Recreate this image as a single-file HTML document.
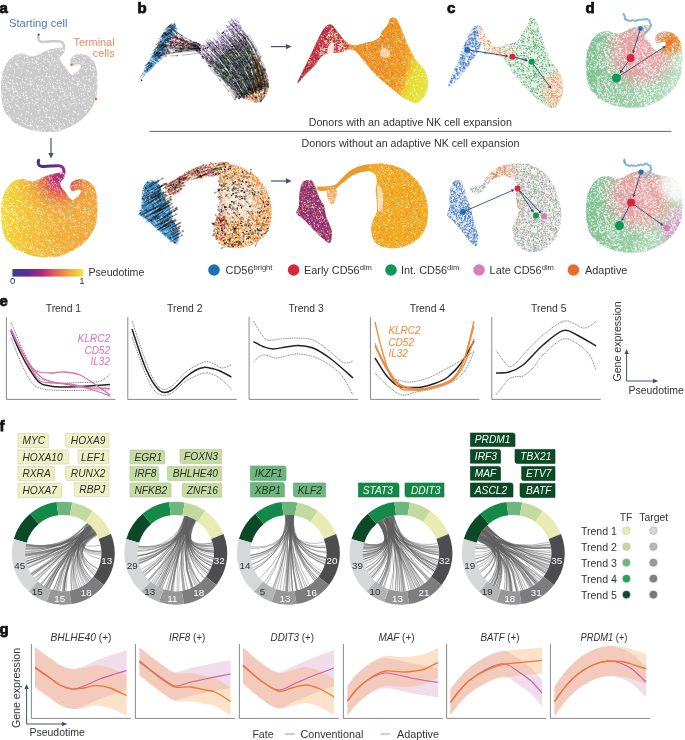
<!DOCTYPE html><html><head><meta charset="utf-8"><title>Figure</title><style>html,body{margin:0;padding:0;background:#fff;width:685px;height:740px;overflow:hidden}svg{display:block}</style></head><body><svg width="685" height="740" viewBox="0 0 685 740"><defs>
<pattern id="spk" width="47" height="41" patternUnits="userSpaceOnUse"><path d="M15.2,6.2h0M5.5,17.1h0M41.1,12.9h0M31.2,2.5h0M13.4,15.8h0M5.5,2.4h0M25.8,36.2h0M11,19.9h0M32.5,21.1h0M36.7,35.9h0M46,35.4h0M36.3,21.8h0M15.5,9.1h0M46.3,35h0M9.2,8.4h0M31,37.3h0M37.1,13.6h0M13.8,9.9h0M8.6,0.2h0M8.1,19.4h0M22.5,38.6h0M7.3,29.4h0M19.8,37.4h0M3.4,38.5h0M39.1,29h0M6.1,2.9h0M39.5,35.7h0M35.3,27h0M46.3,6.1h0M8.6,41.2h0" stroke="#fff" stroke-opacity="1" stroke-width="1.05" stroke-linecap="round" fill="none"/><path d="M3.4,22h0M38.4,7.4h0M30,15.3h0M31.4,31.3h0M27.9,23.8h0M39.5,38.7h0M6.1,10.2h0M41,3.3h0M40.6,11.4h0M12.3,0.2h0M11.9,14.2h0M25.5,1.1h0M32.5,39.2h0M42.3,34.5h0M45.7,16.2h0M45.6,26.6h0M42.8,14.5h0M27.4,37.1h0M43.1,20.6h0M24.6,0.8h0M26.2,13.4h0M36.3,20.8h0M35.7,37.4h0M28.8,20.7h0M32.6,18.5h0M6.4,5h0M10.3,39.1h0M7.6,17.7h0M33.9,0.8h0M2.7,28.2h0M3.1,35.4h0M12.6,5.3h0M38.5,17.7h0M39.2,16.1h0M21.6,6.5h0M17.9,19.5h0M12.4,3.7h0M10.9,24h0M12.3,41.2h0" stroke="#fff" stroke-opacity="1" stroke-width="0.9" stroke-linecap="round" fill="none"/><path d="M2.7,20.8h0M20.4,2.9h0M7.1,20h0M18.4,16.4h0M29.8,2.6h0M4.8,14.9h0M21.9,19.8h0M39,6.6h0M24.3,14.6h0M30.7,32.8h0M25.8,5.4h0M26.1,32.2h0M3.4,9.9h0M29.3,21h0M4.9,10.9h0M26.8,28.7h0M0.9,10.3h0M22.3,38.3h0M19,14.2h0M12,6.7h0M14.5,14.6h0M9.4,20.7h0" stroke="#fff" stroke-opacity="1" stroke-width="0.6" stroke-linecap="round" fill="none"/><path d="M20,33.9h0M2.2,35.2h0M6.8,4.8h0M3,2.4h0M32,17.5h0M27.5,18.6h0M37.3,28.7h0M1.1,18.9h0M7.1,7.2h0M9.8,6.7h0M2.5,0h0M41.1,25.2h0M4.8,14h0M44.7,21.7h0M12.3,15h0M38.5,30.3h0M1.3,11.5h0M17.1,9h0M35.3,19.6h0M44.5,29.7h0M46.1,26.9h0M38.8,8.7h0M12.2,17.2h0M26.3,10.2h0M41.2,38.6h0M15.9,8h0M20.7,0.7h0M36.6,11.1h0M11.2,4.5h0M2.4,8.3h0M14.3,31.1h0M23.5,7.3h0M34.5,22.6h0M32.3,40.3h0M13.3,9.9h0M2,0.9h0M41.3,16h0M2.5,41h0" stroke="#fff" stroke-opacity="1" stroke-width="0.75" stroke-linecap="round" fill="none"/><path d="M10.5,25.7h0M27.1,16.3h0M27,21.5h0M34.3,11.8h0M30.4,40.7h0M16.9,36.3h0M17.4,23.2h0M31.8,2.2h0M5.8,34.8h0M44,40.5h0M6,6.2h0M37.9,6h0M43.9,17.8h0M26.3,38.7h0M31.5,32.1h0M6.7,36.2h0M22.9,40.6h0M46.3,32.3h0M12.2,6.1h0M37.7,3.4h0M15.9,22.7h0M12.4,39.4h0M25.7,10h0M30.2,1.8h0M30.4,-0.3h0M44,-0.5h0M22.9,-0.4h0" stroke="#fff" stroke-opacity="1" stroke-width="1.2" stroke-linecap="round" fill="none"/></pattern>
<pattern id="pmix_purp" width="27" height="24" patternUnits="userSpaceOnUse"><path d="M24.1,15.1h0M2.8,20.1h0M16.9,15h0M17.8,1.6h0M19.7,4.9h0M12.9,16.4h0M4,6.1h0M1.6,6.5h0M25.5,5.1h0M19.8,10.8h0M9.3,7.1h0M26.4,6.2h0M3.4,12.1h0M0.6,0.8h0M24.2,11.4h0M19.5,15.5h0M6.8,15.3h0M12.4,23h0M6.7,23.1h0M6.2,5.3h0M20.2,0.8h0M16.7,6.3h0M20.4,22h0M8.6,8.7h0M2.1,4.7h0M11.3,14.9h0M20.2,20.3h0M15.3,9h0M4.1,21.2h0M6.9,14.4h0M5.5,19.1h0M9.8,4.7h0M0.4,13.2h0M24.6,2.1h0M1.1,13.5h0M16.2,13.2h0M8.3,10.1h0M11.8,0.6h0M13.2,5.6h0M13.8,1h0M2.2,17.6h0M23.1,23.9h0M1.8,8.4h0M2.8,23.8h0M6.1,14h0M4,2.3h0M7.1,0.3h0M15.2,8.4h0M12,22.5h0M24,18.8h0M0.2,20.3h0M1,8.1h0M18.8,20.3h0M17,16.6h0M27.6,0.8h0M27.4,13.2h0M11.8,24.6h0M23.1,-0.1h0M2.8,-0.2h0M7.1,24.3h0M27.2,20.3h0" stroke="#5b3a9a" stroke-opacity="1" stroke-width="1.2" stroke-linecap="round" fill="none"/><path d="M21.9,3.3h0M0.8,3.2h0M20.2,12.1h0M26.3,11.9h0M13.9,11.2h0M3.6,19.7h0M0.1,11.8h0M8.2,3.4h0M7.8,8.9h0M27,14.1h0M13.8,4.6h0M25,3.1h0M8.1,13.4h0M24.5,23.9h0M20.2,9.9h0M14.2,9h0M6.7,9.6h0M3,1.7h0M16.2,0.3h0M8.3,0.5h0M0.9,8.1h0M8,22.8h0M5.1,5.4h0M10.2,9h0M26,5h0M22.2,19.7h0M1.3,11.4h0M24.8,4.6h0M24.2,0.7h0M10.4,6h0M20.9,14.6h0M2.3,2.3h0M3.3,20.2h0M24.7,1h0M15.7,22.3h0M5.5,0.3h0M18.3,4.4h0M1.7,2.4h0M4.4,16.7h0M8.4,13.6h0M11.4,19.7h0M25.5,23.4h0M1.4,22.2h0M4.9,5.2h0M11.5,15.8h0M11.6,2.2h0M13.8,1.3h0M22,3.4h0M21.2,2.8h0M26.7,13.9h0M15.8,15.9h0M16.6,10.4h0M9.6,2.6h0M5.5,15h0M23.5,18.8h0M5.4,14.6h0M12.6,17.8h0M7.2,13.3h0M27.1,11.8h0M-0,14.1h0M24.5,-0.1h0M16.2,24.3h0M8.3,24.5h0M5.5,24.3h0M-0.3,13.9h0" stroke="#5b3a9a" stroke-opacity="1" stroke-width="1.05" stroke-linecap="round" fill="none"/><path d="M13.6,20h0M22.3,14h0M13.2,0.1h0M12.4,19.7h0M3.8,12.6h0M25,17.1h0M25.8,21.2h0M17,21.9h0M7,13.7h0M1.7,6.7h0M25.8,20.4h0M0,9.4h0M22.3,20.5h0M14.1,16.4h0M21.1,5.6h0M18.4,4.8h0M26.2,7.5h0M10.6,5.1h0M10.6,21.6h0M19.8,23.9h0M8.9,4.5h0M0.9,1.5h0M6.9,17.9h0M9.2,6.5h0M12.8,23h0M21.7,17.7h0M14.9,7.8h0M8.8,9.5h0M13.7,5.6h0M12.8,19.7h0M3.2,4.5h0M7.6,7.4h0M11.2,20.7h0M5.5,0.1h0M7.6,12.5h0M2.9,11.8h0M24.4,14.9h0M10.9,20.3h0M6.7,17.4h0M22,4.6h0M13.3,23h0M4.5,18.9h0M4.9,3.9h0M17.2,8.6h0M15,13.9h0M20.1,1.2h0M6.8,15.3h0M6.4,17.9h0M20.1,7.8h0M8.9,5.7h0M26.4,11.3h0M13.2,24.1h0M27,9.4h0M19.8,-0.1h0M5.5,24.1h0M-0.6,11.3h0" stroke="#5b3a9a" stroke-opacity="1" stroke-width="1.35" stroke-linecap="round" fill="none"/><path d="M18.4,16.6h0M6.8,1.8h0M16.7,15.4h0M18.7,16.2h0M3.2,21.4h0M12.1,6.4h0M23.9,16.9h0M20.3,20.1h0M11.6,6.6h0M2.7,20h0M25.3,6h0M14.8,17.3h0M17.4,6.9h0M4.5,3.9h0M24.5,11.9h0M3.8,4.6h0M9.2,2.2h0M23.3,5.2h0M6.7,2.6h0M17.4,7.3h0M15.7,9.3h0M23.9,11.4h0M18.2,10.1h0M18,22.2h0M20,12.1h0M18,22.8h0M3.8,1.2h0M4.6,0.1h0M9.5,22.9h0M25.5,0.6h0M13.3,22.3h0M23.9,23.7h0M19.2,10.7h0M5.4,5.9h0M17.6,23.8h0M23.4,10.8h0M21,22.7h0M16.1,14.9h0M10,3.4h0M14.9,15.3h0M23.8,11.1h0M10,12.1h0M26.1,4.7h0M4.3,18.9h0M14,9.2h0M1,20.1h0M21.1,11h0M12.8,2.6h0M10.2,22.8h0M4.3,21.5h0M24.8,5h0M18.4,21.5h0M10.6,19.1h0M20.6,10.6h0M0,0.8h0M24.2,3.2h0M3.6,22.5h0M6.7,21.7h0M14.4,9.7h0M14.9,22.6h0M17.3,19.5h0M8.4,7.2h0M6.1,2.5h0M21.3,12.6h0M17.3,23.2h0M23.8,0.4h0M4.6,24.1h0M23.9,-0.3h0M17.6,-0.2h0M27,0.8h0M23.8,24.4h0" stroke="#5b3a9a" stroke-opacity="1" stroke-width="0.9" stroke-linecap="round" fill="none"/><path d="M8.2,13.6h0M26.4,22.5h0M24.2,11.7h0M8.5,20.2h0M12.3,13.2h0M21.9,18.4h0M8.5,6.6h0M6.7,1.6h0M13.7,7.7h0M17.6,0.5h0M1.6,18.7h0" stroke="#5b3a9a" stroke-opacity="1" stroke-width="0.75" stroke-linecap="round" fill="none"/></pattern>
<pattern id="pmix_or" width="27" height="24" patternUnits="userSpaceOnUse"><path d="M18.8,20.6h0M19.6,13.7h0M2.9,22.3h0M5.5,7.7h0M19.3,8.8h0M16.7,0.7h0M11.8,18.6h0M5,11.9h0M21.2,15.1h0M6.3,11.1h0M15.6,3h0M21.5,17.6h0M13.5,15.2h0M3.8,14.5h0M20,21.8h0M15.5,18h0M18.3,15.4h0M17,6h0M12.3,14.9h0M17.7,18.7h0M5.7,16.4h0M10.8,0.3h0M11.4,16.8h0M6.1,23.1h0M3.4,20h0M23,6.4h0M6.6,7.2h0M14.3,17.8h0M6.3,3.3h0M13.3,12h0M22.7,9h0M18.4,22.4h0M26.5,12.3h0M9.9,11.4h0M20.8,5.1h0M7.9,19.9h0M13.6,6.5h0M8.9,7.6h0M14.7,1.2h0M24.7,15.7h0M7,7.2h0M15.5,22h0M25.3,23.5h0M17,17h0M9.9,13.8h0M19,19.9h0M16.2,7.4h0M18.5,21.9h0M10.8,24.3h0M-0.5,12.3h0M25.3,-0.5h0" stroke="#f2a23a" stroke-opacity="1" stroke-width="1.05" stroke-linecap="round" fill="none"/><path d="M5.7,14.9h0M24.7,22.7h0M22.3,15.2h0M0.6,6.2h0M19,12.9h0M4.6,0h0M9.4,7.8h0M23.9,5.7h0M4.2,3.7h0M8.8,12.5h0M5.3,15.3h0M8.5,15.1h0M18.2,22.3h0M25.4,12.5h0M9.6,1.4h0M25.4,12.6h0M21.6,9.4h0M6.8,10.2h0M0.1,17.3h0M25.7,15.7h0M2.7,3.4h0M21,8.3h0M24.4,19h0M23.8,13.3h0M1.6,11.2h0M12.4,18.3h0M0.1,16.4h0M6.5,17.6h0M23.1,17.5h0M17.6,19.6h0M8.4,17.5h0M23.2,11.7h0M7.6,0h0M4.6,24h0M27.1,17.3h0M27.1,16.4h0M7.6,24h0" stroke="#f2a23a" stroke-opacity="1" stroke-width="0.9" stroke-linecap="round" fill="none"/><path d="M24.6,3.5h0M3.8,0.7h0M5.6,2.7h0M20.6,23.5h0M2.3,21.3h0M5.6,9.3h0M13.2,23.4h0M17.1,0.4h0M5.7,3.6h0M19.4,0.3h0M17.1,24.4h0M19.4,24.3h0" stroke="#f2a23a" stroke-opacity="1" stroke-width="0.75" stroke-linecap="round" fill="none"/><path d="M18.7,15.2h0M19.9,1.6h0M22.9,19.5h0M2.7,2.3h0M7.7,5.2h0M13.5,2.6h0M2.2,18.9h0M20.4,18.1h0M22.8,15.9h0M4.6,10.5h0M10.8,19h0M11.3,18.8h0M14.7,3.9h0M15.5,13h0M7.2,5.4h0M17.1,11.3h0M12.6,7.1h0M11.6,15.3h0M24.1,14.6h0M18,21.5h0M22.6,4.7h0M12.6,13.5h0M25.9,1.8h0M17.2,0.7h0M24.2,0.8h0M15.8,15.2h0M16.4,15.8h0M24.6,14.7h0M16.9,16.7h0M18.4,5.1h0M4.9,0.9h0M22.2,18.9h0M8.6,10.3h0M25.2,1.3h0M0.4,9.3h0M11.1,2.4h0M3.5,0.4h0M1.4,18.6h0M9.8,15.5h0M11.3,9.3h0M25.5,18.8h0M24,9h0M21.9,20.8h0M6.3,14.6h0M27.4,9.3h0M3.5,24.4h0" stroke="#f2a23a" stroke-opacity="1" stroke-width="1.2" stroke-linecap="round" fill="none"/><path d="M9.8,19.6h0M24.1,1.6h0M26,12.1h0M23.3,2.2h0M13.3,11.8h0M22.5,6.3h0M10.8,9.5h0M5.6,6.3h0M13.5,9.1h0M8.1,16.9h0M8.9,4.5h0M19.7,2.4h0M2.7,9.2h0M6.2,17.3h0M20.9,16.8h0M13.8,15.3h0M14.1,9.8h0M20.6,2.9h0M3.5,18.6h0M17.2,19.6h0M9.8,22.3h0M1.5,19.9h0M21.2,3.4h0M23.3,0.2h0M16.9,8.1h0M11.4,13.3h0M26.3,15.7h0M1.1,17.3h0M0.2,4.6h0M1.1,2.9h0M26.1,2.1h0M25.2,6.1h0M18.3,3.5h0M7.9,1.5h0M16.4,23.5h0M16.2,21.5h0M11.4,14.1h0M24,1h0M7.4,20.4h0M2.3,13.3h0M5.4,18h0M23.3,24.2h0M27.2,4.6h0M16.4,-0.5h0" stroke="#f2a23a" stroke-opacity="1" stroke-width="1.35" stroke-linecap="round" fill="none"/></pattern>
<pattern id="pmix_red" width="27" height="24" patternUnits="userSpaceOnUse"><path d="M12.6,5h0M15.9,4.5h0M13.1,13.6h0M6.9,0.9h0M4.9,2h0M25.6,21.8h0M16.1,9.5h0M10.6,10.8h0M26.1,23.8h0M17.5,23.7h0M4.6,5.7h0M3.9,5.3h0M19.3,13.3h0M8.6,21.7h0M7.7,6.2h0M25,2.3h0M21.8,8.2h0M5.9,13.7h0M5.3,1.9h0M16.4,11.9h0M21.9,14h0M12.9,20.9h0M6,4.4h0M2.6,16.8h0M14.1,16.9h0M23.5,17.2h0M21,8.1h0M25.9,22.4h0M13.6,0.5h0M7.2,16.3h0M25.8,12.3h0M12.6,12.8h0M11,6.9h0M8.4,5.8h0M20.8,3.8h0M23.5,10.6h0M13.5,10.7h0M24.6,0.3h0M22.3,12.3h0M13.6,4.5h0M26.8,15.3h0M2.9,2.4h0M9.6,4.1h0M26.1,-0.2h0M17.5,-0.3h0M24.6,24.3h0M-0.2,15.3h0" stroke="#c7274f" stroke-opacity="1" stroke-width="0.9" stroke-linecap="round" fill="none"/><path d="M20.3,19h0M23.9,12.5h0M4.9,16.8h0M15.2,9.7h0M15,20.9h0M1,6.1h0M20.5,2.5h0M6.9,3h0M24,3.4h0M17,10.9h0M23.5,6.4h0M9,4h0M18,5.1h0M0.1,20h0M1.8,17.6h0M5,20h0M0.1,12.5h0M22,20.8h0M13.4,12.3h0M3.3,11.8h0M7.5,2.9h0M22.9,1.3h0M11.4,15.2h0M14.3,1.7h0M6.8,12.5h0M25.7,6.9h0M3.3,3.2h0M5.4,17h0M14.8,14.7h0M6.4,13.4h0M7.7,23.7h0M19.9,3.7h0M22.9,19.7h0M16.4,9.1h0M12.4,17.4h0M10.5,13.3h0M25.9,4.9h0M14.2,2.4h0M23.8,23.1h0M26.7,21.3h0M4.2,7h0M17,14.5h0M11.1,18.9h0M18.6,0.1h0M7.2,15.5h0M26.9,13.8h0M9.4,10.8h0M27.1,20h0M27.1,12.5h0M7.7,-0.3h0M-0.3,21.3h0M18.6,24.1h0M-0.1,13.8h0" stroke="#c7274f" stroke-opacity="1" stroke-width="1.05" stroke-linecap="round" fill="none"/><path d="M2.4,19.4h0M10.1,2.5h0M21.3,3.7h0M25.9,6.2h0M17.3,23h0M1.3,18.9h0M18.3,7.2h0M18.3,0.3h0M22.2,11.5h0M24.2,1.4h0M4.9,18.5h0M5.6,14.7h0M4.4,8.9h0M13.9,2.9h0M19.2,9.2h0M0.5,14.4h0M4,13.7h0M23.9,0.8h0M14.6,22.2h0M17.5,2.9h0M16.5,13.7h0M13.8,9.2h0M10.5,10.6h0M9.5,16.2h0M19.9,17.8h0M12.8,18.8h0M0.1,18.4h0M13.4,23.1h0M8.2,3.5h0M14,12.4h0M10.5,8.6h0M9.5,22.7h0M10.8,13.5h0M22.7,14.1h0M5.3,11.9h0M3.3,3.8h0M14.1,19.8h0M20.8,7.7h0M2.7,21.7h0M1.5,21.4h0M25.9,10.6h0M18.3,24.3h0M27.5,14.4h0M27.1,18.4h0" stroke="#c7274f" stroke-opacity="1" stroke-width="1.2" stroke-linecap="round" fill="none"/><path d="M6.3,13.9h0M4,1.1h0M0.9,23.8h0M21,10.2h0M20.7,19.7h0M24.4,21.7h0M3.9,18.1h0M5.3,0.9h0M6,22.4h0M2.6,22.3h0M4.2,6.5h0M26.4,1.4h0M9.8,23.8h0M5,10.4h0M19.5,1.3h0M9.1,20.2h0M13.3,0.4h0M1.7,20.9h0M14.5,0.5h0M3.7,14.2h0M4.4,19.8h0M10.5,10.1h0M14.2,9.5h0M9,10.5h0M21.7,21.9h0M26.2,18.6h0M17.1,19.4h0M2.4,13.1h0M0.3,8.5h0M2.9,5.4h0M24.7,3.1h0M11.3,18.8h0M8.7,18.9h0M15.7,2.1h0M8.7,20.2h0M15.3,11.9h0M20.9,12.9h0M11.9,15h0M9.3,12.7h0M4.6,7.6h0M24.2,16.6h0M0.9,-0.2h0M-0.6,1.4h0M9.8,-0.2h0M13.3,24.4h0M14.5,24.5h0M27.3,8.5h0" stroke="#c7274f" stroke-opacity="1" stroke-width="1.35" stroke-linecap="round" fill="none"/><path d="M9.3,12.5h0M7.9,23.5h0M6.8,19.6h0M21.8,1.5h0" stroke="#c7274f" stroke-opacity="1" stroke-width="0.75" stroke-linecap="round" fill="none"/></pattern>
<linearGradient id="cbar" x1="0" x2="1" y1="0" y2="0">
<stop offset="0" stop-color="#3a3f96"/><stop offset="0.2" stop-color="#5a2d8e"/><stop offset="0.42" stop-color="#b0287c"/><stop offset="0.6" stop-color="#e0605a"/><stop offset="0.8" stop-color="#f4a33a"/><stop offset="1" stop-color="#eee83a"/></linearGradient>
<linearGradient id="aLin" x1="2" x2="98" y1="0" y2="0" gradientUnits="userSpaceOnUse">
<stop offset="0" stop-color="#f1d83e"/><stop offset="0.3" stop-color="#f4c034"/><stop offset="0.6" stop-color="#f3ae36"/><stop offset="1" stop-color="#f2a73a"/></linearGradient>
<radialGradient id="aGrad" cx="60" cy="177" r="44" gradientUnits="userSpaceOnUse">
<stop offset="0" stop-color="#a42a82"/><stop offset="0.18" stop-color="#c43e74"/><stop offset="0.42" stop-color="#e2684f" stop-opacity="0.85"/><stop offset="0.72" stop-color="#f0963e" stop-opacity="0.4"/><stop offset="1" stop-color="#f0963e" stop-opacity="0"/></radialGradient>
<linearGradient id="aTail" x1="38" x2="65" y1="0" y2="0" gradientUnits="userSpaceOnUse">
<stop offset="0" stop-color="#3b338f"/><stop offset="0.6" stop-color="#5c2a8f"/><stop offset="1" stop-color="#a02882"/></linearGradient>
<linearGradient id="bGradT" x1="380" y1="50" x2="428" y2="67" gradientUnits="userSpaceOnUse">
<stop offset="0" stop-color="#f09c26"/><stop offset="0.6" stop-color="#f2a626"/><stop offset="0.7" stop-color="#eec832"/><stop offset="0.8" stop-color="#e6de38"/><stop offset="1" stop-color="#e4e23c"/></linearGradient>
</defs>
<text x="-0.5" y="13" style="font-family:'Liberation Sans',Arial,sans-serif;font-weight:bold;font-size:15px" fill="#111" stroke="#111" stroke-width="0.75">a</text>
<text x="137.5" y="13" style="font-family:'Liberation Sans',Arial,sans-serif;font-weight:bold;font-size:15px" fill="#111" stroke="#111" stroke-width="0.75">b</text>
<text x="447" y="13" style="font-family:'Liberation Sans',Arial,sans-serif;font-weight:bold;font-size:15px" fill="#111" stroke="#111" stroke-width="0.75">c</text>
<text x="585.5" y="13" style="font-family:'Liberation Sans',Arial,sans-serif;font-weight:bold;font-size:15px" fill="#111" stroke="#111" stroke-width="0.75">d</text>
<text x="-0.5" y="305.5" style="font-family:'Liberation Sans',Arial,sans-serif;font-weight:bold;font-size:15px" fill="#111" stroke="#111" stroke-width="0.75">e</text>
<text x="-0.5" y="430.5" style="font-family:'Liberation Sans',Arial,sans-serif;font-weight:bold;font-size:15px" fill="#111" stroke="#111" stroke-width="0.75">f</text>
<text x="-0.5" y="634" style="font-family:'Liberation Sans',Arial,sans-serif;font-weight:bold;font-size:15px" fill="#111" stroke="#111" stroke-width="0.75">g</text>
<path d="M38.7,35.6C38.6,36 38.1,37.4 38.2,38.2C38.3,39.1 38.5,40.1 39.2,40.7C39.9,41.3 40.4,41.9 42.3,42C44.2,42.1 47.7,41.5 50.4,41.4C53.1,41.3 56.6,41.1 58.6,41.2C60.6,41.4 61.4,41.7 62.2,42.3C63.1,42.9 63.4,43.8 63.7,44.8C64,45.8 64,47.9 64,48.5" fill="none" stroke="#cbcbcb" stroke-width="2.6" stroke-linecap="round"/>
<path d="M61,47.5C59.5,47.5 57.3,48 55.5,48.3C53.7,48.6 51.8,48.7 50,49.2C48.2,49.7 46.7,50.4 45,51.2C43.3,52 41.7,53 40,53.8C38.3,54.6 36.5,55.6 35,56C33.5,56.4 32.3,56.3 30.7,56C29.1,55.7 27,54.6 25.5,54.2C24,53.8 23.7,53.2 21.9,53.4C20.1,53.6 16.8,54.1 14.6,55.3C12.4,56.5 10.5,58.3 8.8,60.4C7.1,62.5 5.6,64.8 4.4,67.7C3.2,70.6 2.1,74 1.6,78C1.1,82 1.1,87.5 1.2,91.7C1.3,95.9 1.4,99.8 2.2,103.4C3,107.1 4.3,111 5.8,113.6C7.3,116.1 9.9,117.4 11,118.7C12.1,120 11.1,120.5 12.4,121.6C13.7,122.7 16.2,124 19,125.3C21.8,126.6 25.6,128.5 29.2,129.6C32.9,130.7 37.2,131.4 40.9,131.8C44.5,132.2 47.7,132 51.1,131.8C54.5,131.6 57.6,131.5 61.3,130.4C65,129.3 69.6,127.1 73,125.3C76.4,123.5 79.1,121.6 81.8,119.4C84.5,117.2 87.1,114.5 89,112.1C90.9,109.7 92.2,107.2 93.4,104.8C94.6,102.4 95.8,100.2 96.4,97.5C97,94.8 97,91.7 97.2,88.8C97.4,85.9 97.4,82.7 97.4,80C97.4,77.3 97.3,75.5 97,72.9C96.7,70.4 96.2,66.9 95.4,64.7C94.6,62.5 93.7,61.1 92.3,59.6C90.9,58.1 89.1,56.4 87.2,55.5C85.3,54.6 83.1,54.1 81.1,54C79.1,53.9 76.6,54.4 75,55C73.4,55.6 72.3,56.5 71.5,57.5C70.7,58.5 70.5,59.7 70.3,60.7C70.1,61.7 70.3,62.9 70.6,63.7C70.9,64.5 71.3,65.5 72,65.8C72.7,66.1 74,65.6 75,65.3C76,65 77,64.2 78,64.2C79,64.2 80.7,64.7 81,65.5C81.3,66.3 80.7,67.7 80,68.8C79.3,69.9 77.9,71 77,71.9C76.1,72.8 75.2,73.5 74.5,74C73.8,74.5 73.2,75.1 72.5,75C71.8,74.9 71.2,74.1 70.4,73.4C69.6,72.7 68.7,72 67.8,70.9C66.9,69.8 66.1,68 65.3,66.8C64.5,65.6 63.5,64.7 62.7,63.7C61.9,62.7 61.1,61.6 60.7,60.7C60.3,59.8 59.9,59 60.1,58.1C60.3,57.2 61,56.4 61.7,55.5C62.4,54.6 63.7,53.7 64.2,52.5C64.7,51.3 65.2,49.2 64.7,48.4C64.2,47.6 62.5,47.5 61,47.5Z" fill="#cbcbcb"/>
<path d="M61,47.5C59.5,47.5 57.3,48 55.5,48.3C53.7,48.6 51.8,48.7 50,49.2C48.2,49.7 46.7,50.4 45,51.2C43.3,52 41.7,53 40,53.8C38.3,54.6 36.5,55.6 35,56C33.5,56.4 32.3,56.3 30.7,56C29.1,55.7 27,54.6 25.5,54.2C24,53.8 23.7,53.2 21.9,53.4C20.1,53.6 16.8,54.1 14.6,55.3C12.4,56.5 10.5,58.3 8.8,60.4C7.1,62.5 5.6,64.8 4.4,67.7C3.2,70.6 2.1,74 1.6,78C1.1,82 1.1,87.5 1.2,91.7C1.3,95.9 1.4,99.8 2.2,103.4C3,107.1 4.3,111 5.8,113.6C7.3,116.1 9.9,117.4 11,118.7C12.1,120 11.1,120.5 12.4,121.6C13.7,122.7 16.2,124 19,125.3C21.8,126.6 25.6,128.5 29.2,129.6C32.9,130.7 37.2,131.4 40.9,131.8C44.5,132.2 47.7,132 51.1,131.8C54.5,131.6 57.6,131.5 61.3,130.4C65,129.3 69.6,127.1 73,125.3C76.4,123.5 79.1,121.6 81.8,119.4C84.5,117.2 87.1,114.5 89,112.1C90.9,109.7 92.2,107.2 93.4,104.8C94.6,102.4 95.8,100.2 96.4,97.5C97,94.8 97,91.7 97.2,88.8C97.4,85.9 97.4,82.7 97.4,80C97.4,77.3 97.3,75.5 97,72.9C96.7,70.4 96.2,66.9 95.4,64.7C94.6,62.5 93.7,61.1 92.3,59.6C90.9,58.1 89.1,56.4 87.2,55.5C85.3,54.6 83.1,54.1 81.1,54C79.1,53.9 76.6,54.4 75,55C73.4,55.6 72.3,56.5 71.5,57.5C70.7,58.5 70.5,59.7 70.3,60.7C70.1,61.7 70.3,62.9 70.6,63.7C70.9,64.5 71.3,65.5 72,65.8C72.7,66.1 74,65.6 75,65.3C76,65 77,64.2 78,64.2C79,64.2 80.7,64.7 81,65.5C81.3,66.3 80.7,67.7 80,68.8C79.3,69.9 77.9,71 77,71.9C76.1,72.8 75.2,73.5 74.5,74C73.8,74.5 73.2,75.1 72.5,75C71.8,74.9 71.2,74.1 70.4,73.4C69.6,72.7 68.7,72 67.8,70.9C66.9,69.8 66.1,68 65.3,66.8C64.5,65.6 63.5,64.7 62.7,63.7C61.9,62.7 61.1,61.6 60.7,60.7C60.3,59.8 59.9,59 60.1,58.1C60.3,57.2 61,56.4 61.7,55.5C62.4,54.6 63.7,53.7 64.2,52.5C64.7,51.3 65.2,49.2 64.7,48.4C64.2,47.6 62.5,47.5 61,47.5Z" fill="url(#spk)"/>
<g transform="translate(11,7)"><path d="M50,40.5C48.5,40.5 46.3,41 44.5,41.3C42.7,41.6 40.8,41.7 39,42.2C37.2,42.7 35.7,43.4 34,44.2C32.3,45 30.7,46 29,46.8C27.3,47.6 25.6,48.6 24,49C22.4,49.4 21.3,49.3 19.7,49C18.1,48.7 16,47.6 14.5,47.2C13,46.8 12.7,46.2 10.9,46.4C9.1,46.6 5.8,47.1 3.6,48.3C1.4,49.5 -0.5,51.3 -2.2,53.4C-3.9,55.5 -5.4,57.8 -6.6,60.7C-7.8,63.6 -8.9,67 -9.4,71C-9.9,75 -9.9,80.5 -9.8,84.7C-9.7,88.9 -9.6,92.8 -8.8,96.4C-8,100.1 -6.7,104 -5.2,106.6C-3.7,109.1 -1.1,110.4 0,111.7C1.1,113 0.1,113.5 1.4,114.6C2.7,115.7 5.2,117 8,118.3C10.8,119.6 14.5,121.5 18.2,122.6C21.8,123.7 26.2,124.4 29.9,124.8C33.5,125.2 36.7,125 40.1,124.8C43.5,124.6 46.6,124.5 50.3,123.4C53.9,122.3 58.6,120.1 62,118.3C65.4,116.5 68.1,114.6 70.8,112.4C73.5,110.2 76.1,107.5 78,105.1C79.9,102.7 81.2,100.2 82.4,97.8C83.6,95.4 84.8,93.2 85.4,90.5C86,87.8 86,84.7 86.2,81.8C86.4,78.9 86.4,75.7 86.4,73C86.4,70.3 86.3,68.5 86,65.9C85.7,63.4 85.2,59.9 84.4,57.7C83.6,55.5 82.7,54.1 81.3,52.6C79.9,51.1 78.1,49.4 76.2,48.5C74.3,47.6 72.1,47.1 70.1,47C68.1,46.9 65.6,47.4 64,48C62.4,48.6 61.3,49.5 60.5,50.5C59.7,51.5 59.4,52.7 59.3,53.7C59.1,54.7 59.3,55.9 59.6,56.7C59.9,57.6 60.3,58.5 61,58.8C61.7,59.1 63,58.6 64,58.3C65,58 66,57.2 67,57.2C68,57.2 69.7,57.7 70,58.5C70.3,59.3 69.7,60.7 69,61.8C68.3,62.9 66.9,64 66,64.9C65.1,65.8 64.2,66.5 63.5,67C62.8,67.5 62.2,68.1 61.5,68C60.8,67.9 60.2,67.1 59.4,66.4C58.6,65.7 57.6,65 56.8,63.9C55.9,62.8 55.1,61 54.3,59.8C53.4,58.6 52.5,57.7 51.7,56.7C50.9,55.7 50.1,54.6 49.7,53.7C49.3,52.8 48.9,52 49.1,51.1C49.3,50.2 50,49.4 50.7,48.5C51.4,47.6 52.7,46.7 53.2,45.5C53.7,44.3 54.2,42.2 53.7,41.4C53.2,40.6 51.5,40.5 50,40.5Z" fill="url(#spk)"/></g>
<text x="9" y="26.9" style="font-family:'Liberation Sans',Arial,sans-serif;font-size:11.2px" fill="#4a78b8">Starting cell</text>
<circle cx="38.6" cy="34.6" r="1.1" fill="#2f5fa8"/>
<text x="114.6" y="45.8" text-anchor="end" style="font-family:'Liberation Sans',Arial,sans-serif;font-size:10.9px" fill="#ea8a5e">Terminal</text>
<text x="114.6" y="57.3" text-anchor="end" style="font-family:'Liberation Sans',Arial,sans-serif;font-size:10.9px" fill="#ea8a5e">cells</text>
<circle cx="71.5" cy="64.8" r="1.2" fill="#e8632f"/><circle cx="96" cy="99" r="1.2" fill="#e8632f"/>
<line x1="51" y1="138" x2="51" y2="154" stroke="#3e5473" stroke-width="1.2"/><path d="M48.3,153 L51,158.5 L53.7,153 Z" fill="#3e5473"/>
<path d="M38.7,160.2C38.6,160.6 38.1,162 38.2,162.8C38.3,163.7 38.5,164.7 39.2,165.3C39.9,165.9 40.4,166.5 42.3,166.6C44.2,166.7 47.7,166.1 50.4,166C53.1,165.9 56.6,165.7 58.6,165.8C60.6,166 61.4,166.3 62.2,166.9C63.1,167.5 63.4,168.4 63.7,169.4C64,170.4 64,172.5 64,173.1" fill="none" stroke="url(#aTail)" stroke-width="3" stroke-linecap="round"/>
<path d="M61,172.8C59.5,172.8 57.3,173.3 55.5,173.6C53.7,173.9 51.8,174 50,174.5C48.2,175 46.7,175.7 45,176.5C43.3,177.3 41.7,178.3 40,179.1C38.3,179.9 36.5,180.9 35,181.3C33.5,181.7 32.3,181.6 30.7,181.3C29.1,181 27,179.9 25.5,179.5C24,179.1 23.7,178.5 21.9,178.7C20.1,178.9 16.8,179.4 14.6,180.6C12.4,181.8 10.5,183.6 8.8,185.7C7.1,187.8 5.6,190.1 4.4,193C3.2,195.9 2.1,199.3 1.6,203.3C1.1,207.3 1.1,212.8 1.2,217C1.3,221.2 1.4,225 2.2,228.7C3,232.3 4.3,236.3 5.8,238.9C7.3,241.4 9.9,242.7 11,244C12.1,245.3 11.1,245.8 12.4,246.9C13.7,248 16.2,249.3 19,250.6C21.8,251.9 25.6,253.8 29.2,254.9C32.9,256 37.2,256.7 40.9,257.1C44.5,257.5 47.7,257.3 51.1,257.1C54.5,256.9 57.6,256.8 61.3,255.7C65,254.6 69.6,252.4 73,250.6C76.4,248.8 79.1,246.9 81.8,244.7C84.5,242.5 87.1,239.8 89,237.4C90.9,235 92.2,232.5 93.4,230.1C94.6,227.7 95.8,225.5 96.4,222.8C97,220.1 97,217 97.2,214.1C97.4,211.2 97.4,208 97.4,205.3C97.4,202.7 97.3,200.8 97,198.2C96.7,195.6 96.2,192.2 95.4,190C94.6,187.8 93.7,186.4 92.3,184.9C90.9,183.4 89.1,181.7 87.2,180.8C85.3,179.9 83.1,179.4 81.1,179.3C79.1,179.2 76.6,179.7 75,180.3C73.4,180.9 72.3,181.9 71.5,182.8C70.7,183.8 70.5,185 70.3,186C70.1,187 70.3,188.2 70.6,189C70.9,189.8 71.3,190.8 72,191.1C72.7,191.4 74,190.9 75,190.6C76,190.3 77,189.5 78,189.5C79,189.5 80.7,190 81,190.8C81.3,191.6 80.7,193 80,194.1C79.3,195.2 77.9,196.3 77,197.2C76.1,198.1 75.2,198.8 74.5,199.3C73.8,199.8 73.2,200.4 72.5,200.3C71.8,200.2 71.2,199.4 70.4,198.7C69.6,198 68.7,197.3 67.8,196.2C66.9,195.1 66.1,193.3 65.3,192.1C64.5,190.9 63.5,190 62.7,189C61.9,188 61.1,186.9 60.7,186C60.3,185.1 59.9,184.3 60.1,183.4C60.3,182.5 61,181.7 61.7,180.8C62.4,179.9 63.7,179 64.2,177.8C64.7,176.6 65.2,174.5 64.7,173.7C64.2,172.9 62.5,172.8 61,172.8Z" fill="url(#aLin)"/>
<path d="M61,172.8C59.5,172.8 57.3,173.3 55.5,173.6C53.7,173.9 51.8,174 50,174.5C48.2,175 46.7,175.7 45,176.5C43.3,177.3 41.7,178.3 40,179.1C38.3,179.9 36.5,180.9 35,181.3C33.5,181.7 32.3,181.6 30.7,181.3C29.1,181 27,179.9 25.5,179.5C24,179.1 23.7,178.5 21.9,178.7C20.1,178.9 16.8,179.4 14.6,180.6C12.4,181.8 10.5,183.6 8.8,185.7C7.1,187.8 5.6,190.1 4.4,193C3.2,195.9 2.1,199.3 1.6,203.3C1.1,207.3 1.1,212.8 1.2,217C1.3,221.2 1.4,225 2.2,228.7C3,232.3 4.3,236.3 5.8,238.9C7.3,241.4 9.9,242.7 11,244C12.1,245.3 11.1,245.8 12.4,246.9C13.7,248 16.2,249.3 19,250.6C21.8,251.9 25.6,253.8 29.2,254.9C32.9,256 37.2,256.7 40.9,257.1C44.5,257.5 47.7,257.3 51.1,257.1C54.5,256.9 57.6,256.8 61.3,255.7C65,254.6 69.6,252.4 73,250.6C76.4,248.8 79.1,246.9 81.8,244.7C84.5,242.5 87.1,239.8 89,237.4C90.9,235 92.2,232.5 93.4,230.1C94.6,227.7 95.8,225.5 96.4,222.8C97,220.1 97,217 97.2,214.1C97.4,211.2 97.4,208 97.4,205.3C97.4,202.7 97.3,200.8 97,198.2C96.7,195.6 96.2,192.2 95.4,190C94.6,187.8 93.7,186.4 92.3,184.9C90.9,183.4 89.1,181.7 87.2,180.8C85.3,179.9 83.1,179.4 81.1,179.3C79.1,179.2 76.6,179.7 75,180.3C73.4,180.9 72.3,181.9 71.5,182.8C70.7,183.8 70.5,185 70.3,186C70.1,187 70.3,188.2 70.6,189C70.9,189.8 71.3,190.8 72,191.1C72.7,191.4 74,190.9 75,190.6C76,190.3 77,189.5 78,189.5C79,189.5 80.7,190 81,190.8C81.3,191.6 80.7,193 80,194.1C79.3,195.2 77.9,196.3 77,197.2C76.1,198.1 75.2,198.8 74.5,199.3C73.8,199.8 73.2,200.4 72.5,200.3C71.8,200.2 71.2,199.4 70.4,198.7C69.6,198 68.7,197.3 67.8,196.2C66.9,195.1 66.1,193.3 65.3,192.1C64.5,190.9 63.5,190 62.7,189C61.9,188 61.1,186.9 60.7,186C60.3,185.1 59.9,184.3 60.1,183.4C60.3,182.5 61,181.7 61.7,180.8C62.4,179.9 63.7,179 64.2,177.8C64.7,176.6 65.2,174.5 64.7,173.7C64.2,172.9 62.5,172.8 61,172.8Z" fill="url(#aGrad)"/>
<path d="M61,172.8C59.5,172.8 57.3,173.3 55.5,173.6C53.7,173.9 51.8,174 50,174.5C48.2,175 46.7,175.7 45,176.5C43.3,177.3 41.7,178.3 40,179.1C38.3,179.9 36.5,180.9 35,181.3C33.5,181.7 32.3,181.6 30.7,181.3C29.1,181 27,179.9 25.5,179.5C24,179.1 23.7,178.5 21.9,178.7C20.1,178.9 16.8,179.4 14.6,180.6C12.4,181.8 10.5,183.6 8.8,185.7C7.1,187.8 5.6,190.1 4.4,193C3.2,195.9 2.1,199.3 1.6,203.3C1.1,207.3 1.1,212.8 1.2,217C1.3,221.2 1.4,225 2.2,228.7C3,232.3 4.3,236.3 5.8,238.9C7.3,241.4 9.9,242.7 11,244C12.1,245.3 11.1,245.8 12.4,246.9C13.7,248 16.2,249.3 19,250.6C21.8,251.9 25.6,253.8 29.2,254.9C32.9,256 37.2,256.7 40.9,257.1C44.5,257.5 47.7,257.3 51.1,257.1C54.5,256.9 57.6,256.8 61.3,255.7C65,254.6 69.6,252.4 73,250.6C76.4,248.8 79.1,246.9 81.8,244.7C84.5,242.5 87.1,239.8 89,237.4C90.9,235 92.2,232.5 93.4,230.1C94.6,227.7 95.8,225.5 96.4,222.8C97,220.1 97,217 97.2,214.1C97.4,211.2 97.4,208 97.4,205.3C97.4,202.7 97.3,200.8 97,198.2C96.7,195.6 96.2,192.2 95.4,190C94.6,187.8 93.7,186.4 92.3,184.9C90.9,183.4 89.1,181.7 87.2,180.8C85.3,179.9 83.1,179.4 81.1,179.3C79.1,179.2 76.6,179.7 75,180.3C73.4,180.9 72.3,181.9 71.5,182.8C70.7,183.8 70.5,185 70.3,186C70.1,187 70.3,188.2 70.6,189C70.9,189.8 71.3,190.8 72,191.1C72.7,191.4 74,190.9 75,190.6C76,190.3 77,189.5 78,189.5C79,189.5 80.7,190 81,190.8C81.3,191.6 80.7,193 80,194.1C79.3,195.2 77.9,196.3 77,197.2C76.1,198.1 75.2,198.8 74.5,199.3C73.8,199.8 73.2,200.4 72.5,200.3C71.8,200.2 71.2,199.4 70.4,198.7C69.6,198 68.7,197.3 67.8,196.2C66.9,195.1 66.1,193.3 65.3,192.1C64.5,190.9 63.5,190 62.7,189C61.9,188 61.1,186.9 60.7,186C60.3,185.1 59.9,184.3 60.1,183.4C60.3,182.5 61,181.7 61.7,180.8C62.4,179.9 63.7,179 64.2,177.8C64.7,176.6 65.2,174.5 64.7,173.7C64.2,172.9 62.5,172.8 61,172.8Z" fill="url(#spk)"/>
<g transform="translate(11,7)"><path d="M50,165.8C48.5,165.8 46.3,166.3 44.5,166.6C42.7,166.9 40.8,167 39,167.5C37.2,168 35.7,168.7 34,169.5C32.3,170.3 30.7,171.3 29,172.1C27.3,172.9 25.6,173.9 24,174.3C22.4,174.7 21.3,174.6 19.7,174.3C18.1,174 16,172.9 14.5,172.5C13,172.1 12.7,171.5 10.9,171.7C9.1,171.9 5.8,172.4 3.6,173.6C1.4,174.8 -0.5,176.6 -2.2,178.7C-3.9,180.8 -5.4,183.1 -6.6,186C-7.8,188.9 -8.9,192.3 -9.4,196.3C-9.9,200.3 -9.9,205.8 -9.8,210C-9.7,214.2 -9.6,218 -8.8,221.7C-8,225.3 -6.7,229.3 -5.2,231.9C-3.7,234.4 -1.1,235.7 0,237C1.1,238.3 0.1,238.8 1.4,239.9C2.7,241 5.2,242.3 8,243.6C10.8,244.9 14.5,246.8 18.2,247.9C21.8,249 26.2,249.7 29.9,250.1C33.5,250.5 36.7,250.3 40.1,250.1C43.5,249.9 46.6,249.8 50.3,248.7C53.9,247.6 58.6,245.4 62,243.6C65.4,241.8 68.1,239.9 70.8,237.7C73.5,235.5 76.1,232.8 78,230.4C79.9,228 81.2,225.5 82.4,223.1C83.6,220.7 84.8,218.5 85.4,215.8C86,213.1 86,210 86.2,207.1C86.4,204.2 86.4,201 86.4,198.3C86.4,195.7 86.3,193.8 86,191.2C85.7,188.6 85.2,185.2 84.4,183C83.6,180.8 82.7,179.4 81.3,177.9C79.9,176.4 78.1,174.7 76.2,173.8C74.3,172.9 72.1,172.4 70.1,172.3C68.1,172.2 65.6,172.7 64,173.3C62.4,173.9 61.3,174.9 60.5,175.8C59.7,176.8 59.4,178 59.3,179C59.1,180 59.3,181.2 59.6,182C59.9,182.8 60.3,183.8 61,184.1C61.7,184.4 63,183.9 64,183.6C65,183.3 66,182.5 67,182.5C68,182.5 69.7,183 70,183.8C70.3,184.6 69.7,186 69,187.1C68.3,188.2 66.9,189.3 66,190.2C65.1,191.1 64.2,191.8 63.5,192.3C62.8,192.8 62.2,193.4 61.5,193.3C60.8,193.2 60.2,192.4 59.4,191.7C58.6,191 57.6,190.3 56.8,189.2C55.9,188.1 55.1,186.3 54.3,185.1C53.4,183.9 52.5,183 51.7,182C50.9,181 50.1,179.9 49.7,179C49.3,178.1 48.9,177.3 49.1,176.4C49.3,175.5 50,174.7 50.7,173.8C51.4,172.9 52.7,172 53.2,170.8C53.7,169.6 54.2,167.5 53.7,166.7C53.2,165.9 51.5,165.8 50,165.8Z" fill="url(#spk)"/></g>
<rect x="12.4" y="269" width="70.6" height="7.6" fill="url(#cbar)"/>
<text x="12.6" y="284.4" text-anchor="middle" style="font-family:'Liberation Sans',Arial,sans-serif;font-size:9.5px" fill="#333">0</text>
<text x="82" y="284.4" text-anchor="middle" style="font-family:'Liberation Sans',Arial,sans-serif;font-size:9.5px" fill="#333">1</text>
<text x="88.4" y="276.4" style="font-family:'Liberation Sans',Arial,sans-serif;font-size:10.6px" fill="#333">Pseudotime</text>
<clipPath id="cMV"><path d="M138.6,82.4C139.2,80.6 142.2,74.3 144,70.5C145.8,66.7 147.8,63 149.4,59.7C151,56.5 152.3,54.1 153.7,51C155.1,47.9 156.6,44.3 158,41.3C159.4,38.2 161,35 162.3,32.7C163.6,30.5 164.5,29.1 165.6,27.8C166.7,26.5 167.8,25.6 168.8,25.1C169.8,24.6 170.6,24.4 171.5,24.6C172.4,24.8 173.2,25.2 174.2,26.2C175.2,27.2 176.2,28.9 177.5,30.5C178.8,32.1 180.4,34.1 181.8,35.9C183.2,37.7 184.5,39.8 186.1,41.3C187.7,42.8 189.7,44 191.5,44.6C193.3,45.2 194.3,45.6 197,45.2C199.7,44.8 204.7,43.1 207.6,42.4C210.5,41.7 212.2,42 214.4,41.1C216.5,40.2 219.2,38.5 220.5,37C221.8,35.5 221.7,33.4 222.5,32C223.3,30.6 224.1,30.3 225.2,28.9C226.3,27.5 228.3,25.1 229.2,23.5C230.1,21.9 229.9,20.5 230.6,19.5C231.3,18.5 232.2,17.5 233.3,17.4C234.4,17.3 236.3,17.8 237.4,18.8C238.5,19.8 239.1,21.6 240,23.5C240.9,25.4 241.9,28.1 242.8,30.3C243.7,32.5 244.4,34.3 245.5,37C246.6,39.7 248.2,43.6 249.5,46.5C250.8,49.4 252,51.9 253.6,54.6C255.2,57.3 257.2,60.5 259,62.7C260.8,65 262.9,66.1 264.4,68.1C265.9,70.1 267,72.4 267.8,74.9C268.6,77.4 269.1,80.3 269.1,83C269.1,85.7 268.6,88.6 267.8,91.1C267,93.6 265.9,95.9 264.4,97.8C262.9,99.7 261,101.9 259,102.6C257,103.3 254.7,102.7 252.2,101.9C249.7,101.1 246.6,99.4 244.1,97.8C241.6,96.2 239.9,94.4 237.4,92.4C234.9,90.4 231.9,88 229.2,85.7C226.5,83.5 223.8,81.4 221.1,78.9C218.4,76.4 215.5,73.5 213,70.8C210.5,68.1 208.3,65.2 206.3,62.7C204.3,60.2 202.8,57.9 200.9,55.9C199,53.9 197,51.6 195,50.5C193,49.4 191,49.2 189,49.5C187,49.8 184.9,51.6 183,52.1C181.1,52.6 179.3,52.6 177.5,52.7C175.7,52.8 174.3,52 172,52.5C169.7,53 166.1,53.7 163.4,55.8C160.7,57.9 158.2,62.5 156,65C153.8,67.5 152.2,68.7 150.4,70.5C148.6,72.3 146.6,74.1 145,75.9C143.4,77.7 141.8,80.2 140.7,81.3C139.6,82.4 138.1,84.2 138.6,82.4Z"/></clipPath>
<pattern id="vpurp" width="33" height="20" patternUnits="userSpaceOnUse"><path d="M8.2,0.9h0M28.2,6.3h0M31.7,9.9h0M9.3,8.1h0M26.1,4.2h0M9.3,1.8h0M14.1,10.2h0M17,8.9h0M2.8,14.3h0M27.1,14.1h0M22,16.5h0M25,2.3h0M12.9,3.4h0M28.8,11.3h0M0.7,9.2h0M11.1,6.5h0M30.9,6.8h0M2.2,9.7h0M6.5,14.7h0M9.2,10.5h0M25.7,4.9h0M13.5,18.4h0M3,6.8h0M23.6,17.6h0M33.7,9.2h0" stroke="#9b7fc4" stroke-opacity="1" stroke-width="1.5" stroke-linecap="round" fill="none"/><path d="M26.9,6.1h0M32.1,5.8h0M8.6,18h0M12.1,4.9h0M25.5,7.7h0M18.5,7.2h0M1.3,6.2h0M5.9,16.8h0M1.4,17.1h0M24.4,16.6h0M18,19.4h0M5.6,13.3h0M3.7,6.5h0M18.6,2.2h0M14.3,3.8h0M0.3,18.4h0M20.7,18.7h0M9.8,3.7h0M10.6,7.4h0M1.4,11.3h0M31.2,9.9h0M5.2,6h0M9.3,13.2h0M32.2,19.2h0M26.8,1.2h0M20.1,5.9h0M31.4,9.6h0M14.8,1.7h0M8.4,1.9h0M8.3,9.8h0M12.3,0.3h0M14.1,17.8h0M13,17.5h0M5.6,7.2h0M1.5,2.9h0M9,5.5h0M8.6,11.4h0M25.6,12.7h0M10.2,14.5h0M19.9,17.3h0M10.8,15h0M20.7,6.7h0M0.4,18.5h0M32.6,1.1h0M17.8,11.8h0M4.4,0.2h0M2,10h0M28.5,1.2h0M6.7,15.2h0M22.8,0.8h0M18,-0.6h0M33.3,18.4h0M12.3,20.3h0M33.4,18.5h0M-0.4,1.1h0M4.4,20.2h0" stroke="#9b7fc4" stroke-opacity="1" stroke-width="1.2" stroke-linecap="round" fill="none"/><path d="M8,7.8h0M7.3,6.2h0M14.6,16.7h0M5.3,7.1h0M14.9,2.6h0M2.8,3.5h0M7.5,2.5h0M25.6,17.7h0M13.6,13.2h0M30.1,14.7h0M24.7,1.7h0M13,15h0M14,18.6h0M14.9,1.1h0M10.2,2.7h0M11.6,6h0M26.9,11h0M15.2,15.3h0M0.4,19.8h0M0.9,15.5h0M25.9,16.6h0M10.8,3.7h0M23.9,0.1h0M32.1,18.2h0M9.9,6.9h0M0.9,3.8h0M3.8,3.6h0M18.1,2.2h0M28.5,11h0M23.8,2h0M7,6h0M28.7,3.4h0M11.3,15.3h0M24.3,19h0M6.4,8.9h0M18.3,5.8h0M12.6,2.9h0M17.8,13.8h0M5,10h0M15.7,3.2h0M18.5,15.4h0M12,5.6h0M28.8,18.8h0M10,15.3h0M25.6,8.6h0M5.4,5.4h0M19.8,1.6h0M6.2,10.7h0M5.2,2.9h0M24.5,5.2h0M32.7,4.6h0M4.9,3.5h0M29.8,2.2h0M18.8,3.1h0M28.7,5.3h0M29.2,7.2h0M28.5,3.6h0M30.1,3h0M3.2,3.4h0M1.1,4.7h0M0.4,-0.2h0M33.4,-0.2h0M33.4,19.8h0M23.9,20.1h0M-0.3,4.6h0" stroke="#9b7fc4" stroke-opacity="1" stroke-width="1.35" stroke-linecap="round" fill="none"/><path d="M16,15.9h0M5.7,7.2h0M13.3,1.3h0M27.3,7h0M6.3,5.7h0M5.1,14.1h0M8.9,16.7h0M12.4,19.2h0M31.4,10.1h0M7,17.4h0M10.6,13.3h0M20.8,3.6h0M1.3,0.8h0M1.6,4.9h0M4.2,15.2h0M17.9,5h0M11.8,8.2h0M22.1,4.8h0M12,3.4h0M8.3,4.9h0M27.9,18.5h0M12.2,16.6h0M2.6,13.8h0M14.6,19.4h0M1.3,8.8h0M18.6,7h0M7.5,11.5h0M16.9,11.8h0M18.6,15.5h0M25.6,1.2h0M1.4,12.1h0M18.1,16.1h0M3.6,16h0M26.4,0.7h0M2.5,6.6h0M29.5,11.8h0M18.2,8.1h0M15.9,7.3h0M7.7,7h0M19.3,1.6h0M7.2,8h0M28.9,6.8h0M21.1,18.5h0M1.9,8.3h0M23.9,6.6h0M3,0.6h0M8.7,8.7h0M9.8,19.9h0M16,17.8h0M19.1,17.7h0M7.6,8.6h0M9.8,-0.1h0" stroke="#9b7fc4" stroke-opacity="1" stroke-width="0.9" stroke-linecap="round" fill="none"/><path d="M3.8,10.7h0M1.2,13.3h0M16.9,10.9h0M18.7,6.2h0M9.8,1.3h0M22.4,13.3h0M8.2,16.9h0M6.5,6.1h0M23.6,5.1h0M27.5,15.5h0M23.2,16.1h0M4.7,11.3h0M3.8,5.8h0M6.8,1.2h0M6.5,14h0M28.2,15.7h0M13.9,6.8h0M5.4,5.9h0M2.8,6.5h0M12.3,11.6h0M17.5,11.3h0M13.5,1.5h0M27.2,2.5h0M30.5,13.5h0M31.3,0.3h0M27,13.6h0M19,7.8h0M0.2,11.6h0M16.8,12.7h0M0.2,17.4h0M14.7,11.4h0M5.6,1.3h0M19.2,19.7h0M13.4,13.6h0M19.7,5.1h0M3,16.3h0M21.7,12h0M25.2,15.5h0M25.5,19.5h0M21.6,15.5h0M6,18.8h0M16.5,12.7h0M26.4,9.2h0M2.2,12.9h0M20.7,4.5h0M27.2,5.7h0M22.5,12h0M31.3,20.3h0M33.2,11.6h0M33.2,17.4h0M19.2,-0.3h0M25.5,-0.5h0" stroke="#9b7fc4" stroke-opacity="1" stroke-width="1.05" stroke-linecap="round" fill="none"/><path d="M4.4,5.5h0M22.6,7h0M19.2,2.3h0M31.6,19.8h0M9.1,5.2h0M30.4,3.2h0M32.8,6h0M3.7,19.5h0M31.6,-0.2h0M-0.2,6h0" stroke="#9b7fc4" stroke-opacity="1" stroke-width="0.75" stroke-linecap="round" fill="none"/></pattern>
<pattern id="vgreen" width="33" height="20" patternUnits="userSpaceOnUse"><path d="M0.7,19.8h0M16.5,2.2h0M16.4,18.4h0M23.7,8h0M13.8,19.5h0M20.8,14.9h0M20.2,13.5h0M5.7,16.4h0M28.6,0.9h0M14.9,1.8h0M32.9,13.9h0M4.9,13.6h0M17.2,4.8h0M5.9,14.4h0M26.8,7h0M32.1,14.2h0M0.8,11.9h0M15.3,16.8h0M15.6,17.8h0M22.1,14.8h0M0.2,19.8h0M8.7,6.3h0M13.9,1h0M17.7,7.5h0M16.1,11.7h0M18.4,1h0M25.9,19h0M12.9,0.7h0M19.8,19.3h0M4.4,11.6h0M5.6,18.8h0M17.7,10.1h0M24.8,3.1h0M31,8.2h0M22.4,3h0M26.5,11.8h0M7.7,4h0M22.6,14.2h0M31.1,16.5h0M13.8,12.1h0M11.1,4.3h0M27.9,12.4h0M27.2,3.7h0M15,16.2h0M28.5,10.3h0M2.5,12.5h0M19,0.9h0M24.7,12.8h0M0.7,-0.2h0M-0.1,13.9h0M0.2,-0.2h0M33.2,-0.2h0M33.2,19.8h0" stroke="#4da862" stroke-opacity="1" stroke-width="1.05" stroke-linecap="round" fill="none"/><path d="M29,2.4h0M16.8,8.2h0M21.6,10.9h0M32.9,0.1h0M30.6,5.1h0M10.7,12.9h0M24.6,17.1h0M23.5,7.9h0M15.6,14.4h0M30.6,10.6h0M11.8,16.1h0M9.7,8.2h0M24.9,7.6h0M1.3,13.6h0M22.8,8.4h0M4.8,6.7h0M28.3,11.1h0M17.6,8.2h0M28.5,1.4h0M5.9,18.4h0M26.4,10h0M9.7,4.7h0M21.1,4.5h0M32.9,18.8h0M16,17.3h0M9.8,1.4h0M16.9,1.9h0M27.8,17.5h0M3.9,9.9h0M1,7.9h0M19.1,4.7h0M26.1,9.6h0M21,4h0M9.9,19.2h0M26.2,0.1h0M27.4,3.2h0M11.6,2h0M30.6,17.9h0M31.6,7.2h0M20.9,7.5h0M22.3,18.1h0M27.5,13.7h0M29.4,2.9h0M25.2,5.8h0M13.9,19.6h0M-0.1,0.1h0M-0.1,20.1h0M32.9,20.1h0M-0.1,18.8h0M26.2,20.1h0M13.9,-0.4h0" stroke="#4da862" stroke-opacity="1" stroke-width="1.2" stroke-linecap="round" fill="none"/><path d="M4.5,8.6h0M24.1,5.5h0M8.7,1.4h0M12.7,8.2h0M12.4,4.8h0M19.5,19.9h0M20.8,10.9h0M15.7,4.4h0M17.4,16.3h0M27.5,16.4h0M5.1,5h0M6.6,11.4h0M20.4,7.4h0M19.1,18.5h0M22,6.6h0M25.4,15.4h0M23.5,9.7h0M8.5,4h0M14.7,17.6h0M14.3,12.8h0M22.3,5.9h0M6.8,2h0M22.6,3.1h0M10.5,11.2h0M14.2,13.6h0M16.4,18.6h0M17.8,1.8h0M31.2,13.1h0M11,9h0M12.4,13.3h0M3.9,9.4h0M6.5,8.1h0M18.8,13.8h0M9.6,17.8h0M25.9,14.2h0M4.6,4h0M27.9,15.7h0M23.7,7h0M4,13.7h0M31.6,7.2h0M16.7,19.8h0M12,19.5h0M19.5,-0.1h0M16.7,-0.2h0" stroke="#4da862" stroke-opacity="1" stroke-width="0.9" stroke-linecap="round" fill="none"/><path d="M22.6,3h0M7.1,19.4h0M12,0.2h0M22.8,19.6h0M3.8,16.9h0M30,1h0M15.8,16h0M10.7,4.8h0M3,12.7h0M6.7,8.5h0M14.6,7.3h0M16.4,18h0M16.2,10.2h0M7.3,1.5h0M3.4,1.8h0M18.6,1.1h0M32.9,16.3h0M28.6,16h0M10.7,5.5h0M9.6,14.2h0M23,0.8h0M30.1,6.5h0M3.1,9.3h0M9.6,7h0M8.9,17.9h0M24.5,3.6h0M3.2,11h0M4.9,1.9h0M4.2,4.8h0M31.1,9.8h0M1.4,12.4h0M26.9,6.8h0M2.9,4.9h0M25.7,18.2h0M31.9,13.5h0M29.9,14.9h0M27.2,15.7h0M26,5h0M25.9,15.9h0M2.9,13h0M11.2,11.9h0M0.5,2.2h0M2.9,5.4h0M14.6,13.2h0M14.8,15h0M7.1,-0.6h0M12,20.2h0M22.8,-0.4h0M-0.1,16.3h0M33.5,2.2h0" stroke="#4da862" stroke-opacity="1" stroke-width="1.35" stroke-linecap="round" fill="none"/><path d="M10.4,19.4h0M11.2,7.6h0M7.5,18.5h0M19.7,9.2h0M16.6,17.8h0M15.2,18.4h0M24.1,15h0" stroke="#4da862" stroke-opacity="1" stroke-width="0.75" stroke-linecap="round" fill="none"/><path d="M20.2,5.3h0M21.1,16.5h0M26.4,4h0M19.5,9.1h0M27.7,2.9h0M21.7,5.2h0M5,16h0M27.3,2.4h0M8.1,12h0M10.9,19.5h0M4.5,16.6h0M31.2,2.3h0M7.8,9.9h0M29.4,12.2h0M13,10h0M0,3.5h0M10.7,2.7h0M10.9,-0.5h0M33,3.5h0" stroke="#4da862" stroke-opacity="1" stroke-width="1.5" stroke-linecap="round" fill="none"/></pattern>
<pattern id="vorange" width="33" height="20" patternUnits="userSpaceOnUse"><path d="M26.6,13.5h0M27.3,15.9h0M10.3,1.1h0M3.6,5.2h0M12.7,19.3h0M24.8,5.5h0M30.3,10.6h0M11.7,18.8h0M26.7,2.2h0M22.8,15.5h0M31,14.8h0M13,16.1h0M22,11.6h0M19.9,16.5h0M20.8,2.8h0M26.5,19.2h0M23.4,9.1h0M6.3,8.1h0M20.8,5.3h0M1.8,9.4h0M22.2,14.3h0M7.9,18.6h0M14.6,14.1h0M9.9,7h0M10.4,12.5h0M24.9,5h0M2.2,0.3h0M32,13.8h0M1,16.6h0M26,5h0M17.3,2.2h0M26.3,5.7h0M7.2,7.7h0M3.9,1.4h0M10.6,8.1h0M22.1,0.5h0M0.6,5.8h0M8.4,4.7h0M31.7,18h0M25.3,2.6h0M25.3,6h0M11.1,10.4h0M13.8,9.6h0M5.1,13.9h0M20.9,4.8h0M2.2,20.3h0M22.1,20.5h0" stroke="#ea8a2c" stroke-opacity="1" stroke-width="1.05" stroke-linecap="round" fill="none"/><path d="M31.8,14.2h0M27.6,12.7h0M10.4,3h0M15.5,11.2h0M20.8,5.2h0M21.3,19.3h0M29.6,18h0M4.3,14.1h0M3.6,4.5h0M4.4,9.1h0M14.5,4h0M23.1,19.5h0M31.3,18.4h0M0.4,17.3h0M32.4,8.7h0M2.3,6.5h0M29.2,9.7h0M19.3,12.7h0M14.5,1.4h0M4.7,18.2h0M27.2,12.7h0M22.2,18.6h0M11.6,1.9h0M12.1,6.1h0M3.8,13.8h0M21.6,18.6h0M27.6,19.9h0M30.4,6.6h0M0.4,5.2h0M22.7,13.8h0M8.6,19.3h0M19.5,13.1h0M10,8.2h0M28.2,16.1h0M29.9,3.2h0M3.8,9.2h0M2.4,4.4h0M10.5,4.1h0M7.7,10h0M18.8,3.6h0M15.7,13.6h0M24.3,7.2h0M19,7.1h0M12.2,19.2h0M27.6,12.8h0M0.5,10.7h0M7.6,5.3h0M3,12.5h0M8.7,15.8h0M14,10.7h0M23.1,-0.5h0M33.4,17.3h0M-0.6,8.7h0M27.6,-0.1h0M33.4,5.2h0M33.5,10.7h0" stroke="#ea8a2c" stroke-opacity="1" stroke-width="1.35" stroke-linecap="round" fill="none"/><path d="M9.2,3.2h0M6.5,6.4h0M6.7,18.2h0M1.4,16.5h0M8,1.4h0M24.9,13.6h0M6.1,17.4h0M22.2,15.1h0M2,8.9h0M11.2,6.6h0M27.7,16.2h0M20.8,14.5h0M13.2,10.2h0M32.5,1.4h0M6.4,14.7h0M6.5,5.3h0M5.1,15.5h0M3.6,11.3h0M27.4,15.7h0M1.4,17.8h0M12.6,2.1h0M4.2,4h0M21.4,13.8h0M26.6,3.3h0M18.3,16.4h0M2.6,1.1h0M21.5,4.1h0M3.6,19.5h0M17.2,9.1h0M22.5,17h0M9,5h0M17.5,13h0M32.7,3.5h0M4.7,2.3h0M12.6,13h0M7.7,0.6h0M3.1,2.4h0M5.7,4.6h0M15.5,18.7h0M8.8,18.5h0M24.1,1.5h0M15.5,14.8h0M31.3,4.7h0M16.9,19h0M20,5.2h0M4.9,2.7h0M7.7,3.4h0M8.9,18.8h0M31.9,17.4h0M8,13.2h0M24.5,12.5h0M25.9,4.7h0M31.6,4.1h0M4.5,8.1h0M14.4,3.5h0M26.5,1.9h0M-0.5,1.4h0M3.6,-0.5h0M-0.3,3.5h0" stroke="#ea8a2c" stroke-opacity="1" stroke-width="1.2" stroke-linecap="round" fill="none"/><path d="M4.6,10.3h0M12.6,19.3h0M6.2,6.2h0M17.2,13.4h0M13.6,10h0M18.9,5.5h0M27.1,13h0M22.3,19.5h0M26.6,0.8h0M11.7,18h0M32.7,18.2h0M30,14.2h0M12.7,16.2h0M6.8,4.9h0M7.5,7.8h0M3.5,15.7h0M30.2,0h0M20.5,11.9h0M24.6,0.5h0M20.2,13h0M24.2,15.9h0M29,3.6h0M0.7,4.6h0M25.6,17.8h0M17.6,2.1h0M31,8.2h0M7,5.7h0M30.8,6.8h0M28.1,2.6h0M21.2,9.4h0M1.7,13.3h0M18.6,17.4h0M28.3,2.2h0M21.5,2.9h0M31.2,14.8h0M7.5,12h0M24.7,11.7h0M15.1,4.5h0M7.9,2.4h0M14.9,8.2h0M21.8,17.2h0M17.5,17h0M26.4,18h0M6.4,1.5h0M21.4,3.6h0M2.6,11.6h0M27.1,12h0M23.7,4.6h0M6.3,14.2h0M12.6,-0.7h0M22.3,-0.5h0M-0.3,18.2h0M30.2,20h0M24.6,20.5h0M33.7,4.6h0" stroke="#ea8a2c" stroke-opacity="1" stroke-width="1.5" stroke-linecap="round" fill="none"/><path d="M5.4,14.8h0M4.4,6.8h0M26,16.8h0M20.2,5.5h0M7,4.5h0M11.9,14h0M7.2,15.9h0M16.7,8.5h0M23.7,1.3h0M10.1,0.9h0M15,2h0M15.7,16.4h0M4.4,0.3h0M26.5,0.8h0M30.3,5.3h0M0.6,15.1h0M32.1,14.2h0M26.8,9.2h0M28,17h0M25.4,0.1h0M17.7,19.3h0M22.8,19.3h0M0.9,13.8h0M22.9,6.1h0M25.4,3.6h0M14.7,14.6h0M9.2,0.2h0M19.4,13.2h0M12,14.5h0M25.2,4.5h0M17.3,4.8h0M28.5,4.2h0M12.1,18.1h0M2.7,4.3h0M14.5,2.8h0M32.7,12.4h0M18.5,14.2h0M19.2,17.7h0M1.7,18.3h0M21.6,10.3h0M17.3,13.5h0M7.1,5.3h0M0.6,13.5h0M23.3,19.3h0M28.9,11.8h0M32.6,0.4h0M30.8,19.4h0M1.8,1.7h0M11.3,9.8h0M30.7,11.2h0M26.1,4.6h0M21.9,11.3h0M6.4,11.6h0M4.4,20.3h0M25.4,20.1h0M9.2,20.2h0M-0.3,12.4h0M-0.4,0.4h0M-0.4,20.4h0M32.6,20.4h0" stroke="#ea8a2c" stroke-opacity="1" stroke-width="0.9" stroke-linecap="round" fill="none"/><path d="M27.7,6.5h0M1,15.6h0M6.9,5h0M19.3,7.6h0M9.6,7.9h0M27.6,14.3h0M7.4,1.3h0M15.9,3.6h0M21.5,10.3h0M13.3,13.6h0M5.3,16.6h0M22.2,16h0M9,1.4h0M5.7,13.9h0" stroke="#ea8a2c" stroke-opacity="1" stroke-width="0.75" stroke-linecap="round" fill="none"/><path d="M7.5,17.4h0M5.4,12.6h0M2.1,4.8h0M1.3,1.9h0M4.9,12.1h0M3.1,8.9h0M4.7,1.9h0M11.9,2.4h0M27.5,4h0" stroke="#ea8a2c" stroke-opacity="1" stroke-width="1.65" stroke-linecap="round" fill="none"/></pattern>
<pattern id="vred" width="33" height="20" patternUnits="userSpaceOnUse"><path d="M1,14.5h0M10.3,13.3h0M26.2,6.2h0M16.7,10.4h0M3.5,1.4h0M23.5,15.4h0M15.4,12.4h0M14.4,1.7h0M11.2,2.5h0M32.1,2.3h0M11.2,5h0M8.8,7.3h0M32.8,8.7h0M25.1,17.4h0M24.7,4.7h0M11.1,15.3h0M31.9,8.1h0M19.5,13.5h0M31.2,11h0M26.4,0.5h0M15.8,9.9h0M25.9,5.2h0M17.8,5.5h0M26.6,2.9h0M24.7,17.2h0M22.2,19.4h0M32.3,8.7h0M5.9,3h0M29.1,12h0M10.4,7.5h0M10.5,15.2h0M7.1,13.1h0M4.3,12.7h0M6.1,10h0M22.5,14.9h0M11.9,12.1h0M14.1,19.4h0M10.7,19.3h0M8.9,3h0M11.8,18h0M1.9,8.5h0M-0.2,8.7h0" stroke="#c8384e" stroke-opacity="1" stroke-width="1.05" stroke-linecap="round" fill="none"/><path d="M9.6,12.8h0M5.2,4.5h0M23.8,1.1h0M23.6,10.6h0M16,5.1h0M2.3,15h0M15.6,19.1h0M9.5,9.3h0M19,0.2h0M21,17.7h0M32.7,14.6h0M26.8,5.1h0M24.6,13.5h0M15.5,18h0M11.8,4.4h0M10,6.6h0M18.5,2.9h0M26.5,8.5h0M0.2,6.8h0M17.1,3.5h0M23.8,15h0M5.6,1.5h0M14,7h0M24,7.1h0M9.8,11.1h0M11,7.7h0M27.1,3.2h0M1.9,5.3h0M3.1,17.5h0M5.3,3.6h0M5.8,7.7h0M31.5,18.6h0M27.1,19.8h0M2.7,18.6h0M30.8,1.7h0M28.8,8.8h0M8.5,14.6h0M3.2,9.9h0M15.6,2.4h0M32.6,10.8h0M15.5,14.4h0M7.3,18.1h0M32,15.4h0M30.5,3.2h0M4.1,5.7h0M18.6,19h0M12,19h0M17.9,17.3h0M27.6,13.4h0M30.6,19.8h0M32.4,2.2h0M32.8,12.5h0M19,20.2h0M-0.3,14.6h0M33.2,6.8h0M27.1,-0.2h0M-0.4,10.8h0M30.6,-0.2h0M-0.6,2.2h0M-0.2,12.5h0" stroke="#c8384e" stroke-opacity="1" stroke-width="1.35" stroke-linecap="round" fill="none"/><path d="M20.3,18h0M15.2,4h0M21,5.6h0M32.4,18.2h0M3.1,19.3h0M9.5,15.4h0M3.5,1.4h0M17.6,16.7h0M24.2,2.6h0M15.5,19.8h0M28.2,6.4h0M24.6,6.8h0M11.6,7.6h0M12.6,16.8h0M25.8,17.4h0M11.2,5h0M7.5,1.4h0M29.1,13.3h0M23.7,8.6h0M23.4,18.6h0M16.9,9.4h0M14.6,1.7h0M26.3,13.6h0M20.4,6.1h0M7.2,1.7h0M10.4,10.1h0M6.5,11.8h0M24.3,19h0M0.7,3.9h0M18.2,18.4h0M30.5,8.7h0M19.7,19.5h0M23.4,12.6h0M32.8,14.1h0M30.2,11.2h0M3.4,5.5h0M4.8,13.6h0M8.2,16.3h0M11.3,18.7h0M4.5,16.3h0M18.3,8.1h0M25.1,11.8h0M10.4,0.6h0M6.8,10.1h0M23.5,0h0M0.4,4.1h0M4.7,3.2h0M19.4,16h0M15.5,-0.2h0M-0.2,14.1h0M23.5,20h0M33.4,4.1h0" stroke="#c8384e" stroke-opacity="1" stroke-width="0.9" stroke-linecap="round" fill="none"/><path d="M27.3,14.3h0M5,18.6h0M14.7,18.6h0M24.4,17.8h0M31.6,2.1h0M13.8,16.4h0M20,18h0M10.8,17h0M8.1,18.4h0M17.8,6.7h0M11.4,16.9h0M29,2.8h0M15,6.8h0M10.8,0.5h0M13.3,16h0M10.2,12.6h0M3.5,11.7h0M12,7.3h0M23,2.5h0M17.3,16.4h0M26.5,4.4h0M22.1,2.9h0M33,11.2h0M16.6,18h0M31.5,10.2h0M23.4,5.5h0M30.5,1.1h0M12.9,3h0M18.9,0.1h0M12.1,17h0M6,2.3h0M12.8,7.3h0M23.8,18.2h0M13.1,18.9h0M0.2,16h0M17,0.1h0M24,8.2h0M29.8,15.8h0M20.2,3.2h0M16.1,5.5h0M12.2,18.4h0M28.5,8h0M15.8,1.7h0M25.9,5h0M3.2,18.3h0M15.3,16.5h0M29.2,7.4h0M29.8,11.8h0M27.5,2h0M23,1.3h0M25,4.8h0M10.8,20.5h0M-0,11.2h0M18.9,20.1h0M33.2,16h0M17,20.1h0" stroke="#c8384e" stroke-opacity="1" stroke-width="1.5" stroke-linecap="round" fill="none"/><path d="M2.9,1h0M7.3,6.4h0M20.4,2.1h0M5.7,15.3h0M7.5,18.2h0M1.6,17.4h0M24.5,4h0M10.3,17.5h0M17.1,9.7h0M1.2,11.8h0M6.2,10.9h0M6.1,18.2h0M8.6,5.5h0M29.8,4h0M6.6,3.2h0M16,18.9h0M30.4,8h0M29.5,7h0M30.7,12.8h0M24.3,1.2h0M22.5,0.7h0M26.1,11.5h0M13.7,13.4h0M4.9,15.2h0M29.9,11.7h0M32.9,8.5h0M26.7,15.2h0M29.5,0.7h0M5.4,18.6h0M17.6,17.1h0M4.5,9.4h0M8.8,7.4h0M32.4,2.8h0M31.9,7.7h0M2.1,0.2h0M18.8,0.2h0M8.8,17.6h0M5.3,14.5h0M16.6,11.5h0M8,1.9h0M-0.1,8.5h0M-0.6,2.8h0M2.1,20.2h0M18.8,20.2h0" stroke="#c8384e" stroke-opacity="1" stroke-width="1.2" stroke-linecap="round" fill="none"/><path d="M30.5,4.1h0M1.8,2.5h0M13.6,10.9h0" stroke="#c8384e" stroke-opacity="1" stroke-width="0.75" stroke-linecap="round" fill="none"/><path d="M15.2,12.8h0M15.8,8.8h0M8.4,4.7h0M32,4.9h0M21.8,19.1h0" stroke="#c8384e" stroke-opacity="1" stroke-width="1.65" stroke-linecap="round" fill="none"/></pattern>
<pattern id="vblue" width="33" height="20" patternUnits="userSpaceOnUse"><path d="M12.8,6.7h0M7.3,13.4h0M11.1,2h0M22.1,8.7h0M11.1,5.3h0M7.3,8h0M16,2.5h0M1.5,14.3h0M23,7.3h0M0.1,1.8h0M17.6,5.5h0M22.3,12.7h0M22.1,19.3h0M20.6,15.6h0M18.1,7.7h0M3.5,5.2h0M13.4,4.7h0M31.7,13.6h0M5.7,12.9h0M7.3,8.9h0M14.8,19.4h0M23.1,9.3h0M9.3,14.9h0M0.9,15.1h0M11.5,14.6h0M26,4h0M14.4,0h0M26,13.6h0M2.2,12.9h0M5.1,11h0M12.3,15.8h0M10.9,2.2h0M14.5,8.7h0M20.7,12.6h0M21.2,13.1h0M22.1,5.7h0M10.1,10.9h0M30.9,0.5h0M27.5,7.9h0M8.3,4.8h0M22.9,11.8h0M31.1,5.1h0M14,7.5h0M31.3,19.3h0M32.8,9.3h0M7.9,14.9h0M10.3,7.4h0M27.8,16.9h0M23.5,16.2h0M3.4,6.7h0M30.7,12.9h0M3.6,12.4h0M13.7,17h0M14,16.7h0M13.3,2h0M30.9,3.3h0M4.4,6.1h0M19.2,2.4h0M16.7,2.9h0M29.3,4.8h0M22.2,2.4h0M8,15.8h0M25.9,10.6h0M4.1,12.7h0M33.1,1.8h0M22.1,-0.7h0M14.8,-0.6h0M14.4,20h0M30.9,20.5h0M31.3,-0.7h0M-0.2,9.3h0" stroke="#2f86c6" stroke-opacity="1" stroke-width="1.5" stroke-linecap="round" fill="none"/><path d="M14.9,10.1h0M2.9,13.7h0M17.9,19.8h0M26.7,5.8h0M23,11.6h0M1.4,7.1h0M32.9,6.4h0M32,12.9h0M23.5,17.9h0M5.2,5.6h0M28.1,6.6h0M9.7,4h0M29.8,2.3h0M25.6,9.6h0M23.2,10.3h0M10.8,6.6h0M11.2,8.3h0M1.1,18.7h0M24,5.4h0M28.5,4.1h0M9.2,18.4h0M26.3,5.6h0M15,3.9h0M7.4,4.3h0M25.6,5.8h0M14.4,13.5h0M3.3,16.8h0M17.3,6h0M32.4,17.9h0M20.2,4.1h0M31,16.7h0M28,6.6h0M8.1,5.7h0M12.3,19.8h0M8.2,13.7h0M11,19h0M15.9,8.2h0M19.8,17.4h0M25,0.9h0M21.9,5.5h0M30.1,11.3h0M31.5,15.6h0M18.4,15.5h0M13.1,11h0M27.1,4.3h0M22.6,13.7h0M17.9,2.7h0M10.7,5.6h0M15.4,18.2h0M30.6,9.6h0M17.9,-0.2h0M-0.1,6.4h0M-0.6,17.9h0M12.3,-0.2h0" stroke="#2f86c6" stroke-opacity="1" stroke-width="1.65" stroke-linecap="round" fill="none"/><path d="M19.9,3.6h0M2.7,6.6h0M3,18.1h0M14.2,3.1h0M3.7,6.4h0M12.6,13.4h0M19.6,5.1h0M12.9,7.6h0M19,6.4h0M19.4,7.5h0M14.5,19.9h0M15.2,4.3h0M16.6,16.7h0M30.7,4h0M1.7,5h0M3.8,4.5h0M29.1,19.6h0M3.8,14.6h0M9.2,2.2h0M18.5,8.3h0M19.3,14.2h0M4.2,9.5h0M5,4.4h0M28.5,2h0M21.4,13.7h0M4.1,17h0M2.5,9.1h0M0.4,1.9h0M8.6,12.4h0M23.3,18.9h0M10.6,17.5h0M26.7,4.6h0M2.4,15.1h0M14.5,-0.1h0M29.1,-0.4h0M33.4,1.9h0" stroke="#2f86c6" stroke-opacity="1" stroke-width="0.9" stroke-linecap="round" fill="none"/><path d="M21.4,8.5h0M5.1,6.1h0M30,14.1h0M19.2,14.5h0M9.1,19.6h0M15.9,6.7h0M12.4,5.8h0M24.1,4.3h0M11.8,6.1h0M9,1.2h0M28.6,8.8h0M29.8,8.8h0M12.3,15.2h0M10.3,8.3h0M3.1,1.8h0M14.3,10.2h0M29,7.2h0M20.3,11.3h0M2.8,19.1h0M21.9,13.3h0M15.1,16.6h0M18.7,15.1h0M0.5,17.8h0M11.2,0.5h0M4,3.2h0M28.7,19.8h0M8.2,13.9h0M6.2,2h0M15.7,10.8h0M7.2,15.6h0M8.3,6h0M1.2,15.1h0M30.7,7.8h0M13.4,17.8h0M21.8,11.2h0M28.5,1.6h0M15.5,2.6h0M0.7,8.8h0M12.2,3.6h0M5,10.4h0M14.7,18.3h0M30.5,2.2h0M23.6,0.4h0M4.5,16.4h0M16.6,14.4h0M6.3,19.2h0M24.4,13h0M10,5.3h0M0.4,8.7h0M0.4,17.2h0M17.8,5.3h0M10.8,18.6h0M30.9,15.6h0M15.2,15.2h0M19.3,4.8h0M32.9,4.1h0M19.2,0.3h0M19,7.6h0M25.1,12.3h0M26.4,4.8h0M8.2,10.3h0M27.5,19.7h0M27.5,18.4h0M9.3,15.4h0M21.9,17.5h0M14.8,0.6h0M4.2,7.7h0M21.1,9.6h0M30.4,18.8h0M25.4,3.1h0M32.7,9.6h0M27.7,17.8h0M30.5,13.2h0M17,5.8h0M9.1,-0.4h0M33.5,17.8h0M11.2,20.5h0M28.7,-0.2h0M23.6,20.4h0M33.4,8.7h0M33.4,17.2h0M-0.1,4.1h0M19.2,20.3h0M27.5,-0.3h0M-0.3,9.6h0" stroke="#2f86c6" stroke-opacity="1" stroke-width="1.2" stroke-linecap="round" fill="none"/><path d="M16.9,18.7h0M5.5,0.9h0M28,13h0M23.7,10.2h0M7.3,8h0M26.9,9.5h0M28.5,12.7h0M28.8,14.3h0M16.8,11.8h0M13.8,13.3h0M24.9,14.7h0M7.6,6.7h0M10.4,19.5h0M29.4,8.5h0M25.5,7.5h0M22.4,12.5h0M16.8,2.4h0M7.9,17.1h0M26.3,16.2h0M1.8,7.6h0M12.3,17.2h0M11.9,8h0M24.2,0.6h0M16.4,9.4h0M8.5,12.9h0M10.4,11h0M16,12.3h0M26.8,14.6h0M20.2,17.2h0M28.9,7.1h0M13.4,10.5h0M11.7,16.2h0M12.4,11.6h0M19.8,12.5h0M16.8,3h0M28.6,7.8h0M6,11.5h0M25.8,19.9h0M27.4,9.5h0M23.5,14.6h0M19.7,6.7h0M16.5,8.3h0M12.6,8.7h0M14.8,17.5h0M14.5,15.3h0M31,17.9h0M1.5,14.8h0M9.2,9.9h0M13.6,17.9h0M2.6,17.3h0M8.6,12.3h0M15.3,14.3h0M18.8,10.3h0M7,6.7h0M5.1,14.3h0M0,19.2h0M8.3,0.5h0M18.1,16.3h0M5.7,19.4h0M26.4,12h0M27.3,17.9h0M11.4,16.1h0M2.1,6.6h0M28.6,16.5h0M18.7,5.5h0M25.3,6.1h0M26.9,3.2h0M11.5,17.6h0M22,1.7h0M9.3,14.8h0M18.7,17.3h0M10.4,-0.5h0M25.8,-0.1h0M33,19.2h0M8.3,20.5h0" stroke="#2f86c6" stroke-opacity="1" stroke-width="1.05" stroke-linecap="round" fill="none"/><path d="M20.6,1.2h0M3.3,10h0M6.4,13.4h0M25.9,17.3h0M18.7,3.9h0M9.2,10.1h0M23.2,15.6h0M8.2,18.5h0M23.4,16.4h0M7.7,15.7h0M1.1,19.2h0M26.3,14.7h0M12.2,5.4h0M0.7,13.5h0M30,4.7h0M10.7,12.9h0M5.6,10.2h0M3.8,13.1h0M20.2,3.4h0M10.2,13.6h0M20.4,15.6h0M21.5,2.1h0M5.8,16.6h0M27.4,13.8h0M2.2,1.4h0M3,18.5h0M12.2,10.2h0M30.3,9.4h0M9.1,12.7h0M8.4,16.6h0M25.3,11.4h0M24,4.6h0M21.4,7.4h0M8.3,1.7h0M2.4,19h0M19,4.9h0M32,6.4h0M3,3.9h0M31.2,8.2h0M14.4,5.6h0M9.9,5.5h0M2.8,16h0M7.6,2.3h0M21.4,16.2h0M21.8,2.1h0M8.8,15.7h0M5.6,3.1h0M23.4,11.6h0M6.3,14.2h0M25.7,12.6h0M30.4,16.2h0M4.2,2.7h0M14.7,15.9h0M16.2,7.9h0M16.7,6.5h0M31.9,16.7h0M17.9,7.5h0M17.9,18.6h0M1,9.2h0M24,19.4h0M15.8,12.7h0M26.1,0.6h0M7.5,14.1h0M20,6.5h0M0.6,5.4h0M25.3,15.5h0M8.5,2.1h0M4.6,18.4h0M33.7,13.5h0M24,-0.6h0M26.1,20.6h0M33.6,5.4h0" stroke="#2f86c6" stroke-opacity="1" stroke-width="1.35" stroke-linecap="round" fill="none"/></pattern>
<g clip-path="url(#cMV)">
<rect x="130" y="10" width="145" height="100" fill="#f1eef3"/>
<rect x="195" y="10" width="80" height="100" fill="url(#vpurp)"/>
<ellipse cx="240" cy="70" rx="26" ry="22" fill="url(#vgreen)"/>
<path d="M250,50 C262,62 272,80 268,95 C262,104 250,104 240,98 C252,92 258,80 250,50Z" fill="#ee9a48" opacity="0.15"/>
<path d="M250,50 C262,62 272,80 268,95 C262,104 250,104 240,98 C252,92 258,80 250,50Z" fill="url(#vorange)"/>
<path d="M168,32 C180,38 192,42 202,46 L200,54 C190,52 178,48 168,44Z" fill="url(#vred)"/>
</g>
<path d="M138.4,82C138.2,82 139.6,78.8 141,76C142.4,73.2 144.6,69.1 146.7,65.2C148.8,61.3 151.6,56.5 153.7,52.4C155.8,48.3 157.6,44.6 159.5,40.7C161.4,36.8 163.7,31.6 165.4,29C167.2,26.4 168.6,25.6 170,25C171.4,24.4 173,24.9 174,25.5C175,26.1 176,27.3 175.9,28.5C175.8,29.7 175.1,29.9 173.5,32.5C171.9,35.1 168.4,40.3 166.5,44.2C164.6,48.1 164.6,52 161.9,55.9C159.2,59.8 153.5,64.3 150.2,67.6C146.9,70.9 144,73.3 142,75.7C140,78.1 138.6,82 138.4,82Z" fill="#cfe2f2"/>
<path d="M138.4,82C138.2,82 139.6,78.8 141,76C142.4,73.2 144.6,69.1 146.7,65.2C148.8,61.3 151.6,56.5 153.7,52.4C155.8,48.3 157.6,44.6 159.5,40.7C161.4,36.8 163.7,31.6 165.4,29C167.2,26.4 168.6,25.6 170,25C171.4,24.4 173,24.9 174,25.5C175,26.1 176,27.3 175.9,28.5C175.8,29.7 175.1,29.9 173.5,32.5C171.9,35.1 168.4,40.3 166.5,44.2C164.6,48.1 164.6,52 161.9,55.9C159.2,59.8 153.5,64.3 150.2,67.6C146.9,70.9 144,73.3 142,75.7C140,78.1 138.6,82 138.4,82Z" fill="url(#vblue)"/>
<path d="M138.4,82C138.2,82 139.6,78.8 141,76C142.4,73.2 144.6,69.1 146.7,65.2C148.8,61.3 151.6,56.5 153.7,52.4C155.8,48.3 157.6,44.6 159.5,40.7C161.4,36.8 163.7,31.6 165.4,29C167.2,26.4 168.6,25.6 170,25C171.4,24.4 173,24.9 174,25.5C175,26.1 176,27.3 175.9,28.5C175.8,29.7 175.1,29.9 173.5,32.5C171.9,35.1 168.4,40.3 166.5,44.2C164.6,48.1 164.6,52 161.9,55.9C159.2,59.8 153.5,64.3 150.2,67.6C146.9,70.9 144,73.3 142,75.7C140,78.1 138.6,82 138.4,82Z" fill="url(#vblue)" transform="translate(1.5,1)"/>
<path d="M209.7,67.9 211.9,70.5 214.1,73.1 216.4,75.7 218.5,78.3 220.7,81M219.1,80.3L220.7,81L220.4,79.3M222.9,83.6 225,86.3 227.1,89 229.2,91.7M227.6,91L229.2,91.7L228.9,90.1M231.3,94.5 233.3,97.2 235.4,100M233.8,99.3L235.4,100L235.1,98.3M205.7,58.6 208,60.9 210.3,63.3 212.5,65.6 214.7,67.9 216.9,70.3 219.1,72.7 221.3,75.1 223.4,77.5 225.6,80 227.7,82.4M226.1,81.8L227.7,82.4L227.3,80.8M231.8,87.4 233.9,89.9 235.9,92.4 237.9,95M236.4,94.3L237.9,95L237.6,93.3M200.4,52.9 202.6,55.5 204.9,58 207.1,60.6M205.6,60L207.1,60.6L206.8,58.9M209.4,63.2 211.6,65.8 213.7,68.4 215.9,71.1 218,73.8M216.5,73.1L218,73.8L217.7,72.1M220.1,76.4 222.2,79.1 224.3,81.9 226.3,84.6 228.3,87.4 230.3,90.1 232.3,92.9 234.3,95.7 236.2,98.5M234.7,97.8L236.2,98.5L236,96.9M203.2,56.3 205.8,59 208.3,61.8 210.9,64.5 213.4,67.2 215.9,70M214.3,69.4L215.9,70L215.5,68.4M218.4,72.8 220.8,75.6 223.3,78.4 225.7,81.3M224.1,80.7L225.7,81.3L225.3,79.6M228.1,84.2 230.5,87 232.8,90 235.1,92.9 237.5,95.8 239.7,98.8M238.2,98.1L239.7,98.8L239.5,97.1M206.2,57.3 208.5,60.1 210.8,62.8 213.1,65.6 215.3,68.5 217.5,71.3M216,70.6L217.5,71.3L217.3,69.6M219.8,74.1 221.9,77 224.1,79.9 226.2,82.8 228.3,85.7M226.8,85L228.3,85.7L228.1,84.1M230.4,88.7 232.5,91.7 234.5,94.6 236.5,97.6M235,96.8L236.5,97.6L236.3,96M211.5,63.4 213.9,65.9 216.2,68.5 218.5,71.1 220.8,73.6 223.1,76.2 225.3,78.9 227.5,81.5 229.7,84.2M228.1,83.5L229.7,84.2L229.4,82.5M231.9,86.9 234,89.6M232.5,88.9L234,89.6L233.7,87.9M236.1,92.3 238.2,95.1 240.3,97.8M238.8,97.1L240.3,97.8L240.1,96.2M205.3,54 207.7,56.5 210,59 212.3,61.6M210.7,61L212.3,61.6L211.9,60M214.5,64.2 216.8,66.8 219,69.5 221.2,72.1 223.3,74.8 225.5,77.5 227.6,80.2M226,79.5L227.6,80.2L227.3,78.5M229.6,82.9 231.7,85.7 233.7,88.5 235.8,91.3 237.7,94.1 239.7,96.9M238.2,96.2L239.7,96.9L239.5,95.2M210,59.5 212.1,62.1 214.2,64.7 216.2,67.3 218.2,69.9 220.2,72.6M218.7,71.8L220.2,72.6L220,70.9M222.2,75.2 224.1,77.9 226.1,80.6 227.9,83.3 229.8,86.1 231.6,88.8M230.1,88L231.6,88.8L231.5,87.1M233.4,91.6 235.2,94.4 236.9,97.3M235.5,96.4L236.9,97.3L236.8,95.6M198.5,48.6 201.1,51.4 203.7,54.2 206.2,57M204.7,56.4L206.2,57L205.8,55.4M208.8,59.9 211.3,62.7 213.7,65.6 216.1,68.5 218.6,71.5M217,70.8L218.6,71.5L218.2,69.8M220.9,74.4 223.3,77.4 225.6,80.4 227.9,83.4 230.2,86.5 232.4,89.5 234.6,92.6 236.8,95.7 239,98.9M237.5,98.1L239,98.9L238.8,97.2M200.6,47.3 203.1,49.9 205.5,52.5 207.9,55.1 210.2,57.7 212.6,60.4 214.9,63.1 217.2,65.8 219.4,68.6 221.6,71.4 223.8,74.1M222.3,73.5L223.8,74.1L223.5,72.5M226,77 228.1,79.8 230.3,82.7 232.3,85.5M230.8,84.8L232.3,85.5L232.1,83.8M234.4,88.4 236.4,91.4 238.4,94.3 240.4,97.3M238.9,96.5L240.4,97.3L240.2,95.6M207.3,55.8 209.7,58.4 212,61.1 214.4,63.7 216.7,66.4 218.9,69.2 221.2,71.9 223.4,74.7 225.6,77.5M224,76.8L225.6,77.5L225.3,75.8M229.9,83.2 231.9,86.1 234,89 236.1,91.9 238.1,94.8M236.6,94.1L238.1,94.8L237.9,93.2M201.2,47.1 203.8,49.9 206.3,52.7 208.9,55.5M207.3,54.9L208.9,55.5L208.5,53.9M211.4,58.4 213.8,61.3 216.3,64.2 218.7,67.1 221.1,70.1 223.4,73 225.7,76 228,79.1 230.3,82.1M228.7,81.4L230.3,82.1L230,80.4M232.5,85.2 234.7,88.3 236.8,91.4 239,94.6 241.1,97.7M239.6,96.9L241.1,97.7L240.9,96.1M211,58.9 213.6,61.7 216.2,64.4 218.8,67.1M217.2,66.6L218.8,67.1L218.4,65.5M221.3,69.9 223.9,72.7 226.4,75.6 228.8,78.5 231.3,81.3 233.7,84.3 236,87.2M234.5,86.5L236,87.2L235.7,85.5M238.4,90.2 240.7,93.2 243,96.2M241.5,95.5L243,96.2L242.7,94.5M214.2,60.6 216.4,63.4 218.7,66.1 220.9,68.8M219.3,68.2L220.9,68.8L220.5,67.2M223,71.6 225.2,74.4 227.3,77.2M225.7,76.5L227.3,77.2L227,75.6M229.3,80.1 231.4,83 233.4,85.9 235.4,88.8 237.3,91.8 239.2,94.8M237.7,93.9L239.2,94.8L239.1,93.1M215.4,60.4 217.7,62.8 220,65.3 222.3,67.8M220.7,67.2L222.3,67.8L221.9,66.1M226.7,72.9 228.8,75.5 230.9,78.1 233,80.7 235.1,83.4 237.1,86.1 239.1,88.8 241.1,91.5 243,94.3M241.5,93.6L243,94.3L242.8,92.6M212.4,60.2 214.7,63 217,65.9 219.3,68.8 221.5,71.7 223.7,74.7M222.1,74L223.7,74.7L223.4,73M225.8,77.7 227.9,80.7 230,83.7 232,86.8M230.5,86L232,86.8L231.8,85.1M234,89.9 236,93 237.9,96.1 239.8,99.3M238.3,98.4L239.8,99.3L239.7,97.6M210,57.5 212.5,60 215,62.6 217.4,65.2 219.8,67.8 222.2,70.5 224.6,73.1M223,72.5L224.6,73.1L224.2,71.5M229.1,78.6 231.4,81.4 233.6,84.2 235.8,87 237.9,89.9 240,92.8 242.1,95.7M240.6,94.9L242.1,95.7L241.9,94M212.6,58.7 215.2,61.6 217.8,64.4 220.4,67.3 223,70.2 225.5,73.2 228,76.2 230.4,79.2 232.8,82.2M231.3,81.6L232.8,82.2L232.5,80.6M235.2,85.3 237.6,88.4M236,87.7L237.6,88.4L237.3,86.7M239.9,91.6 242.1,94.7 244.4,97.9M242.9,97.1L244.4,97.9L244.2,96.2M213.8,58.3 216.1,60.9 218.3,63.5 220.5,66.2 222.7,68.9M221.1,68.2L222.7,68.9L222.4,67.2M224.8,71.6 226.9,74.3M225.4,73.6L226.9,74.3L226.7,72.7M229,77.1 231,79.9 233,82.8 235,85.6 236.9,88.5 238.8,91.5 240.6,94.4M239.1,93.6L240.6,94.4L240.5,92.7M211.3,53.7 213.8,56.5 216.3,59.4 218.7,62.2 221,65.1 223.3,68.1 225.6,71 227.9,74 230.1,77 232.2,80.1 234.4,83.2 236.4,86.3M234.9,85.5L236.4,86.3L236.3,84.6M240.5,92.6 242.5,95.8 244.4,99M243,98.1L244.4,99L244.3,97.3M216.8,58.5 219.2,61.3 221.5,64 223.7,66.8 226,69.7 228.1,72.5 230.3,75.4 232.4,78.3M230.9,77.6L232.4,78.3L232.2,76.7M234.5,81.3 236.5,84.3 238.5,87.3M237,86.5L238.5,87.3L238.3,85.6M240.4,90.3 242.3,93.4 244.2,96.5M242.7,95.7L244.2,96.5L244.1,94.8M213.8,54.6 216,57.5 218.2,60.4 220.3,63.3 222.5,66.3 224.5,69.3 226.6,72.3 228.5,75.4M227,74.6L228.5,75.4L228.4,73.7M232.4,81.6 234.2,84.7 236,87.9 237.8,91.1 239.6,94.3 241.2,97.6M239.8,96.6L241.2,97.6L241.3,95.9M206.7,52.2 209.3,54.8 211.8,57.5 214.3,60.1 216.8,62.9 219.2,65.6 221.6,68.4M220,67.8L221.6,68.4L221.2,66.7M223.9,71.2 226.2,74.1 228.5,77 230.7,79.9M229.1,79.2L230.7,79.9L230.4,78.2M232.8,82.8 235,85.8 237.1,88.8 239.1,91.9 241.1,95 243.1,98.1M241.6,97.2L243.1,98.1L243,96.4M214,56.6 216.6,59.5 219.2,62.5 221.7,65.5M220.1,64.8L221.7,65.5L221.3,63.8M224.1,68.5 226.6,71.6 229,74.7 231.3,77.8 233.6,80.9 235.9,84.1M234.3,83.4L235.9,84.1L235.6,82.4M238.1,87.4 240.2,90.6 242.4,93.9 244.5,97.2M243,96.4L244.5,97.2L244.3,95.5M213.3,51.9 215.8,54.5 218.2,57.1 220.6,59.7 222.9,62.4M221.4,61.8L222.9,62.4L222.6,60.8M225.2,65.1 227.5,67.9 229.7,70.7 231.9,73.5 234,76.4M232.5,75.6L234,76.4L233.7,74.7M236.1,79.3 238.1,82.2 240.1,85.1 242.1,88.1 244,91.2 245.9,94.2M244.4,93.4L245.9,94.2L245.8,92.5M205.5,41.6 207.9,44.2 210.4,46.9 212.7,49.7 215.1,52.4 217.4,55.2 219.6,58 221.8,60.9 223.9,63.8M222.4,63.1L223.9,63.8L223.7,62.1M226,66.7 228.1,69.7 230.1,72.7M228.6,71.9L230.1,72.7L229.9,71M232,75.7 234,78.7 235.8,81.8 237.6,84.9 239.4,88.1 241.2,91.3 242.8,94.5M241.4,93.5L242.8,94.5L242.8,92.8M211.5,46.8 213.8,49.6 216,52.4 218.1,55.2 220.3,58.1 222.3,61M220.8,60.2L222.3,61L222.1,59.3M224.4,63.9 226.4,66.8 228.3,69.8 230.2,72.8 232,75.9 233.8,79M232.3,78.1L233.8,79L233.7,77.3M235.5,82.1 237.2,85.2 238.9,88.4 240.5,91.6 242,94.9M240.6,93.8L242,94.9L242.1,93.2M215.4,51.7 217.6,54.5 219.8,57.3 221.9,60.2 223.9,63.1 226,66 227.9,69M226.4,68.2L227.9,69L227.8,67.3M229.8,72 231.7,75 233.5,78M232.1,77.2L233.5,78L233.4,76.3M235.3,81.1 237,84.2 238.7,87.4 240.3,90.6 241.9,93.8M240.5,92.8L241.9,93.8L242,92.1M218.8,56.3 221.3,59.2 223.7,62.1 226,65.1 228.3,68.1M226.8,67.4L228.3,68.1L228.1,66.4M230.6,71.1 232.8,74.2M231.3,73.5L232.8,74.2L232.6,72.5M235,77.3 237.1,80.5 239.2,83.7 241.2,86.9 243.2,90.1 245.1,93.4 247,96.7M245.5,95.8L247,96.7L246.9,95M205.8,40.9 208.5,43.7 211.2,46.6 213.9,49.5 216.5,52.5 219,55.5 221.5,58.5M219.9,57.9L221.5,58.5L221.2,56.9M224,61.6 226.4,64.7 228.7,67.8 231,71 233.3,74.2 235.5,77.5 237.6,80.8 239.7,84.1 241.8,87.5M240.3,86.6L241.8,87.5L241.7,85.8M243.8,90.9 245.7,94.3 247.6,97.8M246.2,96.8L247.6,97.8L247.6,96.1M209.5,48.7 212.2,51.2 214.8,53.8 217.4,56.4M215.8,55.9L217.4,56.4L216.9,54.7M219.9,59 222.4,61.6 224.9,64.3 227.3,67.1 229.7,69.9M228.1,69.2L229.7,69.9L229.3,68.2M232,72.7 234.2,75.5 236.4,78.4 238.6,81.4 240.7,84.4 242.8,87.4 244.9,90.5 246.8,93.6M245.4,92.7L246.8,93.6L246.7,91.9M212.5,46.6 214.8,49.5 217,52.5 219.2,55.5 221.3,58.5 223.3,61.5 225.3,64.6 227.3,67.7M225.8,66.9L227.3,67.7L227.1,66M229.1,70.9 231,74.1M229.5,73.2L231,74.1L230.9,72.4M232.8,77.3 234.5,80.5 236.2,83.8 237.8,87.1 239.3,90.5 240.9,93.9 242.3,97.3M241,96.2L242.3,97.3L242.5,95.6M213.1,50.4 215.5,53.1 217.9,55.8 220.3,58.6M218.7,57.9L220.3,58.6L219.9,56.9M222.6,61.4 224.8,64.2 227,67.1 229.2,70M227.7,69.3L229.2,70L229,68.4M231.3,73 233.3,76 235.3,79.1 237.3,82.1 239.2,85.2 241,88.4 242.8,91.6 244.6,94.8M243.1,93.9L244.6,94.8L244.5,93.1M221.5,57.6 223.7,60.5 225.9,63.5 228,66.4M226.5,65.7L228,66.4L227.8,64.7M230,69.4 232,72.5 234,75.6 235.9,78.7M234.4,77.8L235.9,78.7L235.8,77M237.7,81.8 239.5,85 241.3,88.3 243,91.5 244.6,94.8M243.2,93.8L244.6,94.8L244.6,93.1M207.1,43.1 209.9,45.7 212.6,48.3 215.2,51 217.8,53.7 220.4,56.5 222.9,59.3 225.3,62.2M223.7,61.6L225.3,62.2L224.9,60.5M227.7,65.1 230,68M228.5,67.3L230,68L229.7,66.4M232.3,71 234.6,74 236.7,77.1 238.9,80.2 240.9,83.4 243,86.6 244.9,89.8 246.9,93.1M245.4,92.2L246.9,93.1L246.8,91.4M206.2,38.6 209,41.4 211.8,44.3 214.5,47.1 217.2,50 219.8,53 222.3,56 224.8,59 227.2,62.1 229.6,65.2 231.9,68.4 234.2,71.6M232.7,70.8L234.2,71.6L234,69.9M236.4,74.8 238.6,78.1M237.1,77.3L238.6,78.1L238.4,76.4M240.7,81.4 242.8,84.8 244.8,88.2 246.7,91.6 248.6,95.1M247.2,94.2L248.6,95.1L248.6,93.4M208.6,41.9 211.2,44.6 213.7,47.5 216.1,50.3 218.6,53.2 220.9,56.2 223.2,59.1 225.4,62.2 227.6,65.2 229.7,68.3M228.2,67.5L229.7,68.3L229.5,66.6M231.8,71.4 233.8,74.6 235.7,77.8M234.3,77L235.7,77.8L235.7,76.1M237.6,81.1 239.5,84.4 241.3,87.7 243,91.1 244.6,94.5M243.3,93.5L244.6,94.5L244.7,92.8M212.4,42.2 214.9,45 217.4,47.8 219.7,50.7 222.1,53.6 224.3,56.6 226.5,59.6 228.6,62.7M227.1,61.9L228.6,62.7L228.4,61M230.7,65.7 232.7,68.9 234.7,72 236.6,75.2 238.4,78.5 240.2,81.7 241.9,85.1M240.5,84.1L241.9,85.1L242,83.4M243.6,88.4 245.2,91.8 246.7,95.2M245.4,94.2L246.7,95.2L246.9,93.5M212,45.1 214.6,47.7 217.2,50.3 219.7,52.9 222.1,55.6 224.5,58.3M222.9,57.7L224.5,58.3L224.1,56.7M226.8,61.1 229.1,64 231.3,66.8 233.4,69.7 235.5,72.7 237.5,75.7 239.5,78.8M238,77.9L239.5,78.8L239.4,77.1M241.5,81.9 243.3,85 245.1,88.2 246.9,91.4M245.5,90.5L246.9,91.4L246.9,89.7M209.6,40.4 212.2,43.3 214.7,46.1 217.1,49.1 219.5,52 221.9,55 224.1,58.1 226.3,61.2 228.5,64.3 230.5,67.5 232.6,70.7M231.1,69.8L232.6,70.7L232.4,69M234.5,73.9 236.4,77.2 238.3,80.5 240,83.9M238.6,83L240,83.9L240,82.2M241.7,87.3 243.4,90.8 245,94.3M243.7,93.2L245,94.3L245.1,92.6M214.7,44.8 217.1,47.5 219.4,50.3 221.7,53.1 223.9,55.9 226,58.8 228.1,61.7 230.1,64.7M228.6,63.9L230.1,64.7L230,63M232.1,67.7 234,70.7 235.8,73.8M234.4,72.9L235.8,73.8L235.7,72.1M237.6,76.9 239.3,80.1 240.9,83.3 242.5,86.5 244,89.8 245.4,93.2M244.1,92.1L245.4,93.2L245.6,91.5M218.6,47.1 221.1,49.9 223.6,52.6 226,55.5M224.4,54.8L226,55.5L225.7,53.8M228.4,58.3 230.7,61.3 232.9,64.2 235.1,67.2 237.2,70.3 239.2,73.4M237.7,72.6L239.2,73.4L239.1,71.7M241.2,76.5 243.1,79.7 245,82.9 246.8,86.2 248.5,89.5 250.2,92.9M248.8,91.9L250.2,92.9L250.3,91.2M213.6,39.1 216.1,41.9 218.6,44.9 221,47.8 223.3,50.8M221.8,50.1L223.3,50.8L223,49.2M225.6,53.9 227.8,57 229.9,60.1 232,63.3 234,66.5 236,69.8M234.5,68.9L236,69.8L235.9,68.1M237.9,73.1 239.7,76.4 241.4,79.8 243.1,83.2 244.7,86.7 246.3,90.2 247.8,93.7M246.5,92.6L247.8,93.7L248,92M225.1,51.4 227.4,54.5 229.7,57.7 231.9,60.9 234,64.2M232.5,63.3L234,64.2L233.9,62.5M236.1,67.4 238.1,70.8 240,74.2 241.9,77.6M240.5,76.6L241.9,77.6L241.9,75.9M243.7,81 245.4,84.5 247.1,88.1 248.7,91.7 250.3,95.3M248.9,94.2L250.3,95.3L250.4,93.6M221.2,48.4 223.4,51.2 225.5,54.1 227.6,57M226.1,56.3L227.6,57L227.4,55.3M229.7,59.9 231.6,62.9 233.5,66 235.3,69 237.1,72.1 238.8,75.3 240.4,78.5 241.9,81.7M240.6,80.7L241.9,81.7L242,80M243.4,85 244.9,88.4 246.2,91.7M244.9,90.6L246.2,91.7L246.4,90M209.4,39.3 212.1,42 214.8,44.7 217.3,47.5 219.9,50.4 222.3,53.2 224.7,56.2 227,59.1 229.3,62.2 231.5,65.2 233.6,68.4M232.1,67.6L233.6,68.4L233.4,66.7M235.6,71.5 237.6,74.7 239.5,78 241.4,81.3M240,80.4L241.4,81.3L241.3,79.6M243.2,84.6 244.9,88 246.5,91.4 248.1,94.9M246.8,93.9L248.1,94.9L248.2,93.2M216.6,44.9 219.1,47.5 221.5,50.1 223.9,52.8 226.2,55.5 228.4,58.3M226.9,57.6L228.4,58.3L228.1,56.6M232.7,64 234.7,66.9 236.7,69.9 238.6,72.9 240.4,76 242.2,79.1 243.9,82.2 245.5,85.4 247.1,88.7 248.6,92M247.2,91L248.6,92L248.7,90.3M226.3,51.9 228.6,54.8 230.8,57.9 232.9,61 235,64.1 237,67.2M235.5,66.4L237,67.2L236.8,65.6M238.9,70.5 240.7,73.7 242.5,77 244.2,80.4M242.8,79.4L244.2,80.4L244.3,78.7M245.9,83.8 247.5,87.2 249,90.7M247.6,89.7L249,90.7L249.1,89.1M224.8,49.3 227.2,52.2 229.6,55.1 231.8,58.1 234,61.1M232.5,60.4L234,61.1L233.8,59.4M238.2,67.3 240.2,70.5 242.1,73.7 243.9,77 245.7,80.3 247.4,83.7 249.1,87.1 250.6,90.5M249.3,89.5L250.6,90.5L250.8,88.9M220.5,46.1 223,48.7 225.4,51.4 227.7,54.1M226.1,53.4L227.7,54.1L227.3,52.4M229.9,56.8 232.1,59.6 234.2,62.4 236.3,65.3 238.2,68.2M236.7,67.4L238.2,68.2L238.1,66.5M240.1,71.2 242,74.3 243.7,77.3 245.4,80.5 247,83.7 248.6,86.9 250.1,90.2M248.7,89.1L250.1,90.2L250.2,88.5M222.5,48.9 224.8,51.5 227.1,54.2 229.2,56.9 231.3,59.7 233.4,62.5 235.3,65.3 237.2,68.3 239,71.2M237.6,70.4L239,71.2L238.9,69.5M242.4,77.3 244,80.5 245.6,83.6 247,86.9 248.4,90.1M247.1,89.1L248.4,90.1L248.6,88.4M212.5,37.5 215.4,40.4 218.3,43.4 221.1,46.4 223.9,49.5M222.3,48.9L223.9,49.5L223.5,47.8M226.5,52.6 229.1,55.8 231.6,59.1 234.1,62.3 236.5,65.7 238.8,69.1 241,72.5 243.2,76M241.7,75.2L243.2,76L243.1,74.3M245.3,79.6 247.3,83.2 249.2,86.8 251.1,90.6 252.9,94.3M251.6,93.3L252.9,94.3L253,92.6M218.2,45.1 220.9,47.8 223.5,50.6 226.1,53.4 228.6,56.3 231,59.2 233.3,62.2 235.6,65.2 237.8,68.3M236.3,67.5L237.8,68.3L237.6,66.6M239.9,71.4 242,74.6 244,77.9 245.9,81.2M244.5,80.3L245.9,81.2L245.8,79.5M247.8,84.5 249.5,87.9 251.2,91.4M249.9,90.4L251.2,91.4L251.3,89.7M215.6,33.2 218.2,36 220.7,38.8 223.1,41.6 225.4,44.5 227.7,47.5 229.8,50.5 231.9,53.5 234,56.6M232.5,55.8L234,56.6L233.8,54.9M235.9,59.7 237.8,62.9 239.6,66.1 241.3,69.4 242.9,72.7 244.5,76.1M243.2,75L244.5,76.1L244.6,74.4M246,79.5 247.4,82.9 248.7,86.4 250,90M248.7,88.9L250,90L250.2,88.3M216.6,40.5 219.3,43.1 222,45.8 224.6,48.5 227.1,51.2 229.5,54.1M227.9,53.4L229.5,54.1L229.1,52.4M231.9,56.9 234.2,59.8M232.6,59.1L234.2,59.8L233.9,58.2M236.4,62.8 238.5,65.8 240.6,68.9 242.6,72 244.5,75.2 246.3,78.5 248.1,81.8 249.8,85.1 251.4,88.5 253,92M251.6,90.9L253,92L253.1,90.3M216.3,36.5 219,39.5 221.6,42.6 224.1,45.7M222.5,45L224.1,45.7L223.8,44M226.5,48.8 228.9,52M227.3,51.3L228.9,52L228.6,50.3M231.2,55.3 233.4,58.6 235.5,61.9 237.5,65.3 239.5,68.8 241.4,72.3 243.2,75.8 244.9,79.4 246.6,83 248.1,86.7 249.6,90.5 251,94.3M249.7,93.1L251,94.3L251.2,92.6M228.1,48.1 230.2,51 232.2,54 234.1,57.1 235.9,60.1M234.4,59.3L235.9,60.1L235.8,58.4M237.7,63.3 239.3,66.5M237.9,65.5L239.3,66.5L239.3,64.8M240.9,69.7 242.4,73 243.8,76.3 245.2,79.7 246.4,83.1 247.6,86.5 248.7,90M247.5,88.8L248.7,90L249,88.4M222.7,47.5 225.3,50.2 227.8,52.9 230.2,55.7 232.5,58.6 234.8,61.5 236.9,64.5 239,67.5 241.1,70.6M239.6,69.8L241.1,70.6L240.9,68.9M243,73.8 244.9,77 246.7,80.2M245.2,79.3L246.7,80.2L246.7,78.5M248.4,83.5 250,86.9 251.6,90.4M250.2,89.3L251.6,90.4L251.7,88.7M219.8,42 222.4,44.8 224.9,47.7 227.4,50.6 229.7,53.6 232,56.6 234.2,59.7M232.7,58.9L234.2,59.7L234,58M236.3,62.8 238.4,66 240.3,69.3 242.2,72.6 244,75.9M242.6,75L244,75.9L244,74.2M245.8,79.4 247.4,82.8 249,86.3 250.5,89.9M249.1,88.8L250.5,89.9L250.6,88.2M226.5,49 229.1,52 231.6,55.1 234,58.3M232.5,57.6L234,58.3L233.7,56.6M238.7,64.8 240.9,68.1 243,71.5 245,74.9 247,78.4 248.9,82 250.7,85.6 252.4,89.3 254,93M252.7,92L254,93L254.2,91.3M227.8,49.1 230.2,51.8 232.5,54.7 234.8,57.6 236.9,60.6M235.4,59.8L236.9,60.6L236.7,58.9M239,63.6 241,66.7 243,69.8 244.8,73M243.4,72.1L244.8,73L244.8,71.3M246.6,76.3 248.3,79.6 249.9,82.9 251.4,86.4 252.8,89.8M251.5,88.8L252.8,89.8L253,88.1M231.8,50.9 233.9,54.2 235.9,57.6 237.9,61 239.7,64.4 241.5,67.9 243.2,71.5M241.8,70.4L243.2,71.5L243.3,69.8M246.3,78.7 247.7,82.4 249,86.1 250.3,89.9 251.4,93.8M250.2,92.6L251.4,93.8L251.8,92.1M230.4,48.6 232.6,51.4 234.7,54.3 236.7,57.2 238.7,60.2 240.5,63.2M239,62.4L240.5,63.2L240.4,61.5M242.3,66.3 243.9,69.5M242.5,68.5L243.9,69.5L243.9,67.8M245.5,72.7 247,75.9 248.5,79.2 249.8,82.6 251,86 252.2,89.5M251,88.3L252.2,89.5L252.5,87.8M229.9,49.2 232.2,52.2 234.4,55.2 236.5,58.2 238.6,61.4 240.5,64.5 242.4,67.8 244.2,71.1M242.7,70.1L244.2,71.1L244.1,69.4M245.8,74.4 247.4,77.8 249,81.3M247.6,80.2L249,81.3L249.1,79.6M250.4,84.8 251.7,88.4 253,92M251.7,90.8L253,92L253.2,90.3M227.8,45.5 230.2,48.5 232.5,51.6 234.7,54.8M233.2,54L234.7,54.8L234.5,53.1M238.9,61.3 240.8,64.6 242.6,68 244.4,71.4 246.1,74.9 247.6,78.4 249.1,82 250.5,85.6 251.8,89.3 253,93.1M251.8,91.9L253,93.1L253.3,91.4M225.8,44.8 228.2,47.7 230.5,50.6 232.6,53.6 234.7,56.6 236.7,59.7 238.6,62.8 240.4,66M239,65.1L240.4,66L240.4,64.3M242.1,69.3 243.8,72.6 245.3,75.9 246.8,79.4M245.4,78.3L246.8,79.4L246.9,77.7M248.1,82.8 249.4,86.4 250.6,89.9M249.3,88.8L250.6,89.9L250.9,88.3M216.4,32.4 219.2,35.4 221.9,38.4 224.5,41.5 227,44.6 229.4,47.8 231.8,51.1 234,54.4 236.2,57.7 238.3,61.1 240.2,64.6 242.1,68.1M240.7,67.1L242.1,68.1L242.1,66.4M243.9,71.7 245.6,75.3 247.2,79M245.9,77.9L247.2,79L247.3,77.3M248.7,82.7 250.1,86.5 251.5,90.3 252.7,94.2M251.5,93L252.7,94.2L253,92.5M216.3,30.3 219.1,33.1 221.9,35.9 224.6,38.8 227.2,41.8 229.7,44.8 232.1,47.9 234.4,51 236.6,54.2M235.1,53.4L236.6,54.2L236.4,52.5M238.7,57.4 240.7,60.8 242.7,64.1 244.5,67.5 246.3,71M244.9,70L246.3,71L246.3,69.3M247.9,74.6 249.5,78.2 251,81.8 252.4,85.5 253.7,89.3M252.5,88.1L253.7,89.3L254,87.6M222,35.7 224.9,38.9 227.6,42.1 230.2,45.4 232.8,48.8M231.2,48.1L232.8,48.8L232.5,47.1M235.2,52.2 237.6,55.7 239.9,59.3 242.1,62.9 244.2,66.5 246.2,70.3 248.1,74 249.9,77.9M248.5,76.9L249.9,77.9L250,76.2M251.6,81.8 253.2,85.7 254.8,89.7 256.2,93.8M254.9,92.7L256.2,93.8L256.4,92.1M232.6,47.7 235,50.5 237.3,53.4 239.5,56.4 241.7,59.4 243.7,62.5 245.7,65.6 247.5,68.8M246.1,67.9L247.5,68.8L247.5,67.1M249.3,72.1 251,75.4M249.6,74.5L251,75.4L251,73.7M252.6,78.8 254,82.3 255.4,85.8 256.8,89.4M255.5,88.3L256.8,89.4L257,87.7M225.4,41.3 228.1,44.1 230.7,47 233.2,50M231.6,49.4L233.2,50L232.9,48.4M235.6,53.1 238,56.2 240.2,59.4 242.3,62.6M240.8,61.8L242.3,62.6L242.2,60.9M244.4,65.9 246.4,69.3 248.2,72.7 250,76.2 251.7,79.8 253.3,83.4 254.8,87.1 256.2,90.8M254.9,89.7L256.2,90.8L256.4,89.1M222.5,38.7 225.3,41.5 228,44.2 230.7,47.1 233.2,50 235.6,53 238,56.1 240.2,59.2 242.4,62.3M240.9,61.5L242.4,62.3L242.2,60.6M246.4,68.9 248.3,72.3 250.1,75.7 251.8,79.2 253.4,82.8 254.9,86.4 256.3,90.1M255,89L256.3,90.1L256.5,88.4M221.9,32.5 224.6,35.2 227.1,37.8 229.6,40.6M228,40L229.6,40.6L229.2,38.9M231.9,43.4 234.2,46.2 236.4,49.2 238.5,52.1M236.9,51.3L238.5,52.1L238.3,50.4M240.4,55.2 242.3,58.2 244.1,61.4 245.7,64.6 247.3,67.8 248.8,71.2 250.2,74.5 251.4,78 252.6,81.5 253.7,85 254.7,88.6M253.5,87.4L254.7,88.6L255.1,87M233.5,49.7 235.8,52.9 238,56 240.1,59.3M238.6,58.4L240.1,59.3L240,57.6M242.1,62.6 244.1,65.9M242.6,65L244.1,65.9L244,64.2M245.9,69.3 247.6,72.8 249.3,76.4 250.8,80 252.2,83.6 253.6,87.3 254.8,91.1M253.6,90L254.8,91.1L255.1,89.5M229.8,40.1 232.1,43.1 234.2,46.2 236.3,49.3M234.8,48.5L236.3,49.3L236.2,47.6M238.3,52.5 240.1,55.7 241.9,59 243.6,62.4 245.1,65.8M243.8,64.7L245.1,65.8L245.2,64.1M246.6,69.2 247.9,72.7 249.2,76.3 250.3,79.9 251.3,83.6 252.2,87.3 253.1,91M252,89.7L253.1,91L253.5,89.4M228.6,40.2 231.3,43.2 233.9,46.2 236.3,49.2M234.8,48.6L236.3,49.2L236,47.6M238.7,52.4 241,55.5 243.2,58.8 245.3,62.1 247.3,65.5 249.2,68.9 251,72.5 252.8,76 254.4,79.7M253,78.6L254.4,79.7L254.5,78M255.9,83.4 257.3,87.1 258.6,91M257.3,89.8L258.6,91L258.9,89.3M223.4,32.2 226.1,35.3 228.8,38.4 231.3,41.6 233.7,44.9 236,48.2 238.2,51.5M236.7,50.7L238.2,51.5L238,49.8M240.3,54.9 242.2,58.4 244.1,61.9 245.9,65.5 247.6,69.2M246.2,68.1L247.6,69.2L247.7,67.5M249.2,72.9 250.6,76.6 252,80.4 253.2,84.3 254.4,88.3 255.5,92.2M254.3,91L255.5,92.2L255.8,90.6M236.6,48.6 238.9,51.5 241.1,54.4 243.2,57.5 245.2,60.5 247.1,63.7 248.8,66.9 250.5,70.2M249.1,69.2L250.5,70.2L250.6,68.5M253.6,77 255,80.4 256.3,84 257.5,87.6M256.3,86.4L257.5,87.6L257.8,85.9M224.5,35 227.3,38 230,41.1 232.6,44.2 235.1,47.4 237.5,50.7 239.8,54.1 242,57.5 244.1,60.9 246.1,64.5 248,68M246.6,67.1L248,68L248,66.3M249.7,71.7 251.4,75.4 253,79.2M251.7,78.1L253,79.2L253.1,77.5M254.5,83.1 255.8,87 257.1,91M255.9,89.8L257.1,91L257.4,89.3M231.6,40.9 233.9,44.2 236.2,47.5 238.3,50.9 240.4,54.4M238.9,53.5L240.4,54.4L240.3,52.7M242.3,57.9 244.2,61.5 245.9,65.1 247.5,68.8M246.2,67.8L247.5,68.8L247.6,67.1M249,72.6 250.4,76.4 251.7,80.2 252.8,84.2 253.9,88.2 254.9,92.2M253.7,90.9L254.9,92.2L255.3,90.6M229.2,35.2 231.7,38.2 234,41.3 236.2,44.4 238.4,47.6M236.9,46.8L238.4,47.6L238.2,45.9M240.4,50.9 242.3,54.2 244.1,57.6 245.8,61 247.4,64.5 248.8,68 250.2,71.6M248.9,70.5L250.2,71.6L250.4,69.9M251.5,75.3 252.6,79 253.6,82.7 254.5,86.6 255.3,90.5M254.3,89.1L255.3,90.5L255.8,88.8M234,39.4 236.4,42.5 238.7,45.6 241,48.8 243.1,52.1 245.1,55.4 247,58.8 248.7,62.2M247.3,61.3L248.7,62.2L248.8,60.5M252,69.3 253.5,72.9 254.8,76.6 256,80.4 257.2,84.2 258.2,88.1M257.1,86.9L258.2,88.1L258.6,86.5M228.5,35.5 231.1,38.6 233.5,41.8 235.9,45.1 238.1,48.4M236.6,47.6L238.1,48.4L237.9,46.7M242.3,55.2 244.2,58.6 246,62.2 247.6,65.8 249.2,69.5 250.7,73.2 252,77 253.3,80.9 254.4,84.8 255.5,88.8M254.3,87.5L255.5,88.8L255.9,87.1M227.4,35.6 230.3,38.3 233,41.1 235.7,44 238.2,46.9M236.6,46.3L238.2,46.9L237.8,45.2M240.6,49.9 243,52.9 245.2,56.1 247.3,59.3 249.3,62.6 251.2,65.9M249.8,65L251.2,65.9L251.2,64.2M253,69.3 254.7,72.8 256.3,76.4 257.8,80 259.2,83.8 260.4,87.5M259.2,86.4L260.4,87.5L260.7,85.9M233.1,42.6 235.5,45.7 237.8,48.9 240,52.2 242,55.6 244,59 245.8,62.4M244.4,61.5L245.8,62.4L245.8,60.7M247.5,66 249.1,69.5 250.6,73.2 252,76.9M250.7,75.8L252,76.9L252.2,75.2M253.2,80.7 254.4,84.5 255.4,88.4 256.3,92.4M255.2,91.1L256.3,92.4L256.8,90.7M227.3,35.9 230.1,38.6 232.8,41.3 235.5,44.1 238,47 240.4,49.9M238.8,49.3L240.4,49.9L240.1,48.3M242.7,53 244.9,56.1 247,59.2 249,62.5 250.9,65.8 252.6,69.2M251.2,68.2L252.6,69.2L252.6,67.5M254.3,72.6 255.8,76.2 257.3,79.8 258.6,83.5 259.9,87.2M258.6,86.1L259.9,87.2L260.2,85.6M238.5,42 240.7,45.1 242.9,48.3 244.9,51.5 246.8,54.7 248.6,58.1 250.3,61.5 251.9,65M250.5,63.9L251.9,65L252,63.3M253.3,68.5 254.7,72.1 255.9,75.7M254.7,74.6L255.9,75.7L256.2,74.1M257,79.5 258,83.3 258.9,87.1M257.8,85.8L258.9,87.1L259.3,85.5M232.5,36.9 234.9,40 237.1,43.3 239.2,46.6 241.2,49.9 243.1,53.3 244.9,56.8 246.5,60.3 248.1,63.9M246.7,62.8L248.1,63.9L248.2,62.2M249.5,67.5 250.8,71.2M249.5,70L250.8,71.2L251,69.5M251.9,74.9 253,78.8 253.9,82.6 254.7,86.5 255.4,90.5M254.3,89.2L255.4,90.5L255.9,88.9M234.3,34 236.6,37.2 238.8,40.5 240.9,43.8 242.8,47.2 244.7,50.6 246.4,54.1 247.9,57.6M246.6,56.6L247.9,57.6L248.1,55.9M249.4,61.2 250.7,64.9M249.5,63.7L250.7,64.9L251,63.2M252,68.6 253.1,72.3 254,76.2 254.9,80 255.6,84 256.2,88M255.2,86.6L256.2,88L256.8,86.4M238.6,44.1 240.8,47.4 242.9,50.8 244.9,54.3 246.8,57.8 248.6,61.3 250.2,65 251.7,68.7M250.4,67.6L251.7,68.7L251.9,67M253.1,72.4 254.4,76.3M253.2,75.1L254.4,76.3L254.7,74.6M255.6,80.2 256.6,84.1 257.5,88.1M256.4,86.9L257.5,88.1L258,86.5M233.7,39.8 236.3,42.9 238.8,46.1 241.1,49.4 243.4,52.7M241.9,51.9L243.4,52.7L243.2,51M245.5,56.1 247.6,59.6M246.1,58.7L247.6,59.6L247.5,57.9M249.5,63.1 251.3,66.7 252.9,70.4 254.5,74.2 255.9,78 257.3,81.9 258.5,85.8 259.6,89.9M258.4,88.6L259.6,89.9L259.9,88.2M234.3,37.8 236.9,41.1 239.3,44.6 241.7,48.1M240.2,47.2L241.7,48.1L241.5,46.4M243.9,51.6 246,55.2 247.9,58.9 249.8,62.7 251.5,66.5 253.1,70.4 254.6,74.3 256,78.4M254.8,77.2L256,78.4L256.3,76.7M257.3,82.5 258.4,86.6 259.4,90.8M258.3,89.6L259.4,90.8L259.8,89.2M232.4,35.2 235,38.4 237.6,41.7 240.1,45 242.4,48.4 244.6,51.9M243.1,51.1L244.6,51.9L244.5,50.2M246.7,55.5 248.6,59.1 250.5,62.8 252.2,66.6 253.8,70.4M252.5,69.3L253.8,70.4L253.9,68.7M255.3,74.3 256.6,78.2 257.8,82.3 258.9,86.4 259.9,90.6M258.8,89.3L259.9,90.6L260.4,88.9M241.6,39.5 243.9,42.7 246.1,46 248.1,49.4 250,52.8M248.6,51.8L250,52.8L250,51.1M251.8,56.2 253.5,59.8 255.1,63.4 256.5,67M255.2,65.9L256.5,67L256.7,65.4M257.8,70.8 259,74.6 260,78.5 261,82.4 261.8,86.4M260.7,85.1L261.8,86.4L262.3,84.8M243.4,44.9 245.6,48.3 247.7,51.7 249.6,55.3 251.4,58.8 253.1,62.5 254.7,66.2M253.4,65.2L254.7,66.2L254.8,64.5M256.1,70 257.4,73.9 258.6,77.8M257.4,76.6L258.6,77.8L258.9,76.2M259.6,81.8 260.6,85.9 261.4,90M260.3,88.7L261.4,90L261.9,88.4M237.7,38.1 240.1,41.1 242.3,44.3 244.4,47.5 246.4,50.7 248.3,54.1 250,57.5 251.6,60.9M250.2,59.9L251.6,60.9L251.7,59.2M253.1,64.4 254.4,68M253.2,66.9L254.4,68L254.7,66.4M255.7,71.7 256.8,75.5 257.7,79.3 258.6,83.1 259.3,87.1M258.3,85.7L259.3,87.1L259.8,85.4M232.2,25.5 234.9,28.7 237.5,31.9 240,35.1M238.5,34.4L240,35.1L239.7,33.5M242.3,38.5 244.6,41.9 246.6,45.3M245.2,44.4L246.6,45.3L246.6,43.6M248.6,48.8 250.4,52.4 252.1,56.1 253.7,59.8 255.1,63.5 256.5,67.4 257.6,71.3 258.7,75.2 259.6,79.3 260.4,83.3 261.1,87.5M260.1,86.1L261.1,87.5L261.6,85.9M240,39.8 242.4,43.3 244.7,46.8 246.9,50.5 248.9,54.2M247.5,53.2L248.9,54.2L248.9,52.5M250.9,57.9 252.6,61.7 254.3,65.6 255.8,69.6 257.2,73.6M256,72.5L257.2,73.6L257.5,71.9M258.5,77.7 259.6,81.9 260.7,86.1 261.5,90.4M260.5,89.1L261.5,90.4L262,88.8M226,25 229.1,27.9 232.1,30.9 235,33.9 237.8,37 240.5,40.2 243,43.5 245.4,46.8 247.6,50.2 249.8,53.7 251.8,57.3 253.7,60.9M252.3,60L253.7,60.9L253.7,59.2M255.4,64.6 257.1,68.4 258.6,72.3M257.3,71.2L258.6,72.3L258.8,70.6M260,76.2 261.2,80.2 262.4,84.3 263.4,88.5M262.2,87.2L263.4,88.5L263.8,86.8M238.7,36.8 241.2,40.1 243.5,43.5 245.7,47 247.8,50.5 249.8,54.1M248.4,53.1L249.8,54.1L249.8,52.4M251.6,57.7 253.3,61.5 254.9,65.3 256.3,69.1 257.6,73 258.8,77M257.6,75.8L258.8,77L259.1,75.4M259.8,81.1 260.7,85.2 261.5,89.4M260.4,88.1L261.5,89.4L262,87.8M228,28.8 230.9,31.6 233.6,34.6 236.2,37.5 238.6,40.6 240.9,43.7 243.1,46.9 245.2,50.2M243.7,49.4L245.2,50.2L245,48.5M247.1,53.5 248.9,57 250.5,60.4M249.2,59.4L250.5,60.4L250.6,58.7M252.1,64 253.5,67.6 254.8,71.3 255.9,75.1 256.9,79 257.8,82.9 258.6,86.9M257.5,85.5L258.6,86.9L259.1,85.2M241.8,42.1 244.1,45.7 246.2,49.4 248.3,53.1 250.1,56.9 251.9,60.8 253.5,64.7 255,68.7M253.7,67.6L255,68.7L255.2,67.1M256.3,72.8 257.5,77M256.4,75.8L257.5,77L257.9,75.3M258.6,81.2 259.6,85.5 260.4,89.8M259.3,88.5L260.4,89.8L260.9,88.2M229.4,27.4 232.4,30.3 235.4,33.3 238.2,36.3 240.8,39.4 243.4,42.6M241.8,42L243.4,42.6L243.1,41M245.8,45.9 248.1,49.3 250.2,52.7 252.2,56.2 254.1,59.8 255.9,63.5 257.5,67.3 259,71.1M257.7,70L259,71.1L259.2,69.4M260.4,75 261.6,79 262.7,83 263.7,87.2M262.6,85.9L263.7,87.2L264.2,85.5M230.6,24.4 233.5,27.5 236.3,30.7 239,34M237.4,33.3L239,34L238.7,32.3M241.5,37.4 243.9,40.8 246.1,44.3 248.2,47.8 250.2,51.5 252,55.2 253.7,58.9 255.3,62.8 256.7,66.7 258,70.7 259.2,74.7M258,73.5L259.2,74.7L259.5,73.1M260.2,78.9 261.1,83.1 261.9,87.3M260.8,86L261.9,87.3L262.4,85.7M244.6,42 246.8,45.3 248.9,48.8 250.9,52.3M249.5,51.3L250.9,52.3L250.9,50.6M252.7,55.8 254.5,59.5 256,63.2 257.5,67 258.8,70.8 259.9,74.8M258.7,73.6L259.9,74.8L260.3,73.1M261,78.8 261.8,82.9 262.6,87M261.6,85.7L262.6,87L263.1,85.4M229.7,23.3 232.7,26.4 235.5,29.5 238.3,32.7 240.8,35.9 243.3,39.3 245.6,42.7 247.8,46.1 249.8,49.7M248.3,48.8L249.8,49.7L249.7,48M251.7,53.3 253.4,57 255,60.7 256.5,64.5M255.2,63.4L256.5,64.5L256.7,62.9M257.8,68.4 259,72.4 260.1,76.4 261,80.5 261.8,84.7 262.4,88.9M261.4,87.5L262.4,88.9L263,87.3M235.9,29.7 238.7,32.6 241.3,35.6 243.7,38.6M242.2,38L243.7,38.6L243.4,36.9M246.1,41.7 248.3,44.9 250.3,48.2 252.2,51.5 254,55M252.6,54L254,55L254,53.3M255.7,58.5 257.2,62 258.6,65.7 259.8,69.4 260.9,73.2 261.8,77.1 262.7,81 263.3,85M262.3,83.7L263.3,85L263.9,83.4M228,21.2 231.2,24 234.3,26.9 237.3,29.9M235.6,29.4L237.3,29.9L236.8,28.3M240.1,33 242.8,36.1 245.3,39.3 247.7,42.7 250,46 252.1,49.5M250.7,48.7L252.1,49.5L252,47.8M254.1,53.1 256,56.7 257.7,60.4 259.3,64.2 260.8,68.1 262.1,72 263.3,76.1 264.4,80.2 265.3,84.4M264.2,83.1L265.3,84.4L265.8,82.7M237.4,30 240.2,33.2 242.9,36.4 245.4,39.7 247.7,43.1 249.9,46.6 252,50.1M250.6,49.2L252,50.1L251.9,48.4M255.7,57.4 257.4,61.2 258.9,65 260.3,68.9 261.5,72.9 262.6,76.9 263.5,81 264.3,85.2 265,89.5M264,88.1L265,89.5L265.6,87.9M244.9,36.6 247,40 249,43.5 250.8,47.1 252.5,50.7 254.1,54.4 255.5,58.1M254.2,57L255.5,58.1L255.7,56.5M257.8,65.8 258.8,69.8 259.6,73.8 260.3,77.8 260.8,82 261.2,86.2M260.3,84.8L261.2,86.2L261.9,84.6M238.8,27.3 241.6,30.5 244.2,33.7 246.6,36.9 248.9,40.3M247.4,39.5L248.9,40.3L248.7,38.6M251.1,43.7 253.1,47.2 255,50.7 256.8,54.4 258.4,58.1 259.8,61.8M258.6,60.7L259.8,61.8L260,60.2M261.2,65.7 262.3,69.6 263.4,73.6 264.2,77.7 265,81.8 265.6,86M264.6,84.7L265.6,86L266.2,84.4M240.3,33.2 242.8,36.7 245.1,40.2 247.2,43.8 249.3,47.5M247.8,46.6L249.3,47.5L249.2,45.8M251.1,51.2 252.9,55M251.5,54L252.9,55L253,53.4M254.4,58.9 255.9,62.9 257.2,66.9 258.3,71 259.3,75.2 260.1,79.4 260.8,83.7 261.4,88.1M260.4,86.7L261.4,88.1L262,86.5M239.5,28.4 242.2,31.5 244.7,34.6 247.1,37.8 249.3,41.1 251.4,44.4 253.3,47.8M251.9,46.9L253.3,47.8L253.3,46.2M255.1,51.3 256.8,54.9 258.2,58.5 259.6,62.2 260.8,66 261.8,69.8 262.7,73.8M261.6,72.5L262.7,73.8L263.2,72.1M263.5,77.7 264.1,81.8 264.6,85.9M263.6,84.5L264.6,85.9L265.2,84.4M243.9,38.4 246.4,41.7 248.8,45.1 251,48.6 253,52.2M251.6,51.3L253,52.2L253,50.5M255,55.8 256.7,59.6 258.4,63.4 259.9,67.2 261.2,71.2 262.4,75.2M261.2,74L262.4,75.2L262.8,73.6M263.5,79.4 264.4,83.6 265.2,87.8M264.1,86.5L265.2,87.8L265.7,86.2M241.6,34.3 244.2,37.5 246.7,40.8 249,44.2 251.2,47.7M249.7,46.9L251.2,47.7L251.1,46M253.2,51.3 255.1,54.9M253.7,53.9L255.1,54.9L255.1,53.2M256.9,58.6 258.5,62.4 259.9,66.3 261.2,70.2 262.4,74.3 263.4,78.4 264.3,82.6 265,86.8M264,85.5L265,86.8L265.5,85.2M247.6,36.3 249.7,39.6 251.6,43 253.4,46.5 255,50.1 256.5,53.7 257.8,57.4 259,61.1M257.7,59.9L259,61.1L259.3,59.4M260,64.9 260.8,68.8 261.5,72.7M260.5,71.4L261.5,72.7L262,71.1M262,76.8 262.4,80.8 262.7,85M261.8,83.5L262.7,85L263.4,83.4M236.9,23.9 239.9,27.1 242.7,30.3 245.4,33.6 247.9,36.9M246.4,36.2L247.9,36.9L247.6,35.3M250.3,40.4 252.5,43.9 254.6,47.5 256.5,51.2M255.1,50.2L256.5,51.2L256.5,49.5M258.2,54.9 259.9,58.7 261.3,62.6 262.6,66.6 263.8,70.6 264.8,74.7 265.7,78.9 266.4,83.2 266.9,87.5M266,86.2L266.9,87.5L267.5,86M242.5,30.5 245.2,33.8 247.7,37.2 250.2,40.7 252.4,44.2 254.5,47.9 256.5,51.6 258.3,55.4 260,59.2M258.7,58.2L260,59.2L260.2,57.5M262.9,67.2 264.2,71.4 265.3,75.6 266.2,79.8 267,84.2M265.9,82.9L267,84.2L267.5,82.6M243.8,33.8 246.5,37.1 249.1,40.5 251.5,44 253.7,47.6 255.8,51.2M254.4,50.3L255.8,51.2L255.7,49.5M257.7,54.9 259.5,58.7 261.2,62.6 262.7,66.6 264,70.6M262.8,69.5L264,70.6L264.3,69M265.2,74.8 266.3,79 267.1,83.3 267.9,87.7M266.8,86.3L267.9,87.7L268.4,86.1M248.4,34.7 250.9,38.4 253.2,42.1 255.4,45.8 257.4,49.7 259.3,53.6 261,57.6M259.6,56.5L261,57.6L261.1,55.9M262.5,61.7 263.9,65.8 265.2,70.1M264,68.8L265.2,70.1L265.5,68.4M266.3,74.4 267.2,78.8 268,83.2 268.6,87.8M267.6,86.4L268.6,87.8L269.2,86.2" fill="none" stroke="#111" stroke-width="0.36" stroke-opacity="0.85"/>
<path d="M230,45 231.6,46.5 233.2,48 234.8,49.6M233.1,49.1L234.8,49.6L234.3,47.9M242.5,33.1 243.5,35.1 244.5,37 245.5,39M244.1,38L245.5,39L245.6,37.3M226,49 227.6,50.4 229.3,51.9 230.9,53.4M229.3,53L230.9,53.4L230.3,51.8M237.6,57.7 239.1,59.2 240.6,60.8 242.1,62.4M240.5,61.9L242.1,62.4L241.7,60.8M218.1,53.5 219.8,54.9 221.4,56.4 223,57.9M221.4,57.5L223,57.9L222.4,56.3M235.8,71.1 237.4,72.6 239.1,74.1 240.7,75.6M239,75.1L240.7,75.6L240.1,74M259.9,74.5 260.3,76.6 260.7,78.8 261.1,81M260.1,79.6L261.1,81L261.6,79.3M250.3,52.6 251.2,54.7 252,56.7 252.9,58.7M251.6,57.6L252.9,58.7L253,57M219.5,63.6 221.1,65 222.8,66.5 224.4,68M222.7,67.6L224.4,68L223.8,66.4M240.3,50.7 241.7,52.4 243,54.1 244.4,55.9M242.8,55.2L244.4,55.9L244.1,54.2M207,53.3 208.6,54.8 210.3,56.2 211.9,57.7M210.2,57.3L211.9,57.7L211.3,56.1M258.5,95.6 259.7,97.5 260.5,99.5 260.6,101.7M259.7,100.2L260.6,101.7L261.3,100.2M234.6,77.1 236.2,78.5 237.9,80 239.5,81.5M237.9,81.1L239.5,81.5L238.9,79.9M247,74.7 248.5,76.4 249.9,78.1 251.3,79.8M249.7,79.1L251.3,79.8L250.9,78.1M220.9,44 222.5,45.5 224.2,47 225.8,48.5M224.1,48.1L225.8,48.5L225.2,46.9M256.4,86.8 257.5,88.7 258.6,90.7 259.5,92.7M258.1,91.6L259.5,92.7L259.6,91M244.2,84.7 245.8,86.1 247.5,87.6 249.1,89.1M247.4,88.7L249.1,89.1L248.5,87.5M248.5,88 250.1,89.6 251.7,91.1 253.3,92.6M251.6,92.2L253.3,92.6L252.8,91M239.2,85.7 240.9,87.2 242.5,88.6 244.1,90.1M242.5,89.7L244.1,90.1L243.6,88.5M236.6,36.7 237.9,38.4 239.2,40.2 240.5,41.9M239,41.2L240.5,41.9L240.3,40.3M230.2,61.7 231.8,63.2 233.5,64.7 235.1,66.1M233.4,65.7L235.1,66.1L234.5,64.5M238.7,46.1 240.1,47.8 241.5,49.5 242.8,51.3M241.2,50.6L242.8,51.3L242.5,49.6M234.8,66.2 236.4,67.7 238.1,69.2 239.7,70.7M238,70.3L239.7,70.7L239.1,69.1M234,69.9 235.7,71.3 237.3,72.8 238.9,74.3M237.3,73.9L238.9,74.3L238.4,72.7M246.4,70.2 247.8,71.9 249.1,73.6 250.5,75.3M248.9,74.6L250.5,75.3L250.2,73.6M214,71.7 215.6,73.2 217.2,74.7 218.8,76.1M217.2,75.7L218.8,76.1L218.3,74.5M266.6,84.9 266,87 265.4,89.2 265,91.3M264.5,89.7L265,91.3L266.1,90M234.9,59.4 236.6,60.9 238.1,62.4 239.7,64M238.1,63.5L239.7,64L239.2,62.3M219.3,74.8 220.9,76.3 222.5,77.7 224.2,79.2M222.5,78.8L224.2,79.2L223.6,77.6M220.6,70.2 222.2,71.7 223.9,73.2 225.5,74.7M223.9,74.3L225.5,74.7L224.9,73.1M251.5,94.5 253.1,96 254.8,97.4 256.5,98.8M254.8,98.4L256.5,98.8L255.9,97.2M245.5,88.3 247.1,89.8 248.8,91.3 250.4,92.8M248.7,92.3L250.4,92.8L249.8,91.2M226.5,37.3 228.1,38.8 229.7,40.3 231.3,41.8M229.7,41.3L231.3,41.8L230.8,40.2M242.6,33.1 243.6,35.1 244.6,37 245.5,39M244.2,38L245.5,39L245.6,37.3M222.2,71.7 223.8,73.2 225.4,74.6 227,76.1M225.4,75.7L227,76.1L226.5,74.5M236.8,35.3 238.1,37 239.4,38.8 240.7,40.6M239.2,39.8L240.7,40.6L240.5,38.9M254.3,73.3 255.3,75.3 256.2,77.3 257.1,79.3M255.7,78.2L257.1,79.3L257.2,77.6M215.8,62.5 217.4,64 219.1,65.5 220.7,67M219,66.6L220.7,67L220.1,65.4M212.5,68.6 214.1,70.1 215.7,71.6 217.4,73.1M215.7,72.6L217.4,73.1L216.8,71.5M207.7,46.4 209.4,47.8 211,49.3 212.6,50.8M211,50.4L212.6,50.8L212,49.2M239,63.3 240.6,64.9 242.1,66.4 243.6,68M242,67.5L243.6,68L243.2,66.4M232.1,71.8 233.8,73.2 235.4,74.7 237,76.2M235.4,75.8L237,76.2L236.5,74.6M237.8,35.8 239.1,37.6 240.3,39.4 241.6,41.2M240.1,40.4L241.6,41.2L241.4,39.5M212.8,54.8 214.4,56.3 216.1,57.8 217.7,59.3M216,58.9L217.7,59.3L217.1,57.7M202.5,53.8 204.1,55.2 205.7,56.7 207.3,58.2M205.7,57.8L207.3,58.2L206.8,56.6M230.8,79.2 232.5,80.6 234.1,82.1 235.7,83.6M234.1,83.2L235.7,83.6L235.1,82M243,39.9 244.1,41.8 245.2,43.7 246.2,45.6M244.8,44.7L246.2,45.6L246.2,43.9M225.9,59.6 227.6,61.1 229.2,62.6 230.8,64M229.2,63.6L230.8,64L230.2,62.4M207.8,50.5 209.4,52 211,53.5 212.7,54.9M211,54.5L212.7,54.9L212.1,53.3M222.4,68.1 224,69.5 225.6,71 227.3,72.5M225.6,72.1L227.3,72.5L226.7,70.9M246.7,45.9 247.7,47.9 248.6,49.8 249.6,51.8M248.2,50.8L249.6,51.8L249.7,50.1M240.8,78.1 242.4,79.6 244,81.1 245.6,82.6M244,82.2L245.6,82.6L245.1,81M244.9,57.6 246.1,59.4 247.4,61.2 248.6,63M247.1,62.2L248.6,63L248.4,61.3M254.9,58.1 255.5,60.2 256.1,62.4 256.7,64.5M255.5,63.2L256.7,64.5L257.1,62.8M233,60.8 234.7,62.2 236.3,63.7 237.9,65.2M236.2,64.8L237.9,65.2L237.3,63.6M263.1,68.1 263,70.3 262.9,72.5 262.9,74.7M262.1,73.1L262.9,74.7L263.7,73.2M214.6,56.6 216.3,58.1 217.9,59.6 219.5,61M217.9,60.6L219.5,61L218.9,59.4M232.3,63.2 233.9,64.7 235.6,66.1 237.2,67.6M235.5,67.2L237.2,67.6L236.6,66M261.1,96 261.5,98.2 261.5,100.3 260.4,102.2M260.5,100.5L260.4,102.2L261.8,101.3M236.5,53.5 238.1,55.1 239.6,56.7 241.1,58.3M239.5,57.7L241.1,58.3L240.6,56.6M232.1,20.3 233.5,22.1 234.8,23.8 236,25.6M234.5,24.9L236,25.6L235.8,24M247,76.3 248.4,77.9 249.9,79.6 251.3,81.3M249.7,80.7L251.3,81.3L250.9,79.6M265,91.1 264.6,93.2 264.1,95.4 263.6,97.5M263.1,95.8L263.6,97.5L264.7,96.2M238.1,57.7 239.6,59.3 241.1,60.9 242.6,62.5M241,61.9L242.6,62.5L242.2,60.8M255.6,65.3 256.3,67.4 257,69.5 257.6,71.6M256.4,70.4L257.6,71.6L257.9,69.9M217.8,69.7 219.4,71.2 221,72.6 222.7,74.1M221,73.7L222.7,74.1L222.1,72.5M239.2,61.5 240.8,63 242.3,64.6 243.7,66.3M242.1,65.7L243.7,66.3L243.3,64.6M242.5,64 244,65.6 245.4,67.3 246.8,69M245.2,68.3L246.8,69L246.5,67.3M214.6,44.8 216.2,46.3 217.8,47.7 219.4,49.2M217.8,48.8L219.4,49.2L218.9,47.6M245.7,57.2 246.9,59 248.1,60.9 249.3,62.7M247.8,61.9L249.3,62.7L249.2,61M220.8,42 222.4,43.5 224,45 225.7,46.4M224,46L225.7,46.4L225.1,44.8M238.4,60 240,61.5 241.5,63.1 243,64.7M241.4,64.2L243,64.7L242.6,63.1M247.8,94.3 249.5,95.7 251.2,97.1 252.9,98.4M251.3,98.1L252.9,98.4L252.2,96.9M227.2,46.1 228.8,47.6 230.5,49.1 232.1,50.5M230.5,50.1L232.1,50.5L231.5,48.9M241.3,75.4 242.9,76.9 244.5,78.4 246,80M244.4,79.5L246,80L245.5,78.4M205.1,57.9 206.7,59.4 208.3,60.9 209.9,62.4M208.3,61.9L209.9,62.4L209.4,60.8M259.6,82.4 260.2,84.5 260.7,86.6 261.2,88.8M260.1,87.5L261.2,88.8L261.7,87.1M230,68.2 231.7,69.7 233.3,71.2 234.9,72.7M233.3,72.3L234.9,72.7L234.4,71.1M223.7,60 225.4,61.5 227,63 228.6,64.5M227,64.1L228.6,64.5L228.1,62.9M247.6,68.7 249,70.4 250.2,72.2 251.5,74M250,73.3L251.5,74L251.3,72.3M256.7,63.8 257.2,66 257.8,68.1 258.3,70.2M257.1,69L258.3,70.2L258.7,68.6M259.3,91.1 260.1,93.1 260.8,95.2 261.3,97.4M260.2,96.1L261.3,97.4L261.7,95.7M244.3,46.5 245.5,48.4 246.6,50.3 247.7,52.2M246.2,51.3L247.7,52.2L247.6,50.5M263.1,70 263,72.2 263,74.4 262.9,76.6M262.2,75.1L262.9,76.6L263.8,75.1M224.3,72.5 225.9,73.9 227.5,75.4 229.2,76.9M227.5,76.5L229.2,76.9L228.6,75.3M256.7,82.8 257.6,84.8 258.5,86.8 259.4,88.9M258.1,87.8L259.4,88.9L259.6,87.2M230.5,32.2 232,33.8 233.5,35.4 234.9,37M233.3,36.4L234.9,37L234.5,35.4M256.3,59.4 256.8,61.5 257.3,63.7 257.8,65.8M256.7,64.5L257.8,65.8L258.3,64.2M231.2,56.6 232.9,58.1 234.5,59.6 236.1,61M234.5,60.6L236.1,61L235.5,59.4M231.9,36.9 233.4,38.5 234.9,40.1 236.3,41.7M234.7,41.1L236.3,41.7L235.9,40.1M230.4,70.3 232,71.8 233.7,73.3 235.3,74.7M233.6,74.3L235.3,74.7L234.7,73.1M229.4,28.4 230.9,30 232.4,31.6 233.8,33.3M232.2,32.7L233.8,33.3L233.4,31.6M212.8,60.9 214.4,62.4 216,63.9 217.6,65.4M216,65L217.6,65.4L217.1,63.8M231.3,59.4 232.9,60.8 234.5,62.3 236.1,63.8M234.5,63.4L236.1,63.8L235.6,62.2M257.1,73.1 257.8,75.2 258.5,77.3 259.1,79.4M257.9,78.2L259.1,79.4L259.4,77.7M223.6,68.9 225.2,70.4 226.8,71.9 228.5,73.4M226.8,73L228.5,73.4L227.9,71.8M235.4,40.2 236.8,41.8 238.2,43.5 239.6,45.2M238,44.6L239.6,45.2L239.3,43.6M247.5,63.6 248.7,65.4 249.9,67.3 251.1,69.1M249.6,68.3L251.1,69.1L251,67.4M237.4,88.9 239,90.4 240.7,91.9 242.3,93.4M240.6,93L242.3,93.4L241.7,91.8M252.9,75.8 254,77.7 255.1,79.6 256.2,81.5M254.7,80.6L256.2,81.5L256.1,79.8M208.4,59.8 210,61.3 211.6,62.7 213.3,64.2M211.6,63.8L213.3,64.2L212.7,62.6M226.1,46.5 227.7,47.9 229.3,49.4 231,50.9M229.3,50.5L231,50.9L230.4,49.3M260.9,94.2 261.4,96.4 261.7,98.6 261.5,100.8M260.8,99.2L261.5,100.8L262.4,99.3M238.1,48.4 239.5,50.1 240.9,51.8 242.3,53.5M240.8,52.8L242.3,53.5L242,51.8M262.7,72.5 262.7,74.7 262.7,76.9 262.8,79.1M262,77.6L262.8,79.1L263.6,77.5M218,62.3 219.6,63.8 221.3,65.2 222.9,66.7M221.3,66.3L222.9,66.7L222.3,65.1M251.9,93.7 253.5,95.1 255.1,96.6 256.8,98.1M255.1,97.7L256.8,98.1L256.2,96.5M240.2,72.6 241.8,74.1 243.4,75.6 245,77.2M243.3,76.7L245,77.2L244.5,75.5M265,87.8 264.7,90 264.3,92.1 264,94.3M263.4,92.7L264,94.3L265,92.9M232.1,64 233.8,65.5 235.4,67 237,68.5M235.4,68.1L237,68.5L236.4,66.9M246.2,86.1 247.8,87.6 249.4,89.1 251,90.6M249.3,90.2L251,90.6L250.5,89M220.7,74.4 222.3,75.9 224,77.3 225.6,78.8M223.9,78.4L225.6,78.8L225,77.2M240.6,42.2 241.8,44 243.1,45.8 244.3,47.6M242.8,46.8L244.3,47.6L244.1,45.9M250.2,62.8 251.2,64.7 252.3,66.7 253.3,68.6M251.9,67.7L253.3,68.6L253.3,66.9M220.9,54.9 222.5,56.4 224.1,57.8 225.8,59.3M224.1,58.9L225.8,59.3L225.2,57.7M242.8,54.2 244.2,56 245.5,57.7 246.7,59.5M245.2,58.8L246.7,59.5L246.5,57.9M210.2,47.3 211.8,48.8 213.4,50.3 215.1,51.8M213.4,51.3L215.1,51.8L214.5,50.2M232.7,20.8 234.1,22.5 235.3,24.3 236.6,26.1M235.1,25.3L236.6,26.1L236.4,24.4M226.9,48.4 228.5,49.9 230.2,51.4 231.8,52.9M230.1,52.5L231.8,52.9L231.2,51.3M226,52.5 227.6,53.9 229.3,55.4 230.9,56.9M229.2,56.5L230.9,56.9L230.3,55.3M231,42.2 232.6,43.8 234.1,45.3 235.7,46.9M234.1,46.4L235.7,46.9L235.2,45.3M232.4,73 234,74.5 235.6,75.9 237.3,77.4M235.6,77L237.3,77.4L236.7,75.8M225,46.4 226.6,47.9 228.3,49.4 229.9,50.9M228.2,50.5L229.9,50.9L229.3,49.3M244.3,75 245.9,76.5 247.4,78.1 248.9,79.8M247.3,79.2L248.9,79.8L248.4,78.1M224.3,55 225.9,56.4 227.5,57.9 229.2,59.4M227.5,59L229.2,59.4L228.6,57.8M239.6,91 241.2,92.5 242.9,94 244.5,95.5M242.9,95L244.5,95.5L243.9,93.9" fill="none" stroke="#111" stroke-width="0.4" stroke-opacity="0.75"/>
<path d="M153.8,56.3 157.4,55.9 161,55.3 164.6,54.8 168.1,54.1 171.7,53.3 175.2,52.5 178.6,51.6 182.1,50.6M180.9,51.7L182.1,50.6L180.5,50.2M189,48.3 192.4,47.1 195.8,45.8M194.7,47L195.8,45.8L194.1,45.6M155.2,55.6 159,55.8 162.8,55.9 166.6,56M165.1,56.7L166.6,56L165.1,55.1M170.4,55.9 174.2,55.8 178,55.5M176.6,56.4L178,55.5L176.5,54.8M181.8,55.2 185.6,54.8 189.4,54.4 193.2,53.8 196.9,53.2 200.7,52.5M199.4,53.5L200.7,52.5L199.1,52M156.9,55.1 160.1,54.7 163.3,54.2 166.5,53.6 169.7,53M168.4,54L169.7,53L168,52.5M175.9,51.4 179,50.5 182.1,49.5 185.1,48.5 188.2,47.3 191.2,46.1 194.2,44.8M193.1,46.2L194.2,44.8L192.5,44.7M157.2,53.5 160.7,53.4 164.2,53.3 167.7,53.1 171.1,52.8 174.6,52.4M173.2,53.4L174.6,52.4L173,51.8M178,52 181.4,51.4M180.1,52.4L181.4,51.4L179.8,50.9M184.8,50.8 188.2,50.1 191.6,49.3 195,48.4 198.3,47.5M197.1,48.7L198.3,47.5L196.7,47.1M155.3,52.9 158.8,52.6 162.2,52.3 165.7,51.9 169.1,51.4M167.7,52.4L169.1,51.4L167.5,50.8M175.9,50.2 179.3,49.5 182.6,48.7 186,47.8 189.3,46.8 192.6,45.8 195.9,44.6M194.8,45.9L195.9,44.6L194.2,44.4M157.3,52.6 160.6,52.7 163.9,52.8 167.1,52.7M165.7,53.5L167.1,52.7L165.6,51.9M173.6,52.4 176.9,52.1 180.1,51.7 183.3,51.3 186.5,50.7 189.7,50.1 192.9,49.4 196.1,48.6M194.8,49.7L196.1,48.6L194.4,48.2M158.3,50.2 161.7,50.5 165.1,50.8 168.4,50.9M166.9,51.6L168.4,50.9L167,50M175.2,50.9 178.5,50.8 181.9,50.6 185.2,50.3 188.5,50 191.9,49.5 195.2,49 198.5,48.4M197.2,49.4L198.5,48.4L196.9,47.8M156.6,50.2 160,50.7 163.5,51.1 166.9,51.4 170.3,51.7M168.7,52.3L170.3,51.7L168.9,50.8M177.1,51.9 180.5,51.9 184,51.8 187.4,51.6 190.8,51.4 194.2,51.1 197.7,50.6M196.3,51.6L197.7,50.6L196.1,50M157.4,48.9 161,49 164.5,49.1 168.1,49.1M166.6,49.9L168.1,49.1L166.6,48.3M171.6,49 175.1,48.8 178.6,48.6 182.2,48.2 185.7,47.8 189.2,47.3M187.8,48.3L189.2,47.3L187.6,46.7M192.7,46.7 196.1,46 199.6,45.3M198.3,46.4L199.6,45.3L198,44.8M157.7,46.9 161.1,47.5 164.6,47.9 168,48.2 171.4,48.5M169.9,49.2L171.4,48.5L170,47.6M174.9,48.7 178.3,48.7 181.8,48.8M180.2,49.6L181.8,48.8L180.3,48M185.2,48.7 188.6,48.5 192.1,48.3 195.5,48 199,47.6M197.6,48.5L199,47.6L197.4,46.9M159.3,49.1 162.4,49.5 165.6,49.8 168.7,50M167.1,50.7L168.7,50L167.2,49.1M171.8,50.1 174.9,50.1 178.1,50.1 181.2,49.9 184.3,49.7M182.8,50.6L184.3,49.7L182.7,49M187.4,49.4 190.5,49.1 193.6,48.6 196.7,48.1M195.4,49.1L196.7,48.1L195.1,47.5M160.1,45.3 163.4,46 166.7,46.6 170,47.1 173.3,47.6 176.7,47.9M175.1,48.6L176.7,47.9L175.3,47M180,48.2 183.4,48.4M181.8,49.1L183.4,48.4L181.9,47.5M186.7,48.5 190.1,48.5 193.4,48.5 196.8,48.4 200.2,48.1M198.7,49L200.2,48.1L198.6,47.4M159.9,44.9 163.2,45.8 166.6,46.6 169.9,47.4 173.3,48.1M171.6,48.6L173.3,48.1L172,47M180,49.1 183.4,49.6 186.8,49.9 190.2,50.2 193.7,50.3 197.1,50.4 200.5,50.4M199,51.2L200.5,50.4L199,49.6M161.4,45.1 164.3,45.4 167.1,45.6 170,45.7 172.8,45.7 175.7,45.7M174.2,46.5L175.7,45.7L174.1,44.9M178.5,45.6 181.3,45.4 184.1,45.1M182.7,46L184.1,45.1L182.6,44.4M187,44.7 189.8,44.2 192.6,43.7 195.4,43.1M194.1,44.2L195.4,43.1L193.8,42.6M160.8,44 163.6,44.3 166.4,44.6 169.2,44.8 172,44.9M170.4,45.7L172,44.9L170.5,44.1M174.7,44.9 177.5,44.9M176,45.7L177.5,44.9L176,44.1M180.3,44.8 183.1,44.5 185.8,44.2 188.6,43.9 191.4,43.4 194.1,42.8M192.8,43.9L194.1,42.8L192.5,42.3M162.5,43.7 165.6,44.6 168.8,45.4 172,46 175.1,46.7M173.5,47.2L175.1,46.7L173.8,45.6M178.3,47.2 181.5,47.6 184.7,48M183.2,48.6L184.7,48L183.3,47M188,48.3 191.2,48.5 194.4,48.6 197.7,48.6 200.9,48.5M199.5,49.4L200.9,48.5L199.4,47.8M161.3,43.6 164.2,44.6 167.2,45.5 170.1,46.3 173.1,47.1 176.1,47.8 179.1,48.4 182.1,48.9M180.5,49.4L182.1,48.9L180.8,47.8M185.1,49.3 188.2,49.7M186.6,50.3L188.2,49.7L186.8,48.7M191.3,49.9 194.3,50.1 197.4,50.2M195.9,51L197.4,50.2L195.9,49.4M164,41.7 166.6,42.5 169.2,43.2 171.8,43.9M170.1,44.3L171.8,43.9L170.5,42.8M174.3,44.5 177,45 179.6,45.4 182.2,45.7 184.8,45.9 187.5,46.1M185.9,46.8L187.5,46.1L186,45.2M190.2,46.2 192.8,46.2 195.5,46.1M194,46.9L195.5,46.1L194,45.3M163.8,40 166.7,40.8 169.6,41.5 172.5,42.1 175.4,42.6 178.3,43.1 181.2,43.5 184.1,43.7M182.6,44.4L184.1,43.7L182.7,42.8M190,44.1 193,44.1 195.9,44.1 198.9,43.9M197.4,44.8L198.9,43.9L197.4,43.2M164.8,40.1 167.7,40.9 170.7,41.7 173.6,42.4M172,42.8L173.6,42.4L172.3,41.3M176.6,43 179.5,43.5 182.5,44 185.5,44.3 188.5,44.6M187,45.3L188.5,44.6L187.1,43.7M191.5,44.8 194.6,44.9 197.6,44.9 200.7,44.9M199.2,45.7L200.7,44.9L199.1,44.1M164.6,39.8 167.5,41 170.3,42.1 173.1,43.2M171.5,43.4L173.1,43.2L172,41.9M176,44.1 178.9,45 181.8,45.8 184.8,46.6M183.1,47L184.8,46.6L183.5,45.4M187.7,47.2 190.7,47.8 193.7,48.3 196.7,48.7 199.8,49M198.2,49.6L199.8,49L198.4,48.1M164.7,39 167.6,40.4 170.5,41.7 173.4,43 176.3,44.1 179.3,45.2 182.3,46.2 185.3,47.2M183.6,47.5L185.3,47.2L184.1,46M188.4,48 191.4,48.8M189.8,49.2L191.4,48.8L190.2,47.6M194.5,49.5 197.6,50.1 200.8,50.6M199.2,51.1L200.8,50.6L199.4,49.6M166.8,37.7 169.4,39.1 172,40.4 174.7,41.6 177.4,42.8 180.1,43.9M178.4,44.1L180.1,43.9L179,42.6M185.6,45.8 188.4,46.6 191.2,47.4 194.1,48.1 197,48.7 199.9,49.2M198.3,49.7L199.9,49.2L198.5,48.2M166.1,37.1 168.7,38.3 171.3,39.5 173.9,40.6 176.6,41.6 179.2,42.5 181.9,43.3 184.6,44.1M183,44.5L184.6,44.1L183.4,42.9M190.1,45.4 192.9,45.9 195.7,46.4 198.6,46.8M197,47.4L198.6,46.8L197.2,45.8M165.8,33.5 168.3,34.7 170.8,35.8 173.3,36.9 175.9,37.8M174.2,38L175.9,37.8L174.8,36.5M178.5,38.7 181.1,39.5 183.7,40.2M182.1,40.6L183.7,40.2L182.5,39.1M186.4,40.9 189.1,41.4 191.8,41.9 194.5,42.3 197.3,42.7M195.7,43.3L197.3,42.7L195.9,41.7M166.5,35.2 168.8,36.3 171.1,37.3 173.4,38.2 175.8,39.1 178.2,39.8 180.6,40.5 183.1,41.1M181.4,41.5L183.1,41.1L181.8,40M185.5,41.6 188,42.1M186.4,42.6L188,42.1L186.7,41M190.5,42.4 193,42.7 195.6,42.9M194,43.6L195.6,42.9L194.1,42M168.7,33 171,34.6 173.3,36.1 175.6,37.4 178,38.8M176.3,38.7L178,38.8L177,37.3M180.4,40 182.8,41.2 185.3,42.3M183.6,42.4L185.3,42.3L184.2,40.9M187.8,43.3 190.3,44.2 192.9,45.1 195.5,45.9 198.2,46.6M196.5,47L198.2,46.6L196.9,45.4M168.8,32.4 171,33.9 173.2,35.3 175.5,36.6 177.7,37.9M176,37.9L177.7,37.9L176.8,36.5M180.1,39.1 182.4,40.2M180.7,40.3L182.4,40.2L181.4,38.8M184.8,41.2 187.2,42.2 189.7,43 192.2,43.8 194.7,44.6 197.2,45.2M195.6,45.6L197.2,45.2L196,44.1M168,32.2 170.5,33.9 173.1,35.6 175.6,37.2M173.9,37.1L175.6,37.2L174.8,35.8M178.3,38.8 180.9,40.2 183.6,41.6 186.3,42.9 189.1,44.1M187.4,44.2L189.1,44.1L188,42.8M191.9,45.3 194.7,46.4 197.6,47.4 200.5,48.3M198.8,48.6L200.5,48.3L199.3,47.1M169.2,29.7 171.1,31.4 173,33.1 175,34.8 177,36.3M175.3,36L177,36.3L176.3,34.8M179,37.8 181.1,39.2 183.2,40.6 185.4,41.8M183.7,41.8L185.4,41.8L184.5,40.4M187.7,43 190,44.2 192.3,45.2 194.6,46.2M193,46.4L194.6,46.2L193.6,44.9M171.4,28.8 173.5,30.8 175.6,32.7 177.7,34.6M176.1,34.2L177.7,34.6L177.1,33M179.9,36.4 182.2,38.2 184.5,39.9 186.8,41.5M185.1,41.3L186.8,41.5L186,40M189.2,43 191.6,44.5 194.1,45.9 196.7,47.3 199.2,48.5M197.5,48.6L199.2,48.5L198.3,47.1M171.7,28.3 173.5,30.1 175.4,31.9 177.2,33.6M175.6,33.2L177.2,33.6L176.7,32M179.2,35.2 181.1,36.8 183.2,38.3M181.5,38L183.2,38.3L182.4,36.7M185.2,39.7 187.4,41.1 189.5,42.4 191.8,43.6 194,44.7 196.3,45.8M194.7,45.9L196.3,45.8L195.3,44.5M171.2,27.5 173.3,29.3 175.6,31.1 177.8,32.8 180.1,34.4 182.5,35.9M180.8,35.8L182.5,35.9L181.7,34.4M187.3,38.8 189.8,40.1 192.3,41.3 194.8,42.5 197.4,43.6 200.1,44.6M198.4,44.8L200.1,44.6L199,43.3M170.9,27.5 173,29.3 175.1,31 177.3,32.6 179.5,34.2 181.8,35.7 184.1,37.2 186.5,38.5M184.8,38.5L186.5,38.5L185.6,37.1M188.9,39.8 191.3,41.1M189.6,41.1L191.3,41.1L190.4,39.7M193.8,42.2 196.4,43.3 198.9,44.3M197.3,44.5L198.9,44.3L197.8,43" fill="none" stroke="#111" stroke-width="0.4" stroke-opacity="0.8"/>
<path d="M164.1,42.3 165.7,41.1 167.3,39.9 168.9,38.7M168.2,40.3L168.9,38.7L167.2,39M158.6,47.9 160.2,46.7 161.8,45.5 163.4,44.3M162.7,45.8L163.4,44.3L161.7,44.5M153.2,56.7 154.8,55.5 156.4,54.3 158,53.1M157.3,54.7L158,53.1L156.3,53.4M160.4,36.1 162,34.9 163.6,33.7 165.2,32.5M164.5,34L165.2,32.5L163.5,32.8M166.8,35.7 168.4,34.5 170,33.3 171.6,32.1M170.9,33.6L171.6,32.1L170,32.3M171.1,28.6 172.7,27.4 174.3,26.2 175.9,25M175.2,26.6L175.9,25L174.2,25.3M144.3,66.2 145.9,65 147.5,63.8 149.1,62.6M148.4,64.1L149.1,62.6L147.5,62.8M146.7,69.4 148.3,68.2 149.9,67 151.5,65.8M150.8,67.3L151.5,65.8L149.8,66M163,41.8 164.6,40.6 166.2,39.4 167.8,38.2M167.1,39.8L167.8,38.2L166.1,38.5M146.8,67 148.4,65.8 150,64.6 151.6,63.4M150.9,65L151.6,63.4L149.9,63.7M160.5,49.3 162.1,48.1 163.7,46.9 165.3,45.7M164.6,47.3L165.3,45.7L163.7,46M154.1,55.4 155.7,54.2 157.3,53 158.9,51.8M158.2,53.4L158.9,51.8L157.2,52.1M154.5,59.2 156.1,58 157.7,56.8 159.3,55.6M158.6,57.1L159.3,55.6L157.6,55.8M166.3,28.4 167.9,27.2 169.5,26 171.1,24.8M170.4,26.3L171.1,24.8L169.4,25M166.3,40.7 167.9,39.5 169.5,38.3 171.1,37.1M170.4,38.7L171.1,37.1L169.4,37.4M161.3,45.9 162.9,44.7 164.5,43.5 166.1,42.3M165.4,43.8L166.1,42.3L164.4,42.5M158.5,48.6 160.1,47.4 161.7,46.2 163.3,45M162.6,46.5L163.3,45L161.7,45.2M161.2,36.9 162.8,35.7 164.4,34.5 166,33.3M165.3,34.8L166,33.3L164.4,33.5M158.2,49.1 159.8,47.9 161.4,46.7 163,45.5M162.3,47.1L163,45.5L161.3,45.8M152.5,57.2 154.1,56 155.7,54.8 157.3,53.6M156.6,55.1L157.3,53.6L155.6,53.8M154.7,60.2 156.3,59 157.9,57.8 159.5,56.6M158.8,58.1L159.5,56.6L157.8,56.8M152.7,55.5 154.3,54.3 155.9,53.1 157.5,51.9M156.7,53.5L157.5,51.9L155.8,52.2M159.9,49.9 161.5,48.7 163.1,47.5 164.7,46.3M164,47.9L164.7,46.3L163,46.6M144.7,65.6 146.3,64.4 147.9,63.2 149.5,62M148.7,63.5L149.5,62L147.8,62.3M145.3,66.2 146.9,65 148.5,63.8 150.1,62.6M149.4,64.1L150.1,62.6L148.4,62.9M163.5,36.7 165.1,35.5 166.7,34.3 168.3,33.1M167.6,34.7L168.3,33.1L166.6,33.4M161.8,35.3 163.4,34.1 165,32.9 166.6,31.7M165.8,33.3L166.6,31.7L164.9,32M161,37.7 162.6,36.5 164.2,35.3 165.8,34.1M165.1,35.7L165.8,34.1L164.2,34.4M147.1,69.1 148.7,67.9 150.3,66.7 151.9,65.5M151.2,67L151.9,65.5L150.2,65.7M167.1,33.7 168.7,32.5 170.3,31.3 171.9,30.1M171.2,31.6L171.9,30.1L170.2,30.3M156.8,49.6 158.4,48.4 160,47.2 161.6,46M160.9,47.5L161.6,46L159.9,46.2M163.6,34.1 165.2,32.9 166.8,31.7 168.4,30.5M167.7,32.1L168.4,30.5L166.8,30.8M169.5,31.6 171.1,30.4 172.7,29.2 174.3,28M173.6,29.5L174.3,28L172.6,28.2M158.8,56.9 160.4,55.7 162,54.5 163.6,53.3M162.9,54.9L163.6,53.3L162,53.6M165.2,33.2 166.8,32 168.4,30.8 170,29.6M169.3,31.1L170,29.6L168.3,29.8M155.1,56.4 156.7,55.2 158.3,54 159.9,52.8M159.2,54.4L159.9,52.8L158.2,53.1M160.8,49.6 162.4,48.4 164,47.2 165.6,46M164.9,47.5L165.6,46L163.9,46.2M155.2,48.1 156.8,46.9 158.4,45.7 160,44.5M159.2,46L160,44.5L158.3,44.7M150.4,55.3 152,54.1 153.6,52.9 155.2,51.7M154.4,53.3L155.2,51.7L153.5,52M162.1,37.9 163.7,36.7 165.3,35.5 166.9,34.3M166.2,35.8L166.9,34.3L165.2,34.5M155,61.1 156.6,59.9 158.2,58.7 159.8,57.5M159.1,59L159.8,57.5L158.1,57.7M161.2,36.7 162.8,35.5 164.4,34.3 166,33.1M165.3,34.6L166,33.1L164.3,33.4M156.6,44.3 158.2,43.1 159.8,41.9 161.4,40.7M160.6,42.2L161.4,40.7L159.7,40.9M166.5,28.9 168.1,27.7 169.7,26.5 171.3,25.3M170.5,26.9L171.3,25.3L169.6,25.6M159.3,45.8 160.9,44.6 162.5,43.4 164.1,42.2M163.4,43.8L164.1,42.2L162.4,42.5M151.2,57.4 152.8,56.2 154.4,55 156,53.8M155.2,55.4L156,53.8L154.3,54.1M158.2,39.5 159.8,38.3 161.4,37.1 163,35.9M162.2,37.5L163,35.9L161.3,36.2M170.1,27.3 171.7,26.1 173.3,24.9 174.9,23.7M174.2,25.2L174.9,23.7L173.2,23.9M153.7,50.5 155.3,49.3 156.9,48.1 158.5,46.9M157.7,48.5L158.5,46.9L156.8,47.2M155,45.6 156.6,44.4 158.2,43.2 159.8,42M159.1,43.6L159.8,42L158.1,42.3M170.2,27.6 171.8,26.4 173.4,25.2 175,24M174.3,25.5L175,24L173.4,24.2M167.2,32.3 168.8,31.1 170.4,29.9 172,28.7M171.3,30.3L172,28.7L170.3,29M144.5,68.4 146.1,67.2 147.7,66 149.3,64.8M148.6,66.3L149.3,64.8L147.6,65.1M170,30.1 171.6,28.9 173.2,27.7 174.8,26.5M174,28.1L174.8,26.5L173.1,26.8M152.3,51.1 153.9,49.9 155.5,48.7 157.1,47.5M156.4,49.1L157.1,47.5L155.4,47.8M162.1,38.8 163.7,37.6 165.3,36.4 166.9,35.2M166.2,36.7L166.9,35.2L165.2,35.4M167,34.5 168.6,33.3 170.2,32.1 171.8,30.9M171.1,32.4L171.8,30.9L170.2,31.2M155.2,56.6 156.8,55.4 158.4,54.2 160,53M159.3,54.5L160,53L158.3,53.2M161.5,49.1 163.1,47.9 164.7,46.7 166.3,45.5M165.6,47L166.3,45.5L164.6,45.8M167.6,27.5 169.2,26.3 170.8,25.1 172.4,23.9M171.6,25.4L172.4,23.9L170.7,24.1" fill="none" stroke="#111" stroke-width="0.4" stroke-opacity="0.75"/>
<g fill="#111"><circle cx="211" cy="62" r="0.75"/><circle cx="264.2" cy="92.9" r="0.75"/><circle cx="248.3" cy="72" r="0.75"/><circle cx="261.4" cy="75.5" r="0.75"/><circle cx="245.9" cy="44.6" r="0.75"/><circle cx="258.8" cy="84.8" r="0.75"/><circle cx="264.7" cy="81.8" r="0.75"/><circle cx="209" cy="65.8" r="0.75"/><circle cx="232.3" cy="46.5" r="0.75"/><circle cx="207.3" cy="58.6" r="0.75"/><circle cx="175.9" cy="50.8" r="0.75"/><circle cx="233.9" cy="52.5" r="0.75"/><circle cx="170.8" cy="46.1" r="0.75"/><circle cx="223.4" cy="32.2" r="0.75"/><circle cx="224.3" cy="58.6" r="0.75"/><circle cx="203.5" cy="49.1" r="0.75"/><circle cx="175.5" cy="42.4" r="0.75"/><circle cx="214" cy="49.2" r="0.75"/><circle cx="160.9" cy="55.3" r="0.75"/><circle cx="195" cy="48.4" r="0.75"/><circle cx="229.6" cy="82.4" r="0.75"/><circle cx="147.4" cy="70.1" r="0.75"/><circle cx="141.6" cy="80.2" r="0.75"/><circle cx="242.3" cy="44.8" r="0.75"/><circle cx="186.4" cy="45.4" r="0.75"/><circle cx="237.1" cy="77.4" r="0.75"/><circle cx="246.6" cy="95.7" r="0.75"/><circle cx="207.4" cy="47.7" r="0.75"/><circle cx="240.9" cy="74.7" r="0.75"/><circle cx="226.4" cy="59" r="0.75"/><circle cx="237.9" cy="58.1" r="0.75"/><circle cx="203.1" cy="57.9" r="0.75"/><circle cx="234.6" cy="45.9" r="0.75"/><circle cx="239.9" cy="49.4" r="0.75"/><circle cx="226.5" cy="49.6" r="0.75"/><circle cx="255.9" cy="97.5" r="0.75"/><circle cx="240.1" cy="49.9" r="0.75"/><circle cx="232.9" cy="78.6" r="0.75"/><circle cx="236.9" cy="53.3" r="0.75"/><circle cx="253.1" cy="78.9" r="0.75"/><circle cx="205.7" cy="48.4" r="0.75"/><circle cx="202.5" cy="56.4" r="0.75"/><circle cx="247" cy="93.3" r="0.75"/><circle cx="247.2" cy="48.3" r="0.75"/><circle cx="193.4" cy="48.6" r="0.75"/><circle cx="267.7" cy="84.8" r="0.75"/><circle cx="222.4" cy="55.5" r="0.75"/><circle cx="222.2" cy="33.2" r="0.75"/><circle cx="209.3" cy="45.1" r="0.75"/><circle cx="236.4" cy="49.4" r="0.75"/><circle cx="210.6" cy="66.8" r="0.75"/><circle cx="228.1" cy="64.1" r="0.75"/><circle cx="265" cy="69.9" r="0.75"/><circle cx="255.5" cy="68.2" r="0.75"/><circle cx="161" cy="42" r="0.75"/></g>
<line x1="271" y1="46.6" x2="287" y2="46.6" stroke="#3e5473" stroke-width="1.2"/><path d="M286,43.9 L291.6,46.6 L286,49.3 Z" fill="#3e5473"/>
<path d="M297.6,82.4C298.2,80.6 301.2,74.3 303,70.5C304.8,66.7 306.8,63 308.4,59.7C310,56.5 311.3,54.1 312.7,51C314.1,47.9 315.6,44.3 317,41.3C318.4,38.2 320,35 321.3,32.7C322.6,30.5 323.5,29.1 324.6,27.8C325.7,26.5 326.8,25.6 327.8,25.1C328.8,24.6 329.6,24.4 330.5,24.6C331.4,24.8 332.2,25.2 333.2,26.2C334.2,27.2 335.2,28.9 336.5,30.5C337.8,32.1 339.4,34.1 340.8,35.9C342.2,37.7 343.5,39.8 345.1,41.3C346.7,42.8 348.7,44 350.5,44.6C352.3,45.2 353.3,45.6 356,45.2C358.7,44.8 363.7,43.1 366.6,42.4C369.5,41.7 371.2,42 373.4,41.1C375.5,40.2 378.1,38.5 379.5,37C380.9,35.5 380.7,33.4 381.5,32C382.3,30.6 383.1,30.3 384.2,28.9C385.3,27.5 387.3,25.1 388.2,23.5C389.1,21.9 388.9,20.5 389.6,19.5C390.3,18.5 391.2,17.5 392.3,17.4C393.4,17.3 395.3,17.8 396.4,18.8C397.5,19.8 398.1,21.6 399,23.5C399.9,25.4 400.9,28.1 401.8,30.3C402.7,32.5 403.4,34.3 404.5,37C405.6,39.7 407.1,43.6 408.5,46.5C409.9,49.4 411,51.9 412.6,54.6C414.2,57.3 416.2,60.5 418,62.7C419.8,65 421.9,66.1 423.4,68.1C424.9,70.1 426,72.4 426.8,74.9C427.6,77.4 428.1,80.3 428.1,83C428.1,85.7 427.6,88.6 426.8,91.1C426,93.6 424.9,95.9 423.4,97.8C421.9,99.7 420,101.9 418,102.6C416,103.3 413.7,102.7 411.2,101.9C408.7,101.1 405.6,99.4 403.1,97.8C400.6,96.2 398.9,94.4 396.4,92.4C393.9,90.4 390.9,88 388.2,85.7C385.5,83.5 382.8,81.4 380.1,78.9C377.4,76.4 374.5,73.5 372,70.8C369.5,68.1 367.3,65.2 365.3,62.7C363.3,60.2 361.8,57.9 359.9,55.9C358,53.9 356,51.6 354,50.5C352,49.4 350,49.2 348,49.5C346,49.8 343.9,51.6 342,52.1C340.1,52.6 338.3,52.6 336.5,52.7C334.7,52.8 333.4,52 331,52.5C328.6,53 325.1,53.7 322.4,55.8C319.7,57.9 317.2,62.5 315,65C312.8,67.5 311.2,68.7 309.4,70.5C307.6,72.3 305.6,74.1 304,75.9C302.4,77.7 300.8,80.2 299.7,81.3C298.6,82.4 297.1,84.2 297.6,82.4Z" fill="url(#bGradT)"/>
<path d="M297.6,82.4C298.2,80.6 301.2,74.3 303,70.5C304.8,66.7 306.8,63 308.4,59.7C310,56.5 311.3,54.1 312.7,51C314.1,47.9 315.6,44.3 317,41.3C318.4,38.2 320,35 321.3,32.7C322.6,30.5 323.5,29.1 324.6,27.8C325.7,26.5 326.8,25.6 327.8,25.1C328.8,24.6 329.6,24.4 330.5,24.6C331.4,24.8 332.2,25.2 333.2,26.2C334.2,27.2 335.2,28.9 336.5,30.5C337.8,32.1 339.4,34.1 340.8,35.9C342.2,37.7 343.8,39.7 345.1,41.3C346.4,42.9 348.4,44.1 348.5,45.5C348.6,46.9 347.1,48.7 346,49.8C344.9,50.9 343.6,51.6 342,52.1C340.4,52.6 338.3,52.6 336.5,52.7C334.7,52.8 333.4,52 331,52.5C328.6,53 325.1,53.7 322.4,55.8C319.7,57.9 317.2,62.5 315,65C312.8,67.5 311.2,68.7 309.4,70.5C307.6,72.3 305.6,74.1 304,75.9C302.4,77.7 300.8,80.2 299.7,81.3C298.6,82.4 297.1,84.2 297.6,82.4Z" fill="#c0264a"/>
<clipPath id="cML"><path d="M297.6,82.4C298.2,80.6 301.2,74.3 303,70.5C304.8,66.7 306.8,63 308.4,59.7C310,56.5 311.3,54.1 312.7,51C314.1,47.9 315.6,44.3 317,41.3C318.4,38.2 320,35 321.3,32.7C322.6,30.5 323.5,29.1 324.6,27.8C325.7,26.5 326.8,25.6 327.8,25.1C328.8,24.6 329.6,24.4 330.5,24.6C331.4,24.8 332.2,25.2 333.2,26.2C334.2,27.2 335.2,28.9 336.5,30.5C337.8,32.1 339.4,34.1 340.8,35.9C342.2,37.7 343.8,39.7 345.1,41.3C346.4,42.9 348.4,44.1 348.5,45.5C348.6,46.9 347.1,48.7 346,49.8C344.9,50.9 343.6,51.6 342,52.1C340.4,52.6 338.3,52.6 336.5,52.7C334.7,52.8 333.4,52 331,52.5C328.6,53 325.1,53.7 322.4,55.8C319.7,57.9 317.2,62.5 315,65C312.8,67.5 311.2,68.7 309.4,70.5C307.6,72.3 305.6,74.1 304,75.9C302.4,77.7 300.8,80.2 299.7,81.3C298.6,82.4 297.1,84.2 297.6,82.4Z"/></clipPath>
<g clip-path="url(#cML)"><rect x="295" y="20" width="60" height="65" fill="url(#pmix_purp)" opacity="0.3"/><rect x="295" y="20" width="60" height="65" fill="url(#pmix_or)" opacity="0.7"/><path d="M318,58 L326,36 L333,27 L348,44 L344,53 L330,53Z" fill="url(#pmix_or)"/><path d="M318,58 L326,36 L333,27 L348,44 L344,53 L330,53Z" fill="url(#spk2)"/></g>
<clipPath id="cMS"><path d="M297.6,82.4C298.2,80.6 301.2,74.3 303,70.5C304.8,66.7 306.8,63 308.4,59.7C310,56.5 311.3,54.1 312.7,51C314.1,47.9 315.6,44.3 317,41.3C318.4,38.2 320,35 321.3,32.7C322.6,30.5 323.5,29.1 324.6,27.8C325.7,26.5 326.8,25.6 327.8,25.1C328.8,24.6 329.6,24.4 330.5,24.6C331.4,24.8 332.2,25.2 333.2,26.2C334.2,27.2 335.2,28.9 336.5,30.5C337.8,32.1 339.4,34.1 340.8,35.9C342.2,37.7 343.5,39.8 345.1,41.3C346.7,42.8 348.7,44 350.5,44.6C352.3,45.2 353.3,45.6 356,45.2C358.7,44.8 363.7,43.1 366.6,42.4C369.5,41.7 371.2,42 373.4,41.1C375.5,40.2 378.1,38.5 379.5,37C380.9,35.5 380.7,33.4 381.5,32C382.3,30.6 383.1,30.3 384.2,28.9C385.3,27.5 387.3,25.1 388.2,23.5C389.1,21.9 388.9,20.5 389.6,19.5C390.3,18.5 391.2,17.5 392.3,17.4C393.4,17.3 395.3,17.8 396.4,18.8C397.5,19.8 398.1,21.6 399,23.5C399.9,25.4 400.9,28.1 401.8,30.3C402.7,32.5 403.4,34.3 404.5,37C405.6,39.7 407.1,43.6 408.5,46.5C409.9,49.4 411,51.9 412.6,54.6C414.2,57.3 416.2,60.5 418,62.7C419.8,65 421.9,66.1 423.4,68.1C424.9,70.1 426,72.4 426.8,74.9C427.6,77.4 428.1,80.3 428.1,83C428.1,85.7 427.6,88.6 426.8,91.1C426,93.6 424.9,95.9 423.4,97.8C421.9,99.7 420,101.9 418,102.6C416,103.3 413.7,102.7 411.2,101.9C408.7,101.1 405.6,99.4 403.1,97.8C400.6,96.2 398.9,94.4 396.4,92.4C393.9,90.4 390.9,88 388.2,85.7C385.5,83.5 382.8,81.4 380.1,78.9C377.4,76.4 374.5,73.5 372,70.8C369.5,68.1 367.3,65.2 365.3,62.7C363.3,60.2 361.8,57.9 359.9,55.9C358,53.9 356,51.6 354,50.5C352,49.4 350,49.2 348,49.5C346,49.8 343.9,51.6 342,52.1C340.1,52.6 338.3,52.6 336.5,52.7C334.7,52.8 333.4,52 331,52.5C328.6,53 325.1,53.7 322.4,55.8C319.7,57.9 317.2,62.5 315,65C312.8,67.5 311.2,68.7 309.4,70.5C307.6,72.3 305.6,74.1 304,75.9C302.4,77.7 300.8,80.2 299.7,81.3C298.6,82.4 297.1,84.2 297.6,82.4Z"/></clipPath>
<g clip-path="url(#cMS)"><rect x="345" y="15" width="60" height="75" fill="url(#pmix_red)" opacity="0.35"/></g>
<path d="M297.6,82.4C298.2,80.6 301.2,74.3 303,70.5C304.8,66.7 306.8,63 308.4,59.7C310,56.5 311.3,54.1 312.7,51C314.1,47.9 315.6,44.3 317,41.3C318.4,38.2 320,35 321.3,32.7C322.6,30.5 323.5,29.1 324.6,27.8C325.7,26.5 326.8,25.6 327.8,25.1C328.8,24.6 329.6,24.4 330.5,24.6C331.4,24.8 332.2,25.2 333.2,26.2C334.2,27.2 335.2,28.9 336.5,30.5C337.8,32.1 339.4,34.1 340.8,35.9C342.2,37.7 343.5,39.8 345.1,41.3C346.7,42.8 348.7,44 350.5,44.6C352.3,45.2 353.3,45.6 356,45.2C358.7,44.8 363.7,43.1 366.6,42.4C369.5,41.7 371.2,42 373.4,41.1C375.5,40.2 378.1,38.5 379.5,37C380.9,35.5 380.7,33.4 381.5,32C382.3,30.6 383.1,30.3 384.2,28.9C385.3,27.5 387.3,25.1 388.2,23.5C389.1,21.9 388.9,20.5 389.6,19.5C390.3,18.5 391.2,17.5 392.3,17.4C393.4,17.3 395.3,17.8 396.4,18.8C397.5,19.8 398.1,21.6 399,23.5C399.9,25.4 400.9,28.1 401.8,30.3C402.7,32.5 403.4,34.3 404.5,37C405.6,39.7 407.1,43.6 408.5,46.5C409.9,49.4 411,51.9 412.6,54.6C414.2,57.3 416.2,60.5 418,62.7C419.8,65 421.9,66.1 423.4,68.1C424.9,70.1 426,72.4 426.8,74.9C427.6,77.4 428.1,80.3 428.1,83C428.1,85.7 427.6,88.6 426.8,91.1C426,93.6 424.9,95.9 423.4,97.8C421.9,99.7 420,101.9 418,102.6C416,103.3 413.7,102.7 411.2,101.9C408.7,101.1 405.6,99.4 403.1,97.8C400.6,96.2 398.9,94.4 396.4,92.4C393.9,90.4 390.9,88 388.2,85.7C385.5,83.5 382.8,81.4 380.1,78.9C377.4,76.4 374.5,73.5 372,70.8C369.5,68.1 367.3,65.2 365.3,62.7C363.3,60.2 361.8,57.9 359.9,55.9C358,53.9 356,51.6 354,50.5C352,49.4 350,49.2 348,49.5C346,49.8 343.9,51.6 342,52.1C340.1,52.6 338.3,52.6 336.5,52.7C334.7,52.8 333.4,52 331,52.5C328.6,53 325.1,53.7 322.4,55.8C319.7,57.9 317.2,62.5 315,65C312.8,67.5 311.2,68.7 309.4,70.5C307.6,72.3 305.6,74.1 304,75.9C302.4,77.7 300.8,80.2 299.7,81.3C298.6,82.4 297.1,84.2 297.6,82.4Z" fill="url(#spk)"/>
<path d="M381,49 C385,46 390,50 390,55 C387,59 383,58 380,55Z" fill="#fff" opacity="0.6"/><path d="M327,53 C327.5,47 330,42 333,41.5 C334.5,45 334.5,50 333,53.5Z" fill="#fff" opacity="0.85"/>
<pattern id="spk2" width="37" height="33" patternUnits="userSpaceOnUse"><path d="M13.8,21.1h0M14.7,27.6h0M6.9,15.8h0M25.1,7.3h0M7.2,27.9h0M27.5,8.7h0M26.7,16.3h0M36.3,28.8h0M18.9,28h0M9.4,1h0M5.2,30.7h0M16.1,3.5h0M34.9,30.7h0M11.3,30.9h0M23.8,11.5h0M13.8,23.2h0M23.4,21.2h0M22.9,8h0M4.4,11.1h0M3.5,19.7h0M9.8,29.8h0M32.7,25.8h0M15.4,29.7h0M26.2,9.4h0M12.9,18.8h0M14.3,18.5h0M27.9,12.9h0M4.1,21.1h0M25.7,9.8h0M5.5,19.2h0M14.1,15.4h0M8.3,9.3h0M21.2,20.6h0M15.4,28.2h0M25.6,33h0M23.7,21.4h0M28.2,17.4h0M31.1,23h0M33.1,1.6h0M17.5,18.9h0M27.7,28.8h0M5.6,29.6h0M16.8,30.3h0M14.3,25.9h0M35.9,7h0M14.6,24.8h0M16.4,29h0M16.6,32.4h0M20,21.4h0M20.9,30.7h0M28.2,24h0M34.1,22.1h0M27.1,20.3h0M12.7,6.3h0M18.1,4.8h0M15.1,23.4h0M32,12.1h0M24.1,18h0M25.6,-0h0" stroke="#fff" stroke-opacity="1" stroke-width="0.9" stroke-linecap="round" fill="none"/><path d="M24.8,5h0M21.4,23.9h0M1.8,22.1h0M34.2,22.8h0M15.2,1.8h0M21.4,25.5h0M23,30.2h0M8.1,0.9h0M9.4,3h0M5.6,13.2h0M32.4,10.7h0M36,8.9h0M7.2,3.1h0M27.7,18h0M8.2,21.5h0M34.3,20.1h0M33.4,1.5h0M34.7,23h0M6.2,15.1h0M7.9,30.9h0M19,14.2h0M10.8,14.9h0M7.3,10.5h0M21,1.4h0M19.3,4.8h0M20.2,22.6h0M12.2,0.7h0M22.2,1.8h0M27.7,16.7h0M6.8,28.9h0M32.7,10.5h0M33.8,13.7h0M18.1,14.7h0M3,32.1h0M18.1,29.8h0M28.7,15.8h0M14.5,21.1h0M24,22.6h0M13.6,22.4h0M16.1,16.5h0M17.2,26.5h0M15.2,3.8h0M1.1,3.4h0M3.5,9.8h0M10.7,7h0M30.1,26.3h0M30.9,21.6h0M15,25.3h0M32.8,4.8h0M25.4,4.4h0M34.2,5.2h0M9.7,13.3h0M25.8,12.9h0M13.5,10.7h0M26.1,2.2h0M21,18.4h0M27.4,5.9h0M17.7,7h0M8.5,1.7h0" stroke="#fff" stroke-opacity="1" stroke-width="0.75" stroke-linecap="round" fill="none"/><path d="M13,29h0M15,22.4h0M11.2,10.8h0M22.1,1.6h0M16.6,5.2h0M28,15.9h0M5.5,23.8h0M22,9.4h0M20.1,3.5h0M22.5,28.4h0M30,20.6h0M18,16.6h0M21.1,31.2h0M16.5,17.7h0M25.4,5.5h0M36.9,21.7h0M29.6,15.6h0M6.8,15.7h0M18.7,28h0M24.9,4.3h0M2,1.8h0M6.7,15.2h0M17.1,17.5h0M20.9,24.6h0M35.4,19.2h0M14,22.2h0M30.7,31.8h0M31.3,3.3h0M16.4,23.6h0M3.2,0.6h0M25.5,18.7h0M19.7,1.8h0M13.1,14.7h0M14.5,11.4h0M17.3,12.1h0M20.1,8.9h0M12.6,18.2h0M22.9,4.6h0M13.1,20h0M23.9,21.1h0M22.3,14h0M26.7,3.7h0M25.8,13.5h0M9.1,27.2h0M6.8,17.8h0M23.3,13.9h0M26.5,1.3h0M18.8,31.9h0M15.6,30.9h0M8.1,31.9h0M16.1,30.6h0M5.2,13.6h0M30.5,27h0M-0.1,21.7h0M3.2,33.6h0" stroke="#fff" stroke-opacity="1" stroke-width="1.35" stroke-linecap="round" fill="none"/><path d="M27.9,21h0M18.9,21.6h0M12.7,14.3h0M32.3,26.1h0M16.9,6.6h0M35.2,3h0M17.4,26.1h0M19.9,19.4h0M9.4,16.7h0M6.5,17.8h0M17.2,0.4h0M33.2,28h0M10.8,31.3h0M15.9,32.5h0M15.8,6h0M32.5,1.8h0M3.9,27.8h0M15,18.3h0M27.9,23.6h0M10.8,1.6h0M31.4,4.5h0M10.3,10.8h0M24.8,19.6h0M7.2,26.9h0M8.3,0.4h0M9.5,13.3h0M18.6,7.8h0M33.5,3.1h0M7.4,29h0M8.4,24.7h0M32.6,26.6h0M36.4,0.1h0M13.2,27h0M19.6,11.4h0M13.6,31.4h0M25.7,27.2h0M32.9,27.4h0M30.9,15.5h0M19.7,11.6h0M18.7,22.5h0M6.2,19.8h0M21.8,7.9h0M24.2,27.3h0M24.6,20.9h0M33.2,32.5h0M5.8,16.3h0M10.1,13.5h0M16.3,24.4h0M23.9,3.6h0M8.5,26.8h0M20.6,24h0M28.5,17.3h0M15.1,11.3h0M36.7,24.7h0M27.5,16.3h0M1.2,27.7h0M9,10.1h0M8.6,20.9h0M5.1,32.1h0M34.6,12.2h0M17.2,33.4h0M15.9,-0.5h0M8.3,33.4h0M36.4,33.1h0M33.2,-0.5h0M-0.3,24.7h0" stroke="#fff" stroke-opacity="1" stroke-width="1.05" stroke-linecap="round" fill="none"/><path d="M7.8,11.7h0M18,6.2h0M18,1.7h0M19,26.4h0M2.9,18.3h0M4.3,3.3h0M30.3,23.3h0M21.6,0.5h0M20.6,24.4h0M12.3,5.4h0M17.2,5.4h0M35.7,2.8h0M13,32.2h0M33.3,2.5h0M25.6,24h0M0.9,22.7h0M15.4,32.9h0M12,0.8h0M25.4,21.4h0M4.6,31.2h0M3.5,5.6h0M11.2,29.4h0M30.4,27.7h0M24.4,6.5h0M17.6,3.3h0M23.2,18.1h0M3,27.3h0M11.8,17.2h0M27.3,25.8h0M6.5,11.5h0M36.8,0.8h0M5.6,25.2h0M9,22.8h0M17,19.4h0M22.9,13.1h0M14.7,32.6h0M14.1,13.4h0M10.6,29.1h0M20.2,13.5h0M5.9,11.3h0M33.6,15.4h0M10,23.9h0M29.9,8.5h0M6.3,22h0M36.7,25.5h0M35.3,29.9h0M14.8,8.3h0M29.9,9.1h0M21.7,28.1h0M17.4,6.2h0M12.2,0.6h0M26.6,12.5h0M16.2,15.4h0M7.4,23.9h0M21.6,2.7h0M20.2,30.8h0M10.8,2h0M5.2,31.4h0M30.7,7.7h0M35.5,32.6h0M28.5,15.2h0M28.7,8.4h0M10.4,19.7h0M21.8,4.8h0M23.9,7.8h0M25.6,25.1h0M27.1,0.6h0M26.3,7.3h0M15.4,4.6h0M6.8,26.4h0M21.6,33.5h0M15.4,-0.1h0M-0.2,0.8h0M14.7,-0.4h0M-0.3,25.5h0M12.2,33.6h0M35.5,-0.4h0" stroke="#fff" stroke-opacity="1" stroke-width="1.2" stroke-linecap="round" fill="none"/></pattern>
<pattern id="cg" width="39" height="29" patternUnits="userSpaceOnUse"><path d="M17,13.1h0M6,25.3h0M32.5,26.7h0M34,12.2h0M22.3,8.6h0M13.7,17h0M23.6,15.7h0M4.6,12h0M30.1,6.8h0M10,8.7h0M21.5,19h0M3.5,26.3h0M16.9,13h0M11.8,0h0M26.5,8.3h0M7.1,7.6h0M22.3,9.1h0M34.2,10.7h0M0.4,16h0M24.1,15.7h0M27.9,10.2h0M3.9,16h0M13.7,5.4h0M3.5,8.3h0M16.2,16.6h0M29.1,10.7h0M1.3,28.6h0M9.8,27h0M3.3,6.2h0M22.9,11.6h0M18.7,16.6h0M25.7,20.6h0M23.6,1.3h0M17.4,7.5h0M15.2,0.7h0M34.7,20.5h0M34.1,19.3h0M6.4,7.4h0M13.9,19.1h0M36.4,22.6h0M20.6,10h0M31.5,28h0M25.3,4.4h0M8.4,13.7h0M15,6.1h0M26.9,9.1h0M14.9,2.3h0M24.2,23.4h0M17,16.3h0M18.4,8.5h0M38.3,6.2h0M15.6,9.9h0M22,13.3h0M4.3,23.5h0M13.4,26.3h0M30.7,6.5h0M30.1,15.3h0M24.7,4.1h0M33.3,5.4h0M4.3,18.1h0M17.5,0.1h0M22.9,17.5h0M28.6,19.7h0M16,14.8h0M22,25.3h0M15.4,26.7h0M5.8,20.9h0M33.6,0.7h0M31.2,16.8h0M26.8,12h0M33.2,20.8h0M38.4,28.8h0M25,4h0M10.7,28.4h0M37.7,19.5h0M16.5,28.9h0M13.3,4.3h0M10.7,18h0M33.8,12.5h0M32.8,17.1h0M24.6,2.4h0M0.4,15.4h0M31.9,19.9h0M28.6,9.4h0M30.2,9.6h0M24.7,17.9h0M29.1,18.4h0M32.8,21.9h0M7.5,12h0M14.8,1.1h0M9.3,24.4h0M10.7,21.9h0M12.8,19.4h0M25.9,10.1h0M25.3,1.7h0M36,15.4h0M11.8,29h0M17.5,29.1h0M38.4,-0.2h0M16.5,-0.1h0M39.4,15.4h0" stroke="#44a060" stroke-opacity="1" stroke-width="0.75" stroke-linecap="round" fill="none"/><path d="M5.4,20.2h0M21.9,10.7h0M6.4,22.1h0M27.4,24.1h0M17,2.7h0M16.5,24.2h0M9.5,0.6h0M21.5,6.1h0M27.7,16.2h0M18.1,16.8h0M16.9,4.7h0M20.2,27.4h0M0.7,12.4h0M22.1,3.9h0M7.9,1.3h0M13.7,11.5h0M27.3,20.1h0M4.6,17.3h0M3.4,6.5h0M35.8,6.2h0M10.7,25.4h0M10.9,27.2h0M21.7,0.7h0M36.3,28.2h0M6.6,6.6h0M21.2,28.7h0M26.5,19.6h0M11,8.6h0M16.2,28.3h0M21.4,11.6h0M31.7,15.2h0M4.7,15.9h0M30.5,28.3h0M0.1,8.3h0M17.9,26.9h0M22.8,19.3h0M38.9,8.9h0M11.9,5.2h0M16.6,12.5h0M9.7,1.1h0M25.2,22.2h0M11.2,11.4h0M1,26.7h0M12.1,16.9h0M26,8.7h0M37,11.1h0M26.8,12.8h0M5,7h0M28.9,22.4h0M3.5,21.2h0M22.1,8.3h0M26.8,14.6h0M29.2,11.1h0M1.8,22.6h0M15.4,1.5h0M37.7,14.9h0M35.3,18.1h0M31.3,17.3h0M28.1,13.3h0M8.8,4.4h0M25,3.1h0M6.8,17.5h0M26,22.7h0M38.1,26.5h0M21,19.5h0M14.3,20.9h0M20.5,20.4h0M19.5,19.4h0M22.2,20.2h0M30.9,25h0M35.5,26.2h0M15,13.5h0M8.9,8.8h0M7.4,25.3h0M25,0.9h0M31.1,2.5h0M12,27.4h0M1.1,1.9h0M3.3,2.3h0M22.6,19h0M7.4,12.9h0M38,13.2h0M13.7,8.4h0M12.6,17.3h0M28,14.4h0M35.4,2.4h0M8.1,27.9h0M35.7,23.8h0M16.7,19.8h0M3.7,7.3h0M35.1,14.9h0M21.7,28.4h0M23.4,25.6h0M18.1,23.6h0M16.2,6.9h0M3.9,15.2h0M19.5,3.1h0M19.7,2.4h0M17.5,16.9h0M27.4,4.1h0M31.5,4.1h0M25.7,3.2h0M15.1,6.1h0M9.8,25.8h0M34.3,0.7h0M38.6,24.9h0M28.3,16.4h0M17.3,24.6h0M36.9,1.2h0M29.9,5.7h0M10.4,28.6h0M21.2,-0.3h0M39.1,8.3h0M-0.1,8.9h0M-0.4,24.9h0M10.4,-0.4h0" stroke="#44a060" stroke-opacity="1" stroke-width="0.9" stroke-linecap="round" fill="none"/><path d="M8.9,4.6h0M24.7,5h0M21.3,17.2h0M34.5,17.6h0M23.1,24h0M2.2,4.3h0M34.4,8.3h0M23.5,28.2h0M35.2,8h0M35,23.3h0M14.3,26.4h0M32.7,28.2h0M21.2,12h0M3.7,15h0M32.7,9.5h0M37.1,28.2h0M13.2,18.9h0M29.5,13.1h0M16.8,23h0M16,12.6h0M2.2,6.3h0M2.3,14.6h0M23.8,21.3h0M16.9,9.8h0M19.2,19.2h0M38,23.6h0M26.3,11.9h0M19.8,26.8h0M3.3,8h0M10.3,0.9h0M34,4.2h0M9.1,26.2h0M16.8,26.6h0M11.1,10.4h0M32,14.6h0M9.3,25.4h0M19,24.2h0M8.9,14h0M0.4,7.1h0M26,13h0M30,24h0M36.7,13.1h0M28.7,2.9h0M14.7,7.9h0M25,8.7h0M7.2,23.3h0M27.1,13.5h0M35,8h0M29.6,19.1h0M9.7,19.6h0M34.5,13.4h0M26.8,5.1h0M30.6,6.5h0M21.9,23.5h0M32.7,9.6h0M17.2,2.1h0M31.6,11.2h0M20.1,9.6h0M36,6.1h0M25,22.6h0M38,1.6h0M19.7,21.7h0M29.9,3h0M24.2,21.2h0M14.8,6.3h0M10.5,26.6h0M16.7,10.8h0M7.1,14.2h0M35.3,3.9h0M14.5,24.5h0M19.1,0.5h0M5.4,24.4h0M5.7,19.6h0M7.2,14h0M17.6,26.5h0M24.2,22.2h0M37,27.7h0M10.8,11.6h0M0.9,20.8h0M7.9,6h0M7,26.1h0M9.5,24.6h0M35.9,8.7h0M34.7,25.6h0M32.7,18.4h0M37.9,3.6h0M29,1.7h0M1.9,5h0M31.2,21.3h0M23.6,4.1h0M39.4,7.1h0M19.1,29.5h0" stroke="#44a060" stroke-opacity="1" stroke-width="1.05" stroke-linecap="round" fill="none"/><path d="M30.3,0.9h0M34,8.3h0M9.6,21h0M4.5,25.3h0M27.8,23h0M28.2,5.5h0M30.1,6.5h0M26.4,17.5h0M22.1,8.2h0M1.8,23.7h0M32.5,9h0M35.6,10.2h0M30,16.6h0M32.3,27.8h0M0.2,11.2h0M10.5,18h0M3.9,7.8h0M30.1,11.6h0M36.4,20.8h0M8.5,2h0M12.5,10.2h0M37.8,28.8h0M19.1,19.2h0M4.2,26.3h0M29.9,17.9h0M31.2,23.7h0M27.5,18.8h0M15,13.1h0M15,11.7h0M28.6,15.4h0M2.1,2.5h0M20.1,13.1h0M6.1,27.6h0M27.2,15.8h0M30.8,24.3h0M11.3,13.1h0M26.1,1.1h0M10.4,4.7h0M31.4,2.1h0M10,15.3h0M5.3,14.5h0M37.7,10.6h0M26.9,2.2h0M10.9,3.5h0M27.7,16.8h0M34.9,20.4h0M23.9,18.7h0M34.1,26.3h0M27.9,17.4h0M15.3,16.7h0M7.5,15h0M26.4,7.5h0M36.6,18.4h0M14.9,5.8h0M3.4,7.4h0M39.2,11.2h0M37.8,-0.2h0" stroke="#44a060" stroke-opacity="1" stroke-width="1.2" stroke-linecap="round" fill="none"/></pattern>
<pattern id="cb" width="39" height="29" patternUnits="userSpaceOnUse"><path d="M12.4,8.1h0M37.9,5.6h0M13.1,18.2h0M28.2,8.2h0M13.7,17.4h0M31,6.2h0M32.7,17.3h0M4.3,11.4h0M22,24h0M33.4,10.9h0M27.3,15.4h0M20.5,7.7h0M38.9,8.7h0M21.7,23.1h0M33.9,28.9h0M16.5,24h0M7.9,13.9h0M10,22.4h0M23.8,5.1h0M33,0.5h0M33.8,27h0M9.7,3.5h0M10.6,4h0M8.8,3.8h0M15.6,13h0M20.8,13.3h0M14.7,28.4h0M10.6,6.8h0M15.5,18.7h0M17,23h0M32.5,25.8h0M6.5,5h0M16.3,11.1h0M1.4,9.9h0M22.5,24.4h0M5.1,22h0M3,24.1h0M17.2,2.1h0M5.3,26.2h0M25.9,7h0M24,8.9h0M27,10.7h0M10.7,5.2h0M38.8,27.3h0M34,5.7h0M27,12.7h0M33.2,7h0M23.1,22.5h0M16.8,7.9h0M9.1,23.6h0M35.8,4.5h0M3.9,5.5h0M10.9,16.7h0M24.6,17.4h0M35.6,13.6h0M38.3,22h0M19,10.8h0M25.7,5h0M5.8,2.7h0M3.5,24.3h0M6.5,5.7h0M33.5,28h0M16,11.1h0M31.2,19.9h0M38.9,17h0M20.9,14.3h0M34.7,8.4h0M18.8,0.4h0M19.5,13.7h0M2.1,9.4h0M35.4,10.4h0M31.1,4.8h0M22.4,17.9h0M7.8,14.4h0M20.4,19.9h0M8.1,3.6h0M12.3,8.2h0M16,21.5h0M18.2,13h0M7.3,11.1h0M7.6,9.3h0M36.7,14h0M1.3,15h0M2.4,1.4h0M13.4,20.8h0M27.4,13.5h0M27.4,12.1h0M36.2,18.3h0M21.9,22.2h0M30.3,19.4h0M24.1,2.9h0M4.4,14.3h0M12.3,19.5h0M32,19.7h0M1.1,27.6h0M29.9,14.4h0M6.2,2.2h0M20.5,5.4h0M35.8,28h0M0.4,15.8h0M21.8,18.5h0M38.3,19h0M17.1,3.4h0M11.6,15.5h0M20.3,21.7h0M17.4,12.8h0M7.6,18.8h0M24.8,19.2h0M0.4,10.5h0M5.1,25.7h0M17.7,20.1h0M38.9,15.3h0M14.2,6.5h0M21.5,28.6h0M4,8.7h0M32.1,0.2h0M12.2,28.1h0M3.4,25.2h0M18,5.9h0M27.5,3.6h0M6.4,2.3h0M13,13.6h0M35.7,22.6h0M2.2,14h0M33.9,26.3h0M30.2,21.1h0M30,16h0M7.6,16h0M13.1,3.5h0M-0.1,8.7h0M33.9,-0.1h0M-0.2,27.3h0M-0.1,17h0M18.8,29.4h0M39.4,15.8h0M39.4,10.5h0M-0.1,15.3h0M21.5,-0.4h0M32.1,29.2h0" stroke="#3f74bd" stroke-opacity="1" stroke-width="0.9" stroke-linecap="round" fill="none"/><path d="M1.3,22.9h0M34.7,17.3h0M1.1,6.2h0M22.7,4h0M6.8,6.1h0M26.3,20.8h0M26.7,6.4h0M25.4,23.9h0M33.7,19.3h0M5.9,3.3h0M21,23.5h0M13.5,26.9h0M17.6,24.4h0M16.4,11.8h0M30.5,22.5h0M32.5,22.7h0M15.6,20.3h0M4,27.9h0M11.1,16.6h0M6.4,3.6h0M24.7,19.9h0M31.4,3.6h0M10,25.9h0M28.2,15.2h0M18.3,3.7h0M16.2,10h0M5.8,23h0M11.6,4.7h0M3.5,0.1h0M12.9,3h0M7.8,14.8h0M19.4,21.5h0M18.4,24.6h0M33.7,26.9h0M18.8,23.9h0M20,27.1h0M35.8,16.6h0M31.5,12.8h0M14.3,19.6h0M10,23.3h0M3.1,17h0M28,26.6h0M25.5,27.7h0M1.9,1h0M7.2,12.2h0M26.3,8.3h0M26.7,25.3h0M2,20.4h0M13.8,2.1h0M25.3,19.4h0M18.3,16.2h0M6.9,26.6h0M34.4,4.3h0M14.1,12h0M36.6,12.5h0M0.2,7.4h0M26.9,24.3h0M8.7,23.6h0M23,20.5h0M0.8,4.8h0M36.8,13.2h0M4.5,21.7h0M39,2.9h0M27.8,11.6h0M36.5,5.3h0M6.7,28.6h0M17.8,24.7h0M10.4,6.2h0M4.5,13.7h0M13.7,21.3h0M20.6,6.6h0M18.7,0.1h0M4.6,17.6h0M34.7,17.5h0M12.1,3.1h0M35.1,0.6h0M3.1,8.8h0M30.8,9.5h0M2.9,26.7h0M38.8,18.6h0M29.5,28.9h0M32.4,6.1h0M10.1,21.1h0M18.3,17h0M22.2,1.9h0M23.8,5.5h0M36.4,25.8h0M27.6,10.8h0M28.6,17h0M15,10.2h0M24.6,26.9h0M25.5,10.2h0M5.3,28.3h0M17,0.2h0M34.4,9.7h0M27.8,27.1h0M19.8,4.6h0M6.8,5.3h0M38.1,11.6h0M13.2,7.3h0M3.5,11.2h0M1.3,27.9h0M23.3,2.8h0M28.3,14.8h0M19.5,22.2h0M17.2,27.6h0M3.5,29.1h0M39.2,7.4h0M-0,2.9h0M6.7,-0.4h0M18.7,29.1h0M-0.2,18.6h0M29.5,-0.1h0M17,29.2h0" stroke="#3f74bd" stroke-opacity="1" stroke-width="1.05" stroke-linecap="round" fill="none"/><path d="M12,0.9h0M17.6,22.7h0M31,9.6h0M1,23.4h0M21.5,14.9h0M9.5,2.8h0M20.3,6.5h0M19.2,1.7h0M20,5.7h0M33.6,4.5h0M37.3,21.5h0M13.6,8.6h0M2.1,14h0M25.5,27.4h0M22.4,20.6h0M38.2,15.7h0M36.3,7.2h0M1.9,13.9h0M3.3,5.2h0M9.7,6.6h0M9.2,17.4h0M18.2,12.3h0M36,15.7h0M37.3,6.9h0M31.6,25.6h0M10.9,19.4h0M6.7,8h0M36.2,22.7h0M4.6,9.9h0M11.5,9h0M33.5,13h0M1.9,13.2h0M28.9,20.7h0M7,2.3h0M6.4,9.6h0M7.9,19.9h0M7.8,19h0M8,14.7h0M6.5,17.1h0M16.3,12.5h0M19.4,18.5h0M0.6,1.1h0M36.4,14.7h0M22.8,9h0M25.2,17.9h0M35,9.2h0M24.9,8.7h0M25.9,11.2h0M21.2,3.6h0M1.5,28.2h0M8.2,22.8h0M31.3,28.6h0M24.9,3.8h0M25.3,17.4h0M22.5,9.3h0M30.9,11.2h0M34.4,6.1h0M26.6,2h0M4.1,10.1h0M5,13.8h0M35.8,16.4h0M11.3,18.2h0M14,3.2h0M34.7,2.8h0M11.7,26.4h0M16.4,12.9h0M38.6,21.3h0M4.9,16.9h0M6.9,26.1h0M31.3,-0.4h0M-0.4,21.3h0" stroke="#3f74bd" stroke-opacity="1" stroke-width="1.2" stroke-linecap="round" fill="none"/><path d="M31.6,22.2h0M37.2,18.6h0M38.3,20.3h0M0.5,5.6h0M28.2,24h0M9.1,14.4h0M15.6,1.4h0M6.3,6.8h0M34.9,24.2h0M23,5.7h0M8.6,5.9h0M33.7,2.1h0M35.3,1.1h0M19.6,7.7h0M16.3,23.5h0M13.8,3.8h0M24.4,8.8h0M24.6,4.9h0M9.6,22.3h0M16.1,27.5h0M19.3,0.6h0M5.8,0.5h0M14.8,13.1h0M27,11.2h0M20.8,6h0M27.8,26.9h0M9.3,4.1h0M8.8,12.1h0M16.3,4.9h0M16.7,9.3h0M6.1,4.1h0M17.5,6.2h0M8.7,1.4h0M35,10.5h0M0.2,3.1h0M27.8,15.9h0M5.7,10.9h0M11.7,22.1h0M9.8,19.5h0M32.1,1.9h0M2.5,9.7h0M37.9,27h0M17.2,24.2h0M2.5,6h0M30.8,2h0M21.2,24.6h0M1,12.4h0M4.6,3.8h0M16,5.5h0M8.7,27.6h0M17.9,0.4h0M4,17.4h0M20.7,20.6h0M19,26.8h0M8.6,12.4h0M10.6,13.4h0M37.9,24.6h0M12.3,19.8h0M0.7,13.3h0M6,9.4h0M29.7,4.1h0M14.8,23.1h0M13.3,21.6h0M2.5,14.9h0M19.9,26.2h0M23.6,16.2h0M30,4.4h0M8.7,28.1h0M34.9,9.7h0M32.4,0.9h0M32.8,28.7h0M5.9,15.2h0M27,1.1h0M14,0.3h0M7.3,2.6h0M14.8,24.8h0M11.7,15.3h0M18.6,12.9h0M12.6,14h0M34.5,26.5h0M22.9,14.1h0M38.8,3.5h0M23.2,6.6h0M9.3,25.6h0M14.1,7.6h0M8.1,21.6h0M34.3,9.1h0M5.9,5.9h0M15.4,21.8h0M25.4,5.6h0M32.9,28.3h0M31.9,5.8h0M32.9,8.3h0M20,21.7h0M11.9,2.2h0M22.3,28.6h0M39.2,3.1h0M32.8,-0.3h0M14,29.3h0M-0.2,3.5h0M22.3,-0.4h0" stroke="#3f74bd" stroke-opacity="1" stroke-width="0.75" stroke-linecap="round" fill="none"/></pattern>
<pattern id="co" width="39" height="29" patternUnits="userSpaceOnUse"><path d="M36.7,24.4h0M16.6,16.9h0M2.5,20.5h0M27.3,0.4h0M20.6,20.6h0M35.8,4.3h0M18.4,6.3h0M21.8,28.7h0M31.5,17.9h0M0.8,14.8h0M34.6,26.9h0M20.7,15.5h0M6.2,27h0M24.4,24.6h0M9.6,8.6h0M31.2,17h0M27.9,1.2h0M5.5,19.7h0M15.7,14.5h0M1.5,12h0M31.3,10.5h0M15.8,1h0M9.3,19.3h0M26.6,19.1h0M1.8,5.3h0M24.8,5.8h0M10,20.4h0M2.6,17.3h0M6.5,21.8h0M23.8,23.2h0M23.2,8.1h0M28.7,10h0M3.2,6.6h0M12.8,3.1h0M8.3,22.8h0M33.4,17.1h0M5.9,6.4h0M25.4,0.6h0M11.1,10.1h0M38.8,22h0M11.7,26.4h0M37.9,21.1h0M23.2,7.6h0M31.2,5.8h0M27.2,7.6h0M27.3,29.4h0M21.8,-0.3h0M25.4,29.6h0M-0.2,22h0" stroke="#e37a3a" stroke-opacity="1" stroke-width="1.2" stroke-linecap="round" fill="none"/><path d="M19.4,14.5h0M2.5,19h0M4.1,11h0M2.5,24.2h0M9.7,24.7h0M26.9,8.5h0M6.5,24.7h0M23.3,26.8h0M29.2,20.9h0M32.4,20.7h0M2.7,2.9h0M14.4,27.2h0M21.4,15.4h0M25.9,19h0M25.2,18.3h0M27.7,2.2h0M37.7,12.6h0M36,18h0M22.7,7.4h0M0.7,3.2h0M31,22.8h0M6.3,28.6h0M21.7,16.5h0M33.3,15.2h0M28,21.9h0M7.2,17.7h0M2.9,19.1h0M2.7,21.7h0M2.3,0.5h0M28.5,26.3h0M4.1,18.3h0M25.5,3.8h0M35.8,22.6h0M5.5,4.4h0M10.4,21h0M18.2,21.6h0M19.1,1.6h0M7.4,11.1h0M17.5,4h0M31.1,1.7h0M32,24.7h0M19,25.2h0M25.1,5.5h0M26.5,28.8h0M25.9,14.6h0M24,8.7h0M32.9,28.1h0M5.5,23.4h0M0.7,5.6h0M32.6,19.5h0M28.5,17.4h0M35.1,8.7h0M24.1,0.2h0M13,9.1h0M16.1,16.8h0M23.7,28.6h0M8.6,9.5h0M31.7,22.4h0M0.3,24.9h0M33,13.7h0M9.2,4.1h0M5.3,9.3h0M11.5,24.8h0M19.8,24.7h0M28.4,15.7h0M34.7,23.1h0M27.8,5.3h0M33.9,16.4h0M16.8,14.8h0M16.1,21.5h0M20.1,11.5h0M14.7,8.5h0M18.7,0.7h0M11.8,16.8h0M11.7,4.4h0M37.9,17.1h0M38.6,26.2h0M27.2,4.2h0M12.4,18.9h0M25.7,3.5h0M36.9,6.6h0M33.6,26h0M13.2,13.8h0M36.6,17.4h0M37.7,23.1h0M30.3,16.4h0M1.4,17.2h0M20.2,22.4h0M17,15.7h0M7.9,17.7h0M37.1,12h0M2.4,7.2h0M28,1.3h0M6.9,20.1h0M5.5,13.3h0M21,14.2h0M36.7,5.2h0M35.9,28.4h0M30.1,6.7h0M33.8,1.6h0M2.8,25.7h0M21.2,8.2h0M15.9,10.5h0M21.2,19.3h0M6.3,-0.4h0M26.5,-0.2h0M24.1,29.2h0M39.3,24.9h0" stroke="#e37a3a" stroke-opacity="1" stroke-width="0.75" stroke-linecap="round" fill="none"/><path d="M37.9,5.9h0M5.6,21.4h0M34.1,4.4h0M36.6,0.6h0M38.7,16.5h0M9.8,28.9h0M29.8,22.3h0M28.7,24.2h0M33,23.6h0M3.6,6.8h0M11.8,11h0M12.6,20.7h0M25.3,24.7h0M38.8,21.5h0M21,12.3h0M19,1.5h0M10.7,4.1h0M20.2,12.5h0M21.8,19.3h0M29.1,10.4h0M31.8,23.9h0M28.7,2.8h0M11.2,28.1h0M12.6,5.6h0M4.5,19.4h0M22.8,11.2h0M35.5,4.1h0M36.8,22.3h0M11.1,19.5h0M23.3,25.8h0M4.2,0.3h0M22.6,13.5h0M7.3,6.1h0M2.8,10.7h0M21.3,25.9h0M25.1,12.4h0M25.4,12.2h0M22.4,9.9h0M5.4,26.6h0M20.6,21.2h0M26.1,3.1h0M6.3,8.8h0M5.2,10.8h0M29.4,28.9h0M7.5,16.2h0M9.9,16.7h0M21,7.9h0M4.5,14.3h0M35.8,22.7h0M28.2,0.4h0M17.3,28.5h0M17.7,20.5h0M24.5,22h0M5.7,7.4h0M29.4,12.2h0M36.3,0.2h0M7.6,19h0M11.5,21.8h0M9.9,8.8h0M36.9,26.6h0M37.5,16.7h0M8.3,0.9h0M27.3,20.9h0M37.2,13.8h0M27,5.9h0M10.7,10.8h0M20.2,28.4h0M7.5,8.3h0M13.3,0.4h0M9.4,5.9h0M37.1,9.2h0M35.5,14.9h0M27.8,13.8h0M31.4,28.5h0M37.2,11h0M26.7,23.1h0M32,9.8h0M24.2,25h0M10.8,15.9h0M34.1,27.4h0M14.2,18.3h0M27.4,12.5h0M11.1,2.5h0M19.3,25.8h0M17,12.8h0M5.1,8.6h0M14.4,1h0M8.5,24h0M35,3.2h0M12.2,9.2h0M13.7,9.2h0M32.1,25.4h0M26.3,6.4h0M32.9,13.5h0M36.8,25.9h0M24,10.3h0M3.3,2.6h0M28.4,1.3h0M28.9,8.9h0M19.3,11.7h0M17.6,22.5h0M38.2,14.9h0M31.7,20.1h0M25,27.4h0M34.7,6.8h0M15.8,7.6h0M35.2,10.7h0M-0.3,16.5h0M9.8,-0.1h0M-0.2,21.5h0M4.2,29.3h0M29.4,-0.1h0M28.2,29.4h0M17.3,-0.5h0M36.3,29.2h0M13.3,29.4h0M31.4,-0.5h0" stroke="#e37a3a" stroke-opacity="1" stroke-width="1.05" stroke-linecap="round" fill="none"/><path d="M24.7,6h0M16.5,5.2h0M21.1,11.6h0M16.8,4.9h0M21.2,25.6h0M2,19.1h0M8.9,12.8h0M12.6,16.8h0M16.6,6.6h0M38.8,1.1h0M7.7,21.9h0M24,9.5h0M20.8,3.7h0M31.9,19.5h0M15.6,11.5h0M19.6,4.7h0M10.7,14h0M11.4,13.5h0M19.6,5.5h0M5.9,1.4h0M38.6,7.7h0M25.8,29h0M2.5,15.8h0M14.9,17.3h0M2.4,28.8h0M8.1,6.6h0M36.4,8.7h0M24.5,19.8h0M38.1,13.5h0M26.1,8.7h0M34.7,14.1h0M37.8,11.2h0M34,13.8h0M21.5,17.3h0M25.5,0h0M31.9,5.9h0M38.3,13.2h0M23.3,24.6h0M35,20.4h0M18.9,1.3h0M6.5,10.2h0M35.1,5h0M30.4,24.1h0M13.5,27.2h0M1,20h0M31.9,19.3h0M25.8,19.8h0M1.9,4.7h0M3.5,15.2h0M6.2,7.4h0M29.9,18.5h0M22.4,8.9h0M2.2,8.7h0M27,1.6h0M22.8,0.7h0M31.6,21.2h0M3.2,12.1h0M26.7,19.4h0M18.7,19.5h0M20.4,5.1h0M7.7,18.7h0M34.4,0.6h0M32.4,21.9h0M27.2,18.8h0M19.2,4.3h0M4.1,5.5h0M2.3,12h0M2.3,8.6h0M26.9,7.5h0M35.1,18.4h0M9.4,24.7h0M31,15.2h0M7.3,16.9h0M23.3,27.9h0M27.9,3.8h0M8.6,13.1h0M39,27.9h0M6.1,23.1h0M10,5.9h0M16,0.9h0M5.4,3.8h0M14.5,24.7h0M3.6,19.4h0M8.1,27.5h0M2,13.5h0M37.4,8.6h0M38.9,6.5h0M5.7,16.2h0M31.6,23.9h0M25.9,3.3h0M21.6,19.4h0M23.1,6.9h0M9.4,15.5h0M12.9,28.8h0M1.4,0.1h0M24.4,8.3h0M-0.2,1.1h0M-0.4,7.7h0M25.8,-0h0M2.4,-0.2h0M25.5,29h0M-0,27.9h0M-0.1,6.5h0M12.9,-0.2h0M1.4,29.1h0" stroke="#e37a3a" stroke-opacity="1" stroke-width="0.9" stroke-linecap="round" fill="none"/></pattern>
<pattern id="cp" width="39" height="29" patternUnits="userSpaceOnUse"><path d="M34.4,7.5h0M8.5,19.5h0M22.7,11.8h0M3.4,28.5h0M12.9,24.6h0M38.6,27.2h0M31.5,19.4h0M30.3,28.1h0M36.5,23.9h0M13.8,9.7h0M12.4,15.2h0M35.3,0.2h0M8.8,21.6h0M7,15.1h0M27.4,4.4h0M12,26.8h0M8.8,18.6h0M27.2,20.5h0M24.2,2.9h0M28.4,7.8h0M31.4,0h0M17.2,11.9h0M8.9,5.7h0M25,28.8h0M3.1,8.1h0M3.4,10.2h0M27,11.1h0M15.2,25.3h0M7,7.1h0M4.3,18.4h0M28.5,25.2h0M34.7,2.5h0M12.2,10.2h0M0.1,3.3h0M17.8,26.3h0M13.5,12.7h0M4.4,0.1h0M17.5,26.9h0M35.8,20.1h0M18,4.4h0M37.7,17.3h0M36.2,25.3h0M3.6,5.8h0M29.7,14.8h0M26.7,22.1h0M30.3,13.4h0M9.8,27.3h0M11.2,0.8h0M33.1,20.9h0M38.2,8.8h0M10.4,17.5h0M7.9,17.2h0M25.1,3.3h0M11.7,27.7h0M31.7,13.9h0M23,6.5h0M6.2,12.1h0M35.5,25.5h0M35.2,9.6h0M16.2,27.7h0M14.1,0.7h0M12.7,13.2h0M4.2,4.4h0M0.5,23h0M10.9,7.3h0M23.4,20.7h0M6.4,26.8h0M37.7,18h0M27.2,25.7h0M27.2,25.7h0M12.7,26.7h0M29.9,2.6h0M1.6,7h0M19.5,2.8h0M5.5,9.7h0M7.8,25.9h0M36.9,8.9h0M15.7,23.1h0M33.7,22.8h0M38.9,7.6h0M11.3,7.9h0M30.4,18.5h0M33.6,6.2h0M27.7,0.5h0M21.1,13h0M11,2.4h0M14.5,2.4h0M31.9,1.8h0M16.3,28.9h0M9.7,26.1h0M13.2,3.2h0M23.8,27.9h0M11.5,6.5h0M12.2,6.1h0M11.8,1.5h0M30,3.7h0M29.8,23.9h0M8.7,29h0M20.2,24.6h0M18.4,24.1h0M23.5,21.6h0M16,5.8h0M6,6.3h0M32.9,27.2h0M0.3,21h0M34.2,28.2h0M3.9,2.1h0M29.6,24.1h0M-0.4,27.2h0M35.3,29.2h0M31.4,29h0M25,-0.2h0M39.1,3.3h0M4.4,29.1h0M-0.1,7.6h0M16.3,-0.1h0M8.7,-0h0M39.3,21h0" stroke="#d48cc0" stroke-opacity="1" stroke-width="0.9" stroke-linecap="round" fill="none"/><path d="M30.9,12.3h0M22.4,8.1h0M5,16.9h0M29.4,17.3h0M37.8,13h0M20.4,27.9h0M14.9,0.4h0M27.7,1h0M16.9,26.7h0M0.4,14.9h0M33.6,9.5h0M17.7,2.5h0M20.4,16.7h0M18.8,19.5h0M27.9,2.5h0M3.5,11.6h0M23.9,14.6h0M6.7,25.2h0M22.4,19.9h0M31.7,14.9h0M15.6,2.3h0M31,10.3h0M37.2,0.9h0M29.3,8.4h0M30.3,27.5h0M31.6,19.9h0M8.7,27.4h0M32,16.6h0M30.9,0h0M32,23h0M10.2,14.5h0M13.4,12.1h0M11.5,3.9h0M35.4,11.6h0M3.3,12.7h0M36.8,9.3h0M2.4,5.4h0M38.2,21.7h0M11,4.5h0M14.8,19.9h0M31.1,15.3h0M18.8,15.7h0M38.6,21h0M7.4,19.1h0M11.5,17h0M23.7,28h0M16.4,5.2h0M14.3,26.7h0M32.4,1.5h0M11.6,14.4h0M2.2,15.7h0M5.6,19.4h0M3.2,6.9h0M5.5,8h0M31.4,21.6h0M25.3,20h0M28.4,22.2h0M5.9,20.2h0M32,8.1h0M23.3,7.5h0M35,7.3h0M4.4,23.3h0M6.1,13.8h0M26.6,23.5h0M5,13.3h0M20.8,11.1h0M22.9,3.5h0M0,27.1h0M13.8,14.9h0M10.8,20h0M5.4,0.3h0M2.7,2.1h0M1.7,17.1h0M8.8,9.3h0M33.7,22.1h0M4.6,12.3h0M4.1,25h0M1.4,18h0M37.9,8.6h0M29.1,28.7h0M26.8,24.8h0M38.6,20.6h0M36.5,13.2h0M7.8,16.6h0M30.9,29h0M-0.4,21h0M39,27.1h0M5.4,29.3h0M29.1,-0.3h0" stroke="#d48cc0" stroke-opacity="1" stroke-width="0.75" stroke-linecap="round" fill="none"/><path d="M18,10.2h0M5.4,26.9h0M21.3,4.8h0M38.9,27.8h0M1.6,22.2h0M1.3,10.5h0M9.8,9h0M14.6,20.1h0M23.7,0.6h0M33.9,15.8h0M17.6,5.7h0M7.6,11h0M37.2,14.1h0M25,16.3h0M16.4,25.9h0M38.9,9.3h0M1.2,20h0M9.2,27.3h0M11.8,6.2h0M34.3,28.3h0M19.4,22.7h0M12.5,1.7h0M4.9,14.3h0M34.2,18.1h0M23.9,13.7h0M32.9,16.3h0M19.4,8.7h0M33.2,16h0M27,0.8h0M20.6,11.7h0M13.6,24.5h0M17.3,4h0M12.1,23.7h0M18.4,23.1h0M18.4,26.9h0M11.4,16.8h0M24.8,23.7h0M9.6,5.4h0M35.8,9.3h0M3.4,6.6h0M22.4,16.2h0M1.4,20.5h0M16.1,5.8h0M-0.1,27.8h0M-0.1,9.3h0" stroke="#d48cc0" stroke-opacity="1" stroke-width="1.2" stroke-linecap="round" fill="none"/><path d="M0.2,20.3h0M27.3,3.6h0M3.2,23.5h0M0.5,1.9h0M34,23.8h0M3.1,13.5h0M15.8,13.7h0M8,5.5h0M4.9,24.4h0M35.9,11.2h0M12.2,4.2h0M11.1,11.5h0M17.8,20.9h0M18,10.9h0M32,5.4h0M27.9,15.2h0M8.6,10h0M18.3,25.3h0M30.2,0.5h0M22.2,12.7h0M15.5,9.3h0M27.1,10.5h0M19.8,26.1h0M34.5,22h0M3.6,11.6h0M8.4,16.1h0M3.4,4.2h0M24.1,19h0M11.1,6.2h0M5,14.1h0M1.1,11h0M19,14.4h0M32.1,0.5h0M23.2,16h0M36.1,12.2h0M35,27.2h0M27.9,16.6h0M13.7,3.4h0M14.2,12.7h0M20.2,19.2h0M19.4,10.1h0M21.3,20.2h0M20.6,20.8h0M1.9,22.7h0M29.5,19.8h0M0.6,17.4h0M19.8,11.7h0M30.7,15.7h0M9.3,22.4h0M30.4,7.5h0M33.1,4.8h0M33.7,15.1h0M32.6,3.3h0M8.2,12.9h0M26.3,3.8h0M24.3,10.5h0M37.7,19.5h0M35.6,16.9h0M25,2.1h0M16.9,4h0M21.8,12.9h0M6,28.2h0M3.3,25.1h0M18.1,16h0M14.2,27.1h0M23,16.3h0M10.9,0.8h0M36.9,17.4h0M1.7,15.8h0M38.5,0.5h0M29.1,2.4h0M3.6,7.1h0M20.3,6.8h0M16.8,7.6h0M0.6,0.7h0M30.3,0.6h0M10.9,10.7h0M2.6,26.2h0M10.4,2.5h0M12.4,3.6h0M31.1,18.3h0M35.3,19.5h0M17.2,5.7h0M29.4,23.1h0M12.4,16.7h0M39.2,20.3h0M39.5,1.9h0M30.2,29.5h0M32.1,29.5h0M-0.5,0.5h0M-0.5,29.5h0M38.5,29.5h0" stroke="#d48cc0" stroke-opacity="1" stroke-width="1.05" stroke-linecap="round" fill="none"/></pattern>
<clipPath id="cMC"><path d="M448.2,86.4C448.7,84.5 451.3,77.8 452.9,73.8C454.5,69.8 456.3,65.8 457.7,62.4C459.1,58.9 460.2,56.4 461.5,53.1C462.7,49.9 464,46.1 465.2,42.9C466.5,39.6 467.9,36.1 469,33.7C470.1,31.4 471,29.9 471.9,28.5C472.9,27.2 473.9,26.3 474.8,25.7C475.6,25.1 476.3,25 477.1,25.2C477.9,25.4 478.6,25.8 479.5,26.9C480.4,27.9 481.3,29.7 482.4,31.4C483.5,33.1 484.9,35.2 486.2,37.1C487.5,39 488.6,41.3 490,42.9C491.4,44.4 493.1,45.7 494.7,46.4C496.3,47 497.2,47.4 499.6,47C501.9,46.6 506.3,44.7 508.9,44C511.4,43.3 513,43.6 514.9,42.6C516.8,41.7 519.1,39.9 520.2,38.3C521.4,36.7 521.3,34.4 522,33C522.7,31.6 523.4,31.2 524.4,29.7C525.4,28.2 527.1,25.7 527.9,24C528.7,22.3 528.5,20.8 529.1,19.8C529.7,18.7 530.5,17.6 531.5,17.5C532.5,17.4 534.1,17.9 535.1,19C536.1,20.1 536.6,22 537.4,24C538.2,26 539.1,28.8 539.9,31.2C540.7,33.6 541.3,35.4 542.2,38.3C543.2,41.2 544.6,45.3 545.8,48.4C547,51.5 548,54.1 549.4,57C550.8,59.8 552.5,63.2 554.1,65.5C555.7,67.9 557.6,69.1 558.9,71.3C560.2,73.4 561.2,75.8 561.9,78.5C562.6,81.1 563,84.2 563,87.1C563,89.9 562.6,93 561.9,95.6C561.2,98.3 560.2,100.7 558.9,102.7C557.6,104.8 555.9,107.1 554.1,107.8C552.3,108.6 550.3,107.9 548.1,107.1C546,106.2 543.2,104.4 541,102.7C538.8,101.1 537.3,99.2 535.1,97C532.9,94.9 530.3,92.3 527.9,89.9C525.5,87.5 523.2,85.3 520.8,82.7C518.4,80.1 515.8,77 513.6,74.1C511.5,71.3 509.5,68.2 507.8,65.5C506,62.9 504.7,60.5 503,58.3C501.3,56.2 499.6,53.7 497.8,52.6C496.1,51.5 494.3,51.3 492.5,51.5C490.8,51.8 488.9,53.7 487.2,54.3C485.6,54.9 484,54.9 482.4,54.9C480.8,55 479.6,54.2 477.6,54.7C475.5,55.3 472.3,56 470,58.2C467.7,60.4 465.4,65.4 463.5,68C461.6,70.6 460.2,71.9 458.6,73.8C456.9,75.7 455.2,77.6 453.8,79.5C452.4,81.4 451,84.1 450,85.3C449.1,86.4 447.7,88.3 448.2,86.4Z"/></clipPath>
<radialGradient id="mCog" cx="0.5" cy="0.5" r="0.5"><stop offset="0" stop-color="#fff"/><stop offset="0.45" stop-color="#fff"/><stop offset="1" stop-color="#000"/></radialGradient>
<mask id="mCo" maskUnits="userSpaceOnUse" x="0" y="0" width="685" height="740"><ellipse cx="556" cy="90" rx="16" ry="24" fill="url(#mCog)"/></mask>
<radialGradient id="mCvg" cx="0.5" cy="0.5" r="0.5"><stop offset="0" stop-color="#fff"/><stop offset="0.3" stop-color="#fff"/><stop offset="1" stop-color="#000"/></radialGradient>
<mask id="mCv" maskUnits="userSpaceOnUse" x="0" y="0" width="685" height="740"><ellipse cx="503" cy="52" rx="20" ry="10" fill="url(#mCvg)"/></mask>
<g clip-path="url(#cMC)">
<rect x="484" y="10" width="90" height="100" fill="#e6f1e7"/>
<rect x="484" y="10" width="90" height="100" fill="url(#cg)"/>
<g mask="url(#mCo)"><rect x="530" y="55" width="45" height="60" fill="#fcece0"/><rect x="530" y="55" width="45" height="60" fill="url(#co)"/><rect x="530" y="55" width="45" height="60" fill="url(#co)" transform="translate(5,4)" opacity="0.5"/></g>
<g mask="url(#mCv)"><rect x="480" y="38" width="50" height="30" fill="#fff" opacity="0.6"/><rect x="480" y="38" width="50" height="30" fill="url(#co)"/></g>
</g>
<path d="M447.9,86C447.8,85 449.1,82.5 450,80C450.9,77.5 452.2,74.2 453.5,71C454.8,67.8 456.7,64.3 458,61C459.3,57.7 460.2,54.2 461.5,51C462.8,47.8 464.2,45 465.5,42C466.8,39 468.2,35.5 469.5,33C470.8,30.5 472.2,28.3 473.5,27C474.8,25.7 476.2,25.3 477.5,25.3C478.8,25.3 480.1,25.7 481,27C481.9,28.3 482.9,30.5 483,33C483.1,35.5 482.5,38.8 481.5,42C480.5,45.2 478.8,48.7 477,52C475.2,55.3 473.2,58.7 471,62C468.8,65.3 466.3,69 464,72C461.7,75 459.2,77.7 457,80C454.8,82.3 452,85 450.5,86C449,87 448,87 447.9,86Z" fill="#e6eef8"/>
<path d="M447.9,86C447.8,85 449.1,82.5 450,80C450.9,77.5 452.2,74.2 453.5,71C454.8,67.8 456.7,64.3 458,61C459.3,57.7 460.2,54.2 461.5,51C462.8,47.8 464.2,45 465.5,42C466.8,39 468.2,35.5 469.5,33C470.8,30.5 472.2,28.3 473.5,27C474.8,25.7 476.2,25.3 477.5,25.3C478.8,25.3 480.1,25.7 481,27C481.9,28.3 482.9,30.5 483,33C483.1,35.5 482.5,38.8 481.5,42C480.5,45.2 478.8,48.7 477,52C475.2,55.3 473.2,58.7 471,62C468.8,65.3 466.3,69 464,72C461.7,75 459.2,77.7 457,80C454.8,82.3 452,85 450.5,86C449,87 448,87 447.9,86Z" fill="url(#cb)"/>
<path d="M447.9,86C447.8,85 449.1,82.5 450,80C450.9,77.5 452.2,74.2 453.5,71C454.8,67.8 456.7,64.3 458,61C459.3,57.7 460.2,54.2 461.5,51C462.8,47.8 464.2,45 465.5,42C466.8,39 468.2,35.5 469.5,33C470.8,30.5 472.2,28.3 473.5,27C474.8,25.7 476.2,25.3 477.5,25.3C478.8,25.3 480.1,25.7 481,27C481.9,28.3 482.9,30.5 483,33C483.1,35.5 482.5,38.8 481.5,42C480.5,45.2 478.8,48.7 477,52C475.2,55.3 473.2,58.7 471,62C468.8,65.3 466.3,69 464,72C461.7,75 459.2,77.7 457,80C454.8,82.3 452,85 450.5,86C449,87 448,87 447.9,86Z" fill="url(#cb)" transform="translate(0.6,0.4)"/>
<path d="M478,26C478.5,25.3 479.7,26.3 481,28C482.3,29.7 484.2,33.5 486,36C487.8,38.5 490,40.8 492,43C494,45.2 495.7,47.3 498,49C500.3,50.7 505.7,51.7 506,53C506.3,54.3 502.3,57 500,57C497.7,57 494.5,54.7 492,53C489.5,51.3 487,49.2 485,47C483,44.8 481.2,42.5 480,40C478.8,37.5 478.3,34.3 478,32C477.7,29.7 477.5,26.7 478,26Z" fill="#fbece4"/>
<path d="M478,26C478.5,25.3 479.7,26.3 481,28C482.3,29.7 484.2,33.5 486,36C487.8,38.5 490,40.8 492,43C494,45.2 495.7,47.3 498,49C500.3,50.7 505.7,51.7 506,53C506.3,54.3 502.3,57 500,57C497.7,57 494.5,54.7 492,53C489.5,51.3 487,49.2 485,47C483,44.8 481.2,42.5 480,40C478.8,37.5 478.3,34.3 478,32C477.7,29.7 477.5,26.7 478,26Z" fill="url(#co)"/>
<line x1="531.6" y1="61.8" x2="551" y2="88" stroke="#b8c0cc" stroke-width="0.4"/>
<line x1="467.2" y1="49.8" x2="505.3" y2="55.8" stroke="#33476a" stroke-width="0.9"/><path d="M505.1,57.4L508.5,56.3L505.6,54.2Z" fill="#33476a"/>
<line x1="512.3" y1="56.7" x2="524.9" y2="59.8" stroke="#33476a" stroke-width="0.9"/><path d="M524.5,61.4L528,60.6L525.3,58.3Z" fill="#33476a"/>
<line x1="531.6" y1="61.8" x2="549.5" y2="86.2" stroke="#33476a" stroke-width="0.9"/><path d="M548.2,87.2L551.4,88.8L550.8,85.3Z" fill="#33476a"/>
<circle cx="467.2" cy="49.8" r="2.9" fill="#1f6fb5"/><circle cx="512.3" cy="56.7" r="3" fill="#d7263d"/><circle cx="531.6" cy="61.8" r="3" fill="#0a9a55"/>
<clipPath id="cD-22"><path d="M646,25.2C644.5,25.2 642.3,25.7 640.5,26C638.7,26.3 636.8,26.4 635,26.9C633.2,27.4 631.7,28.1 630,28.8C628.3,29.6 626.7,30.6 625,31.4C623.3,32.2 621.5,33.2 620,33.5C618.5,33.9 617.3,33.8 615.7,33.5C614.1,33.2 612,32.2 610.5,31.8C609,31.3 608.7,30.8 606.9,31C605.1,31.2 601.8,31.7 599.6,32.8C597.4,34 595.5,35.8 593.8,37.8C592.1,39.8 590.6,42.1 589.4,45C588.2,47.8 587.1,51.1 586.6,55C586.1,58.9 586.1,64.3 586.2,68.4C586.3,72.5 586.4,76.3 587.2,79.8C588,83.4 589.3,87.3 590.8,89.8C592.3,92.3 594.9,93.5 596,94.8C597.1,96.1 596.1,96.5 597.4,97.6C598.7,98.7 601.2,99.9 604,101.2C606.8,102.5 610.6,104.4 614.2,105.4C617.9,106.5 622.2,107.2 625.9,107.6C629.5,107.9 632.7,107.8 636.1,107.6C639.5,107.4 642.6,107.3 646.3,106.2C649.9,105.2 654.6,103 658,101.2C661.4,99.4 664.1,97.6 666.8,95.5C669.5,93.3 672.1,90.7 674,88.3C675.9,86 677.2,83.6 678.4,81.2C679.6,78.8 680.8,76.7 681.4,74.1C682,71.5 682,68.4 682.2,65.6C682.4,62.7 682.4,59.6 682.4,57C682.4,54.4 682.3,52.5 682,50C681.7,47.6 681.2,44.2 680.4,42C679.6,39.9 678.7,38.5 677.3,37C675.9,35.5 674.1,34 672.2,33C670.3,32.1 668.1,31.7 666.1,31.6C664.1,31.5 661.6,32 660,32.6C658.4,33.1 657.3,34.1 656.5,35C655.7,35.9 655.4,37.1 655.3,38.1C655.1,39.1 655.3,40.2 655.6,41.1C655.9,41.9 656.3,42.8 657,43.1C657.7,43.4 659,42.9 660,42.6C661,42.4 662,41.5 663,41.5C664,41.6 665.7,42.1 666,42.8C666.3,43.6 665.7,45 665,46C664.3,47.1 662.9,48.2 662,49.1C661.1,49.9 660.2,50.6 659.5,51.1C658.8,51.6 658.2,52.2 657.5,52.1C656.8,52 656.2,51.2 655.4,50.5C654.6,49.9 653.6,49.2 652.8,48.1C651.9,47 651.1,45.3 650.3,44.1C649.4,42.9 648.5,42 647.7,41.1C646.9,40.1 646.1,39 645.7,38.1C645.3,37.2 644.9,36.4 645.1,35.6C645.3,34.7 646,34 646.7,33C647.4,32.1 648.7,31.3 649.2,30.1C649.7,29 650.2,26.9 649.7,26.1C649.2,25.3 647.5,25.2 646,25.2Z"/></clipPath>
<linearGradient id="dG-22" x1="588" y1="0" x2="684" y2="0" gradientUnits="userSpaceOnUse"><stop offset="0" stop-color="#80c192"/><stop offset="0.35" stop-color="#94cba2"/><stop offset="1" stop-color="#c2e0c8"/></linearGradient>
<radialGradient id="dR-22" cx="640" cy="52" r="40" gradientUnits="userSpaceOnUse"><stop offset="0" stop-color="#ec9fa2" stop-opacity="1.00"/><stop offset="0.5" stop-color="#ec9fa2" stop-opacity="0.90"/><stop offset="1" stop-color="#ec9fa2" stop-opacity="0.00"/></radialGradient>
<g clip-path="url(#cD-22)">
<rect x="585" y="8" width="100" height="105" fill="url(#dG-22)"/>
<rect x="585" y="8" width="100" height="105" fill="url(#dR-22)"/>
<radialGradient id="dO-22" cx="670" cy="43" r="15" gradientUnits="userSpaceOnUse"><stop offset="0" stop-color="#ec8a3e" stop-opacity="1.00"/><stop offset="0.6" stop-color="#ec8a3e" stop-opacity="1.00"/><stop offset="1" stop-color="#ec8a3e" stop-opacity="0.00"/></radialGradient>
<rect x="645" y="23" width="40" height="40" fill="url(#dO-22)"/>
<rect x="585" y="8" width="100" height="105" fill="url(#spk2)"/>
<rect x="585" y="8" width="100" height="105" fill="url(#spk)" transform="translate(3,5)"/>
</g>
<path d="M623.6,13.6C623.6,13.7 623.4,14.3 623.4,14.5C623.4,14.7 623.6,14.7 623.6,14.8C623.7,14.9 623.6,14.7 623.8,14.9C624,15 624.7,15.4 624.9,15.7C625.1,16 625.1,16.6 625.1,16.8C625,17 624.6,16.8 624.6,17C624.6,17.2 625,17.8 625,17.9C624.9,18.1 624.6,18 624.6,18.1C624.6,18.1 624.8,17.8 624.9,18.1C625,18.3 624.9,19.2 625.1,19.4C625.3,19.6 626.3,19.4 626.4,19.4C626.4,19.4 625.5,19.5 625.5,19.5C625.6,19.6 626,19.9 626.4,20C626.8,20.1 627.6,20.3 627.9,20.4C628.1,20.5 627.9,20.7 628,20.7C628,20.7 628,20.6 628.2,20.5C628.4,20.4 629,20.1 629.2,20.2C629.5,20.3 629.4,21 629.7,21.1C630,21.2 630.9,20.6 631.1,20.6C631.4,20.6 631.2,21 631.4,20.9C631.6,20.8 632,20 632.5,20.1C633.1,20.1 634.1,20.9 634.6,21C635.2,21 635.3,20.3 635.6,20.3C635.9,20.3 636.1,21.1 636.4,21C636.6,20.9 637,19.9 637.2,19.7C637.4,19.6 637.4,20 637.7,20.1C638,20.2 638.6,20.3 638.9,20.3C639.2,20.2 639.3,19.7 639.6,19.6C639.8,19.6 640,19.8 640.3,19.8C640.6,19.7 641.2,19.4 641.5,19.4C641.8,19.5 641.9,20.1 642.2,20.1C642.5,20.2 642.9,19.8 643.3,19.5C643.7,19.3 644.3,18.7 644.6,18.8C645,18.8 645.2,19.6 645.4,19.7C645.6,19.8 645.5,19.4 645.8,19.3C646.1,19.2 647.1,19.1 647.3,19.1C647.6,19.1 647.1,19.3 647.3,19.3C647.5,19.4 648,19.4 648.2,19.6C648.5,19.7 648.6,20.2 648.8,20.3C649,20.5 649.3,20.3 649.4,20.2C649.4,20.2 648.9,20.1 649,20.2C649.1,20.4 649.6,20.9 649.7,21.1C649.8,21.3 649.5,21.2 649.5,21.4C649.6,21.6 649.8,22 649.8,22.4C649.9,22.7 650,23.3 650.1,23.5C650.1,23.6 649.9,23.2 650.1,23.5C650.2,23.7 651,24.4 651.2,24.8C651.3,25.2 650.8,25.5 650.8,25.6C650.9,25.8 651.4,25.7 651.4,25.7C651.3,25.7 650.5,25.7 650.4,25.7C650.3,25.8 650.7,25.9 650.8,26.1C650.8,26.3 650.7,26.6 650.5,27C650.4,27.3 649.8,27.9 649.7,28.1C649.6,28.2 650,27.7 649.8,27.9C649.7,28.1 649.2,29 649,29.3C648.8,29.6 648.9,29.8 648.8,29.7C648.8,29.7 648.8,29 648.7,29.1C648.5,29.2 648,30.1 647.8,30.3C647.5,30.5 647.2,30 647.1,30.1C647.1,30.1 647.7,30.6 647.7,30.8C647.7,31 647,31.2 646.9,31.3C646.8,31.3 647.3,31.1 647,31.3C646.8,31.4 645.5,32 645.3,32.2C645.2,32.5 646,32.8 645.9,32.8C645.8,32.8 644.9,32.2 644.8,32.2C644.6,32.2 645,32.9 645,33" fill="none" stroke="#a8cbe6" stroke-width="2" stroke-linecap="round" stroke-linejoin="round"/>
<path d="M623.6,13.6C623.6,13.7 623.4,14.3 623.4,14.5C623.4,14.7 623.6,14.7 623.6,14.8C623.7,14.9 623.6,14.7 623.8,14.9C624,15 624.7,15.4 624.9,15.7C625.1,16 625.1,16.6 625.1,16.8C625,17 624.6,16.8 624.6,17C624.6,17.2 625,17.8 625,17.9C624.9,18.1 624.6,18 624.6,18.1C624.6,18.1 624.8,17.8 624.9,18.1C625,18.3 624.9,19.2 625.1,19.4C625.3,19.6 626.3,19.4 626.4,19.4C626.4,19.4 625.5,19.5 625.5,19.5C625.6,19.6 626,19.9 626.4,20C626.8,20.1 627.6,20.3 627.9,20.4C628.1,20.5 627.9,20.7 628,20.7C628,20.7 628,20.6 628.2,20.5C628.4,20.4 629,20.1 629.2,20.2C629.5,20.3 629.4,21 629.7,21.1C630,21.2 630.9,20.6 631.1,20.6C631.4,20.6 631.2,21 631.4,20.9C631.6,20.8 632,20 632.5,20.1C633.1,20.1 634.1,20.9 634.6,21C635.2,21 635.3,20.3 635.6,20.3C635.9,20.3 636.1,21.1 636.4,21C636.6,20.9 637,19.9 637.2,19.7C637.4,19.6 637.4,20 637.7,20.1C638,20.2 638.6,20.3 638.9,20.3C639.2,20.2 639.3,19.7 639.6,19.6C639.8,19.6 640,19.8 640.3,19.8C640.6,19.7 641.2,19.4 641.5,19.4C641.8,19.5 641.9,20.1 642.2,20.1C642.5,20.2 642.9,19.8 643.3,19.5C643.7,19.3 644.3,18.7 644.6,18.8C645,18.8 645.2,19.6 645.4,19.7C645.6,19.8 645.5,19.4 645.8,19.3C646.1,19.2 647.1,19.1 647.3,19.1C647.6,19.1 647.1,19.3 647.3,19.3C647.5,19.4 648,19.4 648.2,19.6C648.5,19.7 648.6,20.2 648.8,20.3C649,20.5 649.3,20.3 649.4,20.2C649.4,20.2 648.9,20.1 649,20.2C649.1,20.4 649.6,20.9 649.7,21.1C649.8,21.3 649.5,21.2 649.5,21.4C649.6,21.6 649.8,22 649.8,22.4C649.9,22.7 650,23.3 650.1,23.5C650.1,23.6 649.9,23.2 650.1,23.5C650.2,23.7 651,24.4 651.2,24.8C651.3,25.2 650.8,25.5 650.8,25.6C650.9,25.8 651.4,25.7 651.4,25.7C651.3,25.7 650.5,25.7 650.4,25.7C650.3,25.8 650.7,25.9 650.8,26.1C650.8,26.3 650.7,26.6 650.5,27C650.4,27.3 649.8,27.9 649.7,28.1C649.6,28.2 650,27.7 649.8,27.9C649.7,28.1 649.2,29 649,29.3C648.8,29.6 648.9,29.8 648.8,29.7C648.8,29.7 648.8,29 648.7,29.1C648.5,29.2 648,30.1 647.8,30.3C647.5,30.5 647.2,30 647.1,30.1C647.1,30.1 647.7,30.6 647.7,30.8C647.7,31 647,31.2 646.9,31.3C646.8,31.3 647.3,31.1 647,31.3C646.8,31.4 645.5,32 645.3,32.2C645.2,32.5 646,32.8 645.9,32.8C645.8,32.8 644.9,32.2 644.8,32.2C644.6,32.2 645,32.9 645,33" fill="none" stroke="#5a96cc" stroke-width="0.7" stroke-linecap="round" opacity="0.9"/>
<line x1="640.4" y1="28.6" x2="633.7" y2="50.4" stroke="#33476a" stroke-width="0.9"/><path d="M632.2,50L632.8,53.5L635.3,50.9Z" fill="#33476a"/>
<line x1="630.6" y1="58" x2="621.7" y2="70.6" stroke="#33476a" stroke-width="0.9"/><path d="M620.3,69.7L619.8,73.2L623,71.5Z" fill="#33476a"/>
<line x1="616.4" y1="78" x2="663.1" y2="47.7" stroke="#33476a" stroke-width="0.9"/><path d="M664,49.1L665.8,46L662.2,46.4Z" fill="#33476a"/>
<circle cx="640.4" cy="28.6" r="2.4" fill="#1f6fb5"/><circle cx="630.6" cy="58" r="4" fill="#d7263d"/><circle cx="616.4" cy="78" r="4.5" fill="#0a9a55"/><circle cx="669.4" cy="42.6" r="3.2" fill="#ea7a2a"/>
<text x="410.3" y="126" text-anchor="middle" style="font-family:'Liberation Sans',Arial,sans-serif;font-size:10.7px" fill="#333">Donors with an adaptive NK cell expansion</text>
<line x1="149.4" y1="131.4" x2="671.4" y2="131.4" stroke="#555" stroke-width="0.9"/>
<text x="410.5" y="147" text-anchor="middle" style="font-family:'Liberation Sans',Arial,sans-serif;font-size:10.7px" fill="#333">Donors without an adaptive NK cell expansion</text>
<path d="M152.5,180C150.8,180.2 147.3,180.3 145.6,182.5C143.8,184.7 142.7,189.1 142.1,193C141.4,196.9 141.9,202.5 141.4,205.8C140.8,209.1 138.1,210.9 138.8,213C139.4,215.1 142.9,216.2 145.6,218.5C148.3,220.8 151.4,223.8 154.9,227C158.4,230.2 163.3,234.9 166.6,237.6C169.9,240.3 172.9,242.8 174.7,243C176.5,243.2 176.9,240.9 177.2,238.6C177.6,236.3 178,232.7 177,229C176,225.3 172.6,220.3 171.2,216.4C169.8,212.5 170.2,209 168.9,205.8C167.6,202.6 165.1,200.2 163.5,197C161.9,193.8 160.8,189.5 159.5,186.8C158.3,184.1 157,182.1 155.8,181C154.6,179.9 154.2,179.8 152.5,180Z" fill="#cfe3f1"/>
<path d="M152.5,180C150.8,180.2 147.3,180.3 145.6,182.5C143.8,184.7 142.7,189.1 142.1,193C141.4,196.9 141.9,202.5 141.4,205.8C140.8,209.1 138.1,210.9 138.8,213C139.4,215.1 142.9,216.2 145.6,218.5C148.3,220.8 151.4,223.8 154.9,227C158.4,230.2 163.3,234.9 166.6,237.6C169.9,240.3 172.9,242.8 174.7,243C176.5,243.2 176.9,240.9 177.2,238.6C177.6,236.3 178,232.7 177,229C176,225.3 172.6,220.3 171.2,216.4C169.8,212.5 170.2,209 168.9,205.8C167.6,202.6 165.1,200.2 163.5,197C161.9,193.8 160.8,189.5 159.5,186.8C158.3,184.1 157,182.1 155.8,181C154.6,179.9 154.2,179.8 152.5,180Z" fill="url(#vblue)"/>
<path d="M152.5,180C150.8,180.2 147.3,180.3 145.6,182.5C143.8,184.7 142.7,189.1 142.1,193C141.4,196.9 141.9,202.5 141.4,205.8C140.8,209.1 138.1,210.9 138.8,213C139.4,215.1 142.9,216.2 145.6,218.5C148.3,220.8 151.4,223.8 154.9,227C158.4,230.2 163.3,234.9 166.6,237.6C169.9,240.3 172.9,242.8 174.7,243C176.5,243.2 176.9,240.9 177.2,238.6C177.6,236.3 178,232.7 177,229C176,225.3 172.6,220.3 171.2,216.4C169.8,212.5 170.2,209 168.9,205.8C167.6,202.6 165.1,200.2 163.5,197C161.9,193.8 160.8,189.5 159.5,186.8C158.3,184.1 157,182.1 155.8,181C154.6,179.9 154.2,179.8 152.5,180Z" fill="url(#vblue)" transform="translate(1.5,1.5)"/>
<path d="M165,186C166.1,183.3 172.9,181 176.3,178.7C179.7,176.4 182.2,174 185.5,172.1C188.8,170.2 192.7,168.7 196,167.5C199.3,166.3 201.9,165.6 205.2,164.9C208.5,164.2 211.8,163.4 215.7,163.1C219.6,162.8 227.9,161 228.8,162.9C229.7,164.8 224.3,172.5 221,174.7C217.7,176.9 212.6,175.3 209.1,176C205.6,176.7 203.3,178 200,178.7C196.7,179.4 192.2,178.9 189.4,180C186.6,181.1 184.7,183 182.9,185.2C181.2,187.4 181.1,191.5 178.9,193.1C176.8,194.7 172.3,196.2 170,195C167.7,193.8 163.9,188.7 165,186Z" fill="#f6e4e6"/>
<path d="M165,186C166.1,183.3 172.9,181 176.3,178.7C179.7,176.4 182.2,174 185.5,172.1C188.8,170.2 192.7,168.7 196,167.5C199.3,166.3 201.9,165.6 205.2,164.9C208.5,164.2 211.8,163.4 215.7,163.1C219.6,162.8 227.9,161 228.8,162.9C229.7,164.8 224.3,172.5 221,174.7C217.7,176.9 212.6,175.3 209.1,176C205.6,176.7 203.3,178 200,178.7C196.7,179.4 192.2,178.9 189.4,180C186.6,181.1 184.7,183 182.9,185.2C181.2,187.4 181.1,191.5 178.9,193.1C176.8,194.7 172.3,196.2 170,195C167.7,193.8 163.9,188.7 165,186Z" fill="url(#vred)"/>
<path d="M165,186C166.1,183.3 172.9,181 176.3,178.7C179.7,176.4 182.2,174 185.5,172.1C188.8,170.2 192.7,168.7 196,167.5C199.3,166.3 201.9,165.6 205.2,164.9C208.5,164.2 211.8,163.4 215.7,163.1C219.6,162.8 227.9,161 228.8,162.9C229.7,164.8 224.3,172.5 221,174.7C217.7,176.9 212.6,175.3 209.1,176C205.6,176.7 203.3,178 200,178.7C196.7,179.4 192.2,178.9 189.4,180C186.6,181.1 184.7,183 182.9,185.2C181.2,187.4 181.1,191.5 178.9,193.1C176.8,194.7 172.3,196.2 170,195C167.7,193.8 163.9,188.7 165,186Z" fill="url(#vorange)" opacity="0.6"/>
<clipPath id="cCV"><path d="M212.8,164.5C215.6,163.5 223,163.4 228,163.9C233,164.4 238.3,165.6 243,167.7C247.7,169.8 252.5,173 256.1,176.2C259.7,179.4 262.3,182.9 264.6,186.8C267,190.7 268.9,195.3 270,199.5C271.2,203.7 271.6,208 271.6,212.2C271.6,216.4 271.2,221 270,224.9C268.9,228.8 267.3,232.2 264.6,235.4C261.9,238.6 258.2,241.8 253.9,243.9C249.6,246 243.4,247.6 238.7,248.1C234,248.6 229.3,248.1 225.8,247.1C222.2,246.1 219.2,244.1 217.2,241.8C215.2,239.5 214.5,236.1 213.9,233.3C213.4,230.5 213.6,227.4 213.9,224.9C214.3,222.4 215.2,220.6 216.1,218.5C217,216.4 218.8,215 219.3,212.2C219.9,209.4 219.5,205.1 219.3,201.6C219.1,198.1 218.2,194.5 218.2,191C218.2,187.5 219.5,183.2 219.3,180.4C219.2,177.6 218.5,175.7 217.2,174C215.9,172.3 212.1,171.6 211.4,170C210.6,168.4 210,165.5 212.8,164.5Z"/></clipPath>
<g clip-path="url(#cCV)"><rect x="150" y="160" width="125" height="95" fill="#faf0e6"/>
<rect x="150" y="160" width="125" height="95" fill="url(#vorange)"/>
<rect x="150" y="160" width="125" height="95" fill="url(#vorange)" transform="translate(5,4)" opacity="0.5"/>
<path d="M210,185 C215,200 215,220 220,240 L228,240 C224,220 222,200 222,185Z" fill="url(#vred)"/>
<radialGradient id="vCw" cx="236" cy="200" r="26" gradientUnits="userSpaceOnUse"><stop offset="0" stop-color="#ffffff" stop-opacity="0.75"/><stop offset="0.5" stop-color="#ffffff" stop-opacity="0.55"/><stop offset="1" stop-color="#ffffff" stop-opacity="0.00"/></radialGradient>
<rect x="205" y="165" width="65" height="85" fill="url(#vCw)"/>
</g>
<path d="M156,199.5 157.9,198.4 159.8,197.3 161.7,196.2 163.6,195.1M163.7,196L164.5,194.5L162.9,194.6M142.7,190.9 144.6,189.8 146.5,188.7 148.4,187.5 150.3,186.4M150.4,187.3L151.3,185.9L149.6,185.9M162.6,203.7 164.5,202.6 166.4,201.5 168.3,200.4 170.2,199.3M170.3,200.1L171.2,198.7L169.5,198.8M156.2,204.1 158.1,203 160,201.9 161.9,200.8 163.8,199.6M163.9,200.5L164.8,199.1L163.1,199.2M168.2,218.9 170.1,217.8 172,216.7 173.9,215.6 175.8,214.5M175.8,215.4L176.7,213.9L175,214M153.8,217.1 155.7,215.9 157.6,214.8 159.5,213.7 161.4,212.6M161.4,213.5L162.3,212L160.6,212.1M157,217.8 158.9,216.7 160.8,215.6 162.7,214.5 164.6,213.4M164.6,214.3L165.5,212.8L163.8,212.9M157.8,196.9 159.7,195.8 161.5,194.6 163.4,193.5 165.3,192.4M165.4,193.3L166.3,191.9L164.6,191.9M160.3,231 162.2,229.9 164.1,228.8 166,227.7 167.9,226.5M167.9,227.4L168.8,226L167.1,226.1M156.9,202.4 158.8,201.3 160.7,200.2 162.6,199.1 164.5,198M164.6,198.9L165.5,197.4L163.8,197.5M158.7,225.5 160.6,224.4 162.5,223.2 164.4,222.1 166.3,221M166.3,221.9L167.2,220.5L165.5,220.5M153.5,208.4 155.4,207.3 157.3,206.1 159.2,205 161.1,203.9M161.2,204.8L162,203.4L160.3,203.4M157.7,229.9 159.6,228.7 161.5,227.6 163.4,226.5 165.3,225.4M165.4,226.3L166.3,224.8L164.6,224.9M144.3,193.6 146.2,192.5 148.1,191.3 150,190.2 151.9,189.1M152,190L152.9,188.5L151.2,188.6M154.5,190.1 156.4,189 158.3,187.8 160.2,186.7 162.1,185.6M162.1,186.5L163,185.1L161.3,185.1M145.4,205 147.3,203.9 149.2,202.8 151.1,201.7 153,200.6M153.1,201.5L153.9,200L152.2,200.1M148.5,222.2 150.4,221.1 152.3,220 154.2,218.8 156.1,217.7M156.2,218.6L157.1,217.2L155.4,217.2M154.7,226.2 156.6,225.1 158.5,224 160.4,222.9 162.3,221.8M162.3,222.7L163.2,221.2L161.5,221.3M138.4,214.4 140.3,213.3 142.2,212.1 144.1,211 146,209.9M146,210.8L146.9,209.4L145.2,209.4M152.4,210 154.3,208.9 156.2,207.8 158.1,206.7 160,205.6M160,206.5L160.9,205L159.2,205.1M158.7,229.8 160.6,228.7 162.5,227.6 164.3,226.5 166.2,225.4M166.3,226.2L167.2,224.8L165.5,224.9M158.1,188.4 159.9,187.3 161.8,186.1 163.7,185 165.6,183.9M165.7,184.8L166.6,183.4L164.9,183.4M152.2,194 154.1,192.9 156,191.8 157.9,190.7 159.8,189.5M159.9,190.4L160.8,189L159.1,189.1M167.5,224.3 169.4,223.2 171.3,222.1 173.2,220.9 175.1,219.8M175.1,220.7L176,219.3L174.3,219.3M143,218.5 144.9,217.4 146.8,216.3 148.7,215.2 150.6,214M150.6,214.9L151.5,213.5L149.8,213.5M171.4,235.4 173.3,234.3 175.2,233.2 177.1,232.1 179,231M179.1,231.9L179.9,230.4L178.2,230.5M152.2,205.1 154.1,204 156,202.9 157.9,201.7 159.8,200.6M159.9,201.5L160.8,200.1L159.1,200.1M158.2,208.3 160.1,207.2 162,206.1 163.9,205 165.8,203.9M165.8,204.8L166.7,203.3L165,203.4M175.3,235.7 177.2,234.5 179.1,233.4 181,232.3 182.8,231.2M182.9,232.1L183.8,230.6L182.1,230.7M151.7,198.5 153.6,197.3 155.5,196.2 157.3,195.1 159.2,194M159.3,194.9L160.2,193.4L158.5,193.5M160.9,207.1 162.8,206 164.7,204.9 166.6,203.8 168.5,202.7M168.5,203.5L169.4,202.1L167.7,202.2M144.8,187.3 146.7,186.2 148.6,185.1 150.5,183.9 152.4,182.8M152.4,183.7L153.3,182.3L151.6,182.3M153.3,190.8 155.2,189.7 157.1,188.6 159,187.4 160.9,186.3M160.9,187.2L161.8,185.8L160.1,185.8M168.5,229.7 170.4,228.6 172.2,227.5 174.1,226.4 176,225.3M176.1,226.2L177,224.7L175.3,224.8M161.7,206.9 163.6,205.7 165.5,204.6 167.4,203.5 169.3,202.4M169.4,203.3L170.3,201.8L168.6,201.9M156.3,230.5 158.2,229.4 160.1,228.3 162,227.2 163.9,226.1M163.9,227L164.8,225.5L163.1,225.6M151.1,189.9 153,188.8 154.9,187.7 156.8,186.5 158.7,185.4M158.8,186.3L159.7,184.9L158,184.9M163.8,225.2 165.7,224.1 167.6,222.9 169.5,221.8 171.4,220.7M171.4,221.6L172.3,220.2L170.6,220.2M152,214.1 153.9,213 155.8,211.9 157.7,210.8 159.6,209.7M159.7,210.6L160.6,209.1L158.9,209.2M150.5,197.2 152.4,196.1 154.3,194.9 156.1,193.8 158,192.7M158.1,193.6L159,192.2L157.3,192.2M164.4,220.8 166.3,219.7 168.2,218.6 170.1,217.5 172,216.4M172.1,217.3L173,215.8L171.3,215.9M169.4,235.8 171.3,234.7 173.2,233.6 175.1,232.5 177,231.4M177.1,232.3L178,230.8L176.3,230.9M170.7,228.2 172.6,227.1 174.5,225.9 176.4,224.8 178.3,223.7M178.4,224.6L179.3,223.2L177.6,223.2M165.7,233.7 167.6,232.5 169.5,231.4 171.4,230.3 173.3,229.2M173.4,230.1L174.2,228.6L172.5,228.7M174,239.9 175.9,238.8 177.8,237.7 179.7,236.6 181.6,235.5M181.7,236.4L182.5,234.9L180.9,235M150.5,186.2 152.4,185.1 154.3,183.9 156.2,182.8 158.1,181.7M158.1,182.6L159,181.1L157.3,181.2M145.4,212.6 147.3,211.5 149.2,210.4 151.1,209.3 153,208.2M153.1,209.1L154,207.6L152.3,207.7M156.2,212.7 158.1,211.6 160,210.5 161.9,209.4 163.8,208.3M163.8,209.2L164.7,207.7L163,207.8M166.2,227.9 168.1,226.8 170,225.7 171.9,224.5 173.8,223.4M173.9,224.3L174.7,222.9L173,222.9M151.1,214.9 153,213.8 154.9,212.7 156.8,211.6 158.7,210.5M158.7,211.4L159.6,209.9L157.9,210M164.8,211.9 166.7,210.8 168.5,209.7 170.4,208.6 172.3,207.5M172.4,208.3L173.3,206.9L171.6,207M155.5,197.7 157.4,196.6 159.3,195.5 161.2,194.4 163.1,193.3M163.2,194.1L164.1,192.7L162.4,192.8M145.7,201.7 147.6,200.6 149.5,199.5 151.4,198.4 153.3,197.3M153.4,198.1L154.3,196.7L152.6,196.8M146,221.4 147.9,220.3 149.8,219.2 151.7,218.1 153.6,217M153.6,217.9L154.5,216.4L152.8,216.5M159.6,228.4 161.5,227.3 163.4,226.2 165.3,225.1 167.2,224M167.3,224.9L168.2,223.4L166.5,223.5M158.1,220.8 160,219.7 161.9,218.6 163.8,217.4 165.6,216.3M165.7,217.2L166.6,215.8L164.9,215.8M158.1,212.1 160,211 161.9,209.8 163.8,208.7 165.7,207.6M165.8,208.5L166.7,207.1L165,207.1M150.9,201.5 152.8,200.4 154.7,199.3 156.6,198.2 158.5,197.1M158.5,198L159.4,196.5L157.7,196.6M150.5,214 152.4,212.9 154.3,211.8 156.2,210.7 158.1,209.6M158.2,210.5L159.1,209L157.4,209.1M154.9,216.5 156.8,215.4 158.7,214.2 160.6,213.1 162.4,212M162.5,212.9L163.4,211.5L161.7,211.5M149.9,220.3 151.8,219.2 153.7,218.1 155.6,217 157.5,215.9M157.6,216.8L158.5,215.3L156.8,215.4M160.2,210.4 162.1,209.3 163.9,208.2 165.8,207.1 167.7,205.9M167.8,206.8L168.7,205.4L167,205.5M155.4,196.9 157.3,195.8 159.2,194.7 161.1,193.5 163,192.4M163.1,193.3L164,191.9L162.3,191.9M168.8,212.2 170.7,211.1 172.6,210 174.5,208.8 176.4,207.7M176.4,208.6L177.3,207.2L175.6,207.2M151.1,201.3 153,200.2 154.9,199.1 156.8,198 158.7,196.9M158.7,197.8L159.6,196.3L157.9,196.4M160,208.2 161.9,207.1 163.8,206 165.7,204.9 167.6,203.7M167.7,204.6L168.5,203.2L166.8,203.3M163.2,217.1 165.1,216 167,214.9 168.9,213.8 170.8,212.7M170.9,213.6L171.8,212.1L170.1,212.2M158.2,188.7 160.1,187.5 162,186.4 163.9,185.3 165.8,184.2M165.9,185.1L166.8,183.6L165.1,183.7M150.3,185.1 152.2,184 154.1,182.8 155.9,181.7 157.8,180.6M157.9,181.5L158.8,180.1L157.1,180.1M143.9,202.9 145.8,201.7 147.7,200.6 149.6,199.5 151.5,198.4M151.5,199.3L152.4,197.8L150.7,197.9M162.6,226.4 164.5,225.3 166.4,224.2 168.3,223.1 170.2,221.9M170.3,222.8L171.1,221.4L169.4,221.5M169.8,242.2 171.7,241.1 173.6,240 175.5,238.9 177.4,237.7M177.4,238.6L178.3,237.2L176.6,237.3M163.4,204.3 165.3,203.2 167.2,202.1 169.1,201 171,199.9M171,200.8L171.9,199.3L170.2,199.4M153,197.4 154.9,196.3 156.8,195.1 158.7,194 160.6,192.9M160.7,193.8L161.6,192.3L159.9,192.4M151.9,213.7 153.8,212.6 155.7,211.5 157.6,210.4 159.5,209.3M159.6,210.2L160.4,208.7L158.7,208.8M162.2,230.1 164.1,229 166,227.9 167.9,226.8 169.8,225.7M169.9,226.6L170.8,225.1L169.1,225.2M151.5,198.9 153.4,197.8 155.3,196.7 157.2,195.5 159.1,194.4M159.2,195.3L160.1,193.9L158.4,193.9M162.9,201.6 164.8,200.4 166.7,199.3 168.6,198.2 170.5,197.1M170.6,198L171.5,196.5L169.8,196.6M156.9,221.6 158.8,220.5 160.7,219.4 162.6,218.3 164.5,217.2M164.5,218.1L165.4,216.6L163.7,216.7M151.2,195.5 153.1,194.4 155,193.3 156.9,192.2 158.8,191.1M158.8,192L159.7,190.5L158,190.6M144.4,196.9 146.3,195.7 148.2,194.6 150.1,193.5 152,192.4M152.1,193.3L153,191.8L151.3,191.9M167.8,225.6 169.7,224.5 171.6,223.4 173.5,222.2 175.3,221.1M175.4,222L176.3,220.6L174.6,220.6M171.1,233.4 173,232.2 174.9,231.1 176.7,230 178.6,228.9M178.7,229.8L179.6,228.3L177.9,228.4M143.2,206.8 145.1,205.7 147,204.6 148.9,203.4 150.8,202.3M150.8,203.2L151.7,201.8L150,201.8M167.2,215.5 169.1,214.4 171,213.3 172.9,212.1 174.8,211M174.8,211.9L175.7,210.5L174,210.5M158.4,200.4 160.3,199.3 162.2,198.2 164.1,197.1 166,196M166.1,196.8L167,195.4L165.3,195.5M155.3,211.2 157.2,210.1 159.1,209 161,207.9 162.9,206.8M163,207.6L163.9,206.2L162.2,206.3M160.3,205.9 162.2,204.8 164.1,203.7 166,202.6 167.9,201.4M167.9,202.3L168.8,200.9L167.1,201M156.5,225.5 158.4,224.4 160.3,223.3 162.2,222.2 164.1,221.1M164.2,222L165.1,220.5L163.4,220.6M169.1,213.9 171,212.8 172.9,211.7 174.8,210.6 176.7,209.4M176.8,210.3L177.7,208.9L176,209M172,231.1 173.9,230 175.8,228.9 177.7,227.7 179.6,226.6M179.7,227.5L180.6,226.1L178.9,226.1M152.5,204.9 154.4,203.8 156.3,202.7 158.2,201.6 160.1,200.4M160.1,201.3L161,199.9L159.3,199.9M170.9,231.9 172.8,230.7 174.7,229.6 176.6,228.5 178.5,227.4M178.5,228.3L179.4,226.8L177.7,226.9M158.6,229.4 160.5,228.3 162.4,227.2 164.3,226.1 166.2,224.9M166.2,225.8L167.1,224.4L165.4,224.5M165.5,225.8 167.4,224.7 169.3,223.6 171.2,222.4 173.1,221.3M173.1,222.2L174,220.8L172.3,220.8M159.5,221.2 161.4,220.1 163.3,218.9 165.2,217.8 167.1,216.7M167.2,217.6L168,216.1L166.3,216.2M152.1,195.4 154,194.2 155.9,193.1 157.8,192 159.7,190.9M159.8,191.8L160.7,190.3L159,190.4M143.6,214.6 145.5,213.4 147.4,212.3 149.3,211.2 151.2,210.1M151.3,211L152.2,209.5L150.5,209.6M156.3,188.7 158.2,187.5 160.1,186.4 162,185.3 163.9,184.2M164,185.1L164.9,183.6L163.2,183.7M157.7,199.2 159.6,198.1 161.5,197 163.4,195.9 165.3,194.8M165.3,195.7L166.2,194.2L164.5,194.3M154.1,213.7 156,212.6 157.9,211.4 159.8,210.3 161.7,209.2M161.7,210.1L162.6,208.7L160.9,208.7M148.3,187.4 150.2,186.3 152.1,185.2 154,184 155.9,182.9M155.9,183.8L156.8,182.4L155.1,182.4M171.7,238.3 173.6,237.2 175.5,236.1 177.4,234.9 179.3,233.8M179.3,234.7L180.2,233.3L178.5,233.3M168.3,213.4 170.2,212.3 172.1,211.2 174,210.1 175.9,209M175.9,209.9L176.8,208.4L175.1,208.5M142,214.8 143.9,213.7 145.8,212.5 147.7,211.4 149.6,210.3M149.7,211.2L150.6,209.8L148.9,209.8M172.4,227.5 174.3,226.3 176.1,225.2 178,224.1 179.9,223M180,223.9L180.9,222.4L179.2,222.5M154.8,183.1 156.7,182 158.6,180.9 160.5,179.8 162.4,178.6M162.5,179.5L163.4,178.1L161.7,178.2M143.8,199.3 145.7,198.1 147.6,197 149.5,195.9 151.4,194.8M151.4,195.7L152.3,194.2L150.6,194.3M146.5,217.1 148.4,216 150.3,214.8 152.2,213.7 154.1,212.6M154.2,213.5L155.1,212L153.4,212.1M161.8,210.2 163.7,209.1 165.6,208 167.5,206.9 169.4,205.7M169.4,206.6L170.3,205.2L168.6,205.3M140.9,206.4 142.8,205.3 144.7,204.2 146.6,203 148.5,201.9M148.6,202.8L149.5,201.4L147.8,201.4M147,222.3 148.9,221.2 150.8,220.1 152.7,218.9 154.6,217.8M154.6,218.7L155.5,217.3L153.8,217.3M163.7,208.3 165.6,207.2 167.5,206 169.4,204.9 171.3,203.8M171.4,204.7L172.3,203.2L170.6,203.3M139.5,215.7 141.4,214.6 143.3,213.5 145.2,212.4 147.1,211.2M147.1,212.1L148,210.7L146.3,210.8M141.9,197.2 143.8,196 145.7,194.9 147.6,193.8 149.5,192.7M149.6,193.6L150.5,192.1L148.8,192.2M170.1,238.5 172,237.3 173.8,236.2 175.7,235.1 177.6,234M177.7,234.9L178.6,233.4L176.9,233.5M148.2,203.7 150.1,202.6 152,201.5 153.9,200.4 155.8,199.3M155.9,200.2L156.8,198.7L155.1,198.8M150.9,221.9 152.8,220.8 154.7,219.7 156.6,218.6 158.5,217.5M158.5,218.3L159.4,216.9L157.7,217M149.4,211.5 151.3,210.4 153.2,209.3 155.1,208.1 157,207M157.1,207.9L158,206.5L156.3,206.5M160.6,224.5 162.5,223.4 164.4,222.3 166.3,221.2 168.2,220.1M168.3,221L169.1,219.5L167.4,219.6" fill="none" stroke="#111" stroke-width="0.5" stroke-opacity="0.9"/>
<path d="M178.3,180.6 180.3,179.7 182.3,178.9 184.4,178.1 186.4,177.2M185.3,178.5L186.4,177.2L184.7,177.1M176.7,188.6 178.7,187.8 180.7,186.9 182.8,186.1 184.8,185.3M183.7,186.6L184.8,185.3L183.1,185.1M166.9,184.6 168.9,183.8 171,182.9 173,182.1 175,181.3M174,182.6L175,181.3L173.3,181.1M211.5,176.7 213.6,175.9 215.6,175 217.6,174.2 219.7,173.4M218.6,174.7L219.7,173.4L218,173.2M204.2,171.6 206.2,170.7 208.3,169.9 210.3,169.1 212.3,168.2M211.3,169.5L212.3,168.2L210.6,168.1M215.9,166.3 217.9,165.5 220,164.6 222,163.8 224,163M222.9,164.3L224,163L222.3,162.8M191.8,175.3 193.8,174.5 195.8,173.6 197.9,172.8 199.9,172M198.8,173.3L199.9,172L198.2,171.8M196.1,168.2 198.1,167.3 200.2,166.5 202.2,165.7 204.2,164.8M203.2,166.1L204.2,164.8L202.5,164.7M178,182.1 180,181.3 182.1,180.5 184.1,179.6 186.1,178.8M185.1,180.1L186.1,178.8L184.4,178.6M166.1,196 168.1,195.1 170.1,194.3 172.2,193.4 174.2,192.6M173.1,193.9L174.2,192.6L172.5,192.4M163.2,188.5 165.2,187.7 167.3,186.8 169.3,186 171.3,185.1M170.2,186.5L171.3,185.1L169.6,185M192.8,179.2 194.8,178.3 196.9,177.5 198.9,176.6 200.9,175.8M199.9,177.1L200.9,175.8L199.2,175.6M203.5,175.1 205.5,174.2 207.6,173.4 209.6,172.6 211.6,171.7M210.5,173L211.6,171.7L209.9,171.6M195.9,174.6 197.9,173.8 199.9,173 202,172.1 204,171.3M202.9,172.6L204,171.3L202.3,171.1M171.9,186.2 173.9,185.4 175.9,184.6 178,183.7 180,182.9M178.9,184.2L180,182.9L178.3,182.7M208.3,171.3 210.3,170.4 212.3,169.6 214.4,168.7 216.4,167.9M215.3,169.2L216.4,167.9L214.7,167.7M198,170.7 200,169.9 202.1,169 204.1,168.2 206.1,167.4M205.1,168.7L206.1,167.4L204.4,167.2M167.6,192.6 169.7,191.8 171.7,190.9 173.7,190.1 175.8,189.2M174.7,190.5L175.8,189.2L174.1,189.1M217.6,174.1 219.7,173.2 221.7,172.4 223.7,171.5 225.8,170.7M224.7,172L225.8,170.7L224.1,170.5M168.5,190.9 170.5,190.1 172.5,189.3 174.6,188.4 176.6,187.6M175.5,188.9L176.6,187.6L174.9,187.4M208.1,171.8 210.1,170.9 212.2,170.1 214.2,169.2 216.2,168.4M215.2,169.7L216.2,168.4L214.5,168.2M197.2,177.8 199.2,176.9 201.3,176.1 203.3,175.2 205.3,174.4M204.3,175.7L205.3,174.4L203.7,174.2M181.4,176.2 183.4,175.3 185.4,174.5 187.5,173.7 189.5,172.8M188.4,174.1L189.5,172.8L187.8,172.6M171.4,184.7 173.4,183.8 175.5,183 177.5,182.1 179.5,181.3M178.5,182.6L179.5,181.3L177.9,181.1M213.3,171.7 215.4,170.9 217.4,170.1 219.4,169.2 221.5,168.4M220.4,169.7L221.5,168.4L219.8,168.2M198.6,176.9 200.6,176.1 202.6,175.2 204.7,174.4 206.7,173.6M205.6,174.9L206.7,173.6L205,173.4M163.4,188.3 165.4,187.4 167.4,186.6 169.5,185.8 171.5,184.9M170.4,186.2L171.5,184.9L169.8,184.7M193.5,170.7 195.6,169.9 197.6,169.1 199.6,168.2 201.7,167.4M200.6,168.7L201.7,167.4L200,167.2M175.2,186.2 177.3,185.3 179.3,184.5 181.3,183.7 183.4,182.8M182.3,184.1L183.4,182.8L181.7,182.7M167.3,190.9 169.4,190 171.4,189.2 173.4,188.3 175.5,187.5M174.4,188.8L175.5,187.5L173.8,187.3M176.2,181.3 178.2,180.5 180.3,179.6 182.3,178.8 184.3,177.9M183.3,179.3L184.3,177.9L182.7,177.8M186,172.9 188,172.1 190.1,171.3 192.1,170.4 194.1,169.6M193,170.9L194.1,169.6L192.4,169.4M190.2,173.3 192.2,172.5 194.2,171.6 196.3,170.8 198.3,170M197.2,171.3L198.3,170L196.6,169.8M169.1,188.2 171.1,187.4 173.2,186.5 175.2,185.7 177.2,184.9M176.2,186.2L177.2,184.9L175.5,184.7M171.5,188.3 173.5,187.4 175.5,186.6 177.6,185.8 179.6,184.9M178.5,186.2L179.6,184.9L177.9,184.8M208.5,176.7 210.6,175.8 212.6,175 214.6,174.2 216.7,173.3M215.6,174.6L216.7,173.3L215,173.1M205.4,175.3 207.4,174.4 209.5,173.6 211.5,172.7 213.5,171.9M212.4,173.2L213.5,171.9L211.8,171.7M212.7,170.5 214.7,169.7 216.7,168.8 218.8,168 220.8,167.2M219.7,168.5L220.8,167.2L219.1,167M171.9,181.5 173.9,180.6 176,179.8 178,178.9 180,178.1M179,179.4L180,178.1L178.3,177.9M174,192 176,191.1 178,190.3 180.1,189.5 182.1,188.6M181,189.9L182.1,188.6L180.4,188.4M217.5,169.1 219.5,168.3 221.5,167.4 223.6,166.6 225.6,165.8M224.5,167.1L225.6,165.8L223.9,165.6M177.6,178.3 179.7,177.4 181.7,176.6 183.7,175.8 185.8,174.9M184.7,176.2L185.8,174.9L184.1,174.7M190.3,174.5 192.4,173.7 194.4,172.8 196.4,172 198.5,171.2M197.4,172.5L198.5,171.2L196.8,171M179.4,180.1 181.4,179.3 183.5,178.4 185.5,177.6 187.5,176.7M186.4,178L187.5,176.7L185.8,176.6M197.4,177.4 199.5,176.6 201.5,175.7 203.6,174.9 205.6,174.1M204.5,175.4L205.6,174.1L203.9,173.9" fill="none" stroke="#111" stroke-width="0.45" stroke-opacity="0.85"/>
<path d="M247.1,198.7L243.9,198.4M245.6,197.8L243.9,198.4L245.4,199.4M241.3,204.8L238,203M239.8,203L238,203L239,204.4M246.6,227.8L244.6,224.6M246.1,225.6L244.6,224.6L244.8,226.4M229.6,177.6L225.8,175.7M227.5,175.7L225.8,175.7L226.8,177.2M230.3,175.6L232.4,180.6M231.1,179.5L232.4,180.6L232.5,178.9M257.4,241.1L255.2,246.5M255.1,244.7L255.2,246.5L256.5,245.3M250,182.3L247.5,186.9M247.6,185.1L247.5,186.9L249,185.9M219.3,228.8L216.3,229.5M217.7,228.4L216.3,229.5L218,229.9M245.9,176.2L240.5,176M242.1,175.2L240.5,176L242.1,176.8M232.2,209.1L229,206.4M230.7,206.8L229,206.4L229.7,208M249.8,176.6L243.4,177.5M244.9,176.5L243.4,177.5L245.1,178.1M227.7,228.9L224.4,226.8M226.1,227L224.4,226.8L225.3,228.3M269.6,203.9L267,200.7M268.6,201.5L267,200.7L267.4,202.5M234.5,219.8L232.6,216.7M234.1,217.6L232.6,216.7L232.7,218.4M260.3,233.9L257.2,233.8M258.9,233.1L257.2,233.8L258.8,234.7M218.6,220.9L213.2,224.3M214.2,222.7L213.2,224.3L215,224.1M219,219.4L219.5,213M220.2,214.7L219.5,213L218.6,214.5M235.9,232.1L236.1,227.2M236.8,228.8L236.1,227.2L235.2,228.8M230.9,247.3L227.4,246M229.2,245.8L227.4,246L228.6,247.3M218.5,170.8L212.9,169.3M214.7,169L212.9,169.3L214.3,170.5M241.5,206.2L237.6,205.4M239.3,205L237.6,205.4L239,206.5M222.3,184.6L219,184.8M220.5,183.9L219,184.8L220.7,185.5M237.5,233L234.2,230.4M236,230.8L234.2,230.4L235,232M251.3,183.9L248.2,187.7M248.6,186L248.2,187.7L249.8,187M234.7,228.5L230.1,230.2M231.4,228.9L230.1,230.2L231.9,230.4M244.8,173L242,172M243.8,171.7L242,172L243.2,173.3M233.1,165.9L229.5,166.3M231,165.3L229.5,166.3L231.2,166.9M238.8,183.4L240.1,187.7M238.9,186.4L240.1,187.7L240.4,186M229.5,192.5L225.5,196.5M226.1,194.8L225.5,196.5L227.2,195.9M237.1,200.5L233.3,202.2M234.5,200.8L233.3,202.2L235.1,202.3M267.4,225.1L262,223.1M263.8,222.9L262,223.1L263.3,224.4M227.6,175L223.4,177.3M224.4,175.8L223.4,177.3L225.1,177.2M244.4,234L243.6,237.5M243.1,235.8L243.6,237.5L244.7,236.1M224.9,228.3L220.7,230.6M221.8,229.1L220.7,230.6L222.5,230.5M233.3,244.5L227.6,243.6M229.4,243L227.6,243.6L229.1,244.6M259.9,213.6L256.9,211.5M258.6,211.8L256.9,211.5L257.7,213.1M234.7,207.5L230,204.3M231.7,204.5L230,204.3L230.8,205.9M265.9,204.4L261.9,200.6M263.6,201.2L261.9,200.6L262.5,202.3M245.3,205.6L241.1,206.2M242.6,205.1L241.1,206.2L242.8,206.7M217.7,239.7L216.3,235.2M217.5,236.4L216.3,235.2L216,236.9M226.7,221.6L223.7,216M225.2,217L223.7,216L223.8,217.8M249,226.8L245.5,224.7M247.2,224.8L245.5,224.7L246.4,226.2M240.5,242L235.9,242.2M237.5,241.3L235.9,242.2L237.5,242.9M235.2,181.4L231.8,185.2M232.3,183.5L231.8,185.2L233.5,184.6M242.9,190.5L237.2,190.7M238.7,189.9L237.2,190.7L238.8,191.4M216.1,231.9L213.2,234.7M213.8,233L213.2,234.7L214.9,234.2M238.8,234.9L233.7,232.2M235.5,232.2L233.7,232.2L234.7,233.7M218.4,235.1L217.4,230.5M218.5,231.9L217.4,230.5L216.9,232.2M238.3,214.9L237,208.9M238.1,210.3L237,208.9L236.5,210.7M234.7,223.2L231.4,221.9M233.2,221.7L231.4,221.9L232.6,223.2M225.6,246.8L220.9,248.3M222.2,247L220.9,248.3L222.7,248.6M231.2,207.2L225.5,207M227.1,206.3L225.5,207L227.1,207.9M239.7,192.8L235.2,192.4M236.8,191.8L235.2,192.4L236.7,193.3M214.8,167.2L210.5,162.4M212.2,163.1L210.5,162.4L211,164.1M248.3,175.1L246.6,171.8M248.1,172.8L246.6,171.8L246.6,173.6M223,190.8L218.9,188.7M220.7,188.7L218.9,188.7L220,190.1M228.4,191.4L224.2,188.5M226,188.7L224.2,188.5L225.1,190.1M261.8,210.9L259.1,213.6M259.7,211.9L259.1,213.6L260.8,213M215.6,228.1L213.8,231.8M213.8,230.1L213.8,231.8L215.2,230.8M255.2,232.7L252.1,232.6M253.8,231.8L252.1,232.6L253.7,233.4M233.8,232.5L232.7,226.2M233.7,227.6L232.7,226.2L232.2,227.9M217.4,224.7L212.3,223.9M214,223.4L212.3,223.9L213.8,224.9M253.1,211.6L246.8,211.3M248.4,210.5L246.8,211.3L248.4,212.1M248.4,203L244.5,198.8M246.2,199.4L244.5,198.8L245,200.5M237.2,203.9L233.3,203.1M235,202.7L233.3,203.1L234.7,204.2M248,235.2L243.6,234M245.4,233.6L243.6,234L245,235.2M231.6,210.8L229.9,206.5M231.2,207.7L229.9,206.5L229.8,208.3M234.8,178.3L232.5,175.4M234.2,176.2L232.5,175.4L232.9,177.2M221.6,226.6L223.2,232.5M222,231.2L223.2,232.5L223.5,230.7M237.5,189.1L231.6,189.1M233.2,188.3L231.6,189.1L233.2,189.9M240.8,242.3L236.1,241.7M237.8,241.1L236.1,241.7L237.6,242.7M250.3,194.3L246.7,189.1M248.3,190L246.7,189.1L247,190.9M217.1,225.7L211.7,223.2M213.4,223.2L211.7,223.2L212.8,224.6M259.7,230.9L257.4,229M259.1,229.4L257.4,229L258.1,230.6M235.3,221.3L238.3,225.3M236.7,224.5L238.3,225.3L238,223.5M224,186.4L221.1,185.9M222.8,185.4L221.1,185.9L222.5,187M268.3,210.4L262.9,211.2M264.4,210.1L262.9,211.2L264.6,211.7M254.1,194.4L254.8,191.2M255.2,192.9L254.8,191.2L253.7,192.6M235.3,242L232.4,244.1M233.2,242.5L232.4,244.1L234.2,243.8M220.5,198.7L217.6,196.8M219.4,197L217.6,196.8L218.5,198.3M260.7,238.5L254.3,238.4M255.9,237.6L254.3,238.4L255.9,239.2M227.3,224L225.7,220.2M227.1,221.4L225.7,220.2L225.6,221.9M223.1,198.4L219,196.2M220.8,196.2L219,196.2L220,197.6M251.7,220.8L248.3,220M250,219.6L248.3,220L249.7,221.1M229.8,192L227.1,187.3M228.6,188.3L227.1,187.3L227.2,189.1M236.6,185.3L232.5,182.3M234.2,182.6L232.5,182.3L233.3,183.9M262.1,230.7L256.7,230.6M258.3,229.8L256.7,230.6L258.3,231.4M251.3,218.5L252.5,212.6M252.9,214.3L252.5,212.6L251.4,214M229,187.3L223.4,186.1M225.1,185.6L223.4,186.1L224.8,187.2M223.9,227.9L217.6,228M219.2,227.2L217.6,228L219.2,228.8M267.9,206.8L267,203.5M268.2,204.8L267,203.5L266.6,205.3M225.3,218.4L220.2,221.7M221.1,220.1L220.2,221.7L222,221.5M249.2,234.2L246.4,239.8M246.4,238L246.4,239.8L247.8,238.7M252,225.3L248.5,223.8M250.3,223.7L248.5,223.8L249.7,225.2M263.7,234.4L268.3,230.5M267.6,232.1L268.3,230.5L266.6,230.9M241.2,243.1L238.6,241.1M240.4,241.4L238.6,241.1L239.4,242.7M224.1,215.6L223.1,220.7M222.6,218.9L223.1,220.7L224.2,219.3M244.2,199.5L240.9,196M242.6,196.6L240.9,196L241.4,197.7M241.4,181.4L237.7,179.1M239.5,179.3L237.7,179.1L238.7,180.6M236.5,213.9L233.2,212.7M234.9,212.5L233.2,212.7L234.4,214M256.7,223.4L256.4,219.4M257.3,221L256.4,219.4L255.7,221.1M240.4,229L234.4,228.5M236.1,227.9L234.4,228.5L236,229.4M228,226.1L225.9,220.1M227.2,221.3L225.9,220.1L225.7,221.9M225.2,189.4L221.5,190.1M222.9,189L221.5,190.1L223.2,190.6M262,210.3L259,212.7M259.8,211L259,212.7L260.8,212.3M243.9,174.4L247.6,178.5M245.9,177.8L247.6,178.5L247.1,176.7M233.8,204.8L232.4,201.1M233.7,202.3L232.4,201.1L232.2,202.9M239.9,241.5L238.4,245.6M238.2,243.8L238.4,245.6L239.7,244.3M234.7,239.4L232.2,233.9M233.6,235L232.2,233.9L232.1,235.7M229,226.7L227,223.2M228.5,224.2L227,223.2L227.1,224.9M220.7,213.1L217.7,209.5M219.4,210.2L217.7,209.5L218.1,211.3M256.3,233.5L251.1,234.2M252.5,233.2L251.1,234.2L252.8,234.8M214.5,226.5L212.8,222.7M214.2,223.8L212.8,222.7L212.7,224.4M229.7,235.8L230,240.1M229.1,238.6L230,240.1L230.7,238.5M243.7,182.5L238.5,180M240.3,180L238.5,180L239.6,181.4M266.4,230.4L265.2,234.2M265,232.4L265.2,234.2L266.5,232.9M254.9,199.9L253.8,195M255,196.4L253.8,195L253.4,196.7M225.3,217.5L222.4,220.5M223,218.8L222.4,220.5L224.1,219.9M262.4,226L257.1,224.3M258.9,224L257.1,224.3L258.4,225.6M239.2,188.4L234.7,188.3M236.4,187.5L234.7,188.3L236.3,189.1M243.5,220.2L239.7,218.4M241.4,218.3L239.7,218.4L240.8,219.8M229.9,187.9L227.1,191M227.6,189.3L227.1,191L228.8,190.3M236.8,187.9L232.9,188.4M234.4,187.4L232.9,188.4L234.6,189M222.9,182.7L218,180.9M219.8,180.7L218,180.9L219.3,182.2M240.9,238.2L238.4,234M239.9,235L238.4,234L238.6,235.8M224.4,244.8L227,241.6M226.6,243.4L227,241.6L225.4,242.4M251.3,239.4L247.9,236.6M249.6,237L247.9,236.6L248.6,238.2M264.6,227.3L262.8,224.4M264.3,225.3L262.8,224.4L263,226.2M249.4,194.3L243.8,197.2M244.9,195.7L243.8,197.2L245.6,197.2M221.4,187L226.4,183.4M225.6,185L226.4,183.4L224.7,183.7M250.3,175.1L251,168.8M251.6,170.5L251,168.8L250,170.3M217.6,235.1L212.4,235.6M213.9,234.7L212.4,235.6L214.1,236.3M223.4,164.2L218.1,164.8M219.6,163.8L218.1,164.8L219.8,165.4M243.4,246.8L238.3,242.9M240.1,243.3L238.3,242.9L239.1,244.5M220.5,212.5L224.4,210.1M223.5,211.7L224.4,210.1L222.6,210.3M237.9,225.2L233.3,228.1M234.3,226.6L233.3,228.1L235.1,227.9M246.8,225.6L248.1,219.7M248.6,221.4L248.1,219.7L247,221.1M258.1,195.9L252.4,193.9M254.2,193.7L252.4,193.9L253.6,195.2M267.3,217.1L266.4,221.3M266,219.6L266.4,221.3L267.5,219.9M240.6,195.8L234.9,197.5M236.2,196.3L234.9,197.5L236.7,197.8M237.6,192.9L231.9,194.3M233.3,193.1L231.9,194.3L233.6,194.7M262.5,195L257.7,191.7M259.5,192L257.7,191.7L258.6,193.3M261.7,207.4L258,208.7M259.3,207.4L258,208.7L259.8,208.9M232.5,237.6L227,240.1M228.2,238.7L227,240.1L228.8,240.1M219.8,191L214.2,192.9M215.5,191.6L214.2,192.9L216,193.1M218.1,237.4L216,239.7M216.5,238L216,239.7L217.7,239.1M254.2,191L251.9,188.4M253.5,189L251.9,188.4L252.3,190.1M250.4,235.3L249.7,238.3M249.3,236.6L249.7,238.3L250.9,237M239,218.4L235.7,214.8M237.4,215.5L235.7,214.8L236.2,216.6M238,208.4L231.9,209.5M233.3,208.5L231.9,209.5L233.6,210M238.9,198.4L236.5,196.3M238.2,196.7L236.5,196.3L237.1,197.9M245.9,197.2L244.5,191.3M245.6,192.7L244.5,191.3L244.1,193M229.2,198.9L225.9,194.2M227.5,195L225.9,194.2L226.2,195.9M239.8,183.5L236.6,184.8M237.7,183.4L236.6,184.8L238.4,184.9M232.3,245.1L229,240.6M230.6,241.4L229,240.6L229.3,242.4M254.2,183.8L253,186.6M252.9,184.9L253,186.6L254.3,185.5M255.6,206.1L249.7,206.4M251.3,205.5L249.7,206.4L251.3,207.1M217,172.7L217.2,167.9M218,169.6L217.2,167.9L216.4,169.5M236,245.6L231,245.8M232.6,245L231,245.8L232.6,246.6M264.9,210.2L261.5,212.4M262.4,210.9L261.5,212.4L263.3,212.2M251.5,216.2L248.5,212.3M250.1,213.1L248.5,212.3L248.8,214.1M260.3,195.1L262.3,191.5M262.2,193.3L262.3,191.5L260.8,192.5M250.4,182.2L245.7,181.6M247.3,181L245.7,181.6L247.1,182.6M225.1,186.4L223.5,183.1M225,184.3L223.5,183.1L223.5,184.9M235.7,188.9L231.8,190.8M232.9,189.3L231.8,190.8L233.6,190.8M230.4,214.8L226.9,212.4M228.6,212.7L226.9,212.4L227.7,214M259.2,230.2L261.4,226.8M261.2,228.6L261.4,226.8L259.9,227.7M237.3,216.4L233.7,212.1M235.3,212.8L233.7,212.1L234.1,213.9M251.5,230.6L249.8,226.7M251.2,227.9L249.8,226.7L249.7,228.5M229.4,234.8L224,234.6M225.6,233.8L224,234.6L225.6,235.4M219.4,211.1L218.5,205.9M219.6,207.4L218.5,205.9L218,207.7M237.7,244.2L234.4,244.4M235.9,243.5L234.4,244.4L236,245.1M254.3,190.6L249,190.8M250.6,189.9L249,190.8L250.7,191.5M220.5,223.3L219.2,219.2M220.4,220.5L219.2,219.2L218.9,221M244.5,218.2L240.7,217.4M242.5,217L240.7,217.4L242.1,218.5M249.4,230L248.4,234.8M247.9,233.1L248.4,234.8L249.5,233.4M218.2,218.7L215.4,214.5M217,215.4L215.4,214.5L215.7,216.3M226.9,208.4L222.9,204.1M224.5,204.8L222.9,204.1L223.4,205.8M220.9,193.8L217.6,189.6M219.3,190.3L217.6,189.6L218,191.3M232.5,192L234.2,186.3M234.5,188.1L234.2,186.3L233,187.6M230.9,169.9L230.1,166.5M231.2,167.8L230.1,166.5L229.7,168.2M250,205.3L246,201.2M247.7,201.8L246,201.2L246.5,202.9M248.2,191.3L241.7,190.9M243.4,190.2L241.7,190.9L243.3,191.8M265.7,229.1L259.8,230.5M261.1,229.4L259.8,230.5L261.5,230.9M244.8,196.2L239.1,197M240.6,195.9L239.1,197L240.8,197.5M262.7,200.6L259.6,197.8M261.3,198.3L259.6,197.8L260.2,199.4M236.5,211.7L232.4,207.3M234.1,208L232.4,207.3L232.9,209.1M224.1,219.9L220,220.8M221.4,219.6L220,220.8L221.7,221.2M244.1,198.1L239.2,199.7M240.4,198.4L239.2,199.7L240.9,199.9M235.9,182.9L232.7,183.1M234.3,182.2L232.7,183.1L234.4,183.8" fill="none" stroke="#111" stroke-width="0.4" stroke-opacity="0.75"/>
<g fill="#111"><circle cx="233.2" cy="193.7" r="0.75"/><circle cx="246.9" cy="231.4" r="0.75"/><circle cx="241.1" cy="244.1" r="0.75"/><circle cx="220.7" cy="225.6" r="0.75"/><circle cx="235.3" cy="181.8" r="0.75"/><circle cx="231.5" cy="195.4" r="0.75"/><circle cx="240.7" cy="205.2" r="0.75"/><circle cx="259" cy="230.6" r="0.75"/><circle cx="235.4" cy="228.6" r="0.75"/><circle cx="249.9" cy="206.5" r="0.75"/><circle cx="242.4" cy="181" r="0.75"/><circle cx="239.5" cy="214.6" r="0.75"/><circle cx="224.7" cy="169.4" r="0.75"/><circle cx="241.2" cy="221.2" r="0.75"/><circle cx="243" cy="232.6" r="0.75"/><circle cx="231.6" cy="201.7" r="0.75"/><circle cx="246.2" cy="182.3" r="0.75"/><circle cx="267.9" cy="228.6" r="0.75"/><circle cx="241.6" cy="207.8" r="0.75"/><circle cx="250.9" cy="241.9" r="0.75"/><circle cx="242" cy="198.4" r="0.75"/><circle cx="227.3" cy="178.4" r="0.75"/><circle cx="230.1" cy="168.7" r="0.75"/><circle cx="228.3" cy="169.2" r="0.75"/><circle cx="264.3" cy="218.2" r="0.75"/><circle cx="241.2" cy="191" r="0.75"/><circle cx="252.2" cy="192.7" r="0.75"/><circle cx="261.8" cy="235.1" r="0.75"/><circle cx="225.5" cy="207.4" r="0.75"/><circle cx="233.2" cy="246.7" r="0.75"/><circle cx="225.6" cy="167.2" r="0.75"/><circle cx="224.8" cy="243.2" r="0.75"/><circle cx="248.7" cy="225.7" r="0.75"/><circle cx="240.8" cy="223.3" r="0.75"/><circle cx="237.2" cy="208.1" r="0.75"/><circle cx="250.5" cy="230.8" r="0.75"/><circle cx="268" cy="217.7" r="0.75"/><circle cx="223.6" cy="240.7" r="0.75"/><circle cx="226" cy="209.8" r="0.75"/><circle cx="229.6" cy="240.1" r="0.75"/><circle cx="217.5" cy="233.4" r="0.75"/><circle cx="268.9" cy="198" r="0.75"/><circle cx="259.9" cy="215.9" r="0.75"/><circle cx="224.9" cy="207.7" r="0.75"/><circle cx="219" cy="189.9" r="0.75"/><circle cx="264.7" cy="206.8" r="0.75"/><circle cx="263.5" cy="202.6" r="0.75"/><circle cx="229.9" cy="205.1" r="0.75"/><circle cx="233.1" cy="246" r="0.75"/><circle cx="224.6" cy="206.7" r="0.75"/><circle cx="234.8" cy="174.1" r="0.75"/><circle cx="248.1" cy="238.2" r="0.75"/><circle cx="244.2" cy="192.4" r="0.75"/><circle cx="241.4" cy="184.6" r="0.75"/><circle cx="234.4" cy="229.3" r="0.75"/><circle cx="236" cy="237.5" r="0.75"/><circle cx="218.5" cy="190.3" r="0.75"/><circle cx="222" cy="230.3" r="0.75"/><circle cx="221.4" cy="211.3" r="0.75"/><circle cx="241.8" cy="225.7" r="0.75"/><circle cx="243" cy="188.2" r="0.75"/><circle cx="268.4" cy="204.6" r="0.75"/><circle cx="221.2" cy="209.7" r="0.75"/><circle cx="242.3" cy="171.9" r="0.75"/><circle cx="254.5" cy="194.2" r="0.75"/><circle cx="250.1" cy="185.7" r="0.75"/><circle cx="255.1" cy="230.8" r="0.75"/><circle cx="243.5" cy="241.3" r="0.75"/><circle cx="236" cy="195.7" r="0.75"/><circle cx="257.4" cy="228.9" r="0.75"/><circle cx="155.3" cy="208" r="0.75"/><circle cx="157.9" cy="218.5" r="0.75"/><circle cx="153.3" cy="206.2" r="0.75"/><circle cx="174.8" cy="242.6" r="0.75"/><circle cx="151.1" cy="196.7" r="0.75"/><circle cx="147.6" cy="198.3" r="0.75"/><circle cx="147.8" cy="190.7" r="0.75"/><circle cx="172.3" cy="222.5" r="0.75"/><circle cx="155.8" cy="195.3" r="0.75"/><circle cx="167.2" cy="220.3" r="0.75"/><circle cx="154.8" cy="196.3" r="0.75"/><circle cx="147.5" cy="182.2" r="0.75"/><circle cx="148.4" cy="196.5" r="0.75"/><circle cx="164.7" cy="222.7" r="0.75"/><circle cx="169.5" cy="214.1" r="0.75"/><circle cx="161.2" cy="223.3" r="0.75"/><circle cx="165.2" cy="233.6" r="0.75"/><circle cx="170.2" cy="237.8" r="0.75"/><circle cx="167.7" cy="215.1" r="0.75"/><circle cx="145.8" cy="188.1" r="0.75"/><circle cx="156.3" cy="216.1" r="0.75"/><circle cx="151.4" cy="220.3" r="0.75"/><circle cx="160.3" cy="210.3" r="0.75"/><circle cx="142.8" cy="198.7" r="0.75"/><circle cx="159.7" cy="208.7" r="0.75"/><circle cx="177.8" cy="191.5" r="0.75"/><circle cx="200.8" cy="176.3" r="0.75"/><circle cx="201.3" cy="176.8" r="0.75"/><circle cx="173.3" cy="184.5" r="0.75"/><circle cx="200.2" cy="175.6" r="0.75"/><circle cx="221.4" cy="169.4" r="0.75"/><circle cx="224.3" cy="164" r="0.75"/><circle cx="179.5" cy="182" r="0.75"/><circle cx="179.3" cy="179.8" r="0.75"/><circle cx="215.8" cy="174.3" r="0.75"/><circle cx="168.9" cy="189.2" r="0.75"/><circle cx="206.5" cy="170.6" r="0.75"/></g>
<line x1="271" y1="181" x2="287" y2="181" stroke="#3e5473" stroke-width="1.2"/><path d="M286,178.3 L291.6,181 L286,183.7 Z" fill="#3e5473"/>
<path d="M309,180C307.4,180.2 304.3,180.3 302.7,182.5C301.1,184.7 300.1,189.1 299.5,193C298.9,196.9 299.4,202.5 298.9,205.8C298.4,209.1 295.9,210.9 296.5,213C297.1,215.1 300.2,216.2 302.7,218.5C305.1,220.8 308,223.8 311.2,227C314.4,230.2 318.8,234.9 321.8,237.6C324.8,240.3 327.6,242.8 329.2,243C330.8,243.2 331.1,240.9 331.5,238.6C331.9,236.3 332.2,232.7 331.3,229C330.4,225.3 327.2,220.3 326,216.4C324.8,212.5 325.1,209 323.9,205.8C322.7,202.6 320.4,200.2 319,197C317.6,193.8 316.6,189.5 315.4,186.8C314.2,184.1 313.1,182.1 312,181C310.9,179.9 310.6,179.8 309,180Z" fill="#8a2e86"/>
<clipPath id="cLB"><path d="M309,180C307.4,180.2 304.3,180.3 302.7,182.5C301.1,184.7 300.1,189.1 299.5,193C298.9,196.9 299.4,202.5 298.9,205.8C298.4,209.1 295.9,210.9 296.5,213C297.1,215.1 300.2,216.2 302.7,218.5C305.1,220.8 308,223.8 311.2,227C314.4,230.2 318.8,234.9 321.8,237.6C324.8,240.3 327.6,242.8 329.2,243C330.8,243.2 331.1,240.9 331.5,238.6C331.9,236.3 332.2,232.7 331.3,229C330.4,225.3 327.2,220.3 326,216.4C324.8,212.5 325.1,209 323.9,205.8C322.7,202.6 320.4,200.2 319,197C317.6,193.8 316.6,189.5 315.4,186.8C314.2,184.1 313.1,182.1 312,181C310.9,179.9 310.6,179.8 309,180Z"/></clipPath>
<g clip-path="url(#cLB)"><rect x="295" y="175" width="40" height="72" fill="url(#pmix_red)"/><rect x="295" y="175" width="40" height="72" fill="url(#pmix_purp)" opacity="0.6" transform="translate(3,2)"/><rect x="295" y="175" width="40" height="72" fill="url(#pmix_or)" opacity="0.75"/><rect x="295" y="175" width="40" height="72" fill="url(#spk)"/></g>
<path d="M317.5,186.8C318.9,186 325,186.7 328,186.3C331,185.9 333.6,185.6 335.5,184.6C337.4,183.6 338.1,182 339.7,180.4C341.3,178.8 343.1,176.9 345,175.1C346.9,173.3 348.9,171.3 351.4,169.8C353.9,168.3 356.7,166.9 359.9,166C363.1,165.1 367.8,163.5 370.4,164.5C373,165.5 375.7,170.9 375.7,172C375.7,173.1 372.7,170.9 370.4,170.9C368.1,170.9 364.8,171.3 362,172C359.2,172.7 356,173.9 353.5,175.1C351,176.3 349.3,177.7 347.2,179.3C345.1,180.9 342.8,183 340.8,184.6C338.9,186.2 337.4,188 335.5,188.9C333.6,189.8 331.8,189.7 329.2,190C326.6,190.3 321.6,191.5 319.6,191C317.7,190.5 316.1,187.6 317.5,186.8Z" fill="#ee9a2a"/>
<path d="M327,188C328,186.7 331.3,186.5 333,187C334.7,187.5 336.5,189.2 337,191C337.5,192.8 336.7,195.8 336,198C335.3,200.2 334.2,203.3 333,204C331.8,204.7 330,203.5 329,202C328,200.5 327.3,197.3 327,195C326.7,192.7 326,189.3 327,188Z" fill="#eea040" opacity="0.8"/>
<path d="M327,188C328,186.7 331.3,186.5 333,187C334.7,187.5 336.5,189.2 337,191C337.5,192.8 336.7,195.8 336,198C335.3,200.2 334.2,203.3 333,204C331.8,204.7 330,203.5 329,202C328,200.5 327.3,197.3 327,195C326.7,192.7 326,189.3 327,188Z" fill="url(#spk2)"/>
<path d="M370.4,164.5C373.1,163.5 380.4,163.4 385.3,163.9C390.2,164.4 395.4,165.6 400,167.7C404.6,169.8 409.3,173 412.8,176.2C416.3,179.4 418.9,182.9 421.2,186.8C423.5,190.7 425.4,195.3 426.5,199.5C427.6,203.7 428,208 428,212.2C428,216.4 427.6,221 426.5,224.9C425.4,228.8 423.8,232.2 421.2,235.4C418.6,238.6 414.9,241.8 410.7,243.9C406.5,246 400.4,247.6 395.8,248.1C391.2,248.6 386.6,248.1 383.1,247.1C379.6,246.1 376.6,244.1 374.7,241.8C372.8,239.5 372,236.1 371.5,233.3C371,230.5 371.1,227.4 371.5,224.9C371.9,222.4 372.7,220.6 373.6,218.5C374.5,216.4 376.3,215 376.8,212.2C377.3,209.4 377,205.1 376.8,201.6C376.6,198.1 375.7,194.5 375.7,191C375.7,187.5 377,183.2 376.8,180.4C376.6,177.6 376,175.7 374.7,174C373.4,172.3 369.7,171.6 369,170C368.3,168.4 367.7,165.5 370.4,164.5Z" fill="#f2b024"/>
<clipPath id="cCB"><path d="M370.4,164.5C373.1,163.5 380.4,163.4 385.3,163.9C390.2,164.4 395.4,165.6 400,167.7C404.6,169.8 409.3,173 412.8,176.2C416.3,179.4 418.9,182.9 421.2,186.8C423.5,190.7 425.4,195.3 426.5,199.5C427.6,203.7 428,208 428,212.2C428,216.4 427.6,221 426.5,224.9C425.4,228.8 423.8,232.2 421.2,235.4C418.6,238.6 414.9,241.8 410.7,243.9C406.5,246 400.4,247.6 395.8,248.1C391.2,248.6 386.6,248.1 383.1,247.1C379.6,246.1 376.6,244.1 374.7,241.8C372.8,239.5 372,236.1 371.5,233.3C371,230.5 371.1,227.4 371.5,224.9C371.9,222.4 372.7,220.6 373.6,218.5C374.5,216.4 376.3,215 376.8,212.2C377.3,209.4 377,205.1 376.8,201.6C376.6,198.1 375.7,194.5 375.7,191C375.7,187.5 377,183.2 376.8,180.4C376.6,177.6 376,175.7 374.7,174C373.4,172.3 369.7,171.6 369,170C368.3,168.4 367.7,165.5 370.4,164.5Z"/></clipPath>
<g clip-path="url(#cCB)"><rect x="365" y="160" width="65" height="92" fill="url(#pmix_red)" opacity="0.22"/><rect x="365" y="160" width="65" height="92" fill="url(#spk)"/>
<path d="M377,186 C381,184 384,192 383,204 C382,212 379,214 378,210Z" fill="#fff" opacity="0.6"/></g>
<clipPath id="cLC"><path d="M458.1,180C456.7,180.3 454,180.3 452.6,182.6C451.2,184.9 450.4,189.6 449.8,193.7C449.3,197.7 449.7,203.6 449.3,207.1C448.9,210.6 446.7,212.4 447.2,214.7C447.8,216.9 450.5,218 452.6,220.4C454.7,222.9 457.2,226 460,229.3C462.8,232.7 466.6,237.7 469.2,240.5C471.8,243.3 474.3,246 475.7,246.2C477.1,246.3 477.4,244 477.7,241.5C478,239.1 478.3,235.3 477.5,231.4C476.7,227.6 474,222.3 472.9,218.2C471.8,214.2 472.1,210.5 471.1,207.1C470,203.7 468,201.2 466.8,197.8C465.6,194.5 464.7,189.9 463.7,187.1C462.6,184.3 461.6,182.2 460.7,181.1C459.8,179.9 459.4,179.7 458.1,180Z"/></clipPath>
<g clip-path="url(#cLC)"><rect x="440" y="175" width="45" height="80" fill="#e4ecf6"/><rect x="440" y="175" width="45" height="80" fill="url(#cb)"/><rect x="440" y="175" width="45" height="80" fill="url(#cb)" transform="translate(5,4)"/></g>
<clipPath id="cCC"><path d="M464.2,186.3C464.8,185.4 469.9,186.5 472.9,186.3C475.9,186.1 480,186.2 482.1,184.8C484.3,183.5 483.9,180.6 485.8,178.2C487.6,175.8 490.1,172.7 493.2,170.4C496.2,168.2 500.5,166 504.2,164.9C507.9,163.7 511.9,163.7 515.3,163.5C518.6,163.3 521.4,163.1 524.5,163.5C527.5,163.9 530.5,164.6 533.6,165.9C536.7,167.3 539.8,168.7 542.8,171.5C545.9,174.3 549.4,178.2 552.1,182.6C554.7,187.1 557,193 558.5,198.2C560,203.4 561.1,208.6 561.3,213.8C561.4,219 561,224.5 559.4,229.3C557.9,234.2 555.1,239.2 552.1,242.7C549,246.2 545,248.9 541,250.5C537,252 532.1,252.6 528.1,251.7C524.1,250.8 519.7,247.9 517.1,244.9C514.5,241.9 513.1,237.1 512.5,233.8C511.9,230.4 512.7,227.5 513.4,224.8C514.2,222.2 516.2,220 517.1,217.8C518,215.6 518.9,213.7 518.9,211.5C518.9,209.3 517.5,207.8 517.1,204.9C516.6,201.9 516.1,197.2 516.1,193.8C516.1,190.3 517.8,186.8 517.1,184.2C516.3,181.6 514,179.6 511.5,178.2C509.1,176.8 505.4,175.8 502.4,176C499.3,176.2 495.6,177.8 493.2,179.3C490.7,180.7 489.4,182.8 487.6,184.8C485.7,186.9 484,190.1 482.1,191.6C480.2,193 478.5,193.7 476.4,193.7C474.2,193.7 471.4,192.8 469.4,191.6C467.4,190.3 463.6,187.2 464.2,186.3Z"/></clipPath>
<radialGradient id="mCCbg" cx="0.5" cy="0.5" r="0.5"><stop offset="0" stop-color="#fff"/><stop offset="0.4" stop-color="#fff"/><stop offset="1" stop-color="#000"/></radialGradient>
<mask id="mCCb" maskUnits="userSpaceOnUse" x="0" y="0" width="685" height="740"><ellipse cx="498" cy="172" rx="24" ry="12" fill="url(#mCCbg)"/></mask>
<radialGradient id="mCCig" cx="0.5" cy="0.5" r="0.5"><stop offset="0" stop-color="#fff"/><stop offset="0.3" stop-color="#fff"/><stop offset="1" stop-color="#000"/></radialGradient>
<mask id="mCCi" maskUnits="userSpaceOnUse" x="0" y="0" width="685" height="740"><ellipse cx="517" cy="205" rx="7" ry="30" fill="url(#mCCig)"/></mask>
<g clip-path="url(#cCC)"><rect x="470" y="160" width="100" height="95" fill="#f0f2ee"/><rect x="470" y="160" width="100" height="95" fill="url(#cg)" opacity="0.8"/><rect x="470" y="160" width="100" height="95" fill="url(#cp)" transform="translate(4,3)" opacity="0.75"/>
<g mask="url(#mCCb)"><rect x="470" y="155" width="60" height="40" fill="#fff" opacity="0.7"/><rect x="470" y="155" width="60" height="40" fill="url(#co)"/><rect x="470" y="155" width="60" height="40" fill="url(#co)" transform="translate(5,3)"/></g>
<g mask="url(#mCCi)"><rect x="505" y="170" width="25" height="70" fill="url(#co)"/></g>
</g>
<line x1="463" y1="212" x2="511.6" y2="190.8" stroke="#33476a" stroke-width="0.9"/><path d="M512.2,192.2L514.5,189.5L510.9,189.3Z" fill="#33476a"/>
<line x1="517.6" y1="188.4" x2="531.7" y2="209.8" stroke="#33476a" stroke-width="0.9"/><path d="M530.4,210.7L533.5,212.5L533.1,208.9Z" fill="#33476a"/>
<line x1="517.6" y1="188.4" x2="539.3" y2="211.2" stroke="#33476a" stroke-width="0.9"/><path d="M538.1,212.3L541.5,213.5L540.5,210.1Z" fill="#33476a"/>
<circle cx="463" cy="212" r="2.9" fill="#1f6fb5"/><circle cx="517.6" cy="188.4" r="3" fill="#d7263d"/><circle cx="536" cy="215.4" r="3" fill="#0a9a55"/><circle cx="544" cy="216.4" r="3" fill="#d47fb8"/>
<clipPath id="cD123"><path d="M646,170.2C644.5,170.2 642.3,170.7 640.5,171C638.7,171.3 636.8,171.4 635,171.9C633.2,172.4 631.7,173.1 630,173.8C628.3,174.6 626.7,175.6 625,176.4C623.3,177.2 621.5,178.2 620,178.5C618.5,178.9 617.3,178.8 615.7,178.5C614.1,178.2 612,177.2 610.5,176.8C609,176.3 608.7,175.8 606.9,176C605.1,176.2 601.8,176.7 599.6,177.8C597.4,179 595.5,180.8 593.8,182.8C592.1,184.8 590.6,187.1 589.4,190C588.2,192.8 587.1,196.1 586.6,200C586.1,203.9 586.1,209.3 586.2,213.4C586.3,217.5 586.4,221.3 587.2,224.8C588,228.4 589.3,232.3 590.8,234.8C592.3,237.3 594.9,238.5 596,239.8C597.1,241.1 596.1,241.5 597.4,242.6C598.7,243.7 601.2,244.9 604,246.2C606.8,247.5 610.6,249.4 614.2,250.4C617.9,251.5 622.2,252.2 625.9,252.6C629.5,252.9 632.7,252.8 636.1,252.6C639.5,252.4 642.6,252.3 646.3,251.2C649.9,250.2 654.6,248 658,246.2C661.4,244.4 664.1,242.6 666.8,240.5C669.5,238.3 672.1,235.7 674,233.3C675.9,231 677.2,228.6 678.4,226.2C679.6,223.8 680.8,221.7 681.4,219.1C682,216.5 682,213.4 682.2,210.6C682.4,207.7 682.4,204.6 682.4,202C682.4,199.4 682.3,197.5 682,195C681.7,192.6 681.2,189.2 680.4,187C679.6,184.9 678.7,183.5 677.3,182C675.9,180.5 674.1,179 672.2,178C670.3,177.1 668.1,177 666.1,176.6C664.1,176.2 662,176.1 660,175.5C658,174.9 655.7,173.9 654,173.2C652.3,172.5 651,171.6 649.7,171.1C648.4,170.6 647.5,170.2 646,170.2Z"/></clipPath>
<linearGradient id="dG123" x1="588" y1="0" x2="684" y2="0" gradientUnits="userSpaceOnUse"><stop offset="0" stop-color="#80c192"/><stop offset="0.35" stop-color="#94cba2"/><stop offset="1" stop-color="#c2e0c8"/></linearGradient>
<radialGradient id="dR123" cx="640" cy="197" r="40" gradientUnits="userSpaceOnUse"><stop offset="0" stop-color="#ec9fa2" stop-opacity="1.00"/><stop offset="0.5" stop-color="#ec9fa2" stop-opacity="0.90"/><stop offset="1" stop-color="#ec9fa2" stop-opacity="0.00"/></radialGradient>
<g clip-path="url(#cD123)">
<rect x="585" y="153" width="100" height="105" fill="url(#dG123)"/>
<rect x="585" y="153" width="100" height="105" fill="url(#dR123)"/>
<radialGradient id="dP123" cx="686" cy="231" r="30" gradientUnits="userSpaceOnUse"><stop offset="0" stop-color="#dc98c4" stop-opacity="1.00"/><stop offset="0.5" stop-color="#dc98c4" stop-opacity="0.80"/><stop offset="1" stop-color="#dc98c4" stop-opacity="0.00"/></radialGradient>
<radialGradient id="dH123" cx="676" cy="185" r="20" gradientUnits="userSpaceOnUse"><stop offset="0" stop-color="#ffffff" stop-opacity="0.85"/><stop offset="0.6" stop-color="#ffffff" stop-opacity="0.70"/><stop offset="1" stop-color="#ffffff" stop-opacity="0.00"/></radialGradient>
<rect x="640" y="153" width="50" height="105" fill="url(#dP123)"/>
<rect x="640" y="158" width="50" height="55" fill="url(#dH123)"/>
<rect x="585" y="153" width="100" height="105" fill="url(#spk2)"/>
<rect x="585" y="153" width="100" height="105" fill="url(#spk)" transform="translate(3,5)"/>
</g>
<path d="M624.6,159.4C624.5,159.5 624.1,159.8 624.1,160C624.1,160.1 624.5,160.4 624.5,160.4C624.5,160.4 624.4,159.6 624.3,159.8C624.2,160 623.6,161.2 623.7,161.4C623.9,161.7 624.8,161.2 625.1,161.4C625.3,161.5 625.1,162.3 625,162.6C624.9,162.8 624.4,162.8 624.5,162.9C624.5,163 625.3,163.2 625.4,163.2C625.5,163.2 624.9,162.8 624.9,162.9C624.9,162.9 625.1,163.4 625.3,163.7C625.4,163.9 625.7,164.1 625.8,164.3C625.9,164.5 625.8,164.6 625.9,164.7C625.9,164.8 625.9,164.8 626.2,164.9C626.4,164.9 627.2,164.8 627.6,165C628,165.2 628.4,166 628.6,166C628.7,166.1 628.4,165.3 628.6,165.4C628.8,165.4 629.2,166.3 629.5,166.4C629.9,166.4 630.3,165.8 630.4,165.6C630.6,165.4 630.2,165.3 630.6,165.3C631,165.3 632.2,165.4 632.6,165.5C633,165.7 632.7,166 632.9,166.1C633,166.2 633.5,166.1 633.7,166C634,165.9 634.1,165.5 634.3,165.5C634.6,165.4 634.9,165.9 635.3,165.9C635.7,166 636.2,166 636.7,165.8C637.2,165.6 638,164.8 638.4,164.7C638.7,164.7 638.4,165.5 638.7,165.6C639,165.6 640,165.1 640.3,164.9C640.6,164.7 640.2,164.5 640.5,164.5C640.7,164.4 641.4,164.7 641.8,164.8C642.2,164.9 642.7,165.2 643,165.2C643.4,165.2 643.7,164.7 643.9,164.6C644.2,164.5 644.4,164.7 644.5,164.6C644.7,164.4 644.4,163.7 644.7,163.6C645,163.5 645.8,164 646.2,164C646.7,164 647.3,163.6 647.5,163.6C647.7,163.6 647.2,163.7 647.3,164C647.4,164.2 648.1,164.9 648.2,165.1C648.3,165.2 647.8,164.7 647.9,164.8C648.1,164.9 648.9,165.6 649.3,165.7C649.6,165.7 649.7,165.2 649.9,165.2C650.1,165.2 650.2,165.8 650.3,165.9C650.4,166.1 650.6,165.9 650.7,166.2C650.8,166.6 650.8,167.7 650.8,167.9C650.8,168.1 650.7,167.4 650.7,167.5C650.6,167.6 650.3,168.3 650.5,168.5C650.6,168.7 651.3,168.7 651.4,168.9C651.4,169.1 651,169.5 650.9,169.8C650.8,170.2 651,170.7 650.9,170.9C650.7,171.1 650.2,170.7 650,170.8C649.8,170.9 649.8,171.4 649.9,171.7C650,172.1 650.4,172.6 650.5,172.7C650.6,172.9 650.5,172.4 650.5,172.4C650.5,172.5 650.9,172.5 650.7,172.8C650.5,173.1 649.3,173.9 649.1,174.1C648.8,174.3 649.3,174.1 649.2,174.2C649.2,174.3 649,174.6 648.8,174.7C648.5,174.8 648,174.8 647.7,174.9C647.5,175 647.5,174.9 647.4,175C647.3,175.1 647.4,175.2 647.3,175.5C647.2,175.9 646.9,176.7 646.8,176.9C646.7,177.2 647,177 646.8,177.1C646.6,177.2 645.9,177.5 645.6,177.4C645.3,177.4 645.1,176.9 645,176.9C644.9,177 645,177.7 645,177.9C645,178.1 645,178 645,178" fill="none" stroke="#a8cbe6" stroke-width="2" stroke-linecap="round" stroke-linejoin="round"/>
<path d="M624.6,159.4C624.5,159.5 624.1,159.8 624.1,160C624.1,160.1 624.5,160.4 624.5,160.4C624.5,160.4 624.4,159.6 624.3,159.8C624.2,160 623.6,161.2 623.7,161.4C623.9,161.7 624.8,161.2 625.1,161.4C625.3,161.5 625.1,162.3 625,162.6C624.9,162.8 624.4,162.8 624.5,162.9C624.5,163 625.3,163.2 625.4,163.2C625.5,163.2 624.9,162.8 624.9,162.9C624.9,162.9 625.1,163.4 625.3,163.7C625.4,163.9 625.7,164.1 625.8,164.3C625.9,164.5 625.8,164.6 625.9,164.7C625.9,164.8 625.9,164.8 626.2,164.9C626.4,164.9 627.2,164.8 627.6,165C628,165.2 628.4,166 628.6,166C628.7,166.1 628.4,165.3 628.6,165.4C628.8,165.4 629.2,166.3 629.5,166.4C629.9,166.4 630.3,165.8 630.4,165.6C630.6,165.4 630.2,165.3 630.6,165.3C631,165.3 632.2,165.4 632.6,165.5C633,165.7 632.7,166 632.9,166.1C633,166.2 633.5,166.1 633.7,166C634,165.9 634.1,165.5 634.3,165.5C634.6,165.4 634.9,165.9 635.3,165.9C635.7,166 636.2,166 636.7,165.8C637.2,165.6 638,164.8 638.4,164.7C638.7,164.7 638.4,165.5 638.7,165.6C639,165.6 640,165.1 640.3,164.9C640.6,164.7 640.2,164.5 640.5,164.5C640.7,164.4 641.4,164.7 641.8,164.8C642.2,164.9 642.7,165.2 643,165.2C643.4,165.2 643.7,164.7 643.9,164.6C644.2,164.5 644.4,164.7 644.5,164.6C644.7,164.4 644.4,163.7 644.7,163.6C645,163.5 645.8,164 646.2,164C646.7,164 647.3,163.6 647.5,163.6C647.7,163.6 647.2,163.7 647.3,164C647.4,164.2 648.1,164.9 648.2,165.1C648.3,165.2 647.8,164.7 647.9,164.8C648.1,164.9 648.9,165.6 649.3,165.7C649.6,165.7 649.7,165.2 649.9,165.2C650.1,165.2 650.2,165.8 650.3,165.9C650.4,166.1 650.6,165.9 650.7,166.2C650.8,166.6 650.8,167.7 650.8,167.9C650.8,168.1 650.7,167.4 650.7,167.5C650.6,167.6 650.3,168.3 650.5,168.5C650.6,168.7 651.3,168.7 651.4,168.9C651.4,169.1 651,169.5 650.9,169.8C650.8,170.2 651,170.7 650.9,170.9C650.7,171.1 650.2,170.7 650,170.8C649.8,170.9 649.8,171.4 649.9,171.7C650,172.1 650.4,172.6 650.5,172.7C650.6,172.9 650.5,172.4 650.5,172.4C650.5,172.5 650.9,172.5 650.7,172.8C650.5,173.1 649.3,173.9 649.1,174.1C648.8,174.3 649.3,174.1 649.2,174.2C649.2,174.3 649,174.6 648.8,174.7C648.5,174.8 648,174.8 647.7,174.9C647.5,175 647.5,174.9 647.4,175C647.3,175.1 647.4,175.2 647.3,175.5C647.2,175.9 646.9,176.7 646.8,176.9C646.7,177.2 647,177 646.8,177.1C646.6,177.2 645.9,177.5 645.6,177.4C645.3,177.4 645.1,176.9 645,176.9C644.9,177 645,177.7 645,177.9C645,178.1 645,178 645,178" fill="none" stroke="#5a96cc" stroke-width="0.7" stroke-linecap="round" opacity="0.9"/>
<line x1="641" y1="172" x2="634.1" y2="194.4" stroke="#33476a" stroke-width="0.9"/><path d="M632.6,194L633.2,197.5L635.7,194.9Z" fill="#33476a"/>
<line x1="631" y1="202.6" x2="623" y2="218.2" stroke="#33476a" stroke-width="0.9"/><path d="M621.5,217.4L621.5,221L624.4,218.9Z" fill="#33476a"/>
<line x1="631" y1="202.6" x2="660.9" y2="223.9" stroke="#33476a" stroke-width="0.9"/><path d="M660,225.2L663.5,225.8L661.8,222.6Z" fill="#33476a"/>
<circle cx="641" cy="172" r="2.6" fill="#1f6fb5"/><circle cx="631" cy="202.6" r="4" fill="#d7263d"/><circle cx="619.4" cy="225.6" r="4.5" fill="#0a9a55"/><circle cx="666.6" cy="228" r="3.2" fill="#d47fb8"/>
<circle cx="214" cy="270" r="5.8" fill="#1f6fb5"/>
<text x="225.6" y="274.3" style="font-family:'Liberation Sans',Arial,sans-serif;font-size:10.9px" fill="#333">CD56<tspan dy="-4.2" style="font-size:7.6px">bright</tspan></text>
<circle cx="293.6" cy="270" r="5.8" fill="#d7263d"/>
<text x="304" y="274.3" style="font-family:'Liberation Sans',Arial,sans-serif;font-size:10.9px" fill="#333">Early CD56<tspan dy="-4.2" style="font-size:7.6px">dim</tspan></text>
<circle cx="391" cy="270" r="5.8" fill="#0a9a55"/>
<text x="401" y="274.3" style="font-family:'Liberation Sans',Arial,sans-serif;font-size:10.9px" fill="#333">Int. CD56<tspan dy="-4.2" style="font-size:7.6px">dim</tspan></text>
<circle cx="479" cy="270" r="5.8" fill="#d47fb8"/>
<text x="489.6" y="274.3" style="font-family:'Liberation Sans',Arial,sans-serif;font-size:10.9px" fill="#333">Late CD56<tspan dy="-4.2" style="font-size:7.6px">dim</tspan></text>
<circle cx="573.4" cy="270" r="5.8" fill="#ea6a2a"/>
<text x="585" y="274.3" style="font-family:'Liberation Sans',Arial,sans-serif;font-size:10.9px" fill="#333">Adaptive</text>
<path d="M6.4,317V399.4H115.4" fill="none" stroke="#7a7a7a" stroke-width="0.9"/>
<text x="63.4" y="312" text-anchor="middle" style="font-family:'Liberation Sans',Arial,sans-serif;font-size:10.4px" fill="#333">Trend 1</text>
<path d="M127.8,317V399.4H236.8" fill="none" stroke="#7a7a7a" stroke-width="0.9"/>
<text x="184.8" y="312" text-anchor="middle" style="font-family:'Liberation Sans',Arial,sans-serif;font-size:10.4px" fill="#333">Trend 2</text>
<path d="M249.1,317V399.4H358.1" fill="none" stroke="#7a7a7a" stroke-width="0.9"/>
<text x="306.1" y="312" text-anchor="middle" style="font-family:'Liberation Sans',Arial,sans-serif;font-size:10.4px" fill="#333">Trend 3</text>
<path d="M370.4,317V399.4H479.4" fill="none" stroke="#7a7a7a" stroke-width="0.9"/>
<text x="427.4" y="312" text-anchor="middle" style="font-family:'Liberation Sans',Arial,sans-serif;font-size:10.4px" fill="#333">Trend 4</text>
<path d="M491.8,317V399.4H600.8" fill="none" stroke="#7a7a7a" stroke-width="0.9"/>
<text x="548.8" y="312" text-anchor="middle" style="font-family:'Liberation Sans',Arial,sans-serif;font-size:10.4px" fill="#333">Trend 5</text>
<path d="M11,322C12.8,326.3 17.8,339.2 22,348C26.2,356.8 31.7,369.5 36,375C40.3,380.5 44,379.7 48,381C52,382.3 54.7,382.8 60,383C65.3,383.2 74,382.7 80,382.5C86,382.3 92,382.6 96,382C100,381.4 101.7,380.3 104,379C106.3,377.7 109,374.8 110,374" fill="none" stroke="#333" stroke-width="0.65" stroke-dasharray="1,0.8"/>
<path d="M11,338C12.8,342.5 18.5,357.5 22,365C25.5,372.5 29,379.2 32,383C35,386.8 37,386.8 40,388C43,389.2 45,389.6 50,390C55,390.4 63.3,390.5 70,390.5C76.7,390.5 83.3,390.3 90,390.2C96.7,390.1 106.7,390 110,390" fill="none" stroke="#333" stroke-width="0.65" stroke-dasharray="1,0.8"/>
<path d="M11,331C12.5,334.5 16.8,345.5 20,352C23.2,358.5 26.7,364.8 30,370C33.3,375.2 36.7,380.3 40,383C43.3,385.7 46.7,385.3 50,386C53.3,386.7 55,386.9 60,387C65,387.1 74,386.8 80,386.5C86,386.2 91,385.9 96,385.5C101,385.1 107.7,384.6 110,384.4" fill="none" stroke="#222" stroke-width="1.5"/>
<path d="M11,329C12.5,332.2 17.2,342.5 20,348C22.8,353.5 25.3,358.2 28,362C30.7,365.8 32.3,369.2 36,371C39.7,372.8 45.3,372.8 50,373C54.7,373.2 59,371.7 64,372C69,372.3 74.7,372.8 80,375C85.3,377.2 91,381.7 96,385C101,388.3 107.7,393.3 110,395" fill="none" stroke="#d870ae" stroke-width="1.3"/>
<path d="M11,330C12.5,333 16.8,342.2 20,348C23.2,353.8 26,359.8 30,365C34,370.2 37.3,375.7 44,379C50.7,382.3 62.3,383.5 70,385C77.7,386.5 85,387.5 90,388C95,388.5 96.7,387.9 100,388C103.3,388.1 108.3,388.4 110,388.5" fill="none" stroke="#d870ae" stroke-width="1.3"/>
<path d="M11,330C12.8,333.7 18.5,345.3 22,352C25.5,358.7 29,365.2 32,370C35,374.8 36.2,378.8 40,381C43.8,383.2 50,382.5 55,383C60,383.5 64.2,383 70,384C75.8,385 83.3,387 90,389C96.7,391 106.7,394.8 110,396" fill="none" stroke="#d870ae" stroke-width="1.3"/>
<path d="M132,321C134.3,327.8 142.3,352.2 146,362C149.7,371.8 151.3,375.5 154,380C156.7,384.5 159,388 162,389C165,390 168,388.8 172,386C176,383.2 180.7,376 186,372C191.3,368 199.3,363.3 204,362C208.7,360.7 211,363 214,364C217,365 219.1,367.9 222,368C224.9,368.1 229.8,365.2 231.4,364.6" fill="none" stroke="#333" stroke-width="0.65" stroke-dasharray="1,0.8"/>
<path d="M132,337C134.3,343.3 142.3,366.2 146,375C149.7,383.8 151.3,386.7 154,390C156.7,393.3 159,394.5 162,395C165,395.5 168,395.3 172,393C176,390.7 180.7,384.3 186,381C191.3,377.7 199.3,374 204,373C208.7,372 211,373.8 214,375C217,376.2 219.1,377.7 222,380C224.9,382.3 229.8,387.5 231.4,389" fill="none" stroke="#333" stroke-width="0.65" stroke-dasharray="1,0.8"/>
<path d="M132,329C133.2,332.5 136.7,343.3 139,350C141.3,356.7 143.5,363.3 146,369C148.5,374.7 151.3,380.2 154,384C156.7,387.8 159,391 162,392C165,393 168,392.5 172,390C176,387.5 182,380.3 186,377C190,373.7 193,371.6 196,370C199,368.4 201.3,367.6 204,367.4C206.7,367.1 209.3,367.9 212,368.5C214.7,369.1 216.8,369.6 220,371C223.2,372.4 229.5,376 231.4,377" fill="none" stroke="#222" stroke-width="1.5"/>
<path d="M253.4,321C254.5,322.8 257.7,328.8 260,332C262.3,335.2 263.7,338.8 267,340C270.3,341.2 275,339.3 280,339C285,338.7 291.5,337.8 297,338C302.5,338.2 307.8,338 313,340C318.2,342 323.3,346.5 328,350C332.7,353.5 337.8,358.8 341,361C344.2,363.2 345,363 347,363C349,363 352,361.3 353,361" fill="none" stroke="#333" stroke-width="0.65" stroke-dasharray="1,0.8"/>
<path d="M253.4,362C255,360.8 259.1,355.7 263,355C266.9,354.3 271.7,358.2 277,358C282.3,357.8 289.3,354.3 295,354C300.7,353.7 306,354.7 311,356C316,357.3 321,359.8 325,362C329,364.2 332,366.5 335,369C338,371.5 340,372.7 343,377C346,381.3 351.3,392 353,395" fill="none" stroke="#333" stroke-width="0.65" stroke-dasharray="1,0.8"/>
<path d="M253.4,341.6C255,342.4 259.7,345.3 263,346.5C266.3,347.7 269.2,348.9 273,349C276.8,349.1 281.7,347.6 286,347C290.3,346.4 294.5,345.4 299,345.6C303.5,345.8 307.7,345.8 313,348C318.3,350.2 324.3,354 331,359C337.7,364 349.3,374.8 353,378" fill="none" stroke="#222" stroke-width="1.5"/>
<path d="M375,343C376.3,346.2 380.2,356.3 383,362C385.8,367.7 388.8,373.8 392,377C395.2,380.2 398.7,380.2 402,381C405.3,381.8 407.7,382.5 412,382C416.3,381.5 423,379.8 428,378C433,376.2 436.7,373.8 442,371C447.3,368.2 454.7,364.3 460,361C465.3,357.7 471.7,352.7 474,351" fill="none" stroke="#333" stroke-width="0.65" stroke-dasharray="1,0.8"/>
<path d="M375,373C377.2,375.2 383.5,382.3 388,386C392.5,389.7 397.3,394 402,395C406.7,396 411,393 416,392C421,391 426.3,390.5 432,389C437.7,387.5 444.7,385.8 450,383C455.3,380.2 460,377.2 464,372C468,366.8 472.3,355.3 474,352" fill="none" stroke="#333" stroke-width="0.65" stroke-dasharray="1,0.8"/>
<path d="M375,358C376.8,360.8 382.2,370.3 386,375C389.8,379.7 394,383.9 398,386C402,388.1 406,387.3 410,387.5C414,387.7 417.7,387.8 422,387C426.3,386.2 431.7,384.7 436,383C440.3,381.3 443.7,380.5 448,377C452.3,373.5 457.7,368 462,362C466.3,356 472,344.5 474,341" fill="none" stroke="#222" stroke-width="1.5"/>
<path d="M375,322C376.2,326.7 379.5,341.2 382,350C384.5,358.8 387.5,369.2 390,375C392.5,380.8 394.7,382.5 397,385C399.3,387.5 400.5,389.3 404,390C407.5,390.7 413.3,389.5 418,389C422.7,388.5 426.3,388.7 432,387C437.7,385.3 446.7,383.5 452,379C457.3,374.5 460.3,369.7 464,360C467.7,350.3 472.3,327.5 474,321" fill="none" stroke="#ee8a3a" stroke-width="1.3"/>
<path d="M375,345C376.8,348.5 382.2,359.7 386,366C389.8,372.3 394,379.3 398,383C402,386.7 406,387 410,388C414,389 417.7,389.3 422,389C426.3,388.7 431,387.3 436,386C441,384.7 447.3,384.5 452,381C456.7,377.5 460.3,372 464,365C467.7,358 472.3,343.3 474,339" fill="none" stroke="#ee8a3a" stroke-width="1.3"/>
<path d="M375,346C376.8,349.7 382.2,361.7 386,368C389.8,374.3 394,380.4 398,384C402,387.6 406,388.5 410,389.5C414,390.5 417.7,390.4 422,390C426.3,389.6 431,388.7 436,387C441,385.3 447.3,384.5 452,380C456.7,375.5 460.3,369 464,360C467.7,351 472.3,331.7 474,326" fill="none" stroke="#ee8a3a" stroke-width="1.3"/>
<path d="M496,350.6C497.2,352.2 500.8,357.3 503,360C505.2,362.7 506.8,366.1 509,366.6C511.2,367.1 513.7,364.9 516,363C518.3,361.1 518.5,359.7 523,355C527.5,350.3 536.3,340.6 543,335C549.7,329.4 557.7,323.2 563,321.4C568.3,319.6 571.7,322.9 575,324C578.3,325.1 580.5,327.7 583,328C585.5,328.3 587.8,327.2 590,326C592.2,324.8 595,321.8 596,321" fill="none" stroke="#333" stroke-width="0.65" stroke-dasharray="1,0.8"/>
<path d="M496,395C497.2,393.5 500.8,388.7 503,386C505.2,383.3 506.8,380.6 509,379C511.2,377.4 513.7,377 516,376.5C518.3,376 520.2,377.4 523,376C525.8,374.6 529.7,371.5 533,368C536.3,364.5 538,359.8 543,355C548,350.2 557,340.7 563,339C569,337.3 574.5,342.2 579,345C583.5,347.8 587.2,351.8 590,356C592.8,360.2 595,367.7 596,370" fill="none" stroke="#333" stroke-width="0.65" stroke-dasharray="1,0.8"/>
<path d="M496,373C498.2,372.8 504.5,373.3 509,372C513.5,370.7 517.3,369.5 523,365C528.7,360.5 536.3,350.7 543,345C549.7,339.3 557.3,332.3 563,330.6C568.7,328.9 571.5,332.4 577,335C582.5,337.6 592.8,344.2 596,346" fill="none" stroke="#222" stroke-width="1.5"/>
<text x="110" y="342" text-anchor="end" style="font-family:'Liberation Sans',Arial,sans-serif;font-style:italic;font-size:10px" fill="#d870ae">KLRC2</text>
<text x="110" y="353.6" text-anchor="end" style="font-family:'Liberation Sans',Arial,sans-serif;font-style:italic;font-size:10px" fill="#d870ae">CD52</text>
<text x="110" y="365.2" text-anchor="end" style="font-family:'Liberation Sans',Arial,sans-serif;font-style:italic;font-size:10px" fill="#d870ae">IL32</text>
<text x="388.4" y="334" style="font-family:'Liberation Sans',Arial,sans-serif;font-style:italic;font-size:10px" fill="#ee8a3a">KLRC2</text>
<text x="388.4" y="345.8" style="font-family:'Liberation Sans',Arial,sans-serif;font-style:italic;font-size:10px" fill="#ee8a3a">CD52</text>
<text x="388.4" y="357.4" style="font-family:'Liberation Sans',Arial,sans-serif;font-style:italic;font-size:10px" fill="#ee8a3a">IL32</text>
<text transform="translate(621.4,341.5) rotate(-90)" text-anchor="middle" style="font-family:'Liberation Sans',Arial,sans-serif;font-size:10.6px" fill="#333">Gene expression</text>
<path d="M626.6,381V353 M626.6,381H654" fill="none" stroke="#3e5473" stroke-width="1"/><path d="M624.4,354 L626.6,349 L628.8,354Z M653,378.8 L658.4,381 L653,383.2Z" fill="#3e5473"/>
<text x="628.4" y="394" style="font-family:'Liberation Sans',Arial,sans-serif;font-size:10.5px" fill="#333">Pseudotime</text>
<path d="M18,433.4H46.2Q48.4,433.4 48.4,435.6V447.4H18Z" fill="#eef0c6" stroke="#cdd19e" stroke-width="0.6"/>
<text x="22.4" y="444.2" text-anchor="start" style="font-family:'Liberation Sans',Arial,sans-serif;font-style:italic;font-size:10.2px" fill="#2c2c2c">MYC</text>
<path d="M65.4,433.4H109V447.2H67.6Q65.4,447.2 65.4,445Z" fill="#eef0c6" stroke="#cdd19e" stroke-width="0.6"/>
<text x="105.4" y="444" text-anchor="end" style="font-family:'Liberation Sans',Arial,sans-serif;font-style:italic;font-size:10.2px" fill="#2c2c2c">HOXA9</text>
<path d="M18,450H66.4Q68.6,450 68.6,452.2V464H18Z" fill="#eef0c6" stroke="#cdd19e" stroke-width="0.6"/>
<text x="22.4" y="460.8" text-anchor="start" style="font-family:'Liberation Sans',Arial,sans-serif;font-style:italic;font-size:10.2px" fill="#2c2c2c">HOXA10</text>
<path d="M78,450H109V463.8H80.2Q78,463.8 78,461.6Z" fill="#eef0c6" stroke="#cdd19e" stroke-width="0.6"/>
<text x="105.4" y="460.6" text-anchor="end" style="font-family:'Liberation Sans',Arial,sans-serif;font-style:italic;font-size:10.2px" fill="#2c2c2c">LEF1</text>
<path d="M18,466.6H52.4Q54.6,466.6 54.6,468.8V480.6H18Z" fill="#eef0c6" stroke="#cdd19e" stroke-width="0.6"/>
<text x="22.4" y="477.4" text-anchor="start" style="font-family:'Liberation Sans',Arial,sans-serif;font-style:italic;font-size:10.2px" fill="#2c2c2c">RXRA</text>
<path d="M65.4,466.6H109V480.6H67.6Q65.4,480.6 65.4,478.4Z" fill="#eef0c6" stroke="#cdd19e" stroke-width="0.6"/>
<text x="105.4" y="477.4" text-anchor="end" style="font-family:'Liberation Sans',Arial,sans-serif;font-style:italic;font-size:10.2px" fill="#2c2c2c">RUNX2</text>
<path d="M18,483.4H59.4Q61.6,483.4 61.6,485.6V497.4H18Z" fill="#eef0c6" stroke="#cdd19e" stroke-width="0.6"/>
<text x="22.4" y="494.2" text-anchor="start" style="font-family:'Liberation Sans',Arial,sans-serif;font-style:italic;font-size:10.2px" fill="#2c2c2c">HOXA7</text>
<path d="M74.4,482.6H109V496.6H76.6Q74.4,496.6 74.4,494.4Z" fill="#eef0c6" stroke="#cdd19e" stroke-width="0.6"/>
<text x="105.4" y="493.4" text-anchor="end" style="font-family:'Liberation Sans',Arial,sans-serif;font-style:italic;font-size:10.2px" fill="#2c2c2c">RBPJ</text>
<path d="M130,450H162.4Q164.6,450 164.6,452.2V463.8H130Z" fill="#c6dca4" stroke="#a9c388" stroke-width="0.6"/>
<text x="134.4" y="460.6" text-anchor="start" style="font-family:'Liberation Sans',Arial,sans-serif;font-style:italic;font-size:10.2px" fill="#2c2c2c">EGR1</text>
<path d="M180,449.4H221.6V463.4H182.2Q180,463.4 180,461.2Z" fill="#c6dca4" stroke="#a9c388" stroke-width="0.6"/>
<text x="218" y="460.2" text-anchor="end" style="font-family:'Liberation Sans',Arial,sans-serif;font-style:italic;font-size:10.2px" fill="#2c2c2c">FOXN3</text>
<path d="M130,466.6H156.4Q158.6,466.6 158.6,468.8V480.6H130Z" fill="#c6dca4" stroke="#a9c388" stroke-width="0.6"/>
<text x="134.4" y="477.4" text-anchor="start" style="font-family:'Liberation Sans',Arial,sans-serif;font-style:italic;font-size:10.2px" fill="#2c2c2c">IRF8</text>
<path d="M167.4,466.6H221.6V480.6H169.6Q167.4,480.6 167.4,478.4Z" fill="#c6dca4" stroke="#a9c388" stroke-width="0.6"/>
<text x="218" y="477.4" text-anchor="end" style="font-family:'Liberation Sans',Arial,sans-serif;font-style:italic;font-size:10.2px" fill="#2c2c2c">BHLHE40</text>
<path d="M130,483H168.8Q171,483 171,485.2V497H130Z" fill="#c6dca4" stroke="#a9c388" stroke-width="0.6"/>
<text x="134.4" y="493.8" text-anchor="start" style="font-family:'Liberation Sans',Arial,sans-serif;font-style:italic;font-size:10.2px" fill="#2c2c2c">NFKB2</text>
<path d="M182.4,483.4H221.6V497.2H184.6Q182.4,497.2 182.4,495Z" fill="#c6dca4" stroke="#a9c388" stroke-width="0.6"/>
<text x="218" y="494" text-anchor="end" style="font-family:'Liberation Sans',Arial,sans-serif;font-style:italic;font-size:10.2px" fill="#2c2c2c">ZNF16</text>
<path d="M250.4,466H283.8Q286,466 286,468.2V480.4H250.4Z" fill="#6db67e" stroke="#5aa46c" stroke-width="0.6"/>
<text x="254.8" y="477.2" text-anchor="start" style="font-family:'Liberation Sans',Arial,sans-serif;font-style:italic;font-size:10.2px" fill="#1f2f22">IKZF1</text>
<path d="M250.4,482.6H282.2Q284.4,482.6 284.4,484.8V497H250.4Z" fill="#6db67e" stroke="#5aa46c" stroke-width="0.6"/>
<text x="254.8" y="493.8" text-anchor="start" style="font-family:'Liberation Sans',Arial,sans-serif;font-style:italic;font-size:10.2px" fill="#1f2f22">XBP1</text>
<path d="M293.4,483H325.6V497H295.6Q293.4,497 293.4,494.8Z" fill="#6db67e" stroke="#5aa46c" stroke-width="0.6"/>
<text x="322" y="493.8" text-anchor="end" style="font-family:'Liberation Sans',Arial,sans-serif;font-style:italic;font-size:10.2px" fill="#1f2f22">KLF2</text>
<path d="M358.4,483H396.8Q399,483 399,485.2V497H358.4Z" fill="#138a47" stroke="#0f7a3e" stroke-width="0.6"/>
<text x="362.8" y="493.8" text-anchor="start" style="font-family:'Liberation Sans',Arial,sans-serif;font-style:italic;font-size:10.2px" fill="#ffffff">STAT3</text>
<path d="M405,483H444V497H407.2Q405,497 405,494.8Z" fill="#138a47" stroke="#0f7a3e" stroke-width="0.6"/>
<text x="440.4" y="493.8" text-anchor="end" style="font-family:'Liberation Sans',Arial,sans-serif;font-style:italic;font-size:10.2px" fill="#ffffff">DDIT3</text>
<path d="M470.4,433H512.8Q515,433 515,435.2V446.6H470.4Z" fill="#0b4a27" stroke="#083d20" stroke-width="0.6"/>
<text x="474.8" y="443.4" text-anchor="start" style="font-family:'Liberation Sans',Arial,sans-serif;font-style:italic;font-size:10.2px" fill="#ffffff">PRDM1</text>
<path d="M470.4,449.4H498.4Q500.6,449.4 500.6,451.6V463.2H470.4Z" fill="#0b4a27" stroke="#083d20" stroke-width="0.6"/>
<text x="474.8" y="460" text-anchor="start" style="font-family:'Liberation Sans',Arial,sans-serif;font-style:italic;font-size:10.2px" fill="#ffffff">IRF3</text>
<path d="M515,449.4H555V463.4H517.2Q515,463.4 515,461.2Z" fill="#0b4a27" stroke="#083d20" stroke-width="0.6"/>
<text x="551.4" y="460.2" text-anchor="end" style="font-family:'Liberation Sans',Arial,sans-serif;font-style:italic;font-size:10.2px" fill="#ffffff">TBX21</text>
<path d="M470.4,466.4H498.4Q500.6,466.4 500.6,468.6V480.2H470.4Z" fill="#0b4a27" stroke="#083d20" stroke-width="0.6"/>
<text x="474.8" y="477" text-anchor="start" style="font-family:'Liberation Sans',Arial,sans-serif;font-style:italic;font-size:10.2px" fill="#ffffff">MAF</text>
<path d="M521.6,466.6H555V480.6H523.8Q521.6,480.6 521.6,478.4Z" fill="#0b4a27" stroke="#083d20" stroke-width="0.6"/>
<text x="551.4" y="477.4" text-anchor="end" style="font-family:'Liberation Sans',Arial,sans-serif;font-style:italic;font-size:10.2px" fill="#ffffff">ETV7</text>
<path d="M470.4,483H510.8Q513,483 513,485.2V497H470.4Z" fill="#0b4a27" stroke="#083d20" stroke-width="0.6"/>
<text x="474.8" y="493.8" text-anchor="start" style="font-family:'Liberation Sans',Arial,sans-serif;font-style:italic;font-size:10.2px" fill="#ffffff">ASCL2</text>
<path d="M520,483.4H555V497.4H522.2Q520,497.4 520,495.2Z" fill="#0b4a27" stroke="#083d20" stroke-width="0.6"/>
<text x="551.4" y="494.2" text-anchor="end" style="font-family:'Liberation Sans',Arial,sans-serif;font-style:italic;font-size:10.2px" fill="#ffffff">BATF</text>
<path d="M13.8,539A51.5,51.5 0 0 1 30.2,513.7L38.7,523.9A38.2,38.2 0 0 0 26.6,542.7Z" fill="#0b4a27"/>
<path d="M30.2,513.7A51.5,51.5 0 0 1 56.6,502.1L58.3,515.3A38.2,38.2 0 0 0 38.7,523.9Z" fill="#138a47"/>
<path d="M56.6,502.1A51.5,51.5 0 0 1 72.2,502.5L69.9,515.6A38.2,38.2 0 0 0 58.3,515.3Z" fill="#6db67e"/>
<path d="M72.2,502.5A51.5,51.5 0 0 1 92.8,511L85.2,521.9A38.2,38.2 0 0 0 69.9,515.6Z" fill="#c3da9f"/>
<path d="M92.8,511A51.5,51.5 0 0 1 111,533.9L98.7,538.9A38.2,38.2 0 0 0 85.2,521.9Z" fill="#e8ebb4"/>
<path d="M111,533.9A51.5,51.5 0 0 1 103.9,584.9L93.4,576.7A38.2,38.2 0 0 0 98.7,538.9Z" fill="#4d4d4f"/>
<path d="M103.9,584.9A51.5,51.5 0 0 1 71.4,604.1L69.3,590.9A38.2,38.2 0 0 0 93.4,576.7Z" fill="#7d7d80"/>
<path d="M71.4,604.1A51.5,51.5 0 0 1 46.5,601.9L50.9,589.3A38.2,38.2 0 0 0 69.3,590.9Z" fill="#97979a"/>
<path d="M46.5,601.9A51.5,51.5 0 0 1 28.8,591.5L37.7,581.6A38.2,38.2 0 0 0 50.9,589.3Z" fill="#b3b4b6"/>
<path d="M28.8,591.5A51.5,51.5 0 0 1 13.8,539L26.6,542.7A38.2,38.2 0 0 0 37.7,581.6Z" fill="#d6d7d9"/>
<path d="M89.4,525.3Q62.5,550.4 26.1,544.3M90.3,526.1Q62.6,552 26.6,563.8M87,523.2Q62.2,551.1 25.1,554.7M90.4,526.3Q62.5,550.7 25.5,547.4M95.6,532.9Q63.4,553.3 32.3,575.5M95.3,532.3Q62.8,551.7 25.1,554.6M92.1,528.1Q62.6,551 25.4,548.5M95.3,532.4Q63,552.6 27.5,566.4M89.8,525.7Q62.5,551.9 26.6,564M91.9,527.9Q62.6,551.8 25.6,559.2M96,533.5Q62.9,551.7 25.1,553.2M87.7,523.8Q62.3,550.9 25.1,552M92,528Q62.7,551.9 26.1,561.7M90.3,526.2Q63.3,553.2 35.7,579.6M94.6,531.3Q63.7,553.6 36.8,580.7M89,524.9Q62.8,552.7 31.4,574.3M90,525.9Q62.5,550.8 25.3,549M94.2,530.7Q62.8,551.7 25.2,556.3M87.8,523.9Q62.3,551.4 25.5,558.4M95.6,532.8Q63.3,553.2 31.4,574.2M90.4,526.3Q62.7,552.3 28.1,568M87.3,523.4Q62.3,551.8 26.6,563.9M95.2,532.1Q62.8,551.8 25.2,555.3M90.6,526.5Q62.5,550.6 26,545M96.6,534.4Q62.9,552 25.2,556.1M92.2,528.2Q62.6,551 25.3,549.2M93,529.2Q62.7,550.8 25.9,545.4M93.3,529.6Q62.8,552 25.9,561.2M91.4,527.3Q63.1,552.9 32.1,575.2M95.3,532.3Q62.9,552.4 26.5,563.6M90.9,526.8Q62.6,551.8 26,561.3M87.8,523.9Q62.3,550.4 26,544.8M90.9,526.8Q63,552.9 32.3,575.5M92.2,528.2Q62.7,550.7 26.1,544.4M95.6,532.8Q63.1,552.7 27.9,567.5M95.4,532.5Q63.3,553.2 31,573.7M93.5,529.8Q63.4,553.4 34.9,578.7M93.6,529.9Q62.8,550.9 25.8,546M89.4,525.3Q62.8,552.6 30.8,573.2M90,525.9Q62.4,551 25.1,551.4M91.8,527.8Q62.6,550.8 25.7,546.4M94.8,531.6Q63.5,553.4 34.2,578M94.2,530.8Q62.8,551.6 25.1,554.2M91.2,527.1Q63.4,553.3 36.7,580.6M96.4,534.1Q63,552.6 26.7,564.1M91.8,527.8Q64.3,553.9 48.7,588.5M93.8,530.2Q64.3,554 45.7,587.1M90.6,526.5Q63.9,553.7 44.5,586.4M93,529.2Q64.1,553.9 44.1,586.2M90.6,526.5Q64.3,553.9 49.4,588.8M90.1,526Q64.1,553.7 46.8,587.7M90.1,526Q64,553.7 45.6,587M94.4,531Q64.3,554.1 45.5,587M96.7,534.6Q64.6,554.4 47.1,587.8M90.3,526.2Q64.3,553.8 49,588.6M94.1,530.6Q64,553.8 41.4,584.5M90.2,526.1Q64,553.7 46.2,587.4M91.3,527.2Q63.8,553.6 41.5,584.6M96.3,534Q64.1,554.1 40.5,583.9M94.3,530.8Q64.5,554.1 48,588.2M93.2,529.5Q65.6,554.3 64.4,591.4M93.9,530.3Q64.9,554.3 53.5,590.1M90.8,526.7Q64.7,554 53.8,590.2M93,529.2Q65.5,554.3 63.6,591.4M92.8,528.9Q65.4,554.2 62.3,591.4M89.3,525.3Q65.3,554 64.1,591.4M88.2,524.2Q64.8,553.9 58.2,591.1M87.9,524Q65.2,553.9 64.5,591.4M88.8,524.7Q64.7,553.9 56.8,590.8M95.9,533.3Q65.8,554.6 63.7,591.4M92.2,528.2Q65.2,554.2 59.6,591.2M92.7,528.9Q65.5,554.2 62.8,591.4M91.1,527Q64.8,554 55.4,590.6M89.1,525Q65.4,553.9 66,591.3M92.3,528.4Q65,554.2 56.7,590.8M89.5,525.4Q65.9,553.9 72.1,590.4M91.4,527.3Q66.5,553.9 77.6,588.6M94.7,531.4Q67.5,553.8 87.5,582.8M89.5,525.4Q67,553.4 86.7,583.4M91.8,527.7Q67,553.7 83.9,585.4M96.9,535.1Q67.9,553.8 91.3,579.2M91.1,527Q67,553.6 85,584.7M88.6,524.6Q67.2,553.1 90.5,580M87.7,523.8Q67.1,553.1 89.4,581.1M94,530.5Q67,554 81.6,586.8M90,525.9Q66.1,553.9 74.1,589.8M94.9,531.8Q66.6,554.3 75.3,589.5M89.2,525.1Q67.4,553 91.8,578.7M96,533.5Q67.7,553.8 89.1,581.4M87.6,523.7Q66.1,553.7 76.8,588.9M88.8,524.8Q67.1,553.2 88.3,582.1M91.8,527.8Q66.7,553.9 79.7,587.7M95.7,533Q66.4,554.5 71.7,590.5M90.1,526Q68.2,551 101.5,551.3M91.6,527.5Q68.2,551.7 101,559.2M89.2,525.1Q67.8,552.3 97.9,569.5M93.5,529.8Q68.1,552.8 96.7,571.8M96.8,534.8Q68.7,552 101.4,555.3M95.2,532.1Q68.6,551.7 101.5,553.6M96.2,533.8Q68.1,553.4 94.8,574.8M92,528Q67.8,553 94.4,575.4M95.7,533Q68.3,552.9 98.2,568.8M92.1,528.1Q68.3,551.2 101.5,551.8M95.2,532.3Q68.1,553.2 95.7,573.5M95.2,532.2Q68.6,551.5 101.5,552.1M91.4,527.4Q68.2,550.7 100.6,545.2" fill="none" stroke="#5e5e5e" stroke-width="0.5" stroke-opacity="0.85"/>
<text x="19.8" y="569.3" text-anchor="middle" style="font-family:'Liberation Sans',Arial,sans-serif;font-size:9.8px" fill="#333">45</text>
<text x="37.3" y="595.3" text-anchor="middle" style="font-family:'Liberation Sans',Arial,sans-serif;font-size:9.8px" fill="#333">15</text>
<text x="59.8" y="602.3" text-anchor="middle" style="font-family:'Liberation Sans',Arial,sans-serif;font-size:9.8px" fill="#fff">15</text>
<text x="86.3" y="595.8" text-anchor="middle" style="font-family:'Liberation Sans',Arial,sans-serif;font-size:9.8px" fill="#fff">18</text>
<text x="106.8" y="564.3" text-anchor="middle" style="font-family:'Liberation Sans',Arial,sans-serif;font-size:9.8px" fill="#fff">13</text>
<path d="M126.3,539A51.5,51.5 0 0 1 142.7,513.7L151.2,523.9A38.2,38.2 0 0 0 139.1,542.7Z" fill="#0b4a27"/>
<path d="M142.7,513.7A51.5,51.5 0 0 1 169.1,502.1L170.8,515.3A38.2,38.2 0 0 0 151.2,523.9Z" fill="#138a47"/>
<path d="M169.1,502.1A51.5,51.5 0 0 1 184.7,502.5L182.4,515.6A38.2,38.2 0 0 0 170.8,515.3Z" fill="#6db67e"/>
<path d="M184.7,502.5A51.5,51.5 0 0 1 205.3,511L197.7,521.9A38.2,38.2 0 0 0 182.4,515.6Z" fill="#c3da9f"/>
<path d="M205.3,511A51.5,51.5 0 0 1 223.5,533.9L211.2,538.9A38.2,38.2 0 0 0 197.7,521.9Z" fill="#e8ebb4"/>
<path d="M223.5,533.9A51.5,51.5 0 0 1 216.4,584.9L205.9,576.7A38.2,38.2 0 0 0 211.2,538.9Z" fill="#4d4d4f"/>
<path d="M216.4,584.9A51.5,51.5 0 0 1 183.9,604.1L181.8,590.9A38.2,38.2 0 0 0 205.9,576.7Z" fill="#7d7d80"/>
<path d="M183.9,604.1A51.5,51.5 0 0 1 159,601.9L163.4,589.3A38.2,38.2 0 0 0 181.8,590.9Z" fill="#97979a"/>
<path d="M159,601.9A51.5,51.5 0 0 1 141.3,591.5L150.2,581.6A38.2,38.2 0 0 0 163.4,589.3Z" fill="#b3b4b6"/>
<path d="M141.3,591.5A51.5,51.5 0 0 1 126.3,539L139.1,542.7A38.2,38.2 0 0 0 150.2,581.6Z" fill="#d6d7d9"/>
<path d="M188.1,517Q173.9,551.1 138.4,560.8M191.3,518.3Q175,552.6 149.2,580.6M192.3,518.7Q174.2,551.1 138.1,559.2M185.3,516.2Q174.2,552.1 145,575.8M190.9,518.1Q174.9,552.6 148.2,579.6M186.9,516.6Q174.6,552.5 148.4,579.8M189,517.3Q174,551.3 139.1,563.8M186,516.4Q173.7,550.7 137.7,556.3M189.5,517.5Q174.1,551.3 138.9,563.1M195.1,520.2Q174.9,552.4 144.3,574.9M195.7,520.6Q174.5,550.2 138.2,546.3M184.7,516Q174,551.9 143.1,573M195,520.2Q174.4,550.9 137.7,555.8M188,517Q174.1,551.7 141.2,569.5M191,518.2Q174.1,550.4 137.6,551.4M192.8,519Q174.3,551.2 138.2,560.1M194.1,519.7Q174.4,551.4 138.9,562.9M193.2,519.2Q174.3,551.3 138.5,561.5M190.2,517.8Q174.9,552.6 149.2,580.6M190.3,517.8Q174.1,550.1 138,547.4M190.8,518.1Q174.1,550.8 137.7,556.1M185.3,516.2Q173.7,549.9 138.2,546.3M186.4,516.5Q174.1,551.8 142.5,571.9M195.8,520.6Q174.5,550.4 137.9,548.8M187.9,517Q174.4,552.1 144.4,575M191.6,518.4Q174.5,552.1 143.2,573.1M187.5,516.8Q173.8,550.6 137.7,555.3M189.9,517.7Q174,550.3 137.7,550.6M188.8,517.3Q174,551.3 139.1,563.8M184.8,516.1Q175.1,552.9 156.9,586.4M195.7,520.6Q176.3,553.4 161.9,588.8M188.7,517.2Q175.5,553.1 158.9,587.5M188.2,517.1Q174.9,552.7 151.2,582.4M194.6,520Q176.1,553.4 161.3,588.5M192.1,518.7Q175.7,553.1 157.6,586.8M185.9,516.4Q175.3,553 158.8,587.4M193.5,519.3Q175.9,553.3 159.7,587.9M192.3,518.7Q175.5,553.1 156,585.8M191.3,518.3Q175.3,552.9 153.8,584.5M186.8,516.6Q175,552.8 154.4,584.8M189.7,517.6Q175.7,553.1 160.2,588M187.1,516.7Q174.9,552.7 152.6,583.6M194.2,519.7Q176.6,553.5 167.9,590.6M185.7,516.3Q176,553.2 168.6,590.7M193.9,519.6Q177.4,553.5 178.7,591.3M184.7,516Q176.6,553.3 177.1,591.4M192.7,518.9Q176.7,553.5 171.1,591.1M192.9,519Q176.4,553.4 167.2,590.4M188.8,517.3Q176.4,553.3 170.9,591.1M187.7,516.9Q175.9,553.2 165.5,590M185.8,516.3Q176.4,553.3 173.3,591.3M192.6,518.9Q176.7,553.5 171.2,591.1M188.9,517.3Q176.5,553.4 172.2,591.2M192,518.6Q179.2,552.5 204.5,578.4M193.4,519.3Q179.3,552.5 204.5,578.4M194.5,519.9Q178.5,553.3 192.4,587.6M193.4,519.3Q178.3,553.3 191.4,588.1M195.4,520.4Q179.1,553 200,582.8M191,518.1Q178.2,553.1 193.2,587.2M194.3,519.8Q178.8,553 197.8,584.4M191,518.2Q178.2,553.2 192.1,587.8M193.7,519.4Q178.4,553.2 192.5,587.5M186.8,516.6Q177.2,553.3 183,590.7M187.9,517Q177.3,553.3 183.8,590.6M193.1,519.1Q178.7,553 196.7,585.2M188.5,517.2Q177.6,553.2 187.6,589.5M190.8,518.1Q178.7,552.8 199.4,583.2M189.3,517.5Q178.3,553 195.6,585.8M184.5,516Q178.2,552.7 199.6,583.1M188.6,517.2Q177.4,553.3 184.5,590.4M191.9,518.6Q177.7,553.4 185,590.3M186.6,516.6Q179.4,549.8 213.1,545M186.8,516.6Q179.5,550.6 214,554.6M193.5,519.3Q179.9,550 213.1,544.8M186.3,516.5Q179.4,550.9 213.6,558.9M192.5,518.8Q179.9,551.1 213.4,559.7M189.7,517.6Q179.4,551.9 209.7,570.8M184.9,516.1Q179.3,550.1 213.7,548.6M190.7,518Q179.7,551.3 212.9,562.4M187.4,516.8Q179,552.2 206.6,575.8M190.8,518.1Q179.7,549.8 212.6,543M187.3,516.8Q179.4,551.4 211.8,566.1M186.7,516.6Q179.5,550.3 213.9,551M191.3,518.3Q179.5,551.9 209.5,571.1M188.8,517.3Q179.6,550.3 213.9,550.9M184.7,516Q179.3,550.2 213.9,550.2M193.5,519.3Q179.7,552 209.8,570.7M188.6,517.2Q179.6,550.4 214,552.4M187.6,516.9Q179.1,552 208,573.8M195.1,520.3Q179.9,551.7 211.7,566.3M193.7,519.4Q180,550.6 214,552M195.8,520.7Q180.2,550.7 214,552.5M186.5,516.5Q179.4,549.9 213.4,546.2M188.6,517.2Q179.5,551.5 211.7,566.1M194.5,519.9Q180,551 213.7,557.6M187.1,516.7Q179.5,550 213.5,546.7M187.3,516.8Q179.4,551.2 212.6,563.4M187.1,516.7Q179.5,550.8 213.8,557.4M192.2,518.7Q179.8,551.4 212.4,564M193.7,519.5Q179.9,549.9 212.6,542.8M188.1,517Q179.1,552 207.8,574M188.1,517.1Q179.3,551.7 210.5,569.2M195.6,520.5Q179.7,552.2 208.6,572.9" fill="none" stroke="#5e5e5e" stroke-width="0.5" stroke-opacity="0.85"/>
<text x="132.3" y="569.3" text-anchor="middle" style="font-family:'Liberation Sans',Arial,sans-serif;font-size:9.8px" fill="#333">29</text>
<text x="149.8" y="595.3" text-anchor="middle" style="font-family:'Liberation Sans',Arial,sans-serif;font-size:9.8px" fill="#333">13</text>
<text x="172.3" y="602.3" text-anchor="middle" style="font-family:'Liberation Sans',Arial,sans-serif;font-size:9.8px" fill="#fff">11</text>
<text x="198.8" y="595.8" text-anchor="middle" style="font-family:'Liberation Sans',Arial,sans-serif;font-size:9.8px" fill="#fff">18</text>
<text x="219.3" y="564.3" text-anchor="middle" style="font-family:'Liberation Sans',Arial,sans-serif;font-size:9.8px" fill="#fff">32</text>
<path d="M238.9,539A51.5,51.5 0 0 1 255.3,513.7L263.8,523.9A38.2,38.2 0 0 0 251.7,542.7Z" fill="#0b4a27"/>
<path d="M255.3,513.7A51.5,51.5 0 0 1 281.7,502.1L283.4,515.3A38.2,38.2 0 0 0 263.8,523.9Z" fill="#138a47"/>
<path d="M281.7,502.1A51.5,51.5 0 0 1 297.3,502.5L295,515.6A38.2,38.2 0 0 0 283.4,515.3Z" fill="#6db67e"/>
<path d="M297.3,502.5A51.5,51.5 0 0 1 317.9,511L310.3,521.9A38.2,38.2 0 0 0 295,515.6Z" fill="#c3da9f"/>
<path d="M317.9,511A51.5,51.5 0 0 1 336.1,533.9L323.8,538.9A38.2,38.2 0 0 0 310.3,521.9Z" fill="#e8ebb4"/>
<path d="M336.1,533.9A51.5,51.5 0 0 1 329,584.9L318.5,576.7A38.2,38.2 0 0 0 323.8,538.9Z" fill="#4d4d4f"/>
<path d="M329,584.9A51.5,51.5 0 0 1 296.5,604.1L294.4,590.9A38.2,38.2 0 0 0 318.5,576.7Z" fill="#7d7d80"/>
<path d="M296.5,604.1A51.5,51.5 0 0 1 271.6,601.9L276,589.3A38.2,38.2 0 0 0 294.4,590.9Z" fill="#97979a"/>
<path d="M271.6,601.9A51.5,51.5 0 0 1 253.9,591.5L262.8,581.6A38.2,38.2 0 0 0 276,589.3Z" fill="#b3b4b6"/>
<path d="M253.9,591.5A51.5,51.5 0 0 1 238.9,539L251.7,542.7A38.2,38.2 0 0 0 262.8,581.6Z" fill="#d6d7d9"/>
<path d="M288.6,515Q285.6,550.5 250.3,555.5M286.7,515Q285.7,551.6 253.9,569.6M293.1,515.3Q285.9,550 250.5,548.3M293,515.3Q285.9,550.5 250.3,555.4M285.8,515.1Q285.6,551.6 254.1,570M293.7,515.4Q286.1,551.2 251.9,564.5M292.3,515.2Q285.9,550.9 250.8,560M288.6,515Q285.6,550.7 250.5,557.8M287.2,515Q285.6,551.2 251.8,564.2M293.4,515.3Q286.1,551.5 253.2,567.9M290.4,515.1Q285.7,549.9 250.7,546.8M287.9,515Q285.5,550.5 250.3,555.5M292.9,515.3Q285.9,550.7 250.5,558M293.5,515.3Q286.6,552.3 259.9,578.7M285.5,515.1Q287,553 272.9,588.1M288.6,515Q287.4,553 274.7,588.9M287.2,515Q286.7,552.7 266.3,584.4M291.7,515.1Q286.8,552.6 264.2,582.7M291.8,515.2Q287.5,553 273.3,588.3M291.2,515.1Q288.7,553.2 289.9,591.4M292,515.2Q289,553.2 292.6,591.2M291,515.1Q288.5,553.2 287.6,591.4M289.4,515Q288.8,553.2 292.2,591.2M286.3,515.1Q288.1,553.2 287,591.4M293.5,515.3Q288.6,553.2 286.4,591.3M293.4,515.3Q289.1,553.2 292.8,591.1M292,515.2Q288.6,553.2 287.7,591.4M290.1,515Q287.9,553.1 279.9,590.4M293.5,515.3Q288.4,553.2 283.1,591M292.1,515.2Q288.5,553.2 286,591.3M287.9,515Q288.1,553.2 285.4,591.3M286.3,515.1Q287.4,553.1 277,589.7M291.5,515.1Q289.2,553.1 296.6,590.5M292.8,515.2Q290.7,552.4 314.7,580.9M291.3,515.1Q290.8,552.2 317.2,578.3M291.7,515.1Q289.2,553.1 296.4,590.6M291.1,515.1Q289.3,553.1 297.5,590.3M292.9,515.3Q289.8,553 302.3,588.8M288.3,515Q289.1,553.1 297.2,590.4M288.4,515Q290.4,552.4 314.7,580.9M292.9,515.3Q290.8,552.3 316,579.6M293.5,515.3Q290.4,552.8 309.4,585.1M289,515Q290.5,552.3 315.9,579.7M288.3,515Q289.7,552.9 305.4,587.4M287.4,515Q289.4,553 302.8,588.6M292.8,515.2Q290.9,552.2 317.4,578.1M287.9,515Q289.8,552.8 306.9,586.6M286,515.1Q289.2,553 300.9,589.3M289.3,515Q291.3,550.2 326.6,552M290.1,515Q291,551.7 321.9,571.5M290.5,515.1Q291.4,550.7 326.3,557.8M288.3,515Q290.8,551.9 320.5,573.9M289.7,515Q291.3,549.9 326.2,547.7M287.2,515Q291.1,549.8 325.9,545.8M289,515Q291.2,551.2 324.8,564.8M285.1,515.1Q291,549.9 326.2,547.4M292.4,515.2Q291,552 319.7,575.1M289.9,515Q291.3,551.1 325,564M293.4,515.3Q291.6,550.7 326.2,558.4M293.3,515.3Q291.1,552 319.3,575.6M290.8,515.1Q291.3,551.2 324.9,564.4M287.1,515Q290.7,551.9 320.6,573.7M290,515Q291.4,550.8 326.2,559M290.2,515Q291.4,550.3 326.6,552.8M293.1,515.3Q291.5,551 325.5,562.2M288.6,515Q291.3,550.7 326.3,557.8M285.1,515.1Q291,550.9 325.8,561M285.3,515.1Q290.9,549.5 325,542.1" fill="none" stroke="#5e5e5e" stroke-width="0.5" stroke-opacity="0.85"/>
<text x="244.9" y="569.3" text-anchor="middle" style="font-family:'Liberation Sans',Arial,sans-serif;font-size:9.8px" fill="#333">14</text>
<text x="262.4" y="595.3" text-anchor="middle" style="font-family:'Liberation Sans',Arial,sans-serif;font-size:9.8px" fill="#333">5</text>
<text x="284.9" y="602.3" text-anchor="middle" style="font-family:'Liberation Sans',Arial,sans-serif;font-size:9.8px" fill="#fff">13</text>
<text x="311.4" y="595.8" text-anchor="middle" style="font-family:'Liberation Sans',Arial,sans-serif;font-size:9.8px" fill="#fff">16</text>
<text x="331.9" y="564.3" text-anchor="middle" style="font-family:'Liberation Sans',Arial,sans-serif;font-size:9.8px" fill="#fff">20</text>
<path d="M351.5,539A51.5,51.5 0 0 1 367.9,513.7L376.4,523.9A38.2,38.2 0 0 0 364.3,542.7Z" fill="#0b4a27"/>
<path d="M367.9,513.7A51.5,51.5 0 0 1 394.3,502.1L396,515.3A38.2,38.2 0 0 0 376.4,523.9Z" fill="#138a47"/>
<path d="M394.3,502.1A51.5,51.5 0 0 1 409.9,502.5L407.6,515.6A38.2,38.2 0 0 0 396,515.3Z" fill="#6db67e"/>
<path d="M409.9,502.5A51.5,51.5 0 0 1 430.5,511L422.9,521.9A38.2,38.2 0 0 0 407.6,515.6Z" fill="#c3da9f"/>
<path d="M430.5,511A51.5,51.5 0 0 1 448.7,533.9L436.4,538.9A38.2,38.2 0 0 0 422.9,521.9Z" fill="#e8ebb4"/>
<path d="M448.7,533.9A51.5,51.5 0 0 1 441.6,584.9L431.1,576.7A38.2,38.2 0 0 0 436.4,538.9Z" fill="#4d4d4f"/>
<path d="M441.6,584.9A51.5,51.5 0 0 1 409.1,604.1L407,590.9A38.2,38.2 0 0 0 431.1,576.7Z" fill="#7d7d80"/>
<path d="M409.1,604.1A51.5,51.5 0 0 1 384.2,601.9L388.6,589.3A38.2,38.2 0 0 0 407,590.9Z" fill="#97979a"/>
<path d="M384.2,601.9A51.5,51.5 0 0 1 366.5,591.5L375.4,581.6A38.2,38.2 0 0 0 388.6,589.3Z" fill="#b3b4b6"/>
<path d="M366.5,591.5A51.5,51.5 0 0 1 351.5,539L364.3,542.7A38.2,38.2 0 0 0 375.4,581.6Z" fill="#d6d7d9"/>
<path d="M391.5,516.2Q397.4,550.1 363.1,548.5M381.8,520.2Q396.7,550.7 362.8,553.4M380.1,521.2Q396.6,551.2 363.3,559.2M385.9,518.1Q397.1,551.2 363.9,562.2M379.7,521.5Q396.6,551.1 363,556.6M386.9,517.7Q397.1,550 363.4,546.5M379.3,521.8Q396.6,550.1 364,543.7M390.6,516.4Q397.4,550.6 362.8,554.7M381.4,520.4Q396.8,550 363.9,543.9M391.9,516.1Q397.8,551.7 366.8,570.3M379.6,521.6Q396.5,551 362.9,555.8M382.3,519.9Q396.8,551.2 363.3,559.5M379.5,521.6Q396.5,550.7 362.8,551.7M383.9,519Q396.9,550.8 362.8,554.8M381.7,520.3Q397.3,552.4 370.4,576.1M392.8,515.9Q397.5,550.3 362.8,551.7M378.6,522.3Q396.5,550.3 363.7,545M387.5,517.5Q397.1,550.2 363.1,548.3M378.6,522.3Q396.7,552 365.8,568M386,518.1Q397,550.7 362.8,555M386,518.1Q397.5,552.1 369.1,574.2M392.8,515.9Q398.2,552.3 372.4,578.6M389.2,516.9Q397.3,550.2 363,549.8M380.5,520.9Q396.7,550.1 363.9,543.9M392.9,515.9Q397.7,551.2 364.5,564.3M387.7,517.4Q397.2,550.1 363.2,547.5M385.4,518.3Q397.6,552.4 371.6,577.6M386.1,518Q397.1,551.2 363.7,561.6M381.2,520.5Q397,552.1 367.6,571.7M381.6,520.3Q397,552.1 367.3,571.2M380.4,521Q396.7,550.2 363.7,545.1M393.4,515.8Q398.1,552 369.3,574.5M378.5,522.4Q397.1,552.7 371.2,577.1M386.4,517.9Q397.3,551.7 365.7,567.9M391.5,516.2Q397.4,550.7 363,557.4M378.2,522.5Q396.5,550.4 363.3,547M381.2,520.6Q396.6,550.6 362.8,551.6M390.7,516.4Q397.4,550.9 363.3,559.4M386.1,518Q397.7,552.4 371.4,577.3M384,519Q397.9,552.9 376.9,582.8M389.8,516.7Q398.6,552.9 380,585.1M379.5,521.6Q398.1,553.4 383.2,587M378.3,522.5Q397.7,553.3 379.4,584.7M385.2,518.4Q398,552.8 376.9,582.9M380,521.3Q397.9,553.2 381,585.7M384.5,518.7Q398.3,553.1 381.2,585.9M379.3,521.8Q397.8,553.2 379.9,585M386.1,518Q398.6,553.1 384.1,587.5M388.1,517.3Q398.3,552.8 378.6,584.1M392.7,515.9Q400.7,553.2 405.5,591.1M387.7,517.4Q399.9,553.4 399.4,591.4M391,516.3Q399.4,553.2 389.8,589.7M381.7,520.2Q399.5,553.6 400,591.4M385.5,518.3Q399.6,553.4 397.5,591.2M387.2,517.6Q400.2,553.4 403.8,591.3M380.6,520.9Q398.8,553.6 392,590.3M386.1,518Q399.5,553.4 395.7,591M391.3,516.3Q400.4,553.3 402.5,591.4M390,516.6Q400.4,553.3 403.7,591.3M391.9,516.1Q400.6,553.3 404.8,591.2M388.6,517.1Q400.1,553.4 401.5,591.4M388.3,517.2Q399.6,553.3 395,590.9M381.9,520.1Q400.5,553.4 413.8,589.2M386.9,517.7Q401.5,552.9 421.7,585.3M384,519Q400.8,553.3 415.3,588.6M387.5,517.5Q401.7,552.8 423.6,584M386.1,518Q402,552.5 428.8,579.3M388.4,517.1Q401.7,552.9 422.6,584.7M378.8,522.1Q401.1,553.1 424.2,583.5M382.7,519.7Q400.7,553.3 415.7,588.5M378.6,522.2Q401.4,552.8 429.2,578.9M385.5,518.3Q400.5,553.4 409.3,590.5M378.9,522Q401.4,552.9 428,580.3M384.4,518.8Q401.1,553.1 419,586.9M386.1,518Q402,552.5 429.7,578.4M386.7,517.8Q401.4,553 420.2,586.2M378.1,522.6Q401.3,552.9 428.5,579.7M378,522.7Q400.5,553.5 417.5,587.7M383.7,519.1Q401.1,553.1 420.2,586.2M385.9,518.1Q400.7,553.3 411.4,589.9M380.1,521.2Q401.4,552.8 427.8,580.4M381.3,520.5Q400.4,553.5 412.6,589.6M383.1,519.4Q400.9,553.2 418.2,587.3M383.4,519.3Q402.5,550.6 439.2,552.1M383.3,519.4Q402.4,551.4 437.8,563.5M383.3,519.4Q402.5,550.7 439.2,553.2M393.3,515.8Q402.9,551.7 434.7,571.3M389.7,516.7Q402.8,551.6 436.1,568.4M389.2,516.9Q403,550.6 439.2,554.8M393.5,515.7Q403.2,551.3 437.2,565.3M378,522.7Q402.1,550.6 439,549.7M388.8,517Q402.9,551 438.7,559.6M393.2,515.8Q403.3,550.3 439.2,552.5M387.7,517.4Q402.8,550.1 438.9,548.1M393.5,515.8Q403,551.8 434.6,571.3M389.2,516.9Q403,550.6 439.2,555M385.5,518.3Q402.7,550.1 438.5,546.2M389.9,516.6Q403,549.9 438.5,545.9M378.8,522.1Q402.1,551.4 438.5,560.4M385.4,518.4Q402.2,552.2 432.2,575.2M392.3,516Q402.9,551.8 434.6,571.4M384.5,518.7Q402.5,551.3 438.1,562.3M385.4,518.3Q402.5,551.5 437.1,565.6M378,522.7Q402.1,550.5 438.8,547.5M392.3,516Q403,551.6 436,568.4M386,518.1Q402.6,551.6 436.7,566.8M382.8,519.6Q402.2,552 434.8,570.9M390.1,516.6Q403,550.3 439.1,551.2M386.4,517.9Q402.4,552 434,572.4M387.3,517.5Q402.8,551.1 438.6,560.2M384.3,518.9Q402.6,550.8 439.2,555.1M386.9,517.7Q402.7,549.8 438,543.5M383.2,519.4Q402.2,551.9 435.4,569.8M389.2,516.9Q402.8,551.5 436.9,566.3M380.5,521Q402.2,551.7 437.1,565.8" fill="none" stroke="#5e5e5e" stroke-width="0.5" stroke-opacity="0.85"/>
<text x="357.5" y="569.3" text-anchor="middle" style="font-family:'Liberation Sans',Arial,sans-serif;font-size:9.8px" fill="#333">39</text>
<text x="375" y="595.3" text-anchor="middle" style="font-family:'Liberation Sans',Arial,sans-serif;font-size:9.8px" fill="#333">10</text>
<text x="397.5" y="602.3" text-anchor="middle" style="font-family:'Liberation Sans',Arial,sans-serif;font-size:9.8px" fill="#fff">13</text>
<text x="424" y="595.8" text-anchor="middle" style="font-family:'Liberation Sans',Arial,sans-serif;font-size:9.8px" fill="#fff">21</text>
<text x="444.5" y="564.3" text-anchor="middle" style="font-family:'Liberation Sans',Arial,sans-serif;font-size:9.8px" fill="#fff">32</text>
<path d="M463.8,539A51.5,51.5 0 0 1 480.2,513.7L488.7,523.9A38.2,38.2 0 0 0 476.6,542.7Z" fill="#0b4a27"/>
<path d="M480.2,513.7A51.5,51.5 0 0 1 506.6,502.1L508.3,515.3A38.2,38.2 0 0 0 488.7,523.9Z" fill="#138a47"/>
<path d="M506.6,502.1A51.5,51.5 0 0 1 522.2,502.5L519.9,515.6A38.2,38.2 0 0 0 508.3,515.3Z" fill="#6db67e"/>
<path d="M522.2,502.5A51.5,51.5 0 0 1 542.8,511L535.2,521.9A38.2,38.2 0 0 0 519.9,515.6Z" fill="#c3da9f"/>
<path d="M542.8,511A51.5,51.5 0 0 1 561,533.9L548.7,538.9A38.2,38.2 0 0 0 535.2,521.9Z" fill="#e8ebb4"/>
<path d="M561,533.9A51.5,51.5 0 0 1 553.9,584.9L543.4,576.7A38.2,38.2 0 0 0 548.7,538.9Z" fill="#4d4d4f"/>
<path d="M553.9,584.9A51.5,51.5 0 0 1 521.4,604.1L519.3,590.9A38.2,38.2 0 0 0 543.4,576.7Z" fill="#7d7d80"/>
<path d="M521.4,604.1A51.5,51.5 0 0 1 496.5,601.9L500.9,589.3A38.2,38.2 0 0 0 519.3,590.9Z" fill="#97979a"/>
<path d="M496.5,601.9A51.5,51.5 0 0 1 478.8,591.5L487.7,581.6A38.2,38.2 0 0 0 500.9,589.3Z" fill="#b3b4b6"/>
<path d="M478.8,591.5A51.5,51.5 0 0 1 463.8,539L476.6,542.7A38.2,38.2 0 0 0 487.7,581.6Z" fill="#d6d7d9"/>
<path d="M482.3,530.8Q508.3,552.5 477.2,565.8M477.3,540.4Q507.8,551.9 475.4,548.3M478.5,537.4Q508.5,553.9 484.1,577.9M478.2,538Q507.8,552 475.1,552M479.4,535.6Q508,552.6 476.2,562.3M480.5,533.6Q508,551.9 475.2,556M481.6,531.9Q508.4,553 480.2,572.2M485.4,527.1Q508.4,550.8 475.5,547.9M483.6,529.1Q508.3,552.1 476.2,562.4M483.6,529.2Q508.2,550.9 475.7,546.7M484.3,528.4Q508.3,551.8 475.6,559.1M482,531.3Q508.7,553.4 483.9,577.5M481.3,532.4Q508.4,553.1 480.4,572.6M479.3,535.9Q508.6,553.8 484.6,578.4M484.8,527.7Q508.4,552 476.4,563.1M486.9,525.6Q508.5,550.5 476.1,544.4M484.8,527.8Q508.3,551.7 475.5,558.9M478,538.7Q508,553.2 478.1,567.9M483.2,529.7Q508.5,552.8 479.5,571M477.9,538.8Q509.1,554.6 493.2,585.7M483.3,529.6Q509.8,554 497.3,587.9M480.7,533.3Q509,553.9 489.1,582.8M485.9,526.6Q509.8,553.7 493.7,586M483.1,529.8Q509.4,553.8 491.2,584.4M484.9,527.7Q509.7,553.7 493.4,585.8M477.5,539.8Q509.3,554.7 496,587.2M483.2,529.7Q509.3,553.7 490.5,583.8M486.4,526Q510.2,553.8 498.7,588.5M480.8,533.1Q509.4,554.2 494.3,586.4M478.2,538.2Q509.6,554.7 498.9,588.6M483.5,529.3Q509.4,553.7 490.5,583.9M481.6,531.9Q509.4,554 493.1,585.6M484.5,528.1Q509.8,553.9 495.6,587M477.7,539.2Q508.8,554.3 488.7,582.4M484.3,528.3Q509.9,553.9 496.7,587.6M484.4,528.2Q509.5,553.7 491.8,584.8M480.4,533.8Q509.7,554.4 498.2,588.3M477.3,540.4Q509.2,554.7 494.2,586.3M478.3,537.9Q510.3,554.9 508.9,591.1M484.2,528.4Q510.9,554.2 510,591.3M486.4,526.1Q511.5,554 516.8,591.2M479.9,534.6Q510.2,554.6 505.9,590.7M483.3,529.6Q511.3,554.3 516.7,591.2M487.2,525.3Q511.2,554 511.1,591.3M482.5,530.6Q510.8,554.4 510.5,591.3M478.2,538.2Q510.6,554.9 512.7,591.4M478.7,537Q510.6,554.8 511.5,591.4M479,536.5Q510.5,554.8 509.9,591.2M485.4,527.1Q510.7,554.1 506.3,590.7M479.3,535.9Q510.3,554.7 507,590.9M484.1,528.6Q511.4,554.2 517.4,591.2M486.9,525.6Q511.2,554 511.6,591.4M482.5,530.6Q511.2,554.4 516.3,591.3M479.5,535.5Q510.1,554.7 504.1,590.3M479,536.3Q510.6,554.8 511.7,591.4M486.7,525.7Q511.7,554 518,591.1M485,527.6Q512.8,553.6 534.9,584.7M485.9,526.6Q513.5,553 542.7,577.6M485,527.5Q512.7,553.7 532.9,586M478.8,536.7Q512.5,554.2 537,583.2M480.4,533.8Q512.4,554.2 533.6,585.6M478.4,537.7Q512.4,554.3 536.4,583.6M477.3,540.4Q512.8,554.1 542.3,578.1M478.6,537.2Q512.7,554 540.2,580.4M483,529.9Q511.9,554.2 524.6,589.7M477.6,539.5Q512,554.7 531.3,586.9M486.6,525.9Q513.1,553.4 536.8,583.3M485.9,526.6Q512,554 523,590.1M482.9,530.1Q512.7,553.8 535.8,584.1M482.8,530.2Q512.9,553.7 538.1,582.3M482.2,531Q512.4,554 531.9,586.6M478.8,536.8Q512.9,553.9 541.9,578.6M481.4,532.1Q512.7,553.8 537.4,582.8M480.1,534.4Q512.6,554 536.9,583.3M481.9,531.4Q512.4,554 532.8,586.1M479.8,534.9Q512.5,554.1 535.8,584M482.6,530.5Q512.3,554 531,587.1M482.6,530.4Q512,554.2 526.9,588.9M479.9,534.7Q512.8,553.8 540.6,579.9M483.6,529.2Q512.3,554 529.4,587.8M483.8,528.9Q511.8,554.2 522.7,590.2M482.4,530.7Q512.3,554.1 530.4,587.4M482,531.2Q512.8,553.8 537.7,582.6M479.7,535.1Q512.5,554.2 535.7,584.2M486.7,525.8Q513.2,553.3 538.7,581.7M479.4,535.5Q511.3,554.7 521.1,590.6M477.6,539.6Q512.1,554.7 532.4,586.3M479.1,536.2Q513.3,553.2 547.3,570.6M478.8,536.7Q513.2,553.3 546.9,571.3M483.3,529.5Q513.9,551.9 551,559.7M486,526.5Q514,551.9 550.3,562.6M481.1,532.7Q513.5,552.7 548.7,567.4M480.2,534Q513.7,551.9 551.4,555.2M485,527.6Q514,551.6 551.3,557.5M479.4,535.6Q513.5,551 549.9,542.1M477.9,538.9Q513.3,553.1 549.2,566.2M479.9,534.7Q513.4,553 547.8,569.6M478.9,536.7Q513.2,553.4 546.3,572.4M485.4,527.1Q513.8,552.4 548.2,568.7M481.9,531.4Q513.8,551.5 551.5,552.8M486.5,526Q513.9,552.3 548.2,568.8M485.8,526.7Q514,551.9 550.5,561.8M486.8,525.6Q513.8,552.6 546.2,572.6M480.8,533.1Q513.7,551.3 551.2,548.4M482.4,530.7Q513.7,552.3 550.1,563.3M482,531.2Q513.7,550.9 550.5,544.7M481.7,531.8Q513.4,553.1 545.7,573.5M479.5,535.5Q513.6,551.4 551.1,547.5M480.5,533.7Q513.3,553.2 545.9,573.2M479.3,535.9Q513.5,551.2 550.4,544M478.3,537.9Q513.5,552.7 550.5,561.8M481.1,532.7Q513.7,552.1 551.1,558.9M479.2,536Q513.5,552.8 549.6,565M480.9,532.9Q513.7,551.3 551.1,547.8M481.9,531.5Q513.8,551.1 551.1,547.6M485.3,527.2Q514.1,551.4 551.4,555.3M481.6,531.9Q513.8,551.2 551.1,547.7M478.1,538.4Q513.5,551.9 551.4,551.1M481.9,531.5Q513.8,551 550.8,545.9M482.5,530.6Q513.8,552 550.9,559.9M477.7,539.4Q513.3,553.1 549.4,565.6M486.4,526.1Q513.6,552.8 544.6,575" fill="none" stroke="#5e5e5e" stroke-width="0.5" stroke-opacity="0.85"/>
<text x="469.8" y="569.3" text-anchor="middle" style="font-family:'Liberation Sans',Arial,sans-serif;font-size:9.8px" fill="#333">19</text>
<text x="487.3" y="595.3" text-anchor="middle" style="font-family:'Liberation Sans',Arial,sans-serif;font-size:9.8px" fill="#333">19</text>
<text x="509.8" y="602.3" text-anchor="middle" style="font-family:'Liberation Sans',Arial,sans-serif;font-size:9.8px" fill="#fff">18</text>
<text x="536.3" y="595.8" text-anchor="middle" style="font-family:'Liberation Sans',Arial,sans-serif;font-size:9.8px" fill="#fff">31</text>
<text x="556.8" y="564.3" text-anchor="middle" style="font-family:'Liberation Sans',Arial,sans-serif;font-size:9.8px" fill="#fff">35</text>
<text x="626" y="521.2" text-anchor="middle" style="font-family:'Liberation Sans',Arial,sans-serif;font-size:10.4px" fill="#333">TF</text>
<text x="653.8" y="521.2" text-anchor="middle" style="font-family:'Liberation Sans',Arial,sans-serif;font-size:10.4px" fill="#333">Target</text>
<text x="617" y="534.6" text-anchor="end" style="font-family:'Liberation Sans',Arial,sans-serif;font-size:10.6px" fill="#333">Trend 1</text>
<circle cx="626.4" cy="530.6" r="3.9" fill="#e8ebb4" stroke="#b8b8a0" stroke-width="0.4"/>
<circle cx="653.4" cy="530.6" r="3.9" fill="#d6d7d9" stroke="#9a9a9a" stroke-width="0.4"/>
<text x="617" y="550.6" text-anchor="end" style="font-family:'Liberation Sans',Arial,sans-serif;font-size:10.6px" fill="#333">Trend 2</text>
<circle cx="626.4" cy="546.6" r="3.9" fill="#c3da9f" stroke="#b8b8a0" stroke-width="0.4"/>
<circle cx="653.4" cy="546.6" r="3.9" fill="#b6b7b9" stroke="#9a9a9a" stroke-width="0.4"/>
<text x="617" y="566.6" text-anchor="end" style="font-family:'Liberation Sans',Arial,sans-serif;font-size:10.6px" fill="#333">Trend 3</text>
<circle cx="626.4" cy="562.6" r="3.9" fill="#6db67e" stroke="#b8b8a0" stroke-width="0.4"/>
<circle cx="653.4" cy="562.6" r="3.9" fill="#98999b" stroke="#9a9a9a" stroke-width="0.4"/>
<text x="617" y="582.6" text-anchor="end" style="font-family:'Liberation Sans',Arial,sans-serif;font-size:10.6px" fill="#333">Trend 4</text>
<circle cx="626.4" cy="578.6" r="3.9" fill="#22a05a" stroke="#b8b8a0" stroke-width="0.4"/>
<circle cx="653.4" cy="578.6" r="3.9" fill="#808083" stroke="#9a9a9a" stroke-width="0.4"/>
<text x="617" y="598.6" text-anchor="end" style="font-family:'Liberation Sans',Arial,sans-serif;font-size:10.6px" fill="#333">Trend 5</text>
<circle cx="626.4" cy="594.6" r="3.9" fill="#0b4a27" stroke="#b8b8a0" stroke-width="0.4"/>
<circle cx="653.4" cy="594.6" r="3.9" fill="#79797c" stroke="#9a9a9a" stroke-width="0.4"/>
<path d="M35,647C37.5,648.8 45.8,655 50,658C54.2,661 56.3,663.2 60,665C63.7,666.8 68,668.8 72,669C76,669.2 79.3,667.7 84,666C88.7,664.3 94.8,661 100,659C105.2,657 110.6,655.4 115,654C119.4,652.6 124.7,651.2 126.6,650.6L126.6,690.6C124.7,691.2 119.4,692.6 115,694C110.6,695.4 105.2,697 100,699C94.8,701 88.7,704.3 84,706C79.3,707.7 76,709.2 72,709C68,708.8 63.7,706.8 60,705C56.3,703.2 54.2,701 50,698C45.8,695 37.5,688.8 35,687Z" fill="#cd8ab9" fill-opacity="0.3"/>
<path d="M35,648C37.5,649.7 45.8,655.2 50,658C54.2,660.8 56.3,663.2 60,665C63.7,666.8 68,668.5 72,669C76,669.5 80,668.6 84,668C88,667.4 91.7,665.6 96,665.6C100.3,665.6 104.9,666.3 110,668C115.1,669.7 123.8,674.3 126.6,675.6L126.6,715.6C123.8,714.3 115.1,709.7 110,708C104.9,706.3 100.3,705.6 96,705.6C91.7,705.6 88,707.4 84,708C80,708.6 76,709.5 72,709C68,708.5 63.7,706.8 60,705C56.3,703.2 54.2,700.8 50,698C45.8,695.2 37.5,689.7 35,688Z" fill="#f9af6d" fill-opacity="0.36"/>
<path d="M35,667C37.5,668.8 45.8,675 50,678C54.2,681 56.3,683.2 60,685C63.7,686.8 68,688.8 72,689C76,689.2 79.3,687.7 84,686C88.7,684.3 94.8,681 100,679C105.2,677 110.6,675.4 115,674C119.4,672.6 124.7,671.2 126.6,670.6" fill="none" stroke="#c860b0" stroke-width="1.15"/>
<path d="M35,668C37.5,669.7 45.8,675.2 50,678C54.2,680.8 56.3,683.2 60,685C63.7,686.8 68,688.5 72,689C76,689.5 80,688.6 84,688C88,687.4 91.7,685.6 96,685.6C100.3,685.6 104.9,686.3 110,688C115.1,689.7 123.8,694.3 126.6,695.6" fill="none" stroke="#ee7a2a" stroke-width="1.35"/>
<path d="M31.4,644V718.4H131" fill="none" stroke="#7a7a7a" stroke-width="0.9"/>
<text x="50.5" y="641" textLength="61" lengthAdjust="spacingAndGlyphs" style="font-family:'Liberation Sans',Arial,sans-serif;font-size:10.8px" fill="#333"><tspan style="font-style:italic">BHLHE40</tspan> (+)</text>
<path d="M139.4,647C141.2,648.4 146.1,652.5 150,655.5C153.9,658.5 158.8,662.2 163,665C167.2,667.8 170.3,671.5 175,672C179.7,672.5 185.2,669.3 191,668C196.8,666.7 203.4,665.3 210,664C216.6,662.7 227.2,660.7 230.6,660L230.6,688C227.2,688.7 216.6,690.7 210,692C203.4,693.3 196.8,694.7 191,696C185.2,697.3 179.7,700.5 175,700C170.3,699.5 167.2,695.8 163,693C158.8,690.2 153.9,686.5 150,683.5C146.1,680.5 141.2,676.4 139.4,675Z" fill="#cd8ab9" fill-opacity="0.3"/>
<path d="M139.4,648C141.2,649.3 146.1,653 150,656C153.9,659 158.8,663.2 163,666C167.2,668.8 170.3,671.8 175,673C179.7,674.2 186,672.5 191,673C196,673.5 201,675.2 205,676C209,676.8 210.7,676.1 215,678C219.3,679.9 228,686 230.6,687.6L230.6,715.6C228,714 219.3,707.9 215,706C210.7,704.1 209,704.8 205,704C201,703.2 196,701.5 191,701C186,700.5 179.7,702.2 175,701C170.3,699.8 167.2,696.8 163,694C158.8,691.2 153.9,687 150,684C146.1,681 141.2,677.3 139.4,676Z" fill="#f9af6d" fill-opacity="0.36"/>
<path d="M139.4,661C141.2,662.4 146.1,666.5 150,669.5C153.9,672.5 158.8,676.2 163,679C167.2,681.8 170.3,685.5 175,686C179.7,686.5 185.2,683.3 191,682C196.8,680.7 203.4,679.3 210,678C216.6,676.7 227.2,674.7 230.6,674" fill="none" stroke="#c860b0" stroke-width="1.15"/>
<path d="M139.4,662C141.2,663.3 146.1,667 150,670C153.9,673 158.8,677.2 163,680C167.2,682.8 170.3,685.8 175,687C179.7,688.2 186,686.5 191,687C196,687.5 201,689.2 205,690C209,690.8 210.7,690.1 215,692C219.3,693.9 228,700 230.6,701.6" fill="none" stroke="#ee7a2a" stroke-width="1.35"/>
<path d="M135.4,644V718.4H235" fill="none" stroke="#7a7a7a" stroke-width="0.9"/>
<text x="168.9" y="641" textLength="36.5" lengthAdjust="spacingAndGlyphs" style="font-family:'Liberation Sans',Arial,sans-serif;font-size:10.8px" fill="#333"><tspan style="font-style:italic">IRF8</tspan> (+)</text>
<path d="M243,647C245.8,649.5 254.2,657.8 260,662C265.8,666.2 272,671.5 278,672C284,672.5 289.8,667.5 296,665C302.2,662.5 308.7,659.5 315,657C321.3,654.5 330.8,651.2 334,650L334,686C330.8,687.2 321.3,690.5 315,693C308.7,695.5 302.2,698.5 296,701C289.8,703.5 284,708.5 278,708C272,707.5 265.8,702.2 260,698C254.2,693.8 245.8,685.5 243,683Z" fill="#cd8ab9" fill-opacity="0.3"/>
<path d="M243,648C245.8,650.3 254.2,657.8 260,662C265.8,666.2 272.7,671.7 278,673C283.3,674.3 287.3,671 292,670C296.7,669 301.3,666.8 306,667C310.7,667.2 315.3,669 320,671C324.7,673 331.7,677.7 334,679L334,715C331.7,713.7 324.7,709 320,707C315.3,705 310.7,703.2 306,703C301.3,702.8 296.7,705 292,706C287.3,707 283.3,710.3 278,709C272.7,707.7 265.8,702.2 260,698C254.2,693.8 245.8,686.3 243,684Z" fill="#f9af6d" fill-opacity="0.36"/>
<path d="M243,665C245.8,667.5 254.2,675.8 260,680C265.8,684.2 272,689.5 278,690C284,690.5 289.8,685.5 296,683C302.2,680.5 308.7,677.5 315,675C321.3,672.5 330.8,669.2 334,668" fill="none" stroke="#c860b0" stroke-width="1.15"/>
<path d="M243,666C245.8,668.3 254.2,675.8 260,680C265.8,684.2 272.7,689.7 278,691C283.3,692.3 287.3,689 292,688C296.7,687 301.3,684.8 306,685C310.7,685.2 315.3,687 320,689C324.7,691 331.7,695.7 334,697" fill="none" stroke="#ee7a2a" stroke-width="1.35"/>
<path d="M239.4,644V718.4H339" fill="none" stroke="#7a7a7a" stroke-width="0.9"/>
<text x="270.6" y="641" textLength="43.5" lengthAdjust="spacingAndGlyphs" style="font-family:'Liberation Sans',Arial,sans-serif;font-size:10.8px" fill="#333"><tspan style="font-style:italic">DDIT3</tspan> (+)</text>
<path d="M347.4,686C348.8,684.2 353.1,678.2 356,675C358.9,671.8 361.8,669.3 365,667C368.2,664.7 371.7,662.5 375,661C378.3,659.5 381.2,658.2 385,658C388.8,657.8 393.7,659.2 398,660C402.3,660.8 406.5,662.1 411,663C415.5,663.9 420.5,664.8 425,665.5C429.5,666.2 435.8,667.1 438,667.4L438,697.4C435.8,697.1 429.5,696.2 425,695.5C420.5,694.8 415.5,693.9 411,693C406.5,692.1 402.3,690.8 398,690C393.7,689.2 388.8,687.8 385,688C381.2,688.2 378.3,689.5 375,691C371.7,692.5 368.2,694.7 365,697C361.8,699.3 358.9,701.8 356,705C353.1,708.2 348.8,714.2 347.4,716Z" fill="#cd8ab9" fill-opacity="0.3"/>
<path d="M347.4,686C348.8,684.2 353.1,678.2 356,675C358.9,671.8 361.8,669.5 365,667C368.2,664.5 371.7,661.8 375,660C378.3,658.2 381.7,656.6 385,656C388.3,655.4 391.7,656.3 395,656.5C398.3,656.7 401.7,657.1 405,657C408.3,656.9 411.7,656.5 415,656C418.3,655.5 421.2,655.4 425,654C428.8,652.6 435.8,648.5 438,647.4L438,677.4C435.8,678.5 428.8,682.6 425,684C421.2,685.4 418.3,685.5 415,686C411.7,686.5 408.3,686.9 405,687C401.7,687.1 398.3,686.7 395,686.5C391.7,686.3 388.3,685.4 385,686C381.7,686.6 378.3,688.2 375,690C371.7,691.8 368.2,694.5 365,697C361.8,699.5 358.9,701.8 356,705C353.1,708.2 348.8,714.2 347.4,716Z" fill="#f9af6d" fill-opacity="0.36"/>
<path d="M347.4,701C348.8,699.2 353.1,693.2 356,690C358.9,686.8 361.8,684.3 365,682C368.2,679.7 371.7,677.5 375,676C378.3,674.5 381.2,673.2 385,673C388.8,672.8 393.7,674.2 398,675C402.3,675.8 406.5,677.1 411,678C415.5,678.9 420.5,679.8 425,680.5C429.5,681.2 435.8,682.1 438,682.4" fill="none" stroke="#c860b0" stroke-width="1.15"/>
<path d="M347.4,701C348.8,699.2 353.1,693.2 356,690C358.9,686.8 361.8,684.5 365,682C368.2,679.5 371.7,676.8 375,675C378.3,673.2 381.7,671.6 385,671C388.3,670.4 391.7,671.3 395,671.5C398.3,671.7 401.7,672.1 405,672C408.3,671.9 411.7,671.5 415,671C418.3,670.5 421.2,670.4 425,669C428.8,667.6 435.8,663.5 438,662.4" fill="none" stroke="#ee7a2a" stroke-width="1.35"/>
<path d="M343.4,644V718.4H443" fill="none" stroke="#7a7a7a" stroke-width="0.9"/>
<text x="378.5" y="641" textLength="36" lengthAdjust="spacingAndGlyphs" style="font-family:'Liberation Sans',Arial,sans-serif;font-size:10.8px" fill="#333"><tspan style="font-style:italic">MAF</tspan> (+)</text>
<path d="M450.4,689.4C452,687.3 456.7,680.7 460,677C463.3,673.3 465.8,670.3 470,667C474.2,663.7 480,659.7 485,657C490,654.3 496.2,651.8 500,651C503.8,650.2 505.3,651 508,652C510.7,653 512.3,654.5 516,657C519.7,659.5 525.7,663.2 530,667C534.3,670.8 540,677.8 542,680L542,706C540,703.8 534.3,696.8 530,693C525.7,689.2 519.7,685.5 516,683C512.3,680.5 510.7,679 508,678C505.3,677 503.8,676.2 500,677C496.2,677.8 490,680.3 485,683C480,685.7 474.2,689.7 470,693C465.8,696.3 463.3,699.3 460,703C456.7,706.7 452,713.3 450.4,715.4Z" fill="#cd8ab9" fill-opacity="0.3"/>
<path d="M450.4,689.4C452,687.3 456.7,680.7 460,677C463.3,673.3 465.8,670.2 470,667C474.2,663.8 480,660.5 485,658C490,655.5 494.2,653.4 500,652C505.8,650.6 513,650.3 520,649.5C527,648.7 538.3,647.8 542,647.4L542,673.4C538.3,673.8 527,674.7 520,675.5C513,676.3 505.8,676.6 500,678C494.2,679.4 490,681.5 485,684C480,686.5 474.2,689.8 470,693C465.8,696.2 463.3,699.3 460,703C456.7,706.7 452,713.3 450.4,715.4Z" fill="#f9af6d" fill-opacity="0.36"/>
<path d="M450.4,702.4C452,700.3 456.7,693.7 460,690C463.3,686.3 465.8,683.3 470,680C474.2,676.7 480,672.7 485,670C490,667.3 496.2,664.8 500,664C503.8,663.2 505.3,664 508,665C510.7,666 512.3,667.5 516,670C519.7,672.5 525.7,676.2 530,680C534.3,683.8 540,690.8 542,693" fill="none" stroke="#c860b0" stroke-width="1.15"/>
<path d="M450.4,702.4C452,700.3 456.7,693.7 460,690C463.3,686.3 465.8,683.2 470,680C474.2,676.8 480,673.5 485,671C490,668.5 494.2,666.4 500,665C505.8,663.6 513,663.3 520,662.5C527,661.7 538.3,660.8 542,660.4" fill="none" stroke="#ee7a2a" stroke-width="1.35"/>
<path d="M446.6,644V718.4H546.2" fill="none" stroke="#7a7a7a" stroke-width="0.9"/>
<text x="480.5" y="641" textLength="39" lengthAdjust="spacingAndGlyphs" style="font-family:'Liberation Sans',Arial,sans-serif;font-size:10.8px" fill="#333"><tspan style="font-style:italic">BATF</tspan> (+)</text>
<path d="M554.4,686.6C556.2,684.2 561.1,676.6 565,672C568.9,667.4 573.3,662.7 578,659C582.7,655.3 588,652.2 593,650C598,647.8 603.5,646.3 608,646C612.5,645.7 616,646.7 620,648C624,649.3 627.7,650.8 632,654C636.3,657.2 643.7,664.8 646,667L646,697C643.7,694.8 636.3,687.2 632,684C627.7,680.8 624,679.3 620,678C616,676.7 612.5,675.7 608,676C603.5,676.3 598,677.8 593,680C588,682.2 582.7,685.3 578,689C573.3,692.7 568.9,697.4 565,702C561.1,706.6 556.2,714.2 554.4,716.6Z" fill="#cd8ab9" fill-opacity="0.3"/>
<path d="M554.4,686.6C556.2,684.2 561.1,676.6 565,672C568.9,667.4 573.3,662.7 578,659C582.7,655.3 588,652.2 593,650C598,647.8 603.5,646.6 608,646C612.5,645.4 616.7,646.2 620,646.5C623.3,646.8 623.7,646.8 628,648C632.3,649.2 643,653 646,654L646,684C643,683 632.3,679.2 628,678C623.7,676.8 623.3,676.8 620,676.5C616.7,676.2 612.5,675.4 608,676C603.5,676.6 598,677.8 593,680C588,682.2 582.7,685.3 578,689C573.3,692.7 568.9,697.4 565,702C561.1,706.6 556.2,714.2 554.4,716.6Z" fill="#f9af6d" fill-opacity="0.36"/>
<path d="M554.4,701.6C556.2,699.2 561.1,691.6 565,687C568.9,682.4 573.3,677.7 578,674C582.7,670.3 588,667.2 593,665C598,662.8 603.5,661.3 608,661C612.5,660.7 616,661.7 620,663C624,664.3 627.7,665.8 632,669C636.3,672.2 643.7,679.8 646,682" fill="none" stroke="#c860b0" stroke-width="1.15"/>
<path d="M554.4,701.6C556.2,699.2 561.1,691.6 565,687C568.9,682.4 573.3,677.7 578,674C582.7,670.3 588,667.2 593,665C598,662.8 603.5,661.6 608,661C612.5,660.4 616.7,661.2 620,661.5C623.3,661.8 623.7,661.8 628,663C632.3,664.2 643,668 646,669" fill="none" stroke="#ee7a2a" stroke-width="1.35"/>
<path d="M550.4,644V718.4H650" fill="none" stroke="#7a7a7a" stroke-width="0.9"/>
<text x="580.5" y="641" textLength="47" lengthAdjust="spacingAndGlyphs" style="font-family:'Liberation Sans',Arial,sans-serif;font-size:10.8px" fill="#333"><tspan style="font-style:italic">PRDM1</tspan> (+)</text>
<text transform="translate(20.4,688) rotate(-90)" text-anchor="middle" style="font-family:'Liberation Sans',Arial,sans-serif;font-size:10.6px" fill="#333">Gene expression</text>
<path d="M26.6,724V688 M26.6,724H63" fill="none" stroke="#3e5473" stroke-width="1"/><path d="M24.4,689 L26.6,684 L28.8,689Z M62,721.8 L67.4,724 L62,726.2Z" fill="#3e5473"/>
<text x="29.4" y="736.4" style="font-family:'Liberation Sans',Arial,sans-serif;font-size:10.5px" fill="#333">Pseudotime</text>
<text x="252.4" y="737.6" style="font-family:'Liberation Sans',Arial,sans-serif;font-size:10.6px" fill="#333">Fate</text>
<line x1="285" y1="734" x2="294.4" y2="734" stroke="#d88ac0" stroke-width="1.2"/>
<text x="300.4" y="737.6" style="font-family:'Liberation Sans',Arial,sans-serif;font-size:10.8px" fill="#333">Conventional</text>
<line x1="380.6" y1="734" x2="390" y2="734" stroke="#f0a070" stroke-width="1.2"/>
<text x="397" y="737.6" style="font-family:'Liberation Sans',Arial,sans-serif;font-size:10.8px" fill="#333">Adaptive</text></svg></body></html>
